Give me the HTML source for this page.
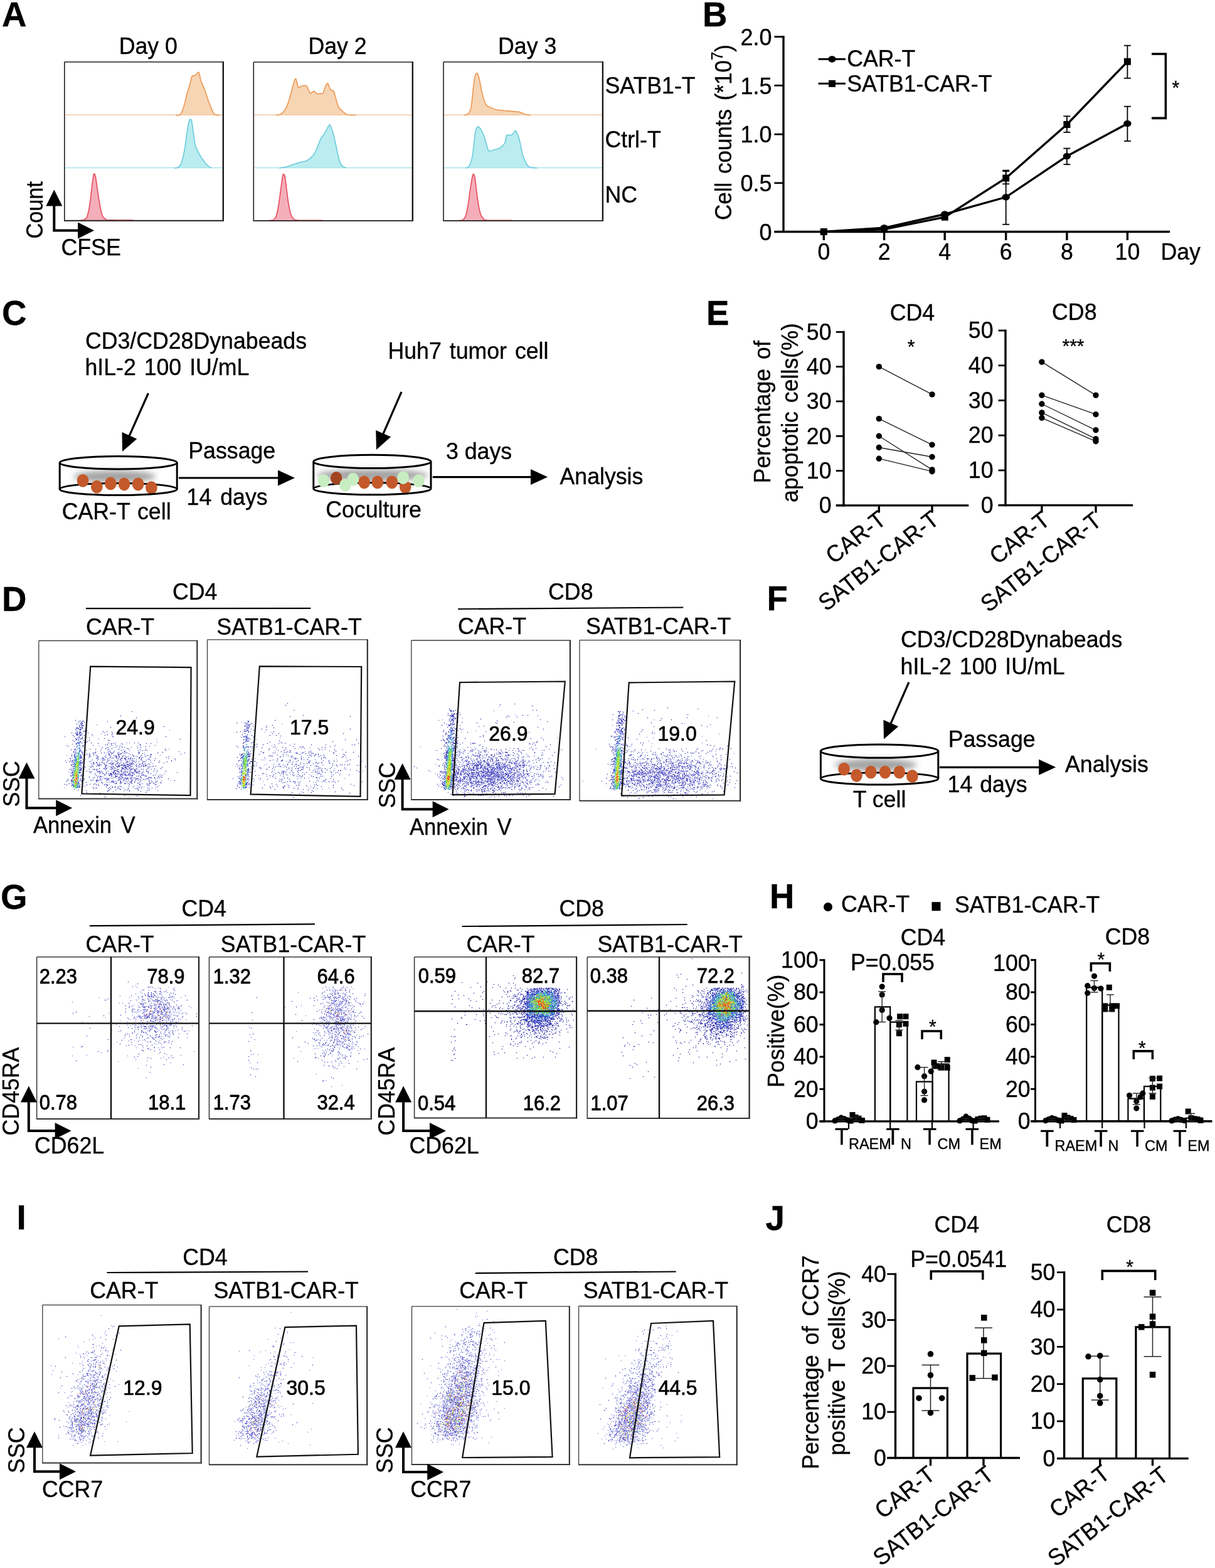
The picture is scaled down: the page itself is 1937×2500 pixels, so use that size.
<!DOCTYPE html>
<html><head><meta charset="utf-8"><title>Figure</title>
<style>
html,body{margin:0;padding:0;background:#fff;}
body{width:1937px;height:2500px;overflow:hidden;}
svg{display:block;}
text{font-family:"Liberation Sans", Arial, sans-serif;stroke:#000;stroke-width:0.35px;}
</style></head>
<body>
<svg width="1937" height="2500" viewBox="0 0 1937 2500">
<defs><filter id="blur6" x="-50%" y="-100%" width="200%" height="300%"><feGaussianBlur stdDeviation="5"/></filter></defs>
<rect width="1937" height="2500" fill="#fff"/>
<text transform="translate(3,42.1) scale(1.03,1.05)" font-weight="700" font-size="53">A</text>
<path d="M280,183.6 L280.0,183.6 L281.0,183.6 L282.4,183.8 L284.1,183.8 L285.7,183.5 L287.2,182.5 L288.5,180.8 L289.7,178.7 L290.8,176.1 L291.9,173.2 L293.0,170.0 L294.1,166.4 L295.1,162.3 L296.1,158.0 L297.0,153.8 L298.0,150.0 L299.0,146.6 L299.9,143.5 L300.9,140.6 L301.8,137.8 L302.6,135.0 L303.4,132.1 L304.1,129.1 L304.7,126.3 L305.4,123.8 L306.0,122.0 L306.6,121.0 L307.2,120.7 L307.8,120.7 L308.4,120.9 L309.0,120.8 L309.6,120.6 L310.1,120.4 L310.7,120.2 L311.3,120.0 L312.0,119.5 L312.8,118.7 L313.7,117.5 L314.7,116.3 L315.6,115.4 L316.3,115.1 L316.9,115.6 L317.4,116.6 L317.7,118.0 L318.1,119.5 L318.5,121.0 L318.9,122.4 L319.2,124.0 L319.5,125.6 L319.8,127.2 L320.3,128.8 L320.9,130.4 L321.6,132.0 L322.3,133.6 L323.1,135.3 L323.9,137.1 L324.7,139.1 L325.5,141.2 L326.3,143.4 L327.2,145.7 L328.0,148.0 L328.8,150.5 L329.7,153.1 L330.5,155.8 L331.4,158.4 L332.2,160.8 L333.0,162.9 L333.7,164.9 L334.5,166.8 L335.2,168.6 L336.0,170.5 L336.9,172.6 L337.8,174.8 L338.7,176.9 L339.6,178.8 L340.4,180.3 L341.1,181.3 L341.8,182.0 L342.4,182.4 L343.1,182.7 L344.0,183.0 L345.1,183.3 L346.5,183.4 L347.9,183.5 L349.1,183.6 L350.0,183.6 L350,183.6 Z" stroke="#000" stroke-width="0" fill="#F6D5B4"/>
<line x1="103.8" y1="183.3" x2="354.8" y2="183.3" stroke="#F3C9A2" stroke-width="1.6"/>
<path d="M280.0,183.6 L280.0,183.6 L281.0,183.6 L282.4,183.8 L284.1,183.8 L285.7,183.5 L287.2,182.5 L288.5,180.8 L289.7,178.7 L290.8,176.1 L291.9,173.2 L293.0,170.0 L294.1,166.4 L295.1,162.3 L296.1,158.0 L297.0,153.8 L298.0,150.0 L299.0,146.6 L299.9,143.5 L300.9,140.6 L301.8,137.8 L302.6,135.0 L303.4,132.1 L304.1,129.1 L304.7,126.3 L305.4,123.8 L306.0,122.0 L306.6,121.0 L307.2,120.7 L307.8,120.7 L308.4,120.9 L309.0,120.8 L309.6,120.6 L310.1,120.4 L310.7,120.2 L311.3,120.0 L312.0,119.5 L312.8,118.7 L313.7,117.5 L314.7,116.3 L315.6,115.4 L316.3,115.1 L316.9,115.6 L317.4,116.6 L317.7,118.0 L318.1,119.5 L318.5,121.0 L318.9,122.4 L319.2,124.0 L319.5,125.6 L319.8,127.2 L320.3,128.8 L320.9,130.4 L321.6,132.0 L322.3,133.6 L323.1,135.3 L323.9,137.1 L324.7,139.1 L325.5,141.2 L326.3,143.4 L327.2,145.7 L328.0,148.0 L328.8,150.5 L329.7,153.1 L330.5,155.8 L331.4,158.4 L332.2,160.8 L333.0,162.9 L333.7,164.9 L334.5,166.8 L335.2,168.6 L336.0,170.5 L336.9,172.6 L337.8,174.8 L338.7,176.9 L339.6,178.8 L340.4,180.3 L341.1,181.3 L341.8,182.0 L342.4,182.4 L343.1,182.7 L344.0,183.0 L345.1,183.3 L346.5,183.4 L347.9,183.5 L349.1,183.6 L350.0,183.6" stroke="#EC9A56" stroke-width="1.7" fill="none" stroke-linejoin="round"/>
<path d="M278,267.8 L278.0,267.8 L278.8,267.8 L279.9,267.8 L281.2,267.7 L282.5,267.4 L283.7,266.8 L284.8,266.0 L285.9,265.1 L286.9,263.9 L288.0,262.3 L289.0,260.0 L290.0,257.0 L291.1,253.3 L292.1,249.2 L293.1,244.7 L294.0,240.0 L294.9,234.7 L295.7,228.8 L296.5,222.8 L297.3,217.0 L298.0,212.0 L298.7,207.7 L299.3,203.8 L299.9,200.4 L300.5,197.4 L301.0,195.0 L301.5,193.2 L301.9,191.9 L302.3,191.1 L302.7,190.6 L303.1,190.3 L303.6,190.1 L304.0,190.2 L304.5,190.5 L305.0,191.4 L305.5,193.0 L306.0,195.4 L306.5,198.6 L307.0,202.3 L307.5,206.2 L308.0,210.0 L308.6,214.0 L309.2,218.4 L309.8,222.7 L310.4,226.7 L311.0,230.0 L311.6,232.4 L312.2,234.1 L312.7,235.4 L313.3,236.6 L314.0,238.0 L314.7,239.6 L315.5,241.2 L316.3,242.7 L317.1,244.3 L318.0,245.9 L318.9,247.5 L319.9,249.2 L320.9,250.8 L321.9,252.4 L323.0,254.0 L324.1,255.5 L325.3,257.1 L326.4,258.6 L327.5,260.0 L328.6,261.2 L329.6,262.3 L330.5,263.2 L331.3,264.1 L332.2,264.8 L333.0,265.5 L333.9,266.1 L334.8,266.7 L335.7,267.1 L336.5,267.5 L337.0,267.8 L337,267.8 Z" stroke="#000" stroke-width="0" fill="#BAECF0"/>
<line x1="103.8" y1="267.5" x2="354.8" y2="267.5" stroke="#A9E3EC" stroke-width="1.6"/>
<path d="M278.0,267.8 L278.0,267.8 L278.8,267.8 L279.9,267.8 L281.2,267.7 L282.5,267.4 L283.7,266.8 L284.8,266.0 L285.9,265.1 L286.9,263.9 L288.0,262.3 L289.0,260.0 L290.0,257.0 L291.1,253.3 L292.1,249.2 L293.1,244.7 L294.0,240.0 L294.9,234.7 L295.7,228.8 L296.5,222.8 L297.3,217.0 L298.0,212.0 L298.7,207.7 L299.3,203.8 L299.9,200.4 L300.5,197.4 L301.0,195.0 L301.5,193.2 L301.9,191.9 L302.3,191.1 L302.7,190.6 L303.1,190.3 L303.6,190.1 L304.0,190.2 L304.5,190.5 L305.0,191.4 L305.5,193.0 L306.0,195.4 L306.5,198.6 L307.0,202.3 L307.5,206.2 L308.0,210.0 L308.6,214.0 L309.2,218.4 L309.8,222.7 L310.4,226.7 L311.0,230.0 L311.6,232.4 L312.2,234.1 L312.7,235.4 L313.3,236.6 L314.0,238.0 L314.7,239.6 L315.5,241.2 L316.3,242.7 L317.1,244.3 L318.0,245.9 L318.9,247.5 L319.9,249.2 L320.9,250.8 L321.9,252.4 L323.0,254.0 L324.1,255.5 L325.3,257.1 L326.4,258.6 L327.5,260.0 L328.6,261.2 L329.6,262.3 L330.5,263.2 L331.3,264.1 L332.2,264.8 L333.0,265.5 L333.9,266.1 L334.8,266.7 L335.7,267.1 L336.5,267.5 L337.0,267.8" stroke="#6FCDDC" stroke-width="1.7" fill="none" stroke-linejoin="round"/>
<path d="M128,351.3 L128.0,351.3 L128.6,351.3 L129.5,351.2 L130.5,351.2 L131.5,351.0 L132.4,350.8 L133.3,350.5 L134.2,350.0 L135.0,349.5 L135.8,349.0 L136.5,348.5 L137.0,348.1 L137.4,347.9 L137.8,347.6 L138.2,347.0 L138.6,346.0 L139.1,344.5 L139.7,342.6 L140.3,340.3 L140.9,337.8 L141.5,335.0 L142.1,331.8 L142.7,328.1 L143.3,324.3 L143.9,320.3 L144.4,316.5 L144.8,312.8 L145.2,309.0 L145.6,305.3 L146.0,301.6 L146.4,298.0 L146.9,294.2 L147.4,290.3 L148.0,286.6 L148.5,283.3 L148.9,280.7 L149.2,279.0 L149.4,277.8 L149.6,277.2 L149.8,277.0 L150.1,277.0 L150.5,277.2 L150.9,277.6 L151.3,278.4 L151.7,279.7 L152.2,281.5 L152.7,284.0 L153.2,287.1 L153.7,290.7 L154.2,294.4 L154.7,298.0 L155.2,301.6 L155.8,305.3 L156.3,309.0 L156.9,312.8 L157.5,316.5 L158.1,320.3 L158.8,324.3 L159.5,328.2 L160.1,331.8 L160.8,335.0 L161.4,337.7 L162.1,340.0 L162.7,342.0 L163.4,343.8 L164.1,345.3 L164.9,346.5 L165.7,347.3 L166.5,348.0 L167.4,348.5 L168.3,349.0 L168.8,349.5 L168.8,349.9 L169.0,350.3 L170.4,350.6 L173.6,350.8 L179.8,350.9 L188.4,351.0 L197.8,351.0 L206.2,351.0 L212.0,351.0 L212,351.3 Z" stroke="#000" stroke-width="0" fill="#F4AEB9"/>
<path d="M128.0,351.3 L128.0,351.3 L128.6,351.3 L129.5,351.2 L130.5,351.2 L131.5,351.0 L132.4,350.8 L133.3,350.5 L134.2,350.0 L135.0,349.5 L135.8,349.0 L136.5,348.5 L137.0,348.1 L137.4,347.9 L137.8,347.6 L138.2,347.0 L138.6,346.0 L139.1,344.5 L139.7,342.6 L140.3,340.3 L140.9,337.8 L141.5,335.0 L142.1,331.8 L142.7,328.1 L143.3,324.3 L143.9,320.3 L144.4,316.5 L144.8,312.8 L145.2,309.0 L145.6,305.3 L146.0,301.6 L146.4,298.0 L146.9,294.2 L147.4,290.3 L148.0,286.6 L148.5,283.3 L148.9,280.7 L149.2,279.0 L149.4,277.8 L149.6,277.2 L149.8,277.0 L150.1,277.0 L150.5,277.2 L150.9,277.6 L151.3,278.4 L151.7,279.7 L152.2,281.5 L152.7,284.0 L153.2,287.1 L153.7,290.7 L154.2,294.4 L154.7,298.0 L155.2,301.6 L155.8,305.3 L156.3,309.0 L156.9,312.8 L157.5,316.5 L158.1,320.3 L158.8,324.3 L159.5,328.2 L160.1,331.8 L160.8,335.0 L161.4,337.7 L162.1,340.0 L162.7,342.0 L163.4,343.8 L164.1,345.3 L164.9,346.5 L165.7,347.3 L166.5,348.0 L167.4,348.5 L168.3,349.0 L168.8,349.5 L168.8,349.9 L169.0,350.3 L170.4,350.6 L173.6,350.8 L179.8,350.9 L188.4,351.0 L197.8,351.0 L206.2,351.0 L212.0,351.0" stroke="#E8505F" stroke-width="1.7" fill="none" stroke-linejoin="round"/>
<path d="M440,183.6 L440.0,183.6 L440.8,183.5 L442.0,183.4 L443.3,183.2 L444.7,183.0 L446.0,182.5 L447.2,181.9 L448.4,181.2 L449.6,180.4 L450.8,179.3 L452.0,178.0 L453.2,176.4 L454.4,174.6 L455.7,172.5 L456.9,170.2 L458.0,167.7 L459.1,164.9 L460.1,161.8 L461.1,158.5 L462.1,155.2 L463.0,152.0 L463.9,148.9 L464.7,145.8 L465.4,142.7 L466.2,139.8 L467.0,137.0 L467.8,134.2 L468.7,131.3 L469.5,128.7 L470.3,126.7 L471.0,125.6 L471.6,125.7 L472.1,126.8 L472.6,128.5 L473.0,130.3 L473.5,132.0 L474.0,133.6 L474.4,135.5 L474.8,137.3 L475.3,138.8 L475.7,139.8 L476.1,140.1 L476.5,139.9 L477.0,139.5 L477.4,138.9 L478.0,138.5 L478.7,138.2 L479.4,137.9 L480.2,137.5 L481.0,137.2 L481.7,137.0 L482.4,136.8 L483.0,136.7 L483.7,136.6 L484.3,136.5 L485.0,136.5 L485.7,136.4 L486.5,136.4 L487.3,136.4 L488.0,136.5 L488.7,137.0 L489.3,137.9 L489.9,139.0 L490.4,140.4 L490.9,141.7 L491.5,143.0 L492.1,144.3 L492.7,145.7 L493.4,147.0 L494.0,148.1 L494.7,148.7 L495.4,148.7 L496.0,148.3 L496.7,147.7 L497.4,147.0 L498.0,146.5 L498.6,146.2 L499.2,145.9 L499.8,145.7 L500.4,145.6 L501.0,145.7 L501.6,146.0 L502.2,146.4 L502.8,147.0 L503.4,147.5 L504.0,148.0 L504.5,148.5 L505.0,149.0 L505.5,149.4 L505.9,149.8 L506.5,150.0 L507.1,150.0 L507.8,149.8 L508.5,149.5 L509.2,149.2 L510.0,149.0 L510.9,149.0 L511.9,149.2 L512.9,149.4 L513.9,149.3 L514.8,148.7 L515.5,147.5 L516.2,145.7 L516.8,143.8 L517.3,141.8 L518.0,140.0 L518.7,138.3 L519.5,136.5 L520.3,134.9 L521.1,133.6 L521.8,132.9 L522.4,133.0 L523.0,133.7 L523.5,134.7 L524.0,135.9 L524.5,137.0 L524.9,138.1 L525.3,139.4 L525.7,140.7 L526.1,141.9 L526.6,142.8 L527.2,143.3 L527.9,143.6 L528.6,143.7 L529.4,143.8 L530.0,144.0 L530.6,144.3 L531.1,144.5 L531.5,144.9 L532.0,145.4 L532.5,146.4 L533.0,147.8 L533.4,149.5 L533.8,151.5 L534.4,153.7 L535.0,156.0 L535.8,158.6 L536.7,161.6 L537.6,164.7 L538.6,167.6 L539.6,170.0 L540.6,171.8 L541.7,173.3 L542.8,174.4 L543.9,175.5 L545.0,176.5 L546.0,177.5 L547.0,178.4 L548.0,179.1 L549.0,179.8 L550.0,180.5 L550.9,181.1 L551.7,181.7 L552.5,182.2 L553.6,182.6 L555.0,183.0 L557.1,183.3 L559.9,183.4 L562.7,183.5 L565.3,183.5 L567.0,183.6 L567,183.6 Z" stroke="#000" stroke-width="0" fill="#F6D5B4"/>
<line x1="405.3" y1="183.3" x2="656.8" y2="183.3" stroke="#F3C9A2" stroke-width="1.6"/>
<path d="M440.0,183.6 L440.0,183.6 L440.8,183.5 L442.0,183.4 L443.3,183.2 L444.7,183.0 L446.0,182.5 L447.2,181.9 L448.4,181.2 L449.6,180.4 L450.8,179.3 L452.0,178.0 L453.2,176.4 L454.4,174.6 L455.7,172.5 L456.9,170.2 L458.0,167.7 L459.1,164.9 L460.1,161.8 L461.1,158.5 L462.1,155.2 L463.0,152.0 L463.9,148.9 L464.7,145.8 L465.4,142.7 L466.2,139.8 L467.0,137.0 L467.8,134.2 L468.7,131.3 L469.5,128.7 L470.3,126.7 L471.0,125.6 L471.6,125.7 L472.1,126.8 L472.6,128.5 L473.0,130.3 L473.5,132.0 L474.0,133.6 L474.4,135.5 L474.8,137.3 L475.3,138.8 L475.7,139.8 L476.1,140.1 L476.5,139.9 L477.0,139.5 L477.4,138.9 L478.0,138.5 L478.7,138.2 L479.4,137.9 L480.2,137.5 L481.0,137.2 L481.7,137.0 L482.4,136.8 L483.0,136.7 L483.7,136.6 L484.3,136.5 L485.0,136.5 L485.7,136.4 L486.5,136.4 L487.3,136.4 L488.0,136.5 L488.7,137.0 L489.3,137.9 L489.9,139.0 L490.4,140.4 L490.9,141.7 L491.5,143.0 L492.1,144.3 L492.7,145.7 L493.4,147.0 L494.0,148.1 L494.7,148.7 L495.4,148.7 L496.0,148.3 L496.7,147.7 L497.4,147.0 L498.0,146.5 L498.6,146.2 L499.2,145.9 L499.8,145.7 L500.4,145.6 L501.0,145.7 L501.6,146.0 L502.2,146.4 L502.8,147.0 L503.4,147.5 L504.0,148.0 L504.5,148.5 L505.0,149.0 L505.5,149.4 L505.9,149.8 L506.5,150.0 L507.1,150.0 L507.8,149.8 L508.5,149.5 L509.2,149.2 L510.0,149.0 L510.9,149.0 L511.9,149.2 L512.9,149.4 L513.9,149.3 L514.8,148.7 L515.5,147.5 L516.2,145.7 L516.8,143.8 L517.3,141.8 L518.0,140.0 L518.7,138.3 L519.5,136.5 L520.3,134.9 L521.1,133.6 L521.8,132.9 L522.4,133.0 L523.0,133.7 L523.5,134.7 L524.0,135.9 L524.5,137.0 L524.9,138.1 L525.3,139.4 L525.7,140.7 L526.1,141.9 L526.6,142.8 L527.2,143.3 L527.9,143.6 L528.6,143.7 L529.4,143.8 L530.0,144.0 L530.6,144.3 L531.1,144.5 L531.5,144.9 L532.0,145.4 L532.5,146.4 L533.0,147.8 L533.4,149.5 L533.8,151.5 L534.4,153.7 L535.0,156.0 L535.8,158.6 L536.7,161.6 L537.6,164.7 L538.6,167.6 L539.6,170.0 L540.6,171.8 L541.7,173.3 L542.8,174.4 L543.9,175.5 L545.0,176.5 L546.0,177.5 L547.0,178.4 L548.0,179.1 L549.0,179.8 L550.0,180.5 L550.9,181.1 L551.7,181.7 L552.5,182.2 L553.6,182.6 L555.0,183.0 L557.1,183.3 L559.9,183.4 L562.7,183.5 L565.3,183.5 L567.0,183.6" stroke="#EC9A56" stroke-width="1.7" fill="none" stroke-linejoin="round"/>
<path d="M445,267.8 L445.0,267.8 L446.4,267.7 L448.3,267.5 L450.5,267.2 L452.8,266.9 L455.0,266.5 L457.0,265.9 L459.0,265.2 L461.0,264.5 L463.0,263.7 L465.0,263.0 L467.0,262.3 L469.0,261.7 L470.9,261.0 L472.8,260.4 L474.6,259.9 L476.2,259.4 L477.8,259.0 L479.2,258.7 L480.6,258.3 L482.0,258.0 L483.4,257.7 L484.7,257.4 L486.1,257.2 L487.4,256.8 L488.7,256.3 L490.0,255.6 L491.3,254.9 L492.5,254.0 L493.8,253.0 L495.0,252.0 L496.2,250.9 L497.3,249.7 L498.5,248.5 L499.6,247.1 L500.6,245.7 L501.5,244.2 L502.4,242.6 L503.3,240.9 L504.1,239.0 L505.0,237.0 L506.0,234.6 L507.1,231.9 L508.1,229.1 L509.1,226.6 L510.0,224.4 L510.7,222.8 L511.3,221.4 L511.9,220.4 L512.4,219.4 L513.0,218.5 L513.6,217.7 L514.2,217.1 L514.7,216.5 L515.3,215.9 L516.0,215.0 L516.8,213.8 L517.6,212.4 L518.4,210.9 L519.2,209.4 L520.0,208.0 L520.7,206.7 L521.3,205.4 L521.9,204.1 L522.5,203.0 L523.0,202.0 L523.5,201.1 L524.0,200.3 L524.5,199.6 L524.9,199.1 L525.4,198.9 L525.8,199.1 L526.2,199.5 L526.6,200.2 L527.1,201.0 L527.5,202.0 L528.0,203.1 L528.4,204.3 L528.9,205.7 L529.5,207.3 L530.0,209.0 L530.6,210.9 L531.2,213.0 L531.8,215.2 L532.4,217.6 L533.0,220.0 L533.6,222.6 L534.2,225.2 L534.8,228.0 L535.4,230.9 L536.0,233.9 L536.7,237.1 L537.4,240.4 L538.1,243.8 L538.8,247.1 L539.5,250.0 L540.2,252.6 L540.9,255.1 L541.6,257.3 L542.4,259.3 L543.1,261.0 L543.8,262.4 L544.6,263.4 L545.3,264.2 L546.1,264.8 L547.0,265.5 L548.0,266.1 L549.2,266.7 L550.3,267.2 L551.3,267.5 L552.0,267.8 L552,267.8 Z" stroke="#000" stroke-width="0" fill="#BAECF0"/>
<line x1="405.3" y1="267.5" x2="656.8" y2="267.5" stroke="#A9E3EC" stroke-width="1.6"/>
<path d="M445.0,267.8 L445.0,267.8 L446.4,267.7 L448.3,267.5 L450.5,267.2 L452.8,266.9 L455.0,266.5 L457.0,265.9 L459.0,265.2 L461.0,264.5 L463.0,263.7 L465.0,263.0 L467.0,262.3 L469.0,261.7 L470.9,261.0 L472.8,260.4 L474.6,259.9 L476.2,259.4 L477.8,259.0 L479.2,258.7 L480.6,258.3 L482.0,258.0 L483.4,257.7 L484.7,257.4 L486.1,257.2 L487.4,256.8 L488.7,256.3 L490.0,255.6 L491.3,254.9 L492.5,254.0 L493.8,253.0 L495.0,252.0 L496.2,250.9 L497.3,249.7 L498.5,248.5 L499.6,247.1 L500.6,245.7 L501.5,244.2 L502.4,242.6 L503.3,240.9 L504.1,239.0 L505.0,237.0 L506.0,234.6 L507.1,231.9 L508.1,229.1 L509.1,226.6 L510.0,224.4 L510.7,222.8 L511.3,221.4 L511.9,220.4 L512.4,219.4 L513.0,218.5 L513.6,217.7 L514.2,217.1 L514.7,216.5 L515.3,215.9 L516.0,215.0 L516.8,213.8 L517.6,212.4 L518.4,210.9 L519.2,209.4 L520.0,208.0 L520.7,206.7 L521.3,205.4 L521.9,204.1 L522.5,203.0 L523.0,202.0 L523.5,201.1 L524.0,200.3 L524.5,199.6 L524.9,199.1 L525.4,198.9 L525.8,199.1 L526.2,199.5 L526.6,200.2 L527.1,201.0 L527.5,202.0 L528.0,203.1 L528.4,204.3 L528.9,205.7 L529.5,207.3 L530.0,209.0 L530.6,210.9 L531.2,213.0 L531.8,215.2 L532.4,217.6 L533.0,220.0 L533.6,222.6 L534.2,225.2 L534.8,228.0 L535.4,230.9 L536.0,233.9 L536.7,237.1 L537.4,240.4 L538.1,243.8 L538.8,247.1 L539.5,250.0 L540.2,252.6 L540.9,255.1 L541.6,257.3 L542.4,259.3 L543.1,261.0 L543.8,262.4 L544.6,263.4 L545.3,264.2 L546.1,264.8 L547.0,265.5 L548.0,266.1 L549.2,266.7 L550.3,267.2 L551.3,267.5 L552.0,267.8" stroke="#6FCDDC" stroke-width="1.7" fill="none" stroke-linejoin="round"/>
<path d="M428,351.5 L428.0,351.5 L428.9,351.5 L430.2,351.4 L431.7,351.4 L433.2,351.2 L434.4,351.0 L435.3,350.7 L436.1,350.3 L436.7,349.9 L437.4,349.3 L438.0,348.5 L438.6,347.6 L439.2,346.7 L439.8,345.5 L440.4,344.0 L441.0,342.0 L441.7,339.4 L442.4,336.2 L443.1,332.7 L443.8,328.9 L444.5,325.0 L445.1,320.9 L445.7,316.5 L446.3,311.9 L446.9,307.4 L447.5,303.0 L448.1,298.6 L448.7,294.2 L449.3,289.9 L449.8,286.0 L450.3,283.0 L450.7,280.8 L451.1,279.3 L451.4,278.3 L451.7,277.8 L452.1,277.6 L452.5,277.8 L453.0,278.3 L453.5,279.3 L454.0,280.8 L454.5,283.0 L455.0,286.0 L455.5,289.9 L456.0,294.2 L456.5,298.6 L457.0,303.0 L457.6,307.4 L458.1,311.9 L458.7,316.5 L459.4,321.0 L460.0,325.0 L460.7,328.7 L461.4,332.3 L462.1,335.6 L462.8,338.5 L463.5,341.0 L464.1,343.0 L464.7,344.4 L465.3,345.6 L466.0,346.5 L467.0,347.5 L467.7,348.4 L468.2,349.3 L469.1,350.0 L471.0,350.6 L474.6,351.0 L481.1,351.3 L490.0,351.4 L499.6,351.4 L508.1,351.3 L514.0,351.3 L514,351.5 Z" stroke="#000" stroke-width="0" fill="#F4AEB9"/>
<path d="M428.0,351.5 L428.0,351.5 L428.9,351.5 L430.2,351.4 L431.7,351.4 L433.2,351.2 L434.4,351.0 L435.3,350.7 L436.1,350.3 L436.7,349.9 L437.4,349.3 L438.0,348.5 L438.6,347.6 L439.2,346.7 L439.8,345.5 L440.4,344.0 L441.0,342.0 L441.7,339.4 L442.4,336.2 L443.1,332.7 L443.8,328.9 L444.5,325.0 L445.1,320.9 L445.7,316.5 L446.3,311.9 L446.9,307.4 L447.5,303.0 L448.1,298.6 L448.7,294.2 L449.3,289.9 L449.8,286.0 L450.3,283.0 L450.7,280.8 L451.1,279.3 L451.4,278.3 L451.7,277.8 L452.1,277.6 L452.5,277.8 L453.0,278.3 L453.5,279.3 L454.0,280.8 L454.5,283.0 L455.0,286.0 L455.5,289.9 L456.0,294.2 L456.5,298.6 L457.0,303.0 L457.6,307.4 L458.1,311.9 L458.7,316.5 L459.4,321.0 L460.0,325.0 L460.7,328.7 L461.4,332.3 L462.1,335.6 L462.8,338.5 L463.5,341.0 L464.1,343.0 L464.7,344.4 L465.3,345.6 L466.0,346.5 L467.0,347.5 L467.7,348.4 L468.2,349.3 L469.1,350.0 L471.0,350.6 L474.6,351.0 L481.1,351.3 L490.0,351.4 L499.6,351.4 L508.1,351.3 L514.0,351.3" stroke="#E8505F" stroke-width="1.7" fill="none" stroke-linejoin="round"/>
<path d="M740,183.6 L740.0,183.6 L740.5,183.5 L741.3,183.4 L742.1,183.3 L743.0,183.1 L743.8,182.8 L744.6,182.4 L745.3,182.1 L746.0,181.6 L746.8,180.9 L747.5,180.0 L748.2,178.9 L748.9,177.8 L749.6,176.4 L750.3,174.6 L750.9,172.4 L751.4,169.7 L751.8,166.5 L752.2,163.0 L752.6,159.1 L753.0,155.0 L753.5,150.2 L754.1,144.8 L754.6,139.2 L755.2,134.0 L755.7,129.8 L756.2,126.7 L756.7,124.2 L757.1,122.4 L757.6,120.8 L758.0,119.5 L758.4,118.4 L758.8,117.6 L759.1,117.2 L759.5,116.9 L759.9,116.8 L760.3,116.9 L760.7,117.1 L761.2,117.6 L761.6,118.2 L762.0,119.0 L762.4,119.9 L762.8,121.0 L763.1,122.2 L763.5,123.6 L763.9,125.1 L764.3,126.8 L764.7,128.6 L765.1,130.6 L765.5,132.7 L766.0,135.0 L766.5,137.5 L767.0,140.3 L767.5,143.2 L768.1,146.1 L768.7,148.7 L769.3,151.2 L770.0,153.6 L770.6,155.9 L771.3,158.0 L772.0,160.0 L772.7,161.8 L773.3,163.5 L774.0,165.1 L774.8,166.5 L775.7,167.7 L776.7,168.7 L777.9,169.5 L779.2,170.2 L780.5,170.8 L782.0,171.5 L783.6,172.2 L785.4,173.0 L787.3,173.7 L789.2,174.3 L791.1,174.8 L792.8,175.2 L794.5,175.4 L796.2,175.6 L798.0,175.8 L800.0,176.0 L802.3,176.2 L804.9,176.5 L807.6,176.7 L810.2,176.9 L812.4,177.1 L814.2,177.3 L815.8,177.4 L817.3,177.6 L818.6,177.7 L820.0,177.8 L821.4,177.9 L822.8,178.0 L824.1,178.0 L825.4,178.1 L826.6,178.3 L827.8,178.6 L828.9,178.9 L830.0,179.3 L831.0,179.6 L832.0,180.0 L832.9,180.4 L833.7,180.8 L834.5,181.1 L835.2,181.5 L836.0,181.8 L836.8,182.1 L837.5,182.3 L838.3,182.5 L839.1,182.6 L840.0,182.8 L841.1,183.0 L842.4,183.2 L843.6,183.3 L844.7,183.5 L845.5,183.6 L845.5,183.6 Z" stroke="#000" stroke-width="0" fill="#F6D5B4"/>
<line x1="708" y1="183.3" x2="959.9" y2="183.3" stroke="#F3C9A2" stroke-width="1.6"/>
<path d="M740.0,183.6 L740.0,183.6 L740.5,183.5 L741.3,183.4 L742.1,183.3 L743.0,183.1 L743.8,182.8 L744.6,182.4 L745.3,182.1 L746.0,181.6 L746.8,180.9 L747.5,180.0 L748.2,178.9 L748.9,177.8 L749.6,176.4 L750.3,174.6 L750.9,172.4 L751.4,169.7 L751.8,166.5 L752.2,163.0 L752.6,159.1 L753.0,155.0 L753.5,150.2 L754.1,144.8 L754.6,139.2 L755.2,134.0 L755.7,129.8 L756.2,126.7 L756.7,124.2 L757.1,122.4 L757.6,120.8 L758.0,119.5 L758.4,118.4 L758.8,117.6 L759.1,117.2 L759.5,116.9 L759.9,116.8 L760.3,116.9 L760.7,117.1 L761.2,117.6 L761.6,118.2 L762.0,119.0 L762.4,119.9 L762.8,121.0 L763.1,122.2 L763.5,123.6 L763.9,125.1 L764.3,126.8 L764.7,128.6 L765.1,130.6 L765.5,132.7 L766.0,135.0 L766.5,137.5 L767.0,140.3 L767.5,143.2 L768.1,146.1 L768.7,148.7 L769.3,151.2 L770.0,153.6 L770.6,155.9 L771.3,158.0 L772.0,160.0 L772.7,161.8 L773.3,163.5 L774.0,165.1 L774.8,166.5 L775.7,167.7 L776.7,168.7 L777.9,169.5 L779.2,170.2 L780.5,170.8 L782.0,171.5 L783.6,172.2 L785.4,173.0 L787.3,173.7 L789.2,174.3 L791.1,174.8 L792.8,175.2 L794.5,175.4 L796.2,175.6 L798.0,175.8 L800.0,176.0 L802.3,176.2 L804.9,176.5 L807.6,176.7 L810.2,176.9 L812.4,177.1 L814.2,177.3 L815.8,177.4 L817.3,177.6 L818.6,177.7 L820.0,177.8 L821.4,177.9 L822.8,178.0 L824.1,178.0 L825.4,178.1 L826.6,178.3 L827.8,178.6 L828.9,178.9 L830.0,179.3 L831.0,179.6 L832.0,180.0 L832.9,180.4 L833.7,180.8 L834.5,181.1 L835.2,181.5 L836.0,181.8 L836.8,182.1 L837.5,182.3 L838.3,182.5 L839.1,182.6 L840.0,182.8 L841.1,183.0 L842.4,183.2 L843.6,183.3 L844.7,183.5 L845.5,183.6" stroke="#EC9A56" stroke-width="1.7" fill="none" stroke-linejoin="round"/>
<path d="M742,267.8 L742.0,267.8 L742.6,267.7 L743.4,267.6 L744.3,267.5 L745.3,267.1 L746.2,266.5 L747.0,265.6 L747.8,264.5 L748.5,263.2 L749.3,261.7 L750.0,260.0 L750.7,258.0 L751.4,255.9 L752.1,253.5 L752.7,250.9 L753.3,248.0 L753.8,244.8 L754.2,241.3 L754.7,237.6 L755.1,233.8 L755.5,230.0 L756.0,225.9 L756.5,221.6 L757.0,217.2 L757.5,213.3 L758.0,210.2 L758.4,208.0 L758.8,206.5 L759.2,205.5 L759.6,204.8 L760.0,204.0 L760.4,203.3 L760.9,202.7 L761.3,202.3 L761.8,202.1 L762.3,202.0 L762.8,202.1 L763.3,202.3 L763.8,202.7 L764.4,203.3 L765.0,204.0 L765.7,205.0 L766.5,206.1 L767.2,207.5 L768.0,208.9 L768.7,210.2 L769.3,211.5 L769.9,212.7 L770.4,214.0 L770.9,215.4 L771.5,217.0 L772.1,218.8 L772.8,220.8 L773.4,222.9 L774.0,224.9 L774.6,226.8 L775.1,228.6 L775.6,230.3 L776.1,232.0 L776.5,233.6 L777.0,235.0 L777.4,236.4 L777.8,237.7 L778.2,238.9 L778.7,239.8 L779.3,240.5 L780.1,240.8 L781.0,240.8 L782.0,240.6 L783.0,240.3 L784.0,240.0 L784.9,239.8 L785.9,239.5 L786.8,239.2 L787.8,238.9 L788.7,238.6 L789.6,238.4 L790.4,238.2 L791.2,238.0 L792.1,237.8 L793.0,237.5 L794.0,237.1 L795.1,236.6 L796.2,236.1 L797.2,235.6 L798.2,235.0 L799.1,234.4 L799.8,233.7 L800.6,233.0 L801.3,232.3 L802.0,231.5 L802.7,230.7 L803.4,230.0 L804.1,229.2 L804.7,228.1 L805.3,226.8 L805.8,224.9 L806.2,222.5 L806.6,219.9 L807.1,217.7 L807.7,216.1 L808.4,215.3 L809.3,215.1 L810.2,215.2 L811.1,215.5 L812.0,215.5 L812.8,215.4 L813.6,215.4 L814.4,215.4 L815.2,215.3 L815.9,215.0 L816.6,214.5 L817.2,213.8 L817.8,213.0 L818.4,212.2 L819.0,211.5 L819.6,210.7 L820.1,209.8 L820.7,209.0 L821.3,208.4 L821.8,208.3 L822.3,208.7 L822.9,209.4 L823.4,210.4 L823.9,211.7 L824.5,213.0 L825.1,214.5 L825.8,216.1 L826.5,218.0 L827.2,219.9 L827.8,222.0 L828.4,224.2 L828.9,226.5 L829.4,228.9 L829.9,231.4 L830.5,234.0 L831.1,236.7 L831.7,239.6 L832.3,242.6 L833.0,245.4 L833.7,248.0 L834.5,250.4 L835.3,252.6 L836.2,254.7 L837.1,256.7 L838.0,258.5 L838.9,260.3 L839.9,261.9 L840.9,263.4 L842.0,264.8 L843.1,265.8 L844.4,266.5 L845.8,266.9 L847.2,267.1 L848.6,267.2 L850.0,267.4 L851.4,267.6 L852.8,267.7 L854.1,267.7 L855.3,267.8 L856.1,267.8 L856.1,267.8 Z" stroke="#000" stroke-width="0" fill="#BAECF0"/>
<line x1="708" y1="267.5" x2="959.9" y2="267.5" stroke="#A9E3EC" stroke-width="1.6"/>
<path d="M742.0,267.8 L742.0,267.8 L742.6,267.7 L743.4,267.6 L744.3,267.5 L745.3,267.1 L746.2,266.5 L747.0,265.6 L747.8,264.5 L748.5,263.2 L749.3,261.7 L750.0,260.0 L750.7,258.0 L751.4,255.9 L752.1,253.5 L752.7,250.9 L753.3,248.0 L753.8,244.8 L754.2,241.3 L754.7,237.6 L755.1,233.8 L755.5,230.0 L756.0,225.9 L756.5,221.6 L757.0,217.2 L757.5,213.3 L758.0,210.2 L758.4,208.0 L758.8,206.5 L759.2,205.5 L759.6,204.8 L760.0,204.0 L760.4,203.3 L760.9,202.7 L761.3,202.3 L761.8,202.1 L762.3,202.0 L762.8,202.1 L763.3,202.3 L763.8,202.7 L764.4,203.3 L765.0,204.0 L765.7,205.0 L766.5,206.1 L767.2,207.5 L768.0,208.9 L768.7,210.2 L769.3,211.5 L769.9,212.7 L770.4,214.0 L770.9,215.4 L771.5,217.0 L772.1,218.8 L772.8,220.8 L773.4,222.9 L774.0,224.9 L774.6,226.8 L775.1,228.6 L775.6,230.3 L776.1,232.0 L776.5,233.6 L777.0,235.0 L777.4,236.4 L777.8,237.7 L778.2,238.9 L778.7,239.8 L779.3,240.5 L780.1,240.8 L781.0,240.8 L782.0,240.6 L783.0,240.3 L784.0,240.0 L784.9,239.8 L785.9,239.5 L786.8,239.2 L787.8,238.9 L788.7,238.6 L789.6,238.4 L790.4,238.2 L791.2,238.0 L792.1,237.8 L793.0,237.5 L794.0,237.1 L795.1,236.6 L796.2,236.1 L797.2,235.6 L798.2,235.0 L799.1,234.4 L799.8,233.7 L800.6,233.0 L801.3,232.3 L802.0,231.5 L802.7,230.7 L803.4,230.0 L804.1,229.2 L804.7,228.1 L805.3,226.8 L805.8,224.9 L806.2,222.5 L806.6,219.9 L807.1,217.7 L807.7,216.1 L808.4,215.3 L809.3,215.1 L810.2,215.2 L811.1,215.5 L812.0,215.5 L812.8,215.4 L813.6,215.4 L814.4,215.4 L815.2,215.3 L815.9,215.0 L816.6,214.5 L817.2,213.8 L817.8,213.0 L818.4,212.2 L819.0,211.5 L819.6,210.7 L820.1,209.8 L820.7,209.0 L821.3,208.4 L821.8,208.3 L822.3,208.7 L822.9,209.4 L823.4,210.4 L823.9,211.7 L824.5,213.0 L825.1,214.5 L825.8,216.1 L826.5,218.0 L827.2,219.9 L827.8,222.0 L828.4,224.2 L828.9,226.5 L829.4,228.9 L829.9,231.4 L830.5,234.0 L831.1,236.7 L831.7,239.6 L832.3,242.6 L833.0,245.4 L833.7,248.0 L834.5,250.4 L835.3,252.6 L836.2,254.7 L837.1,256.7 L838.0,258.5 L838.9,260.3 L839.9,261.9 L840.9,263.4 L842.0,264.8 L843.1,265.8 L844.4,266.5 L845.8,266.9 L847.2,267.1 L848.6,267.2 L850.0,267.4 L851.4,267.6 L852.8,267.7 L854.1,267.7 L855.3,267.8 L856.1,267.8" stroke="#6FCDDC" stroke-width="1.7" fill="none" stroke-linejoin="round"/>
<path d="M732,351.5 L732.0,351.5 L732.7,351.5 L733.6,351.4 L734.7,351.4 L735.8,351.2 L736.7,351.0 L737.5,350.7 L738.1,350.3 L738.8,349.9 L739.4,349.3 L740.0,348.5 L740.6,347.6 L741.2,346.7 L741.8,345.5 L742.4,344.0 L743.0,342.0 L743.7,339.4 L744.4,336.2 L745.1,332.7 L745.8,328.9 L746.5,325.0 L747.1,320.9 L747.7,316.5 L748.3,311.9 L748.9,307.4 L749.5,303.0 L750.2,298.6 L750.9,294.2 L751.6,289.9 L752.2,286.0 L752.8,283.0 L753.3,280.8 L753.6,279.3 L754.0,278.3 L754.3,277.8 L754.7,277.6 L755.1,277.8 L755.6,278.3 L756.0,279.3 L756.5,280.8 L757.0,283.0 L757.5,286.0 L758.0,289.9 L758.5,294.2 L759.0,298.6 L759.5,303.0 L760.1,307.4 L760.6,311.9 L761.2,316.5 L761.9,321.0 L762.5,325.0 L763.2,328.7 L763.8,332.3 L764.5,335.6 L765.3,338.5 L766.0,341.0 L766.7,343.0 L767.4,344.4 L768.2,345.6 L769.0,346.5 L770.0,347.5 L770.7,348.4 L771.0,349.3 L771.7,350.0 L773.4,350.6 L777.0,351.0 L783.5,351.3 L792.5,351.4 L802.3,351.4 L811.0,351.3 L817.0,351.3 L817,351.5 Z" stroke="#000" stroke-width="0" fill="#F4AEB9"/>
<path d="M732.0,351.5 L732.0,351.5 L732.7,351.5 L733.6,351.4 L734.7,351.4 L735.8,351.2 L736.7,351.0 L737.5,350.7 L738.1,350.3 L738.8,349.9 L739.4,349.3 L740.0,348.5 L740.6,347.6 L741.2,346.7 L741.8,345.5 L742.4,344.0 L743.0,342.0 L743.7,339.4 L744.4,336.2 L745.1,332.7 L745.8,328.9 L746.5,325.0 L747.1,320.9 L747.7,316.5 L748.3,311.9 L748.9,307.4 L749.5,303.0 L750.2,298.6 L750.9,294.2 L751.6,289.9 L752.2,286.0 L752.8,283.0 L753.3,280.8 L753.6,279.3 L754.0,278.3 L754.3,277.8 L754.7,277.6 L755.1,277.8 L755.6,278.3 L756.0,279.3 L756.5,280.8 L757.0,283.0 L757.5,286.0 L758.0,289.9 L758.5,294.2 L759.0,298.6 L759.5,303.0 L760.1,307.4 L760.6,311.9 L761.2,316.5 L761.9,321.0 L762.5,325.0 L763.2,328.7 L763.8,332.3 L764.5,335.6 L765.3,338.5 L766.0,341.0 L766.7,343.0 L767.4,344.4 L768.2,345.6 L769.0,346.5 L770.0,347.5 L770.7,348.4 L771.0,349.3 L771.7,350.0 L773.4,350.6 L777.0,351.0 L783.5,351.3 L792.5,351.4 L802.3,351.4 L811.0,351.3 L817.0,351.3" stroke="#E8505F" stroke-width="1.7" fill="none" stroke-linejoin="round"/>
<line x1="102.8" y1="98.8" x2="355.8" y2="98.8" stroke="#231f20" stroke-width="1.6"/>
<line x1="102.8" y1="98.8" x2="102.8" y2="351.8" stroke="#231f20" stroke-width="1.6"/>
<line x1="355.8" y1="98" x2="355.8" y2="352.8" stroke="#1a1718" stroke-width="2.4"/>
<line x1="102" y1="351.8" x2="356.8" y2="351.8" stroke="#3a3334" stroke-width="2.2"/>
<text transform="translate(236.3,86.3) scale(1.0,1.05)" text-anchor="middle" font-size="35.7">Day 0</text>
<line x1="404.3" y1="99" x2="657.8" y2="99" stroke="#231f20" stroke-width="1.6"/>
<line x1="404.3" y1="99" x2="404.3" y2="352" stroke="#231f20" stroke-width="1.6"/>
<line x1="657.8" y1="98.2" x2="657.8" y2="353" stroke="#1a1718" stroke-width="2.4"/>
<line x1="403.5" y1="352" x2="658.8" y2="352" stroke="#3a3334" stroke-width="2.2"/>
<text transform="translate(538,86.3) scale(1.0,1.05)" text-anchor="middle" font-size="35.7">Day 2</text>
<line x1="707" y1="98.7" x2="960.9" y2="98.7" stroke="#231f20" stroke-width="1.6"/>
<line x1="707" y1="98.7" x2="707" y2="352" stroke="#231f20" stroke-width="1.6"/>
<line x1="960.9" y1="97.9" x2="960.9" y2="353" stroke="#1a1718" stroke-width="2.4"/>
<line x1="706.2" y1="352" x2="961.9" y2="352" stroke="#3a3334" stroke-width="2.2"/>
<text transform="translate(840.7,86.3) scale(1.0,1.05)" text-anchor="middle" font-size="35.7">Day 3</text>
<text transform="translate(964.5,148.7) scale(1.0,1.05)" font-size="35.7">SATB1-T</text>
<text transform="translate(964.5,235.3) scale(1.0,1.05)" font-size="35.7">Ctrl-T</text>
<text transform="translate(964.5,322.5) scale(1.0,1.05)" font-size="35.7">NC</text>
<path d="M86.3,327.6 L86.3,367.6 L125.1,367.6" stroke="#000" stroke-width="4" fill="none"/>
<path d="M73.3,328.6 L99.3,328.6 L86.3,302.6 Z" stroke="#000" stroke-width="0" fill="#000"/>
<path d="M124.1,354.6 L124.1,380.6 L150.1,367.6 Z" stroke="#000" stroke-width="0" fill="#000"/>
<text transform="translate(67.5,380.6) rotate(-90) scale(0.96,1.05)" font-size="35.7">Count</text>
<text transform="translate(97.5,406.6) scale(1.0,1.05)" font-size="35.7">CFSE</text>
<text transform="translate(1120,41.8) scale(1.03,1.05)" font-weight="700" font-size="53">B</text>
<line x1="1249" y1="57.1" x2="1249" y2="371" stroke="#000" stroke-width="3.4"/>
<line x1="1234.4" y1="369.5" x2="1865" y2="369.5" stroke="#000" stroke-width="3.4"/>
<line x1="1234.4" y1="58.6" x2="1249" y2="58.6" stroke="#000" stroke-width="2.8"/>
<text transform="translate(1230.5,71.8) scale(1.0,1.05)" text-anchor="end" font-size="36">2.0</text>
<line x1="1234.4" y1="136.3" x2="1249" y2="136.3" stroke="#000" stroke-width="2.8"/>
<text transform="translate(1230.5,149.5) scale(1.0,1.05)" text-anchor="end" font-size="36">1.5</text>
<line x1="1234.4" y1="214.1" x2="1249" y2="214.1" stroke="#000" stroke-width="2.8"/>
<text transform="translate(1230.5,227.2) scale(1.0,1.05)" text-anchor="end" font-size="36">1.0</text>
<line x1="1234.4" y1="291.8" x2="1249" y2="291.8" stroke="#000" stroke-width="2.8"/>
<text transform="translate(1230.5,305) scale(1.0,1.05)" text-anchor="end" font-size="36">0.5</text>
<line x1="1234.4" y1="369.5" x2="1249" y2="369.5" stroke="#000" stroke-width="2.8"/>
<text transform="translate(1230.5,382.7) scale(1.0,1.05)" text-anchor="end" font-size="36">0</text>
<line x1="1313.3" y1="369.5" x2="1313.3" y2="383" stroke="#000" stroke-width="3.4"/>
<text transform="translate(1313.3,413.5) scale(1.0,1.05)" text-anchor="middle" font-size="35.7">0</text>
<line x1="1409.6" y1="369.5" x2="1409.6" y2="383" stroke="#000" stroke-width="3.4"/>
<text transform="translate(1409.6,413.5) scale(1.0,1.05)" text-anchor="middle" font-size="35.7">2</text>
<line x1="1506.2" y1="369.5" x2="1506.2" y2="383" stroke="#000" stroke-width="3.4"/>
<text transform="translate(1506.2,413.5) scale(1.0,1.05)" text-anchor="middle" font-size="35.7">4</text>
<line x1="1603.7" y1="369.5" x2="1603.7" y2="383" stroke="#000" stroke-width="3.4"/>
<text transform="translate(1603.7,413.5) scale(1.0,1.05)" text-anchor="middle" font-size="35.7">6</text>
<line x1="1700.9" y1="369.5" x2="1700.9" y2="383" stroke="#000" stroke-width="3.4"/>
<text transform="translate(1700.9,413.5) scale(1.0,1.05)" text-anchor="middle" font-size="35.7">8</text>
<line x1="1797.4" y1="369.5" x2="1797.4" y2="383" stroke="#000" stroke-width="3.4"/>
<text transform="translate(1797.4,413.5) scale(1.0,1.05)" text-anchor="middle" font-size="35.7">10</text>
<text transform="translate(1850.5,413.5) scale(1.0,1.05)" font-size="35.7">Day</text>
<line x1="1603.7" y1="271.6" x2="1603.7" y2="293.3" stroke="#000" stroke-width="1.8"/>
<line x1="1598.2" y1="271.6" x2="1609.2" y2="271.6" stroke="#000" stroke-width="1.8"/>
<line x1="1598.2" y1="293.3" x2="1609.2" y2="293.3" stroke="#000" stroke-width="1.8"/>
<line x1="1700.9" y1="185.3" x2="1700.9" y2="210.9" stroke="#000" stroke-width="1.8"/>
<line x1="1695.4" y1="185.3" x2="1706.4" y2="185.3" stroke="#000" stroke-width="1.8"/>
<line x1="1695.4" y1="210.9" x2="1706.4" y2="210.9" stroke="#000" stroke-width="1.8"/>
<line x1="1797.4" y1="72.6" x2="1797.4" y2="124.7" stroke="#000" stroke-width="1.8"/>
<line x1="1791.9" y1="72.6" x2="1802.9" y2="72.6" stroke="#000" stroke-width="1.8"/>
<line x1="1791.9" y1="124.7" x2="1802.9" y2="124.7" stroke="#000" stroke-width="1.8"/>
<line x1="1603.7" y1="273.1" x2="1603.7" y2="357.8" stroke="#000" stroke-width="1.8"/>
<line x1="1598.2" y1="273.1" x2="1609.2" y2="273.1" stroke="#000" stroke-width="1.8"/>
<line x1="1598.2" y1="357.8" x2="1609.2" y2="357.8" stroke="#000" stroke-width="1.8"/>
<line x1="1700.9" y1="236.6" x2="1700.9" y2="262.2" stroke="#000" stroke-width="1.8"/>
<line x1="1695.4" y1="236.6" x2="1706.4" y2="236.6" stroke="#000" stroke-width="1.8"/>
<line x1="1695.4" y1="262.2" x2="1706.4" y2="262.2" stroke="#000" stroke-width="1.8"/>
<line x1="1797.4" y1="169.7" x2="1797.4" y2="224.9" stroke="#000" stroke-width="1.8"/>
<line x1="1791.9" y1="169.7" x2="1802.9" y2="169.7" stroke="#000" stroke-width="1.8"/>
<line x1="1791.9" y1="224.9" x2="1802.9" y2="224.9" stroke="#000" stroke-width="1.8"/>
<polyline points="1313.3,369.5 1409.6,363.3 1506.2,341.5 1603.7,314.3 1700.9,249.0 1797.4,197.0" fill="none" stroke="#000" stroke-width="3.4"/>
<polyline points="1313.3,369.5 1409.6,365.6 1506.2,346.2 1603.7,284.0 1700.9,198.5 1797.4,98.2" fill="none" stroke="#000" stroke-width="3.4"/>
<ellipse cx="1313.3" cy="369.5" rx="6.2" ry="5.2" fill="#000" stroke="none" stroke-width="0"/>
<ellipse cx="1409.6" cy="363.3" rx="6.2" ry="5.2" fill="#000" stroke="none" stroke-width="0"/>
<ellipse cx="1506.2" cy="341.5" rx="6.2" ry="5.2" fill="#000" stroke="none" stroke-width="0"/>
<ellipse cx="1603.7" cy="314.3" rx="6.2" ry="5.2" fill="#000" stroke="none" stroke-width="0"/>
<ellipse cx="1700.9" cy="249" rx="6.2" ry="5.2" fill="#000" stroke="none" stroke-width="0"/>
<ellipse cx="1797.4" cy="197" rx="6.2" ry="5.2" fill="#000" stroke="none" stroke-width="0"/>
<rect x="1307.8" y="364" width="11" height="11" fill="#000"/>
<rect x="1404.1" y="360.1" width="11" height="11" fill="#000"/>
<rect x="1500.7" y="340.7" width="11" height="11" fill="#000"/>
<rect x="1598.2" y="278.5" width="11" height="11" fill="#000"/>
<rect x="1695.4" y="193" width="11" height="11" fill="#000"/>
<rect x="1791.9" y="92.7" width="11" height="11" fill="#000"/>
<line x1="1304.6" y1="94.3" x2="1348" y2="94.3" stroke="#000" stroke-width="3"/>
<ellipse cx="1326.5" cy="94.3" rx="6.2" ry="5.2" fill="#000" stroke="none" stroke-width="0"/>
<text transform="translate(1350.2,105.5) scale(1.0,1.05)" font-size="35.7">CAR-T</text>
<line x1="1304.6" y1="133.3" x2="1348" y2="133.3" stroke="#000" stroke-width="3"/>
<rect x="1321" y="127.8" width="11" height="11" fill="#000"/>
<text transform="translate(1350.2,146.4) scale(1.0,1.05)" font-size="35.7">SATB1-CAR-T</text>
<path d="M1836,86 L1858.4,86 L1858.4,188.4 L1836,188.4" stroke="#000" stroke-width="3.6" fill="none"/>
<text transform="translate(1868.5,150.5) scale(1.0,1.05)" font-size="30">*</text>
<g transform="translate(1165.5,351) rotate(-90) scale(1,1.04)"><text font-size="35" word-spacing="4">Cell counts (*10<tspan font-size="24" dy="-13">7</tspan><tspan dy="13">)</tspan></text></g>
<text transform="translate(3,518.3) scale(1.03,1.05)" font-weight="700" font-size="53">C</text>
<text transform="translate(135.9,556.1) scale(1.0,1.05)" font-size="35.7">CD3/CD28Dynabeads</text>
<text transform="translate(135.4,598.2) scale(1.0,1.05)" font-size="35.7" word-spacing="3">hIL-2 100 IU/mL</text>
<line x1="236.4" y1="627" x2="205.6" y2="696.2" stroke="#000" stroke-width="3.2"/>
<path d="M194.5,689.1 L218.3,699.7 L195,720 Z" stroke="#000" stroke-width="0" fill="#000"/>
<ellipse cx="182.7" cy="759.7" rx="65.5" ry="9.5" fill="#8e8e8e" filter="url(#blur6)" opacity="0.82"/>
<path d="M95.2,779.9 A93.5,9.6 0 0 1 282.2,779.9" stroke="#000" stroke-width="2.8" fill="none"/>
<ellipse cx="132.1" cy="766.4" rx="9.3" ry="10.4" fill="#C4592B" stroke="none" stroke-width="0"/>
<ellipse cx="154.3" cy="776.2" rx="9.3" ry="10.4" fill="#C4592B" stroke="none" stroke-width="0"/>
<ellipse cx="176.4" cy="770.9" rx="9.3" ry="10.4" fill="#C4592B" stroke="none" stroke-width="0"/>
<ellipse cx="198" cy="771.8" rx="9.3" ry="10.4" fill="#C4592B" stroke="none" stroke-width="0"/>
<ellipse cx="220.2" cy="771.8" rx="9.3" ry="10.4" fill="#C4592B" stroke="none" stroke-width="0"/>
<ellipse cx="241.4" cy="777.7" rx="9.3" ry="10.4" fill="#C4592B" stroke="none" stroke-width="0"/>
<path d="M95.2,779.9 A93.5,9.6 0 0 0 282.2,779.9" stroke="#000" stroke-width="3" fill="none"/>
<line x1="95.2" y1="737.7" x2="95.2" y2="779.9" stroke="#000" stroke-width="3"/>
<line x1="282.2" y1="737.7" x2="282.2" y2="779.9" stroke="#000" stroke-width="3"/>
<ellipse cx="188.7" cy="737.7" rx="93.5" ry="10.3" fill="none" stroke="#000" stroke-width="3"/>
<text transform="translate(98.7,828) scale(1.0,1.05)" font-size="35.7" word-spacing="2">CAR-T cell</text>
<line x1="285" y1="762" x2="445" y2="762" stroke="#000" stroke-width="3.2"/>
<path d="M443,749.5 L443,774.5 L470,762 Z" stroke="#000" stroke-width="0" fill="#000"/>
<text transform="translate(300.3,731) scale(1.0,1.05)" font-size="35.7">Passage</text>
<text transform="translate(297.6,805) scale(1.0,1.05)" font-size="35.7" word-spacing="4">14 days</text>
<text transform="translate(618.5,572) scale(1.0,1.05)" font-size="35.7" word-spacing="3">Huh7 tumor cell</text>
<line x1="640" y1="624.8" x2="610.3" y2="693.1" stroke="#000" stroke-width="3.2"/>
<path d="M599.2,686.1 L623.1,696.5 L600,717 Z" stroke="#000" stroke-width="0" fill="#000"/>
<ellipse cx="593.4" cy="757.9" rx="88.9" ry="9.5" fill="#8e8e8e" filter="url(#blur6)" opacity="0.82"/>
<path d="M499.8,779.2 A93.6,9.6 0 0 1 687,779.2" stroke="#000" stroke-width="2.8" fill="none"/>
<ellipse cx="516" cy="766.7" rx="9.3" ry="10.4" fill="#C9EDC2" stroke="none" stroke-width="0"/>
<ellipse cx="536.2" cy="762.4" rx="9.3" ry="10.4" fill="#A24522" stroke="none" stroke-width="0"/>
<ellipse cx="580.6" cy="768.8" rx="9.3" ry="10.4" fill="#C4592B" stroke="none" stroke-width="0"/>
<ellipse cx="601.8" cy="768.8" rx="9.3" ry="10.4" fill="#C4592B" stroke="none" stroke-width="0"/>
<ellipse cx="624.9" cy="768.8" rx="9.3" ry="10.4" fill="#C4592B" stroke="none" stroke-width="0"/>
<ellipse cx="550.4" cy="773.7" rx="9.3" ry="10.4" fill="#C9EDC2" stroke="none" stroke-width="0"/>
<ellipse cx="562.8" cy="764.2" rx="9.3" ry="10.4" fill="#C9EDC2" stroke="none" stroke-width="0"/>
<ellipse cx="646.2" cy="776.6" rx="9.3" ry="10.4" fill="#C4592B" stroke="none" stroke-width="0"/>
<ellipse cx="642.6" cy="761.7" rx="9.3" ry="10.4" fill="#C9EDC2" stroke="none" stroke-width="0"/>
<ellipse cx="667.4" cy="766.7" rx="9.3" ry="10.4" fill="#C9EDC2" stroke="none" stroke-width="0"/>
<path d="M499.8,779.2 A93.6,9.6 0 0 0 687,779.2" stroke="#000" stroke-width="3" fill="none"/>
<line x1="499.8" y1="735.9" x2="499.8" y2="779.2" stroke="#000" stroke-width="3"/>
<line x1="687" y1="735.9" x2="687" y2="779.2" stroke="#000" stroke-width="3"/>
<ellipse cx="593.4" cy="735.9" rx="93.6" ry="10.6" fill="none" stroke="#000" stroke-width="3"/>
<text transform="translate(519.2,824.5) scale(1.0,1.05)" font-size="35.7">Coculture</text>
<line x1="689.8" y1="760.6" x2="848" y2="760.6" stroke="#000" stroke-width="3.2"/>
<path d="M846,748.1 L846,773.1 L873,760.6 Z" stroke="#000" stroke-width="0" fill="#000"/>
<text transform="translate(711,732) scale(1.0,1.05)" font-size="35.7">3 days</text>
<text transform="translate(892.5,772) scale(1.0,1.05)" font-size="35.7">Analysis</text>
<text transform="translate(1222.5,973.4) scale(1.03,1.05)" font-weight="700" font-size="53">F</text>
<text transform="translate(1436.1,1031.7) scale(1.0,1.05)" font-size="35.7">CD3/CD28Dynabeads</text>
<text transform="translate(1435.6,1075) scale(1.0,1.05)" font-size="35.7" word-spacing="3">hIL-2 100 IU/mL</text>
<line x1="1449" y1="1087.6" x2="1419.5" y2="1154.8" stroke="#000" stroke-width="3.2"/>
<path d="M1408.4,1147.7 L1432.2,1158.2 L1409,1178.6 Z" stroke="#000" stroke-width="0" fill="#000"/>
<ellipse cx="1396.1" cy="1219.6" rx="65.6" ry="9.5" fill="#8e8e8e" filter="url(#blur6)" opacity="0.82"/>
<path d="M1308.4,1241.5 A93.7,9.6 0 0 1 1495.8,1241.5" stroke="#000" stroke-width="2.8" fill="none"/>
<ellipse cx="1345.6" cy="1226.2" rx="9.3" ry="10.4" fill="#C4592B" stroke="none" stroke-width="0"/>
<ellipse cx="1365.5" cy="1236.5" rx="9.3" ry="10.4" fill="#C4592B" stroke="none" stroke-width="0"/>
<ellipse cx="1388.3" cy="1231.1" rx="9.3" ry="10.4" fill="#C4592B" stroke="none" stroke-width="0"/>
<ellipse cx="1411" cy="1231.1" rx="9.3" ry="10.4" fill="#C4592B" stroke="none" stroke-width="0"/>
<ellipse cx="1433.8" cy="1231.1" rx="9.3" ry="10.4" fill="#C4592B" stroke="none" stroke-width="0"/>
<ellipse cx="1454.4" cy="1237.7" rx="9.3" ry="10.4" fill="#C4592B" stroke="none" stroke-width="0"/>
<path d="M1308.4,1241.5 A93.7,9.6 0 0 0 1495.8,1241.5" stroke="#000" stroke-width="3" fill="none"/>
<line x1="1308.4" y1="1197.6" x2="1308.4" y2="1241.5" stroke="#000" stroke-width="3"/>
<line x1="1495.8" y1="1197.6" x2="1495.8" y2="1241.5" stroke="#000" stroke-width="3"/>
<ellipse cx="1402.1" cy="1197.6" rx="93.7" ry="10.7" fill="none" stroke="#000" stroke-width="3"/>
<text transform="translate(1359.7,1287.4) scale(1.0,1.05)" font-size="35.7">T cell</text>
<line x1="1497.9" y1="1223.3" x2="1658.2" y2="1223.3" stroke="#000" stroke-width="3.2"/>
<path d="M1656.2,1210.8 L1656.2,1235.8 L1683.2,1223.3 Z" stroke="#000" stroke-width="0" fill="#000"/>
<text transform="translate(1511.7,1191) scale(1.0,1.05)" font-size="35.7">Passage</text>
<text transform="translate(1510.6,1263.4) scale(1.0,1.05)" font-size="35.7" word-spacing="2">14 days</text>
<text transform="translate(1698,1231) scale(1.0,1.05)" font-size="35.7">Analysis</text>
<text transform="translate(1126,517.6) scale(1.03,1.05)" font-weight="700" font-size="53">E</text>
<line x1="1345" y1="527.8" x2="1345" y2="807.6" stroke="#000" stroke-width="3.4"/>
<line x1="1332.8" y1="805.9" x2="1345" y2="805.9" stroke="#000" stroke-width="2.8"/>
<text transform="translate(1325.5,818.1) scale(1.0,1.05)" text-anchor="end" font-size="35.7">0</text>
<line x1="1332.8" y1="750.6" x2="1345" y2="750.6" stroke="#000" stroke-width="2.8"/>
<text transform="translate(1325.5,762.8) scale(1.0,1.05)" text-anchor="end" font-size="35.7">10</text>
<line x1="1332.8" y1="695.3" x2="1345" y2="695.3" stroke="#000" stroke-width="2.8"/>
<text transform="translate(1325.5,707.5) scale(1.0,1.05)" text-anchor="end" font-size="35.7">20</text>
<line x1="1332.8" y1="639.9" x2="1345" y2="639.9" stroke="#000" stroke-width="2.8"/>
<text transform="translate(1325.5,652.1) scale(1.0,1.05)" text-anchor="end" font-size="35.7">30</text>
<line x1="1332.8" y1="584.6" x2="1345" y2="584.6" stroke="#000" stroke-width="2.8"/>
<text transform="translate(1325.5,596.8) scale(1.0,1.05)" text-anchor="end" font-size="35.7">40</text>
<line x1="1332.8" y1="529.3" x2="1345" y2="529.3" stroke="#000" stroke-width="2.8"/>
<text transform="translate(1325.5,541.5) scale(1.0,1.05)" text-anchor="end" font-size="35.7">50</text>
<line x1="1332.8" y1="805.9" x2="1544.3" y2="805.9" stroke="#000" stroke-width="3.4"/>
<line x1="1401.3" y1="805.9" x2="1401.3" y2="817.5" stroke="#000" stroke-width="3.4"/>
<line x1="1486" y1="805.9" x2="1486" y2="817.5" stroke="#000" stroke-width="3.4"/>
<text transform="translate(1454.5,510.5) scale(1.0,1.05)" text-anchor="middle" font-size="35.7">CD4</text>
<text transform="translate(1446.8,564.4) scale(1.0,1.05)" font-size="30">*</text>
<line x1="1401.3" y1="584.6" x2="1486" y2="628.9" stroke="#231f20" stroke-width="1.3"/>
<line x1="1401.3" y1="667.6" x2="1486" y2="709.1" stroke="#231f20" stroke-width="1.3"/>
<line x1="1401.3" y1="695.3" x2="1486" y2="748.9" stroke="#231f20" stroke-width="1.3"/>
<line x1="1401.3" y1="713.5" x2="1486" y2="728.5" stroke="#231f20" stroke-width="1.3"/>
<line x1="1401.3" y1="731.2" x2="1486" y2="751.7" stroke="#231f20" stroke-width="1.3"/>
<circle cx="1401.3" cy="584.6" r="4.7" fill="#000"/>
<circle cx="1486" cy="628.9" r="4.7" fill="#000"/>
<circle cx="1401.3" cy="667.6" r="4.7" fill="#000"/>
<circle cx="1486" cy="709.1" r="4.7" fill="#000"/>
<circle cx="1401.3" cy="695.3" r="4.7" fill="#000"/>
<circle cx="1486" cy="748.9" r="4.7" fill="#000"/>
<circle cx="1401.3" cy="713.5" r="4.7" fill="#000"/>
<circle cx="1486" cy="728.5" r="4.7" fill="#000"/>
<circle cx="1401.3" cy="731.2" r="4.7" fill="#000"/>
<circle cx="1486" cy="751.7" r="4.7" fill="#000"/>
<text transform="translate(1415,833) rotate(-38) scale(1.0,1.05)" text-anchor="end" font-size="35.7">CAR-T</text>
<text transform="translate(1499.5,833) rotate(-38) scale(1.0,1.05)" text-anchor="end" font-size="35.7">SATB1-CAR-T</text>
<line x1="1603" y1="525.5" x2="1603" y2="807.3" stroke="#000" stroke-width="3.4"/>
<line x1="1591.6" y1="805.6" x2="1603" y2="805.6" stroke="#000" stroke-width="2.8"/>
<text transform="translate(1583.5,817.8) scale(1.0,1.05)" text-anchor="end" font-size="35.7">0</text>
<line x1="1591.6" y1="749.9" x2="1603" y2="749.9" stroke="#000" stroke-width="2.8"/>
<text transform="translate(1583.5,762.1) scale(1.0,1.05)" text-anchor="end" font-size="35.7">10</text>
<line x1="1591.6" y1="694.2" x2="1603" y2="694.2" stroke="#000" stroke-width="2.8"/>
<text transform="translate(1583.5,706.4) scale(1.0,1.05)" text-anchor="end" font-size="35.7">20</text>
<line x1="1591.6" y1="638.4" x2="1603" y2="638.4" stroke="#000" stroke-width="2.8"/>
<text transform="translate(1583.5,650.6) scale(1.0,1.05)" text-anchor="end" font-size="35.7">30</text>
<line x1="1591.6" y1="582.7" x2="1603" y2="582.7" stroke="#000" stroke-width="2.8"/>
<text transform="translate(1583.5,594.9) scale(1.0,1.05)" text-anchor="end" font-size="35.7">40</text>
<line x1="1591.6" y1="527" x2="1603" y2="527" stroke="#000" stroke-width="2.8"/>
<text transform="translate(1583.5,539.2) scale(1.0,1.05)" text-anchor="end" font-size="35.7">50</text>
<line x1="1591.6" y1="805.6" x2="1806" y2="805.6" stroke="#000" stroke-width="3.4"/>
<line x1="1660.9" y1="805.6" x2="1660.9" y2="817.5" stroke="#000" stroke-width="3.4"/>
<line x1="1747" y1="805.6" x2="1747" y2="817.5" stroke="#000" stroke-width="3.4"/>
<text transform="translate(1712.8,510.2) scale(1.0,1.05)" text-anchor="middle" font-size="35.7">CD8</text>
<text transform="translate(1693.5,563.2) scale(1.0,1.05)" font-size="30">***</text>
<line x1="1660.9" y1="577.1" x2="1747" y2="630.1" stroke="#231f20" stroke-width="1.3"/>
<line x1="1660.9" y1="630.1" x2="1747" y2="660.7" stroke="#231f20" stroke-width="1.3"/>
<line x1="1660.9" y1="644" x2="1747" y2="685.8" stroke="#231f20" stroke-width="1.3"/>
<line x1="1660.9" y1="657.9" x2="1747" y2="699.7" stroke="#231f20" stroke-width="1.3"/>
<line x1="1660.9" y1="666.3" x2="1747" y2="703.6" stroke="#231f20" stroke-width="1.3"/>
<circle cx="1660.9" cy="577.1" r="4.7" fill="#000"/>
<circle cx="1747" cy="630.1" r="4.7" fill="#000"/>
<circle cx="1660.9" cy="630.1" r="4.7" fill="#000"/>
<circle cx="1747" cy="660.7" r="4.7" fill="#000"/>
<circle cx="1660.9" cy="644" r="4.7" fill="#000"/>
<circle cx="1747" cy="685.8" r="4.7" fill="#000"/>
<circle cx="1660.9" cy="657.9" r="4.7" fill="#000"/>
<circle cx="1747" cy="699.7" r="4.7" fill="#000"/>
<circle cx="1660.9" cy="666.3" r="4.7" fill="#000"/>
<circle cx="1747" cy="703.6" r="4.7" fill="#000"/>
<text transform="translate(1676.2,833.8) rotate(-38) scale(1.0,1.05)" text-anchor="end" font-size="35.7">CAR-T</text>
<text transform="translate(1758.4,834.8) rotate(-38) scale(1.0,1.05)" text-anchor="end" font-size="35.7">SATB1-CAR-T</text>
<text transform="translate(1227.6,770.4) rotate(-90) scale(1.0,1.05)" font-size="35.7" word-spacing="5">Percentage of</text>
<text transform="translate(1271.6,800.9) rotate(-90) scale(1.0,1.05)" font-size="35.7" word-spacing="4">apoptotic cells(%)</text>
<text transform="translate(3,974.1) scale(1.03,1.05)" font-weight="700" font-size="53">D</text>
<text transform="translate(310.6,956) scale(1.0,1.05)" text-anchor="middle" font-size="35.7">CD4</text>
<line x1="137" y1="970.2" x2="495.4" y2="969.8" stroke="#000" stroke-width="2.2"/>
<text transform="translate(191.5,1011.7) scale(1.0,1.05)" text-anchor="middle" font-size="35.7">CAR-T</text>
<text transform="translate(461,1011.7) scale(1.0,1.05)" text-anchor="middle" font-size="35.7">SATB1-CAR-T</text>
<text transform="translate(909.8,955.7) scale(1.0,1.05)" text-anchor="middle" font-size="35.7">CD8</text>
<line x1="730.2" y1="971" x2="1089.3" y2="968.5" stroke="#000" stroke-width="2.2"/>
<text transform="translate(784.5,1010.5) scale(1.0,1.05)" text-anchor="middle" font-size="35.7">CAR-T</text>
<text transform="translate(1049.6,1010.5) scale(1.0,1.05)" text-anchor="middle" font-size="35.7">SATB1-CAR-T</text>
<path transform="translate(.5 .5)" d="M192 1141h0m25 3h0m-97 4h0m11 2h0m130 8h0m-85 1h0m-51 3h0m2 0h0m2 0h0m7 0h0m2 2h0m-5 1h0m2 0h0m0 1h0m29 0h0m6 0h0m8 1h0m-64 1h0m8 0h0m18 0h0m-20 1h0m3 0h0m56 0h0m-57 1h0m24 1h0m25 0h0m7 0h0m-62 1h0m11 0h0m2 0h0m-2 1h0m-9 1h0m62 0h0m84 0h0m-129 1h0m-4 2h0m35 0h0m-44 1h0m6 0h0m159 0h0m-171 2h0m26 0h0m30 0h0m2 0h0m-56 2h0m21 0h0m-5 1h0m3 0h0m8 1h0m69 0h0m-58 1h0m77 0h0m7 0h0m-69 1h0m6 0h0m18 0h0m-27 1h0m55 0h0m0 1h0m-115 1h0m124 1h0m-69 1h0m9 0h0m22 0h0m30 0h0m-5 1h0m-92 1h0m41 0h0m10 0h0m25 0h0m-60 1h0m18 0h0m12 0h0m15 0h0m17 0h0m58 0h0m-150 1h0m5 0h0m9 0h0m44 0h0m52 0h0m-94 1h0m8 0h0m56 0h0m27 0h0m7 0h0m4 0h0m3 0h0m30 0h0m-137 1h0m48 0h0m7 0h0m-65 1h0m0 1h0m13 0h0m22 0h0m24 0h0m4 0h0m9 0h0m11 0h0m21 0h0m38 0h0m-137 1h0m26 0h0m3 0h0m10 0h0m5 0h0m11 0h0m3 0h0m22 0h0m49 0h0m-132 1h0m6 0h0m48 0h0m19 0h0m1 0h0m34 0h0m-89 1h0m36 0h0m14 0h0m2 0h0m50 0h0m-121 1h0m16 0h0m8 0h0m6 0h0m40 0h0m22 0h0m29 0h0m-87 1h0m15 0h0m6 0h0m10 0h0m13 0h0m38 0h0m-121 1h0m4 0h0m24 0h0m34 0h0m19 0h0m5 0h0m12 0h0m1 0h0m11 0h0m-81 1h0m12 0h0m28 0h0m2 0h0m4 0h0m6 0h0m36 0h0m38 0h0m-142 1h0m41 0h0m8 0h0m9 0h0m1 0h0m15 0h0m7 0h0m14 0h0m17 0h0m26 0h0m-111 1h0m2 0h0m18 0h0m20 0h0m5 0h0m22 0h0m1 0h0m3 0h0m-114 1h0m1 0h0m53 0h0m23 0h0m10 0h0m1 0h0m8 0h0m4 0h0m3 0h0m11 0h0m22 0h0m21 0h0m-148 1h0m45 0h0m23 0h0m11 0h0m1 0h0m36 0h0m2 0h0m-83 1h0m8 0h0m4 0h0m24 0h0m1 0h0m33 0h0m54 0h0m-164 1h0m6 0h0m52 0h0m14 0h0m59 0h0m-126 1h0m51 0h0m7 0h0m6 0h0m19 0h0m3 0h0m5 0h0m3 0h0m40 0h0m-144 1h0m15 0h0m18 0h0m43 0h0m44 0h0m36 0h0m-149 1h0m7 0h0m1 0h0m3 0h0m3 0h0m2 0h0m16 0h0m4 0h0m9 0h0m8 0h0m22 0h0m11 0h0m8 0h0m4 0h0m38 0h0m-129 1h0m29 0h0m11 0h0m12 0h0m2 0h0m3 0h0m6 0h0m9 0h0m4 0h0m6 0h0m4 0h0m17 0h0m-105 1h0m27 0h0m26 0h0m4 0h0m11 0h0m41 0h0m-112 1h0m3 0h0m36 0h0m8 0h0m12 0h0m2 0h0m13 0h0m5 0h0m4 0h0m1 0h0m2 0h0m3 0h0m9 0h0m6 0h0m-103 1h0m7 0h0m1 0h0m27 0h0m4 0h0m25 0h0m11 0h0m1 0h0m6 0h0m5 0h0m24 0h0m7 0h0m-120 1h0m39 0h0m31 0h0m2 0h0m2 0h0m2 0h0m4 0h0m1 0h0m1 0h0m6 0h0m10 0h0m5 0h0m7 0h0m4 0h0m1 0h0m-109 1h0m5 0h0m17 0h0m12 0h0m21 0h0m6 0h0m4 0h0m1 0h0m7 0h0m2 0h0m4 0h0m7 0h0m15 0h0m4 0h0m15 0h0m4 0h0m-131 1h0m3 0h0m2 0h0m21 0h0m5 0h0m19 0h0m1 0h0m8 0h0m5 0h0m6 0h0m1 0h0m14 0h0m2 0h0m4 0h0m9 0h0m18 0h0m4 0h0m-114 1h0m20 0h0m32 0h0m17 0h0m5 0h0m1 0h0m37 0h0m21 0h0m-90 1h0m15 0h0m11 0h0m3 0h0m2 0h0m2 0h0m6 0h0m-49 1h0m7 0h0m4 0h0m9 0h0m3 0h0m14 0h0m1 0h0m16 0h0m23 0h0m21 0h0m-145 1h0m16 0h0m15 0h0m6 0h0m2 0h0m3 0h0m41 0h0m9 0h0m4 0h0m8 0h0m3 0h0m7 0h0m-96 1h0m21 0h0m18 0h0m18 0h0m3 0h0m10 0h0m9 0h0m6 0h0m19 0h0m-107 1h0m28 0h0m29 0h0m1 0h0m8 0h0m1 0h0m22 0h0m35 0h0m-130 1h0m12 0h0m6 0h0m20 0h0m3 0h0m20 0h0m1 0h0m4 0h0m1 0h0m7 0h0m14 0h0m6 0h0m2 0h0m6 0h0m11 0h0m3 0h0m9 0h0m19 0h0m-144 1h0m22 0h0m3 0h0m10 0h0m3 0h0m30 0h0m1 0h0m4 0h0m6 0h0m4 0h0m14 0h0m5 0h0m-62 1h0m20 0h0m1 0h0m21 0h0m7 0h0m4 0h0m3 0h0m1 0h0m3 0h0m16 0h0m-121 1h0m11 0h0m1 0h0m42 0h0m7 0h0m4 0h0m4 0h0m22 0h0m5 0h0m7 0h0m8 0h0m10 0h0m-72 1h0m5 0h0m4 0h0m3 0h0m1 0h0m7 0h0m3 0h0m25 0h0m28 0h0m-89 1h0m24 0h0m1 0h0m2 0h0m3 0h0m8 0h0m3 0h0m7 0h0m5 0h0m1 0h0m2 0h0m7 0h0m-97 1h0m6 0h0m8 0h0m36 0h0m11 0h0m14 0h0m3 0h0m16 0h0m15 0h0m2 0h0m19 0h0m-130 1h0m12 0h0m3 0h0m21 0h0m21 0h0m25 0h0m5 0h0m4 0h0m3 0h0m10 0h0m23 0h0m-122 1h0m2 0h0m8 0h0m28 0h0m18 0h0m6 0h0m3 0h0m44 0h0m2 0h0m-110 1h0m1 0h0m7 0h0m11 0h0m20 0h0m22 0h0m1 0h0m9 0h0m30 0h0m32 0h0m-133 1h0m27 0h0m9 0h0m22 0h0m10 0h0m9 0h0m36 0h0m2 0h0m2 0h0m6 0h0m12 0h0m-143 1h0m63 0h0m11 0h0m13 0h0m1 0h0m5 0h0m2 0h0m3 0h0m2 0h0m10 0h0m26 0h0m3 0h0m-94 1h0m6 0h0m5 0h0m20 0h0m2 0h0m6 0h0m3 0h0m6 0h0m9 0h0m1 0h0m17 0h0m1 0h0m32 0h0m-160 1h0m20 0h0m6 0h0m38 0h0m25 0h0m4 0h0m3 0h0m24 0h0m4 0h0m-119 1h0m6 0h0m13 0h0m16 0h0m6 0h0m5 0h0m12 0h0m18 0h0m35 0h0m-110 1h0m2 0h0m4 0h0m10 0h0m15 0h0m8 0h0m2 0h0m33 0h0m9 0h0m81 0h0m-172 1h0m47 0h0m26 0h0m13 0h0m18 0h0m5 0h0m35 0h0m-129 1h0m3 0h0m6 0h0m24 0h0m24 0h0m3 0h0m21 0h0m6 0h0m1 0h0m14 0h0m15 0h0m4 0h0m6 0h0m-132 1h0m6 0h0m15 0h0m24 0h0m1 0h0m18 0h0m12 0h0m22 0h0m34 0h0m8 0h0m-63 1h0m16 0h0m10 0h0m19 0h0m18 0h0m-137 1h0m5 0h0m39 0h0m21 0h0m7 0h0m7 0h0m40 0h0m7 0h0m-142 1h0m15 0h0m3 0h0m2 0h0m4 0h0m22 0h0m4 0h0m3 0h0m11 0h0m39 0h0m16 0h0m12 0h0m3 0h0m11 0h0m-142 1h0m32 0h0m31 0h0m1 0h0m1 0h0m52 0h0m-106 1h0m2 0h0m38 0h0m80 0h0m-46 1h0m14 0h0m8 0h0m-44 1h0m10 0h0m4 0h0m5 0h0m5 0h0m57 0h0m-127 1h0m3 0h0m22 0h0m26 0h0m9 0h0m38 0h0m-67 1h0m71 0h0m-53 1h0m4 0h0m13 0h0m29 0h0m-27 1h0m1 0h0m12 0h0m16 0h0m-96 1h0m50 0h0m10 0h0m15 0h0m38 0h0m-100 1h0m35 0h0m48 0h0m14 0h0m-63 1h0m35 0h0m18 0h0m-86 2h0m94 0h0m-73 1h0m21 1h0m-31 1h0m19 0h0m10 0h0m24 0h0m14 0h0m4 1h0m-22 1h0m20 1h0m-51 1h0" stroke="#2e2eae" stroke-width="1.50" stroke-linecap="round" fill="none"/>
<path transform="translate(.5 .5)" d="M210 1134h0m-39 16h0m-41 2h0m-3 14h0m0 1h0m1 0h0m38 1h0m-40 2h0m41 2h0m-64 2h0m39 2h0m31 8h0m11 0h0m36 0h0m-43 1h0m4 0h0m12 0h0m-78 1h0m108 0h0m-39 1h0m-51 1h0m15 0h0m30 0h0m13 0h0m56 0h0m-61 1h0m-64 1h0m62 1h0m6 0h0m8 0h0m11 0h0m-83 1h0m44 0h0m-18 2h0m80 0h0m-39 2h0m-33 1h0m22 0h0m16 0h0m1 0h0m-69 1h0m43 0h0m25 0h0m87 0h0m-154 1h0m42 0h0m22 0h0m25 0h0m-100 1h0m46 0h0m21 0h0m10 0h0m25 0h0m72 0h0m-152 1h0m7 0h0m30 0h0m20 0h0m6 0h0m16 0h0m-96 1h0m6 0h0m46 0h0m15 0h0m96 0h0m-146 1h0m1 0h0m30 0h0m34 0h0m23 0h0m11 0h0m-127 1h0m19 0h0m48 0h0m7 0h0m37 0h0m-102 1h0m62 0h0m54 0h0m-83 1h0m29 0h0m5 0h0m14 0h0m14 0h0m-28 1h0m37 0h0m-86 1h0m12 0h0m10 0h0m1 0h0m16 0h0m-50 1h0m32 0h0m16 0h0m7 0h0m7 0h0m1 0h0m1 0h0m5 0h0m5 0h0m1 0h0m3 0h0m70 0h0m-157 1h0m36 0h0m14 0h0m34 0h0m3 0h0m-90 1h0m3 0h0m26 0h0m64 0h0m6 0h0m7 0h0m-120 1h0m8 0h0m8 0h0m80 0h0m9 0h0m30 0h0m34 0h0m-157 1h0m5 0h0m42 0h0m49 0h0m20 0h0m41 0h0m-160 1h0m10 0h0m63 0h0m15 0h0m2 0h0m14 0h0m4 0h0m6 0h0m-122 1h0m10 0h0m5 0h0m34 0h0m34 0h0m13 0h0m39 0h0m-115 1h0m23 0h0m10 0h0m8 0h0m95 0h0m-116 1h0m10 0h0m18 0h0m13 0h0m22 0h0m1 0h0m3 0h0m14 0h0m11 0h0m-121 1h0m10 0h0m23 0h0m40 0h0m20 0h0m1 0h0m12 0h0m6 0h0m-115 1h0m14 0h0m20 0h0m14 0h0m6 0h0m10 0h0m6 0h0m21 0h0m22 0h0m-112 1h0m42 0h0m12 0h0m1 0h0m1 0h0m-16 1h0m42 0h0m9 0h0m3 0h0m23 0h0m-97 1h0m52 0h0m1 0h0m3 0h0m10 0h0m17 0h0m4 0h0m7 0h0m14 0h0m-119 1h0m12 0h0m43 0h0m2 0h0m7 0h0m-57 1h0m40 0h0m25 0h0m2 0h0m8 0h0m1 0h0m1 0h0m-41 1h0m13 0h0m22 0h0m9 0h0m7 0h0m29 0h0m-130 1h0m18 0h0m21 0h0m20 0h0m2 0h0m10 0h0m15 0h0m7 0h0m1 0h0m18 0h0m13 0h0m-118 1h0m10 0h0m48 0h0m16 0h0m-79 1h0m10 0h0m64 0h0m24 0h0m-44 1h0m34 0h0m14 0h0m-64 1h0m1 0h0m6 0h0m6 0h0m20 0h0m8 0h0m25 0h0m6 0h0m6 0h0m-55 1h0m4 0h0m6 0h0m8 0h0m2 0h0m11 0h0m9 0h0m63 0h0m-162 1h0m24 0h0m15 0h0m4 0h0m32 0h0m-37 1h0m23 0h0m2 0h0m10 0h0m14 0h0m5 0h0m9 0h0m5 0h0m-43 1h0m3 0h0m8 0h0m3 0h0m2 0h0m1 0h0m4 0h0m1 0h0m-39 1h0m7 0h0m4 0h0m6 0h0m10 0h0m2 0h0m4 0h0m1 0h0m6 0h0m5 0h0m18 0h0m27 0h0m-144 1h0m6 0h0m15 0h0m42 0h0m9 0h0m7 0h0m10 0h0m1 0h0m7 0h0m1 0h0m16 0h0m32 0h0m-101 1h0m20 0h0m9 0h0m7 0h0m24 0h0m36 0h0m-98 1h0m4 0h0m51 0h0m10 0h0m3 0h0m29 0h0m-69 1h0m6 0h0m6 0h0m13 0h0m-88 1h0m2 0h0m26 0h0m7 0h0m14 0h0m25 0h0m3 0h0m44 0h0m5 0h0m-125 1h0m12 0h0m35 0h0m5 0h0m27 0h0m2 0h0m17 0h0m-48 1h0m18 0h0m4 0h0m4 0h0m19 0h0m4 0h0m27 0h0m-129 1h0m5 0h0m1 0h0m8 0h0m30 0h0m29 0h0m18 0h0m1 0h0m1 0h0m5 0h0m21 0h0m-129 1h0m19 0h0m2 0h0m3 0h0m25 0h0m12 0h0m4 0h0m23 0h0m24 0h0m21 0h0m16 0h0m-137 1h0m57 0h0m22 0h0m6 0h0m32 0h0m-57 1h0m5 0h0m6 0h0m1 0h0m10 0h0m-32 1h0m5 0h0m17 0h0m15 0h0m-85 1h0m2 0h0m58 0h0m3 0h0m14 0h0m22 0h0m19 0h0m4 0h0m-93 1h0m34 0h0m15 0h0m5 0h0m5 0h0m16 0h0m8 0h0m-91 1h0m-22 1h0m3 0h0m42 0h0m81 0h0m-131 1h0m55 0h0m48 0h0m16 0h0m-116 1h0m15 0h0m89 1h0m-98 1h0m54 0h0m-27 1h0m35 0h0m17 0h0m14 0h0m17 0h0m2 0h0m5 0h0m-93 1h0m66 0h0m3 0h0m-100 1h0m84 1h0m4 1h0m45 0h0m-71 2h0m-48 2h0m63 2h0m-67 2h0" stroke="#5252c8" stroke-width="1.50" stroke-linecap="round" fill="none"/>
<path transform="translate(.5 .5)" d="M139 1148h0m15 7h0m-22 2h0m-9 3h0m147 4h0m-138 3h0m29 2h0m-13 4h0m31 1h0m-56 2h0m34 2h0m92 0h0m-121 5h0m122 0h0m-126 1h0m78 0h0m4 0h0m-27 1h0m-74 3h0m66 0h0m-13 1h0m60 0h0m20 0h0m-120 1h0m4 0h0m53 0h0m19 0h0m-73 1h0m9 0h0m51 0h0m-11 1h0m32 1h0m-12 1h0m79 0h0m-73 1h0m31 1h0m-75 1h0m54 0h0m-87 1h0m1 0h0m103 0h0m-53 2h0m10 0h0m50 0h0m-42 1h0m-74 1h0m7 0h0m99 0h0m-82 1h0m-32 1h0m49 0h0m100 0h0m-112 1h0m47 0h0m26 0h0m17 0h0m-66 1h0m73 0h0m-38 1h0m-86 1h0m3 0h0m55 0h0m5 0h0m18 0h0m-72 1h0m29 0h0m18 0h0m64 0h0m-105 1h0m5 0h0m52 0h0m17 0h0m-80 1h0m50 0h0m27 0h0m31 0h0m-118 1h0m50 0h0m6 0h0m11 0h0m12 0h0m33 0h0m-93 1h0m11 0h0m48 0h0m35 1h0m1 0h0m-109 1h0m88 0h0m-87 1h0m2 0h0m6 0h0m5 0h0m19 0h0m67 1h0m23 0h0m-126 1h0m52 0h0m17 0h0m11 0h0m14 0h0m2 0h0m22 0h0m-107 1h0m29 0h0m37 0h0m1 0h0m10 0h0m-80 1h0m91 0h0m2 0h0m-99 1h0m99 0h0m6 0h0m-100 1h0m49 0h0m13 0h0m32 0h0m-6 1h0m9 0h0m2 0h0m-109 1h0m79 0h0m-79 1h0m67 0h0m3 0h0m16 0h0m37 0h0m-70 1h0m11 0h0m68 0h0m-41 1h0m8 0h0m2 0h0m6 0h0m-107 1h0m39 0h0m29 0h0m10 0h0m-54 1h0m39 0h0m23 0h0m1 0h0m-92 1h0m35 0h0m59 0h0m14 0h0m10 0h0m23 0h0m-123 1h0m80 0h0m4 0h0m-80 1h0m21 0h0m44 0h0m3 0h0m50 0h0m-59 1h0m7 0h0m7 0h0m19 0h0m39 0h0m-96 1h0m15 0h0m4 0h0m13 0h0m55 1h0m-57 1h0m33 0h0m3 0h0m-40 1h0m14 0h0m-85 1h0m39 0h0m30 0h0m-66 1h0m41 0h0m-40 1h0m4 0h0m13 0h0m33 0h0m30 0h0m18 0h0m16 0h0m-118 1h0m7 0h0m58 0h0m7 0h0m40 0h0m-64 1h0m33 0h0m6 0h0m14 0h0m-78 1h0m12 0h0m4 0h0m70 0h0m-102 1h0m52 0h0m91 0h0m-145 1h0m57 0h0m41 0h0m-107 1h0m3 1h0m57 0h0m18 0h0m8 2h0m-36 1h0m7 0h0m-60 1h0m8 0h0m31 1h0m100 0h0m-76 1h0m36 0h0m13 1h0m3 0h0m-113 1h0m8 0h0m88 0h0m-110 1h0m95 0h0m51 1h0m-10 2h0m-41 2h0m9 9h0" stroke="#8a8ae0" stroke-width="1.50" stroke-linecap="round" fill="none"/>
<path transform="translate(.5 .5)" d="M127 1149h0m5 0h0m-7 2h0m4 0h0m5 0h0m-6 2h0m2 0h0m1 0h0m-9 1h0m6 1h0m2 0h0m-4 1h0m4 0h0m2 0h0m-2 1h0m2 0h0m-6 1h0m1 1h0m3 0h0m-8 1h0m1 0h0m8 0h0m-10 1h0m3 0h0m7 0h0m-11 2h0m2 2h0m1 2h0m4 0h0m2 1h0m-9 1h0m10 1h0m-8 1h0m1 0h0m1 0h0m-2 1h0m12 0h0m-3 3h0m-11 2h0m9 0h0m2 0h0m-10 2h0m12 1h0m-3 4h0m-9 1h0m0 1h0m10 2h0m1 2h0m-13 4h0m12 7h0m-13 2h0m11 3h0m1 1h0m-15 6h0m14 0h0m1 3h0m0 1h0m-14 1h0m-2 1h0m2 3h0m12 2h0m1 1h0m0 1h0m-16 1h0m15 0h0m-12 1h0m-1 3h0m13 0h0m-15 1h0m2 3h0m14 0h0m-16 2h0m16 0h0m-16 8h0m1 3h0m-4 1h0m4 3h0m12 0h0m0 1h0m1 1h0" stroke="#272aad" stroke-width="1.60" stroke-linecap="round" fill="none"/>
<path transform="translate(.5 .5)" d="M128 1160h0m-1 2h0m1 1h0m-1 1h0m-1 4h0m1 1h0m1 2h0m-3 4h0m1 0h0m-4 4h0m6 3h0m-6 3h0m-2 9h0m7 2h0m1 7h0m0 1h0m-10 1h0m1 1h0m10 0h0m-1 2h0m0 1h0m-10 2h0m0 1h0m10 0h0m0 4h0m-10 1h0m9 0h0m-9 4h0m9 2h0m-10 2h0m10 2h0m1 1h0m-12 2h0m0 2h0m-1 4h0m0 6h0m-1 3h0m1 0h0m10 2h0m0 2h0m-10 2h0m1 0h0m8 3h0" stroke="#2e35bd" stroke-width="1.60" stroke-linecap="round" fill="none"/>
<path transform="translate(.5 .5)" d="M125 1177h0m0 2h0m0 1h0m2 2h0m-4 1h0m3 0h0m-2 1h0m1 0h0m0 1h0m1 0h0m-3 4h0m4 0h0m-1 4h0m-5 3h0m5 2h0m1 0h0m-8 7h0m9 0h0m0 1h0m-9 1h0m2 0h0m6 0h0m1 0h0m-9 1h0m1 0h0m6 1h0m-7 5h0m7 0h0m1 0h0m0 1h0m0 1h0m-9 1h0m10 2h0m-10 2h0m8 2h0m-8 1h0m7 1h0m-7 5h0m8 0h0m0 1h0m-1 5h0m-9 2h0m9 10h0m0 1h0m-9 1h0m0 1h0m7 1h0m-6 1h0m6 0h0m-6 1h0m6 0h0m1 0h0m-1 1h0" stroke="#3658ce" stroke-width="1.60" stroke-linecap="round" fill="none"/>
<path transform="translate(.5 .5)" d="M126 1187h0m-1 1h0m1 0h0m-2 4h0m-1 2h0m2 5h0m-1 1h0m2 2h0m-4 2h0m4 0h0m-5 1h0m5 0h0m0 1h0m-6 3h0m0 1h0m0 1h0m6 0h0m-7 3h0m7 0h0m0 6h0m-7 1h0m6 2h0m-7 2h0m2 1h0m6 0h0m-8 4h0m7 0h0m0 1h0m-9 3h0m2 0h0m-1 2h0m7 1h0m1 2h0m-8 1h0m8 2h0m-9 3h0m0 2h0m1 1h0m7 2h0m-8 1h0m6 2h0m1 0h0m-5 1h0m2 0h0m1 0h0m1 1h0m2 0h0" stroke="#42ace0" stroke-width="1.60" stroke-linecap="round" fill="none"/>
<path transform="translate(.5 .5)" d="M124 1192h0m2 4h0m-2 5h0m2 0h0m-2 2h0m-3 3h0m3 0h0m1 0h0m-4 1h0m5 1h0m-4 1h0m3 0h0m-2 1h0m-3 3h0m1 1h0m4 0h0m-6 2h0m5 0h0m1 0h0m0 1h0m0 1h0m-6 2h0m1 1h0m-1 3h0m1 0h0m6 2h0m-7 1h0m5 0h0m-5 1h0m5 0h0m-6 1h0m6 1h0m-6 1h0m6 1h0m-6 1h0m0 1h0m7 0h0m0 4h0m-9 1h0m1 0h0m-1 1h0m1 1h0m7 1h0m-7 2h0m-1 3h0m1 0h0m0 1h0m6 1h0m1 0h0m-7 1h0m6 1h0m-2 1h0m1 0h0m-4 1h0m2 0h0m2 0h0m-5 1h0m2 0h0m2 1h0m-2 1h0m2 0h0" stroke="#4dcdb6" stroke-width="1.60" stroke-linecap="round" fill="none"/>
<path transform="translate(.5 .5)" d="M126 1199h0m-2 3h0m0 2h0m0 2h0m0 2h0m-2 1h0m1 0h0m-1 1h0m2 0h0m-2 2h0m1 1h0m3 1h0m-4 1h0m3 1h0m-5 1h0m1 0h0m1 0h0m2 0h0m1 0h0m-1 1h0m0 1h0m-4 1h0m2 1h0m2 0h0m-3 1h0m1 0h0m2 0h0m-4 1h0m0 1h0m0 1h0m3 1h0m-4 1h0m2 0h0m-2 1h0m5 0h0m-5 1h0m5 0h0m-4 1h0m0 1h0m4 0h0m-5 1h0m0 1h0m4 0h0m-5 2h0m6 0h0m-6 1h0m0 1h0m6 0h0m-6 1h0m6 0h0m-7 7h0m5 3h0m-1 1h0m1 0h0m1 0h0m-5 1h0m1 3h0m1 0h0m0 2h0" stroke="#57d56d" stroke-width="1.60" stroke-linecap="round" fill="none"/>
<path transform="translate(.5 .5)" d="M124 1202h0m0 5h0m-1 2h0m1 2h0m1 0h0m-2 2h0m1 0h0m0 1h0m0 1h0m-3 1h0m3 0h0m-3 1h0m3 0h0m-1 2h0m0 1h0m-1 1h0m2 0h0m-2 2h0m1 1h0m1 2h0m-3 2h0m-1 1h0m3 1h0m-5 1h0m0 3h0m5 0h0m-3 1h0m-2 4h0m-1 2h0m1 1h0m4 1h0m-5 1h0m1 0h0m6 1h0m-6 1h0m0 1h0m3 1h0m1 0h0m-2 3h0m0 1h0m0 1h0m1 1h0m-1 1h0" stroke="#7ddb44" stroke-width="1.60" stroke-linecap="round" fill="none"/>
<path transform="translate(.5 .5)" d="M124 1208h0m-1 1h0m-1 7h0m2 1h0m0 1h0m-1 2h0m-2 1h0m2 2h0m-1 1h0m1 1h0m-2 1h0m2 0h0m1 0h0m-3 1h0m-1 1h0m0 1h0m2 1h0m-1 1h0m2 0h0m-1 1h0m0 2h0m0 1h0m-3 1h0m1 0h0m-2 2h0m5 0h0m-5 1h0m0 4h0m5 2h0m-4 3h0m1 1h0m-1 1h0m1 1h0m-2 1h0m2 2h0" stroke="#ace128" stroke-width="1.60" stroke-linecap="round" fill="none"/>
<path transform="translate(.5 .5)" d="M123 1217h0m-1 1h0m0 2h0m0 2h0m0 7h0m-2 2h0m-1 1h0m1 1h0m2 0h0m-2 1h0m-1 1h0m2 0h0m1 0h0m-2 1h0m0 1h0m2 0h0m0 1h0m-3 1h0m1 0h0m2 1h0m0 3h0m-3 1h0m2 0h0m1 1h0m-2 3h0m-1 2h0m1 2h0" stroke="#d6e428" stroke-width="1.60" stroke-linecap="round" fill="none"/>
<path transform="translate(.5 .5)" d="M121 1236h0m0 1h0m1 1h0m-4 5h0m2 1h0m2 1h0m-2 4h0m1 1h0" stroke="#f3d125" stroke-width="1.60" stroke-linecap="round" fill="none"/>
<path transform="translate(.5 .5)" d="M121 1237h0m1 1h0m-2 1h0m-2 2h0m4 1h0m-3 1h0m1 5h0m1 0h0" stroke="#fa991e" stroke-width="1.60" stroke-linecap="round" fill="none"/>
<path transform="translate(.5 .5)" d="M121 1233h0m1 2h0m-1 1h0m2 4h0m-2 1h0m1 0h0m-1 1h0m-1 2h0m0 2h0" stroke="#ed481e" stroke-width="1.60" stroke-linecap="round" fill="none"/>
<line x1="61.8" y1="1021.5" x2="314.3" y2="1021.5" stroke="#3b3b3b" stroke-width="1.3"/>
<line x1="61.8" y1="1021.5" x2="61.8" y2="1273.5" stroke="#3b3b3b" stroke-width="1.3"/>
<line x1="314.3" y1="1020.9" x2="314.3" y2="1274.5" stroke="#222" stroke-width="2.0"/>
<line x1="61.2" y1="1273.5" x2="315.3" y2="1273.5" stroke="#333" stroke-width="2.0"/>
<path d="M144.2,1062.7 L304.6,1064.1 L303.5,1268.2 L130.4,1265.5 Z" stroke="#111" stroke-width="2.2" fill="none"/>
<text transform="translate(184.5,1171.4) scale(1.0,1.05)" font-size="32" style="stroke-width:0.7px">24.9</text>
<path transform="translate(.5 .5)" d="M458 1121h0m-3 3h0m28 16h0m-21 2h0m96 0h0m-120 6h0m-61 4h0m17 1h0m-4 3h0m44 0h0m-42 1h0m5 0h0m6 0h0m21 2h0m12 1h0m-19 2h0m141 0h0m-134 1h0m-20 1h0m-8 2h0m40 0h0m-59 1h0m13 2h0m44 0h0m10 0h0m103 0h0m-161 2h0m15 1h0m29 0h0m10 0h0m-51 2h0m6 2h0m-1 1h0m4 1h0m-10 1h0m162 0h0m18 0h0m-123 2h0m85 1h0m-127 1h0m46 1h0m-23 1h0m145 0h0m-162 1h0m60 0h0m-50 1h0m77 0h0m69 0h0m-177 2h0m0 1h0m90 0h0m4 0h0m44 0h0m-76 1h0m68 0h0m-130 1h0m29 0h0m38 0h0m-26 1h0m41 0h0m37 0h0m-112 2h0m33 0h0m81 0h0m24 0h0m-130 1h0m40 0h0m9 0h0m-59 1h0m6 0h0m63 0h0m33 0h0m40 0h0m-119 1h0m32 0h0m10 0h0m-38 1h0m33 0h0m3 0h0m95 0h0m12 0h0m-144 1h0m16 0h0m3 0h0m34 0h0m1 0h0m8 0h0m11 0h0m5 0h0m34 0h0m1 0h0m-145 1h0m87 0h0m-92 1h0m3 0h0m11 0h0m8 0h0m9 0h0m38 0h0m27 0h0m25 0h0m4 0h0m40 0h0m-149 1h0m44 0h0m61 0h0m46 0h0m-119 1h0m64 0h0m17 0h0m25 0h0m-148 1h0m46 0h0m17 0h0m13 0h0m32 0h0m5 0h0m16 0h0m54 0h0m-125 1h0m34 0h0m28 0h0m-44 1h0m28 0h0m24 0h0m-128 1h0m5 0h0m29 0h0m45 0h0m3 0h0m42 0h0m7 0h0m-136 1h0m9 0h0m50 0h0m31 0h0m7 0h0m-79 1h0m69 0h0m10 0h0m-88 1h0m4 0h0m162 0h0m-177 1h0m49 0h0m19 0h0m1 0h0m12 0h0m13 0h0m49 0h0m30 0h0m-174 1h0m9 0h0m4 0h0m7 0h0m48 0h0m46 0h0m38 0h0m-131 1h0m90 0h0m33 0h0m-137 1h0m2 0h0m71 0h0m33 0h0m11 0h0m-25 1h0m13 0h0m33 0h0m-136 1h0m95 0h0m5 0h0m10 0h0m7 0h0m24 0h0m-153 1h0m13 0h0m1 0h0m2 0h0m65 0h0m7 0h0m6 0h0m1 0h0m85 0h0m-173 1h0m74 0h0m78 0h0m9 0h0m9 0h0m-146 1h0m67 0h0m20 0h0m35 0h0m39 0h0m-182 1h0m3 0h0m53 0h0m11 0h0m15 0h0m36 0h0m32 0h0m-137 1h0m39 0h0m33 0h0m35 0h0m75 0h0m-193 1h0m25 0h0m42 0h0m25 0h0m2 0h0m6 0h0m39 0h0m-147 1h0m79 0h0m5 0h0m84 0h0m-167 1h0m14 0h0m7 0h0m12 0h0m19 0h0m37 0h0m4 0h0m32 0h0m11 0h0m8 0h0m-131 1h0m1 0h0m28 0h0m57 0h0m31 0h0m-130 1h0m75 0h0m23 0h0m13 0h0m28 0h0m-131 1h0m85 0h0m3 0h0m21 0h0m33 0h0m7 0h0m4 0h0m25 0h0m-176 1h0m14 0h0m46 0h0m61 0h0m-112 1h0m50 0h0m51 0h0m1 0h0m3 0h0m-63 1h0m7 0h0m25 0h0m13 0h0m30 0h0m10 0h0m-143 1h0m60 0h0m22 0h0m39 0h0m-88 1h0m2 0h0m19 0h0m9 0h0m3 0h0m57 0h0m-113 1h0m80 0h0m10 0h0m26 0h0m-127 1h0m8 0h0m44 0h0m21 0h0m9 0h0m75 0h0m-150 1h0m1 0h0m3 0h0m12 0h0m23 0h0m38 0h0m14 0h0m-99 1h0m5 0h0m4 0h0m104 0h0m15 0h0m3 0h0m-80 1h0m47 0h0m18 0h0m29 0h0m-140 1h0m116 0h0m-113 1h0m62 0h0m5 0h0m27 0h0m20 0h0m4 0h0m-106 1h0m12 0h0m24 0h0m35 0h0m-91 1h0m4 0h0m3 0h0m4 0h0m32 0h0m23 0h0m12 0h0m58 0h0m-128 1h0m1 1h0m126 0h0m-137 1h0m64 0h0m3 0h0m14 0h0m31 0h0m23 0h0m23 0h0m-157 1h0m76 0h0m10 0h0m2 0h0m54 0h0m53 0h0m-183 1h0m59 0h0m81 0h0m-153 1h0m5 0h0m84 0h0m-78 1h0m-3 1h0m8 0h0m107 0h0m-113 1h0m2 0h0m7 0h0m101 0h0m-41 1h0m12 0h0m4 0h0m12 0h0m18 0h0m58 0h0m-186 1h0m64 0h0m-12 1h0m21 0h0m61 0h0m-119 1h0m59 0h0m8 0h0m71 0h0m-113 1h0m13 0h0m20 0h0m17 0h0m7 0h0m24 0h0m45 0h0m-168 1h0m62 1h0m53 1h0m55 0h0m-47 2h0m35 1h0m-69 1h0m18 0h0m13 0h0m61 1h0m-80 1h0m-10 6h0" stroke="#2e2eae" stroke-width="1.50" stroke-linecap="round" fill="none"/>
<path transform="translate(.5 .5)" d="M468 1132h0m-43 25h0m-31 1h0m6 4h0m-17 4h0m16 0h0m48 7h0m-63 2h0m20 0h0m-8 2h0m-4 1h0m-1 1h0m2 1h0m-1 2h0m38 1h0m-42 1h0m67 0h0m-68 1h0m57 0h0m-52 1h0m14 1h0m31 0h0m82 0h0m42 0h0m4 0h0m-178 1h0m75 0h0m-85 1h0m25 1h0m7 0h0m29 0h0m29 0h0m-88 1h0m57 0h0m47 0h0m30 0h0m-112 1h0m79 0h0m-40 1h0m45 0h0m33 1h0m-64 1h0m59 0h0m33 0h0m-157 1h0m73 0h0m63 1h0m-33 1h0m-39 1h0m8 0h0m2 0h0m20 0h0m12 0h0m-99 1h0m87 0h0m-83 1h0m87 0h0m12 0h0m-3 1h0m-112 1h0m12 0h0m60 0h0m51 0h0m8 0h0m-123 1h0m3 0h0m106 0h0m-118 1h0m8 0h0m37 0h0m4 0h0m27 0h0m7 0h0m-19 1h0m100 0h0m-169 1h0m167 0h0m-29 1h0m-45 1h0m-83 1h0m102 0h0m22 0h0m-77 1h0m7 0h0m8 0h0m12 0h0m22 0h0m18 0h0m-112 1h0m125 0h0m-109 1h0m35 0h0m96 0h0m-131 1h0m56 0h0m11 0h0m78 0h0m-85 1h0m47 0h0m-104 1h0m94 0h0m5 0h0m4 0h0m-122 1h0m135 0h0m-134 1h0m45 0h0m8 0h0m1 0h0m21 0h0m-15 1h0m63 0h0m35 0h0m-145 1h0m73 0h0m-86 1h0m14 0h0m41 0h0m38 0h0m18 0h0m2 0h0m-58 1h0m2 0h0m-59 1h0m40 0h0m7 0h0m42 0h0m15 1h0m16 0h0m1 0h0m-36 1h0m-75 1h0m27 0h0m57 0h0m19 0h0m49 0h0m-114 1h0m28 0h0m41 0h0m52 0h0m-173 1h0m79 0h0m48 0h0m30 0h0m-108 1h0m15 0h0m25 0h0m-89 1h0m81 0h0m37 0h0m24 0h0m45 0h0m-190 1h0m17 0h0m34 0h0m19 0h0m10 0h0m35 0h0m17 0h0m24 0h0m-152 1h0m81 0h0m42 0h0m-117 2h0m32 0h0m81 0h0m-115 1h0m5 0h0m56 0h0m77 0h0m3 0h0m25 0h0m-88 1h0m9 0h0m-85 1h0m33 0h0m48 0h0m-94 1h0m16 0h0m2 0h0m54 0h0m28 0h0m-87 2h0m66 0h0m-87 1h0m10 0h0m20 1h0m45 0h0m85 0h0m-146 1h0m2 0h0m10 0h0m52 0h0m-65 1h0m131 0h0m-120 1h0m9 0h0m64 0h0m39 0h0m25 0h0m-54 1h0m35 0h0m16 0h0m-146 1h0m120 0h0m-110 1h0m2 0h0m55 0h0m26 0h0m-43 1h0m-55 1h0m11 0h0m2 0h0m49 0h0m36 0h0m83 0h0m-156 1h0m18 0h0m-35 1h0m67 0h0m78 0h0m-140 1h0m43 0h0m20 0h0m-3 1h0m50 0h0m-114 1h0m10 0h0m-9 1h0m117 1h0m-31 1h0m9 0h0m14 2h0m-35 6h0m-21 1h0m73 1h0" stroke="#5252c8" stroke-width="1.50" stroke-linecap="round" fill="none"/>
<path transform="translate(.5 .5)" d="M385 1151h0m64 3h0m-59 8h0m-1 3h0m6 0h0m-8 2h0m35 0h0m10 0h0m-41 5h0m13 2h0m-15 1h0m57 1h0m-38 2h0m-4 5h0m43 0h0m6 2h0m81 3h0m-101 1h0m100 0h0m-141 1h0m102 2h0m-90 1h0m72 0h0m-86 1h0m66 1h0m-18 2h0m-42 1h0m90 0h0m-3 1h0m-90 1h0m77 0h0m30 1h0m-108 2h0m101 0h0m-108 1h0m105 0h0m-59 1h0m115 0h0m4 0h0m-70 2h0m3 0h0m69 1h0m-149 1h0m3 0h0m130 1h0m-120 1h0m3 0h0m3 0h0m68 0h0m12 0h0m-9 1h0m-37 1h0m11 0h0m110 0h0m-106 1h0m-83 1h0m78 0h0m26 0h0m-105 1h0m38 2h0m53 0h0m64 0h0m-121 1h0m152 0h0m-193 1h0m14 0h0m148 0h0m-167 1h0m6 0h0m54 0h0m-57 1h0m18 0h0m85 0h0m-53 1h0m24 0h0m-39 1h0m4 0h0m59 0h0m7 0h0m21 0h0m10 1h0m19 0h0m-107 1h0m34 0h0m-64 2h0m-12 1h0m12 0h0m2 0h0m111 0h0m69 0h0m-124 1h0m2 0h0m-73 1h0m54 0h0m45 0h0m53 0h0m-80 1h0m80 0h0m7 1h0m-80 1h0m50 0h0m-18 1h0m47 0h0m-129 1h0m22 0h0m13 0h0m32 0h0m-98 1h0m21 0h0m37 1h0m37 0h0m-46 1h0m6 0h0m-24 1h0m80 0h0m-13 1h0m47 0h0m23 0h0m-144 2h0m9 0h0m91 1h0m-86 1h0m112 0h0m-152 1h0m84 0h0m12 0h0m-93 1h0m73 0h0m44 0h0m20 0h0m-139 1h0m10 3h0m68 0h0m73 0h0m-152 2h0m116 0h0m-5 1h0m-102 1h0m106 1h0m30 0h0m-10 2h0m-34 4h0m-76 5h0m24 0h0m59 1h0" stroke="#8a8ae0" stroke-width="1.50" stroke-linecap="round" fill="none"/>
<path transform="translate(.5 .5)" d="M395 1149h0m1 1h0m-1 1h0m-5 1h0m2 1h0m9 0h0m-2 1h0m-6 1h0m3 0h0m1 0h0m-7 3h0m7 0h0m-4 1h0m2 1h0m1 0h0m-4 2h0m-3 1h0m2 2h0m-1 1h0m-2 8h0m3 0h0m-3 5h0m12 5h0m-1 6h0m-12 1h0m11 10h0m-2 1h0m-11 1h0m12 2h0m1 0h0m-1 1h0m-12 1h0m-1 1h0m13 3h0m-13 1h0m15 2h0m-1 2h0m-1 1h0m-13 4h0m11 7h0m0 1h0m-13 2h0m15 0h0m-2 3h0m-14 6h0m14 1h0m2 8h0m-15 1h0m13 1h0m-14 4h0" stroke="#272aad" stroke-width="1.60" stroke-linecap="round" fill="none"/>
<path transform="translate(.5 .5)" d="M395 1156h0m0 4h0m1 0h0m-2 1h0m1 2h0m-1 1h0m-1 1h0m3 2h0m-2 4h0m-2 3h0m1 1h0m-1 1h0m1 2h0m-1 2h0m4 0h0m-5 2h0m4 0h0m-6 1h0m6 7h0m1 1h0m-1 8h0m0 3h0m-9 1h0m9 2h0m-9 1h0m10 0h0m-10 1h0m0 2h0m10 0h0m-1 3h0m-8 2h0m8 0h0m-10 5h0m10 0h0m-10 6h0m0 1h0m10 1h0m-10 2h0m0 2h0m10 0h0m0 11h0m-12 5h0m0 1h0m9 1h0m1 0h0m-1 1h0m0 4h0" stroke="#2e35bd" stroke-width="1.60" stroke-linecap="round" fill="none"/>
<path transform="translate(.5 .5)" d="M393 1173h0m0 1h0m0 6h0m1 1h0m0 9h0m-1 1h0m-3 1h0m-1 3h0m5 8h0m-6 1h0m-1 2h0m1 1h0m6 0h0m-7 4h0m0 2h0m7 0h0m-9 4h0m9 0h0m0 2h0m0 2h0m-8 1h0m8 5h0m0 3h0m0 2h0m0 2h0m-9 6h0m-2 1h0m0 3h0m9 3h0m-9 2h0m9 2h0m-2 4h0m1 0h0m0 1h0m-7 2h0" stroke="#3658ce" stroke-width="1.60" stroke-linecap="round" fill="none"/>
<path transform="translate(.5 .5)" d="M393 1187h0m-2 4h0m-2 3h0m5 3h0m-4 4h0m3 0h0m1 0h0m-5 1h0m0 2h0m6 0h0m-6 1h0m4 1h0m-5 1h0m6 0h0m-6 1h0m6 3h0m-6 2h0m0 2h0m6 1h0m-7 1h0m-1 6h0m0 1h0m1 5h0m-2 1h0m7 0h0m0 3h0m-7 1h0m0 2h0m0 3h0m-1 1h0m1 5h0m0 4h0m-1 1h0m1 0h0m5 1h0m1 0h0" stroke="#42ace0" stroke-width="1.60" stroke-linecap="round" fill="none"/>
<path transform="translate(.5 .5)" d="M390 1193h0m0 4h0m3 6h0m-4 2h0m2 1h0m-3 1h0m4 0h0m-4 1h0m1 0h0m-1 1h0m2 0h0m2 0h0m-4 1h0m1 0h0m4 0h0m-4 1h0m-1 2h0m5 0h0m-4 2h0m-1 1h0m0 1h0m5 0h0m-5 1h0m4 0h0m-4 1h0m4 1h0m0 3h0m1 2h0m-6 1h0m3 0h0m3 1h0m-7 2h0m0 5h0m0 5h0m-2 3h0m8 1h0m0 1h0m-7 1h0m0 1h0m7 2h0m-2 2h0m-2 4h0m-3 1h0m3 0h0m1 0h0" stroke="#4dcdb6" stroke-width="1.60" stroke-linecap="round" fill="none"/>
<path transform="translate(.5 .5)" d="M392 1199h0m-2 2h0m2 4h0m0 1h0m-4 1h0m3 1h0m1 0h0m-4 2h0m1 0h0m2 0h0m1 0h0m-3 1h0m3 0h0m-2 1h0m1 0h0m1 0h0m-1 1h0m-2 1h0m4 0h0m-3 1h0m1 2h0m-2 1h0m1 0h0m1 0h0m-4 1h0m1 0h0m1 0h0m2 1h0m1 0h0m0 2h0m-1 1h0m-3 2h0m2 2h0m2 1h0m-4 1h0m-1 1h0m5 2h0m0 2h0m-6 3h0m6 1h0m-7 3h0m0 1h0m6 4h0m-1 3h0m-5 3h0m2 1h0m1 0h0m1 0h0m-2 3h0m2 1h0" stroke="#57d56d" stroke-width="1.60" stroke-linecap="round" fill="none"/>
<path transform="translate(.5 .5)" d="M391 1202h0m0 6h0m-2 3h0m3 1h0m1 1h0m-5 1h0m2 0h0m0 1h0m2 0h0m-3 4h0m2 0h0m-2 1h0m1 1h0m0 1h0m-1 1h0m1 0h0m-2 1h0m3 0h0m-3 1h0m1 0h0m2 1h0m-5 6h0m1 0h0m-1 2h0m1 0h0m4 0h0m-4 1h0m2 9h0m-4 1h0m1 0h0m4 0h0m-4 1h0m5 0h0m-1 2h0m0 1h0m-2 1h0m2 0h0m-4 2h0m1 0h0m2 0h0m1 0h0m-3 1h0m1 0h0" stroke="#7ddb44" stroke-width="1.60" stroke-linecap="round" fill="none"/>
<path transform="translate(.5 .5)" d="M392 1204h0m-1 5h0m-2 2h0m1 2h0m0 1h0m2 0h0m-1 1h0m-1 1h0m0 1h0m0 2h0m1 3h0m-1 5h0m1 1h0m-4 1h0m4 1h0m-2 1h0m-1 2h0m2 0h0m0 6h0m-4 3h0m0 1h0m0 3h0m0 1h0m2 1h0m0 3h0" stroke="#ace128" stroke-width="1.60" stroke-linecap="round" fill="none"/>
<path transform="translate(.5 .5)" d="M391 1210h0m-1 6h0m-1 5h0m1 4h0m1 1h0m0 4h0m-2 2h0m1 0h0m-3 2h0m2 0h0m2 1h0m-1 2h0m-3 2h0m2 0h0m-2 2h0m-1 1h0m4 0h0m-4 1h0m2 2h0m1 1h0m-1 1h0m-1 2h0m1 0h0m1 0h0m-1 1h0m1 1h0" stroke="#d6e428" stroke-width="1.60" stroke-linecap="round" fill="none"/>
<path transform="translate(.5 .5)" d="M391 1228h0m-4 10h0m2 4h0m-2 2h0m0 2h0m1 0h0m1 1h0m-2 5h0" stroke="#f3d125" stroke-width="1.60" stroke-linecap="round" fill="none"/>
<path transform="translate(.5 .5)" d="M388 1238h0m1 0h0m0 1h0m-1 1h0m1 3h0m0 1h0m0 1h0m-1 3h0m1 2h0" stroke="#fa991e" stroke-width="1.60" stroke-linecap="round" fill="none"/>
<path transform="translate(.5 .5)" d="M388 1238h0m1 1h0m1 0h0m-2 1h0m1 1h0m-1 1h0m1 0h0m2 0h0m-3 1h0m0 1h0" stroke="#ed481e" stroke-width="1.60" stroke-linecap="round" fill="none"/>
<line x1="330.5" y1="1019.9" x2="585.8" y2="1019.9" stroke="#3b3b3b" stroke-width="1.3"/>
<line x1="330.5" y1="1019.9" x2="330.5" y2="1275" stroke="#3b3b3b" stroke-width="1.3"/>
<line x1="585.8" y1="1019.3" x2="585.8" y2="1276" stroke="#222" stroke-width="2.0"/>
<line x1="329.9" y1="1275" x2="586.8" y2="1275" stroke="#333" stroke-width="2.0"/>
<path d="M413.8,1062.4 L576.2,1063 L574.5,1269.9 L399.6,1266.3 Z" stroke="#111" stroke-width="2.2" fill="none"/>
<text transform="translate(462,1171.4) scale(1.0,1.05)" font-size="32" style="stroke-width:0.7px">17.5</text>
<path transform="translate(.5 .5)" d="M797 1123h0m51 2h0m-122 7h0m129 0h0m-141 5h0m10 0h0m-1 1h0m4 0h0m-4 1h0m10 0h0m100 1h0m8 0h0m-113 1h0m83 1h0m-82 1h0m78 0h0m-82 1h0m3 0h0m-2 1h0m-5 1h0m4 0h0m41 0h0m95 1h0m-69 2h0m80 1h0m-150 1h0m14 0h0m-28 1h0m52 0h0m30 0h0m-86 4h0m11 1h0m-2 2h0m5 1h0m15 1h0m-15 1h0m148 0h0m-131 1h0m-28 1h0m8 3h0m30 0h0m-35 2h0m13 0h0m3 2h0m-12 1h0m14 0h0m42 0h0m-64 1h0m8 1h0m51 0h0m5 0h0m-47 1h0m-6 1h0m12 0h0m134 0h0m-151 1h0m6 0h0m23 0h0m105 0h0m-140 1h0m15 0h0m145 1h0m-163 1h0m4 0h0m17 0h0m-16 1h0m17 0h0m4 0h0m-7 1h0m134 0h0m-137 1h0m136 0h0m-145 1h0m2 0h0m10 0h0m2 0h0m4 0h0m27 0h0m96 0h0m-126 1h0m4 0h0m24 0h0m1 0h0m3 0h0m87 0h0m-111 1h0m116 0h0m-128 1h0m156 0h0m-170 2h0m2 0h0m20 0h0m40 1h0m-41 1h0m17 0h0m102 0h0m-72 1h0m-72 1h0m12 0h0m54 0h0m50 0h0m-95 1h0m33 0h0m26 0h0m23 0h0m20 0h0m23 0h0m-131 1h0m34 0h0m39 0h0m7 0h0m-102 1h0m26 0h0m19 0h0m9 0h0m21 0h0m46 0h0m16 0h0m34 0h0m-144 1h0m7 0h0m22 0h0m20 0h0m1 0h0m2 0h0m51 0h0m2 0h0m-96 1h0m7 0h0m13 0h0m-39 1h0m5 0h0m15 0h0m3 0h0m27 0h0m3 0h0m7 0h0m22 0h0m10 0h0m1 0h0m1 0h0m1 0h0m22 0h0m22 0h0m32 0h0m-173 1h0m1 0h0m3 0h0m43 0h0m38 0h0m1 0h0m4 0h0m17 0h0m46 0h0m-157 1h0m31 0h0m24 0h0m36 0h0m33 0h0m-67 1h0m24 0h0m4 0h0m3 0h0m-77 1h0m8 0h0m2 0h0m4 0h0m34 0h0m18 0h0m25 0h0m1 0h0m3 0h0m13 0h0m-118 1h0m46 0h0m2 0h0m4 0h0m15 0h0m8 0h0m5 0h0m22 0h0m1 0h0m7 0h0m45 0h0m17 0h0m-169 1h0m3 0h0m11 0h0m5 0h0m16 0h0m12 0h0m3 0h0m3 0h0m5 0h0m28 0h0m10 0h0m-97 1h0m3 0h0m1 0h0m65 0h0m7 0h0m1 0h0m10 0h0m37 0h0m-125 1h0m4 0h0m3 0h0m19 0h0m1 0h0m6 0h0m1 0h0m36 0h0m29 0h0m17 0h0m-79 1h0m18 0h0m1 0h0m18 0h0m7 0h0m2 0h0m6 0h0m12 0h0m48 0h0m-145 1h0m15 0h0m11 0h0m11 0h0m11 0h0m23 0h0m15 0h0m6 0h0m14 0h0m-122 1h0m62 0h0m23 0h0m9 0h0m9 0h0m8 0h0m13 0h0m5 0h0m-127 1h0m16 0h0m5 0h0m16 0h0m1 0h0m7 0h0m11 0h0m5 0h0m6 0h0m11 0h0m7 0h0m1 0h0m6 0h0m3 0h0m12 0h0m27 0h0m1 0h0m20 0h0m-133 1h0m7 0h0m43 0h0m1 0h0m13 0h0m7 0h0m2 0h0m1 0h0m13 0h0m5 0h0m12 0h0m34 0h0m-147 1h0m8 0h0m21 0h0m3 0h0m12 0h0m5 0h0m10 0h0m19 0h0m2 0h0m30 0h0m9 0h0m6 0h0m-94 1h0m4 0h0m6 0h0m18 0h0m2 0h0m4 0h0m8 0h0m22 0h0m5 0h0m30 0h0m-116 1h0m20 0h0m16 0h0m1 0h0m4 0h0m5 0h0m3 0h0m20 0h0m16 0h0m3 0h0m19 0h0m2 0h0m20 0h0m18 0h0m-157 1h0m7 0h0m43 0h0m11 0h0m10 0h0m4 0h0m4 0h0m3 0h0m3 0h0m10 0h0m4 0h0m5 0h0m8 0h0m6 0h0m50 0h0m-178 1h0m17 0h0m21 0h0m3 0h0m7 0h0m1 0h0m4 0h0m5 0h0m2 0h0m9 0h0m2 0h0m2 0h0m16 0h0m9 0h0m12 0h0m4 0h0m3 0h0m10 0h0m-117 1h0m11 0h0m5 0h0m14 0h0m15 0h0m2 0h0m1 0h0m12 0h0m1 0h0m1 0h0m12 0h0m1 0h0m1 0h0m2 0h0m8 0h0m2 0h0m1 0h0m16 0h0m-77 1h0m2 0h0m8 0h0m4 0h0m2 0h0m5 0h0m5 0h0m9 0h0m16 0h0m1 0h0m3 0h0m10 0h0m3 0h0m17 0h0m6 0h0m1 0h0m-131 1h0m8 0h0m13 0h0m12 0h0m1 0h0m2 0h0m2 0h0m9 0h0m4 0h0m1 0h0m2 0h0m2 0h0m17 0h0m1 0h0m1 0h0m4 0h0m2 0h0m6 0h0m4 0h0m7 0h0m4 0h0m15 0h0m6 0h0m3 0h0m2 0h0m1 0h0m5 0h0m23 0h0m13 0h0m-175 1h0m13 0h0m4 0h0m19 0h0m12 0h0m9 0h0m2 0h0m1 0h0m2 0h0m5 0h0m9 0h0m3 0h0m18 0h0m7 0h0m3 0h0m6 0h0m11 0h0m1 0h0m4 0h0m7 0h0m7 0h0m33 0h0m-216 1h0m48 0h0m12 0h0m20 0h0m4 0h0m11 0h0m5 0h0m12 0h0m11 0h0m8 0h0m9 0h0m2 0h0m2 0h0m5 0h0m3 0h0m12 0h0m26 0h0m-139 1h0m14 0h0m8 0h0m21 0h0m1 0h0m4 0h0m6 0h0m1 0h0m1 0h0m1 0h0m5 0h0m8 0h0m5 0h0m7 0h0m3 0h0m2 0h0m5 0h0m3 0h0m11 0h0m4 0h0m12 0h0m1 0h0m23 0h0m4 0h0m-148 1h0m11 0h0m6 0h0m17 0h0m8 0h0m7 0h0m22 0h0m2 0h0m6 0h0m3 0h0m1 0h0m1 0h0m4 0h0m4 0h0m8 0h0m4 0h0m4 0h0m2 0h0m28 0h0m20 0h0m-150 1h0m2 0h0m14 0h0m9 0h0m4 0h0m10 0h0m1 0h0m5 0h0m3 0h0m3 0h0m1 0h0m3 0h0m11 0h0m1 0h0m1 0h0m4 0h0m4 0h0m13 0h0m2 0h0m2 0h0m7 0h0m7 0h0m55 0h0m-171 1h0m3 0h0m1 0h0m3 0h0m2 0h0m8 0h0m2 0h0m7 0h0m2 0h0m8 0h0m4 0h0m8 0h0m10 0h0m4 0h0m2 0h0m1 0h0m6 0h0m1 0h0m1 0h0m11 0h0m2 0h0m1 0h0m17 0h0m13 0h0m16 0h0m10 0h0m5 0h0m10 0h0m-154 1h0m5 0h0m1 0h0m10 0h0m6 0h0m1 0h0m2 0h0m6 0h0m3 0h0m1 0h0m19 0h0m7 0h0m6 0h0m5 0h0m4 0h0m8 0h0m9 0h0m6 0h0m3 0h0m1 0h0m15 0h0m-151 1h0m36 0h0m18 0h0m7 0h0m6 0h0m4 0h0m1 0h0m2 0h0m13 0h0m7 0h0m2 0h0m8 0h0m10 0h0m8 0h0m15 0h0m15 0h0m4 0h0m5 0h0m-141 1h0m8 0h0m11 0h0m5 0h0m4 0h0m4 0h0m1 0h0m3 0h0m27 0h0m1 0h0m1 0h0m10 0h0m5 0h0m4 0h0m7 0h0m17 0h0m1 0h0m2 0h0m10 0h0m10 0h0m6 0h0m34 0h0m-172 1h0m3 0h0m4 0h0m6 0h0m1 0h0m9 0h0m13 0h0m7 0h0m6 0h0m8 0h0m4 0h0m1 0h0m2 0h0m5 0h0m2 0h0m2 0h0m2 0h0m2 0h0m3 0h0m2 0h0m1 0h0m4 0h0m1 0h0m12 0h0m9 0h0m13 0h0m16 0h0m26 0h0m-158 1h0m7 0h0m13 0h0m2 0h0m4 0h0m4 0h0m4 0h0m10 0h0m1 0h0m3 0h0m7 0h0m8 0h0m6 0h0m1 0h0m5 0h0m2 0h0m2 0h0m5 0h0m1 0h0m4 0h0m4 0h0m1 0h0m6 0h0m8 0h0m3 0h0m14 0h0m1 0h0m51 0h0m-180 1h0m9 0h0m11 0h0m5 0h0m12 0h0m10 0h0m6 0h0m4 0h0m7 0h0m6 0h0m1 0h0m4 0h0m3 0h0m4 0h0m6 0h0m5 0h0m14 0h0m2 0h0m7 0h0m1 0h0m5 0h0m-99 1h0m1 0h0m1 0h0m3 0h0m1 0h0m1 0h0m5 0h0m1 0h0m7 0h0m4 0h0m3 0h0m7 0h0m1 0h0m3 0h0m10 0h0m6 0h0m1 0h0m2 0h0m3 0h0m1 0h0m1 0h0m1 0h0m2 0h0m12 0h0m1 0h0m1 0h0m2 0h0m2 0h0m8 0h0m1 0h0m10 0h0m4 0h0m4 0h0m2 0h0m2 0h0m10 0h0m-141 1h0m9 0h0m5 0h0m9 0h0m1 0h0m4 0h0m1 0h0m5 0h0m1 0h0m8 0h0m3 0h0m6 0h0m11 0h0m3 0h0m1 0h0m2 0h0m2 0h0m1 0h0m1 0h0m3 0h0m7 0h0m8 0h0m4 0h0m1 0h0m1 0h0m9 0h0m3 0h0m5 0h0m16 0h0m14 0h0m6 0h0m-164 1h0m25 0h0m3 0h0m4 0h0m16 0h0m4 0h0m2 0h0m2 0h0m4 0h0m4 0h0m1 0h0m5 0h0m3 0h0m1 0h0m1 0h0m6 0h0m3 0h0m12 0h0m2 0h0m4 0h0m2 0h0m6 0h0m3 0h0m1 0h0m17 0h0m1 0h0m6 0h0m-133 1h0m10 0h0m11 0h0m2 0h0m8 0h0m2 0h0m12 0h0m7 0h0m9 0h0m4 0h0m3 0h0m1 0h0m3 0h0m1 0h0m2 0h0m10 0h0m2 0h0m2 0h0m1 0h0m3 0h0m3 0h0m7 0h0m4 0h0m7 0h0m18 0h0m9 0h0m8 0h0m11 0h0m-151 1h0m6 0h0m22 0h0m7 0h0m7 0h0m4 0h0m3 0h0m3 0h0m2 0h0m4 0h0m1 0h0m9 0h0m1 0h0m7 0h0m6 0h0m1 0h0m11 0h0m4 0h0m1 0h0m3 0h0m1 0h0m44 0h0m6 0h0m2 0h0m13 0h0m-180 1h0m14 0h0m2 0h0m2 0h0m4 0h0m7 0h0m4 0h0m7 0h0m4 0h0m5 0h0m4 0h0m1 0h0m2 0h0m3 0h0m7 0h0m3 0h0m3 0h0m2 0h0m1 0h0m3 0h0m5 0h0m4 0h0m3 0h0m1 0h0m2 0h0m2 0h0m1 0h0m1 0h0m4 0h0m1 0h0m1 0h0m1 0h0m6 0h0m5 0h0m11 0h0m6 0h0m1 0h0m16 0h0m28 0h0m-167 1h0m11 0h0m2 0h0m5 0h0m2 0h0m11 0h0m9 0h0m3 0h0m7 0h0m23 0h0m2 0h0m2 0h0m8 0h0m8 0h0m6 0h0m4 0h0m8 0h0m75 0h0m-161 1h0m5 0h0m2 0h0m4 0h0m3 0h0m6 0h0m5 0h0m8 0h0m5 0h0m7 0h0m5 0h0m14 0h0m2 0h0m2 0h0m2 0h0m6 0h0m2 0h0m6 0h0m4 0h0m5 0h0m1 0h0m6 0h0m3 0h0m1 0h0m48 0h0m-175 1h0m4 0h0m4 0h0m9 0h0m11 0h0m9 0h0m2 0h0m1 0h0m5 0h0m4 0h0m1 0h0m4 0h0m1 0h0m10 0h0m2 0h0m1 0h0m2 0h0m2 0h0m6 0h0m21 0h0m5 0h0m11 0h0m-120 1h0m2 0h0m19 0h0m13 0h0m9 0h0m11 0h0m7 0h0m1 0h0m11 0h0m3 0h0m1 0h0m2 0h0m8 0h0m5 0h0m16 0h0m14 0h0m-111 1h0m3 0h0m5 0h0m1 0h0m1 0h0m1 0h0m5 0h0m1 0h0m4 0h0m8 0h0m3 0h0m1 0h0m28 0h0m3 0h0m3 0h0m8 0h0m1 0h0m1 0h0m2 0h0m2 0h0m7 0h0m3 0h0m8 0h0m7 0h0m1 0h0m15 0h0m-137 1h0m29 0h0m4 0h0m15 0h0m13 0h0m7 0h0m3 0h0m1 0h0m3 0h0m5 0h0m2 0h0m3 0h0m15 0h0m3 0h0m1 0h0m9 0h0m10 0h0m1 0h0m14 0h0m6 0h0m-133 1h0m8 0h0m4 0h0m5 0h0m3 0h0m4 0h0m11 0h0m7 0h0m3 0h0m4 0h0m16 0h0m10 0h0m13 0h0m9 0h0m1 0h0m13 0h0m2 0h0m26 0h0m-147 1h0m3 0h0m3 0h0m2 0h0m2 0h0m18 0h0m7 0h0m4 0h0m6 0h0m8 0h0m2 0h0m1 0h0m2 0h0m12 0h0m2 0h0m4 0h0m5 0h0m2 0h0m13 0h0m7 0h0m2 0h0m7 0h0m9 0h0m7 0h0m11 0h0m-114 1h0m12 0h0m4 0h0m4 0h0m11 0h0m3 0h0m3 0h0m1 0h0m2 0h0m13 0h0m1 0h0m2 0h0m12 0h0m6 0h0m3 0h0m6 0h0m20 0h0m13 0h0m24 0h0m3 0h0m-168 1h0m3 0h0m10 0h0m16 0h0m11 0h0m1 0h0m4 0h0m3 0h0m5 0h0m1 0h0m9 0h0m2 0h0m1 0h0m15 0h0m1 0h0m2 0h0m8 0h0m1 0h0m5 0h0m14 0h0m12 0h0m5 0h0m6 0h0m-135 1h0m18 0h0m2 0h0m18 0h0m8 0h0m3 0h0m25 0h0m3 0h0m5 0h0m17 0h0m4 0h0m5 0h0m2 0h0m6 0h0m3 0h0m15 0h0m18 0h0m-160 1h0m9 0h0m10 0h0m3 0h0m5 0h0m5 0h0m15 0h0m18 0h0m2 0h0m4 0h0m10 0h0m2 0h0m4 0h0m5 0h0m24 0h0m2 0h0m26 0h0m18 0h0m-153 1h0m7 0h0m5 0h0m9 0h0m4 0h0m6 0h0m9 0h0m5 0h0m10 0h0m5 0h0m17 0h0m2 0h0m15 0h0m8 0h0m12 0h0m9 0h0m25 0h0m3 0h0m-150 1h0m5 0h0m5 0h0m10 0h0m14 0h0m2 0h0m29 0h0m1 0h0m1 0h0m1 0h0m9 0h0m2 0h0m2 0h0m35 0h0m4 0h0m1 0h0m9 0h0m-123 1h0m3 0h0m2 0h0m14 0h0m8 0h0m9 0h0m9 0h0m5 0h0m7 0h0m2 0h0m1 0h0m20 0h0m4 0h0m10 0h0m8 0h0m-112 1h0m11 0h0m9 0h0m1 0h0m4 0h0m22 0h0m19 0h0m21 0h0m3 0h0m1 0h0m4 0h0m22 0h0m5 0h0m12 0h0m53 0h0m-170 1h0m17 0h0m17 0h0m13 0h0m1 0h0m15 0h0m10 0h0m8 0h0m3 0h0m6 0h0m32 0h0m6 0h0m-127 1h0m2 0h0m6 0h0m8 0h0m16 0h0m1 0h0m22 0h0m11 0h0m9 0h0m4 0h0m11 0h0m8 0h0m11 0h0m34 0h0m-130 1h0m3 0h0m2 0h0m26 0h0m7 0h0m59 0h0m-123 1h0m17 0h0m3 0h0m16 0h0m23 0h0m2 0h0m25 0h0m1 0h0m19 0h0m29 0h0m-98 1h0m5 0h0m16 0h0m5 0h0m6 0h0m12 0h0m40 0h0m6 0h0m-96 1h0m3 0h0m7 0h0m13 0h0m9 0h0m4 0h0m9 0h0m8 0h0m-66 1h0m41 0h0m2 0h0m2 0h0m7 0h0m8 0h0m1 0h0m-47 1h0m19 0h0m8 0h0m4 0h0m13 1h0m1 0h0m13 0h0m3 0h0m3 0h0m20 0h0m-96 1h0m25 0h0m49 0h0m29 0h0m5 0h0m-88 1h0m40 0h0m-71 1h0m4 0h0m27 0h0m-18 1h0m24 0h0m12 0h0m9 0h0m11 0h0m25 0h0m-90 1h0m18 0h0m26 0h0m38 0h0m39 0h0m-103 1h0m2 0h0" stroke="#2e2eae" stroke-width="1.50" stroke-linecap="round" fill="none"/>
<path transform="translate(.5 .5)" d="M820 1122h0m29 10h0m-117 4h0m-4 1h0m-4 2h0m85 2h0m48 0h0m-139 2h0m106 0h0m-107 2h0m-18 3h0m31 2h0m89 1h0m-27 2h0m-80 1h0m21 2h0m38 1h0m-8 1h0m94 1h0m-130 2h0m0 1h0m-11 1h0m11 0h0m3 1h0m-10 1h0m-14 1h0m68 0h0m69 1h0m-132 1h0m9 0h0m-8 2h0m8 1h0m-3 5h0m4 1h0m-7 3h0m1 1h0m4 0h0m53 0h0m-44 2h0m-10 1h0m11 0h0m8 0h0m-26 1h0m12 0h0m3 0h0m-6 1h0m30 0h0m94 0h0m-136 1h0m5 0h0m52 0h0m-2 1h0m90 0h0m-139 2h0m156 0h0m-146 1h0m-13 1h0m13 0h0m-11 1h0m112 0h0m19 0h0m10 0h0m-138 1h0m5 0h0m5 0h0m56 0h0m93 0h0m-142 1h0m41 0h0m13 0h0m4 0h0m104 0h0m-182 1h0m10 0h0m3 0h0m28 0h0m8 0h0m49 0h0m24 0h0m29 0h0m-147 2h0m3 0h0m29 0h0m-35 1h0m2 0h0m89 0h0m-97 1h0m100 0h0m44 0h0m-119 1h0m13 0h0m78 0h0m-106 1h0m35 0h0m23 0h0m22 0h0m41 0h0m-67 1h0m4 0h0m6 0h0m24 0h0m59 0h0m-149 1h0m10 0h0m37 0h0m2 0h0m41 0h0m-49 1h0m43 0h0m27 0h0m13 0h0m11 0h0m-143 1h0m2 0h0m52 0h0m2 0h0m23 0h0m8 0h0m48 0h0m-110 1h0m14 0h0m24 0h0m-51 1h0m54 0h0m8 0h0m44 0h0m-65 1h0m8 0h0m34 0h0m13 0h0m41 0h0m7 0h0m11 0h0m-163 1h0m65 0h0m1 0h0m83 0h0m-140 1h0m2 0h0m54 0h0m24 0h0m1 0h0m3 0h0m6 0h0m-89 1h0m20 0h0m2 0h0m8 0h0m13 0h0m11 0h0m5 0h0m62 0h0m6 0h0m-128 1h0m9 0h0m14 0h0m23 0h0m14 0h0m36 0h0m6 0h0m2 0h0m8 0h0m2 0h0m-126 1h0m14 0h0m2 0h0m22 0h0m1 0h0m14 0h0m1 0h0m4 0h0m18 0h0m44 0h0m15 0h0m34 0h0m-160 1h0m12 0h0m3 0h0m28 0h0m1 0h0m3 0h0m14 0h0m15 0h0m12 0h0m7 0h0m8 0h0m45 0h0m-146 1h0m18 0h0m15 0h0m6 0h0m34 0h0m4 0h0m21 0h0m22 0h0m10 0h0m23 0h0m-159 1h0m33 0h0m4 0h0m5 0h0m8 0h0m21 0h0m1 0h0m5 0h0m4 0h0m20 0h0m7 0h0m-114 1h0m3 0h0m34 0h0m18 0h0m3 0h0m13 0h0m47 0h0m62 0h0m-169 1h0m4 0h0m34 0h0m3 0h0m1 0h0m1 0h0m3 0h0m4 0h0m4 0h0m17 0h0m12 0h0m22 0h0m-125 1h0m26 0h0m3 0h0m31 0h0m2 0h0m1 0h0m4 0h0m1 0h0m1 0h0m9 0h0m8 0h0m7 0h0m3 0h0m8 0h0m7 0h0m17 0h0m2 0h0m32 0h0m21 0h0m-161 1h0m10 0h0m21 0h0m21 0h0m3 0h0m6 0h0m12 0h0m11 0h0m1 0h0m19 0h0m10 0h0m27 0h0m6 0h0m-153 1h0m13 0h0m3 0h0m14 0h0m21 0h0m4 0h0m11 0h0m11 0h0m2 0h0m2 0h0m3 0h0m2 0h0m11 0h0m35 0h0m-107 1h0m8 0h0m24 0h0m2 0h0m5 0h0m9 0h0m4 0h0m17 0h0m17 0h0m4 0h0m4 0h0m-170 1h0m53 0h0m3 0h0m3 0h0m4 0h0m13 0h0m9 0h0m5 0h0m1 0h0m4 0h0m2 0h0m1 0h0m9 0h0m5 0h0m1 0h0m4 0h0m4 0h0m6 0h0m4 0h0m11 0h0m13 0h0m26 0h0m2 0h0m27 0h0m-137 1h0m6 0h0m12 0h0m3 0h0m5 0h0m2 0h0m9 0h0m26 0h0m4 0h0m5 0h0m2 0h0m4 0h0m1 0h0m-75 1h0m1 0h0m10 0h0m2 0h0m16 0h0m12 0h0m3 0h0m5 0h0m6 0h0m8 0h0m23 0h0m12 0h0m-121 1h0m8 0h0m5 0h0m22 0h0m2 0h0m1 0h0m3 0h0m2 0h0m9 0h0m8 0h0m3 0h0m3 0h0m1 0h0m10 0h0m9 0h0m5 0h0m5 0h0m5 0h0m4 0h0m2 0h0m3 0h0m29 0h0m-130 1h0m16 0h0m19 0h0m10 0h0m7 0h0m18 0h0m9 0h0m6 0h0m-95 1h0m17 0h0m7 0h0m6 0h0m24 0h0m3 0h0m11 0h0m1 0h0m11 0h0m2 0h0m12 0h0m1 0h0m2 0h0m-113 1h0m6 0h0m18 0h0m2 0h0m1 0h0m35 0h0m1 0h0m5 0h0m9 0h0m3 0h0m2 0h0m2 0h0m7 0h0m8 0h0m26 0h0m2 0h0m59 0h0m-184 1h0m4 0h0m18 0h0m6 0h0m5 0h0m11 0h0m7 0h0m1 0h0m4 0h0m1 0h0m1 0h0m6 0h0m2 0h0m1 0h0m1 0h0m9 0h0m2 0h0m33 0h0m9 0h0m22 0h0m-135 1h0m5 0h0m4 0h0m22 0h0m7 0h0m21 0h0m3 0h0m1 0h0m2 0h0m8 0h0m2 0h0m5 0h0m8 0h0m1 0h0m2 0h0m11 0h0m1 0h0m-107 1h0m10 0h0m9 0h0m18 0h0m3 0h0m4 0h0m2 0h0m7 0h0m9 0h0m4 0h0m9 0h0m4 0h0m5 0h0m14 0h0m24 0h0m-128 1h0m15 0h0m9 0h0m6 0h0m24 0h0m2 0h0m26 0h0m4 0h0m1 0h0m1 0h0m7 0h0m2 0h0m7 0h0m1 0h0m8 0h0m4 0h0m18 0h0m4 0h0m18 0h0m6 0h0m-147 1h0m29 0h0m18 0h0m6 0h0m2 0h0m4 0h0m5 0h0m2 0h0m7 0h0m2 0h0m8 0h0m3 0h0m23 0h0m2 0h0m1 0h0m2 0h0m10 0h0m-95 1h0m14 0h0m18 0h0m2 0h0m1 0h0m8 0h0m3 0h0m6 0h0m3 0h0m19 0h0m5 0h0m7 0h0m-126 1h0m12 0h0m8 0h0m16 0h0m8 0h0m2 0h0m8 0h0m1 0h0m3 0h0m4 0h0m2 0h0m3 0h0m9 0h0m4 0h0m2 0h0m8 0h0m22 0h0m1 0h0m6 0h0m2 0h0m12 0h0m3 0h0m18 0h0m-133 1h0m14 0h0m4 0h0m6 0h0m3 0h0m1 0h0m1 0h0m12 0h0m11 0h0m5 0h0m12 0h0m3 0h0m18 0h0m6 0h0m10 0h0m3 0h0m-132 1h0m15 0h0m3 0h0m2 0h0m2 0h0m2 0h0m10 0h0m20 0h0m9 0h0m2 0h0m22 0h0m8 0h0m17 0h0m12 0h0m-127 1h0m19 0h0m13 0h0m27 0h0m26 0h0m2 0h0m5 0h0m5 0h0m2 0h0m13 0h0m6 0h0m6 0h0m40 0h0m-159 1h0m4 0h0m9 0h0m5 0h0m9 0h0m7 0h0m14 0h0m11 0h0m10 0h0m2 0h0m3 0h0m3 0h0m4 0h0m2 0h0m6 0h0m4 0h0m4 0h0m1 0h0m1 0h0m1 0h0m8 0h0m3 0h0m32 0h0m-114 1h0m2 0h0m6 0h0m6 0h0m9 0h0m21 0h0m2 0h0m2 0h0m4 0h0m110 0h0m-175 1h0m5 0h0m4 0h0m6 0h0m7 0h0m4 0h0m20 0h0m21 0h0m15 0h0m3 0h0m6 0h0m5 0h0m1 0h0m14 0h0m7 0h0m14 0h0m-138 1h0m1 0h0m2 0h0m1 0h0m11 0h0m1 0h0m26 0h0m10 0h0m16 0h0m11 0h0m14 0h0m10 0h0m10 0h0m30 0h0m-147 1h0m16 0h0m6 0h0m7 0h0m15 0h0m11 0h0m10 0h0m3 0h0m2 0h0m6 0h0m11 0h0m13 0h0m2 0h0m38 0h0m-143 1h0m19 0h0m3 0h0m6 0h0m6 0h0m8 0h0m3 0h0m9 0h0m2 0h0m2 0h0m5 0h0m2 0h0m2 0h0m6 0h0m3 0h0m2 0h0m6 0h0m27 0h0m3 0h0m8 0h0m7 0h0m-87 1h0m7 0h0m4 0h0m5 0h0m3 0h0m7 0h0m7 0h0m8 0h0m4 0h0m51 0h0m-143 1h0m4 0h0m24 0h0m17 0h0m3 0h0m14 0h0m16 0h0m2 0h0m3 0h0m17 0h0m8 0h0m32 0h0m-134 1h0m5 0h0m14 0h0m9 0h0m1 0h0m1 0h0m18 0h0m36 0h0m3 0h0m6 0h0m21 0h0m-119 1h0m17 0h0m34 0h0m3 0h0m2 0h0m3 0h0m28 0h0m14 0h0m11 0h0m-64 1h0m11 0h0m13 0h0m3 0h0m20 0h0m25 0h0m10 0h0m59 0h0m-179 1h0m7 0h0m9 0h0m22 0h0m2 0h0m6 0h0m-62 1h0m15 0h0m26 0h0m12 0h0m7 0h0m12 0h0m1 0h0m6 0h0m1 0h0m29 0h0m20 0h0m-119 1h0m7 0h0m2 0h0m6 0h0m35 0h0m2 0h0m25 0h0m34 0h0m6 0h0m12 0h0m-126 1h0m81 0h0m9 0h0m8 0h0m4 0h0m32 0h0m-130 1h0m55 0h0m2 0h0m22 0h0m10 0h0m26 0h0m-120 1h0m18 0h0m49 0h0m3 0h0m3 0h0m3 0h0m12 0h0m9 0h0m35 0h0m-101 1h0m40 0h0m45 0h0m43 0h0m-112 1h0m2 0h0m25 0h0m2 0h0m41 0h0m-60 1h0m18 0h0m12 0h0m61 0h0m-108 1h0m22 0h0m-59 2h0m32 0h0m23 0h0m-42 1h0m102 0h0m-89 1h0m35 0h0m73 0h0m-108 1h0m37 0h0m17 0h0m-31 2h0m7 0h0m42 0h0m5 0h0m17 0h0m-51 1h0m12 0h0m87 0h0m-142 1h0m48 0h0m51 0h0m-59 1h0" stroke="#5252c8" stroke-width="1.50" stroke-linecap="round" fill="none"/>
<path transform="translate(.5 .5)" d="M796 1126h0m-9 7h0m35 7h0m-100 1h0m15 4h0m-32 2h0m22 4h0m-6 1h0m-6 3h0m9 6h0m1 0h0m13 1h0m20 3h0m-51 1h0m28 1h0m-19 7h0m4 0h0m10 1h0m133 1h0m25 0h0m-181 3h0m5 1h0m16 3h0m-14 1h0m13 0h0m23 0h0m-30 2h0m133 1h0m-138 2h0m-45 1h0m201 0h0m-121 1h0m6 0h0m-27 1h0m30 1h0m54 0h0m-89 1h0m15 0h0m15 0h0m-14 2h0m109 0h0m-86 1h0m31 0h0m5 0h0m23 0h0m-55 1h0m33 0h0m-71 1h0m49 0h0m40 0h0m-27 1h0m-87 1h0m27 0h0m2 0h0m87 0h0m-101 1h0m35 1h0m-45 1h0m14 0h0m9 0h0m85 0h0m-73 1h0m7 0h0m33 0h0m21 0h0m5 0h0m11 0h0m21 0h0m-115 1h0m41 1h0m12 0h0m52 0h0m3 0h0m-110 1h0m1 0h0m39 0h0m18 0h0m48 0h0m-45 1h0m17 0h0m57 0h0m-76 1h0m30 0h0m12 0h0m-122 1h0m47 0h0m-31 1h0m8 0h0m67 0h0m-59 1h0m27 0h0m7 0h0m30 0h0m-91 1h0m30 0h0m43 0h0m1 0h0m5 0h0m34 0h0m-65 1h0m4 0h0m29 0h0m33 0h0m-114 1h0m40 0h0m8 0h0m62 0h0m5 0h0m16 0h0m-70 1h0m6 0h0m24 0h0m27 0h0m36 0h0m-169 1h0m21 0h0m6 0h0m15 0h0m13 0h0m3 0h0m1 0h0m58 0h0m9 0h0m13 0h0m3 0h0m-123 1h0m10 0h0m26 0h0m5 0h0m29 0h0m9 0h0m46 0h0m8 0h0m-108 1h0m2 0h0m23 0h0m22 0h0m4 0h0m11 0h0m6 0h0m4 0h0m33 0h0m-98 1h0m34 0h0m16 0h0m25 0h0m2 0h0m11 0h0m21 0h0m-118 1h0m31 0h0m1 0h0m12 0h0m7 0h0m19 0h0m15 0h0m-105 1h0m5 0h0m32 0h0m8 0h0m23 0h0m3 0h0m11 0h0m4 0h0m4 0h0m2 0h0m13 0h0m-92 1h0m10 0h0m26 0h0m18 0h0m10 0h0m6 0h0m5 0h0m10 0h0m4 0h0m52 0h0m-155 1h0m15 0h0m17 0h0m7 0h0m11 0h0m13 0h0m8 0h0m4 0h0m71 0h0m-131 1h0m11 0h0m9 0h0m3 0h0m39 0h0m2 0h0m9 0h0m11 0h0m56 0h0m1 0h0m-104 1h0m14 0h0m-51 1h0m15 0h0m2 0h0m5 0h0m9 0h0m12 0h0m10 0h0m6 0h0m5 0h0m29 0h0m-112 1h0m34 0h0m39 0h0m7 0h0m2 0h0m12 0h0m2 0h0m3 0h0m6 0h0m53 0h0m8 0h0m-191 1h0m36 0h0m1 0h0m44 0h0m7 0h0m5 0h0m1 0h0m4 0h0m3 0h0m5 0h0m19 0h0m2 0h0m18 0h0m-123 1h0m2 0h0m41 0h0m12 0h0m32 0h0m1 0h0m5 0h0m32 0h0m-121 1h0m2 0h0m14 0h0m1 0h0m14 0h0m18 0h0m33 0h0m8 0h0m1 0h0m3 0h0m14 0h0m1 0h0m36 0h0m-163 1h0m22 0h0m29 0h0m9 0h0m13 0h0m7 0h0m8 0h0m7 0h0m1 0h0m48 0h0m6 0h0m-118 1h0m14 0h0m3 0h0m10 0h0m6 0h0m3 0h0m18 0h0m8 0h0m17 0h0m15 0h0m-109 1h0m13 0h0m1 0h0m22 0h0m14 0h0m58 0h0m4 0h0m4 0h0m-100 1h0m15 0h0m35 0h0m5 0h0m29 0h0m4 0h0m28 0h0m-117 1h0m13 0h0m4 0h0m10 0h0m11 0h0m7 0h0m1 0h0m5 0h0m5 0h0m11 0h0m4 0h0m21 0h0m29 0h0m-107 1h0m5 0h0m10 0h0m27 0h0m14 0h0m16 0h0m1 0h0m17 0h0m6 0h0m15 0h0m-126 1h0m23 0h0m2 0h0m10 0h0m13 0h0m12 0h0m12 0h0m1 0h0m2 0h0m11 0h0m25 0h0m29 0h0m-159 1h0m15 0h0m9 0h0m24 0h0m1 0h0m15 0h0m3 0h0m4 0h0m3 0h0m4 0h0m11 0h0m30 0h0m2 0h0m23 0h0m7 0h0m30 0h0m-183 1h0m7 0h0m11 0h0m21 0h0m17 0h0m1 0h0m3 0h0m9 0h0m1 0h0m22 0h0m19 0h0m1 0h0m-95 1h0m14 0h0m41 0h0m2 0h0m11 0h0m11 0h0m1 0h0m4 0h0m49 0h0m-144 1h0m72 0h0m7 0h0m44 0h0m15 0h0m-89 1h0m28 0h0m1 0h0m5 0h0m8 0h0m25 0h0m3 0h0m-111 1h0m20 0h0m15 0h0m1 0h0m24 0h0m1 0h0m37 0h0m29 0h0m27 0h0m-159 1h0m76 0h0m11 0h0m15 0h0m4 0h0m4 0h0m1 0h0m-61 1h0m28 0h0m5 0h0m17 0h0m24 0h0m-75 1h0m15 0h0m2 0h0m2 0h0m15 0h0m7 0h0m4 0h0m34 0h0m-68 1h0m17 0h0m37 0h0m-126 1h0m43 0h0m2 0h0m1 0h0m24 0h0m14 0h0m36 0h0m25 0h0m-124 1h0m36 0h0m24 0h0m10 0h0m1 0h0m23 0h0m-110 1h0m5 0h0m6 0h0m4 0h0m3 0h0m99 0h0m-48 1h0m15 0h0m10 0h0m39 0h0m-119 1h0m22 0h0m22 0h0m13 0h0m14 0h0m41 0h0m-122 1h0m33 0h0m33 0h0m23 0h0m21 0h0m19 0h0m-131 1h0m74 0h0m56 0h0m-77 2h0m2 0h0m57 0h0m-77 1h0m21 0h0m52 0h0m25 0h0m-94 1h0m-13 1h0m26 0h0m16 0h0m29 1h0m23 0h0m-91 1h0m53 0h0m-50 1h0m29 0h0m-20 2h0m-23 1h0m18 0h0m63 1h0m0 2h0" stroke="#8a8ae0" stroke-width="1.50" stroke-linecap="round" fill="none"/>
<path transform="translate(.5 .5)" d="M716 1130h0m1 2h0m2 0h0m-1 1h0m4 0h0m1 0h0m-5 1h0m2 0h0m0 3h0m0 2h0m-6 1h0m3 0h0m4 0h0m-4 1h0m2 0h0m1 0h0m2 0h0m1 1h0m-2 1h0m2 2h0m-1 1h0m-6 1h0m0 2h0m7 0h0m-5 1h0m0 3h0m5 1h0m1 0h0m-9 1h0m1 1h0m10 6h0m2 1h0m-4 2h0m-9 1h0m8 3h0m-13 2h0m14 4h0m3 0h0m-15 3h0m1 0h0m12 0h0m-14 5h0m13 2h0m0 4h0m-12 1h0m11 3h0m-13 3h0m1 3h0m16 0h0m-2 2h0m-15 1h0m1 0h0m0 1h0m0 1h0m14 1h0m-16 2h0m0 1h0m0 1h0m14 0h0m1 2h0m-1 1h0m1 2h0m-14 2h0m15 2h0m-17 2h0m14 0h0m1 2h0m-15 2h0m1 2h0m13 0h0m-13 1h0m17 8h0m-18 1h0m14 0h0m0 1h0m-1 1h0m-13 1h0m13 2h0m0 2h0m2 2h0m-16 2h0m-2 3h0m2 1h0m0 1h0m1 0h0m11 1h0m2 0h0m-14 2h0m1 2h0m11 0h0" stroke="#272aad" stroke-width="1.60" stroke-linecap="round" fill="none"/>
<path transform="translate(.5 .5)" d="M722 1139h0m-1 2h0m-1 1h0m3 1h0m-4 3h0m2 1h0m-2 1h0m1 0h0m2 0h0m0 1h0m0 2h0m-4 3h0m2 0h0m1 0h0m-3 1h0m4 0h0m-5 1h0m6 3h0m-3 1h0m1 2h0m-3 2h0m1 0h0m1 0h0m1 0h0m1 0h0m1 0h0m0 4h0m-3 2h0m1 0h0m-6 2h0m1 1h0m-2 3h0m1 0h0m7 0h0m1 1h0m-1 7h0m1 1h0m0 5h0m0 2h0m-1 2h0m-10 3h0m0 1h0m1 0h0m-2 1h0m1 1h0m1 1h0m9 1h0m-10 2h0m9 0h0m0 1h0m-10 1h0m10 0h0m-10 2h0m11 0h0m-11 1h0m10 1h0m-10 1h0m0 1h0m11 0h0m0 1h0m-11 3h0m0 2h0m-1 3h0m11 1h0m-1 1h0m-10 7h0m11 4h0m-12 3h0m11 6h0m-11 2h0m11 2h0m-12 2h0m12 1h0m-12 1h0m11 3h0m-1 1h0m-9 3h0" stroke="#2e35bd" stroke-width="1.60" stroke-linecap="round" fill="none"/>
<path transform="translate(.5 .5)" d="M720 1157h0m-1 3h0m2 1h0m-3 1h0m0 2h0m1 1h0m-1 1h0m2 0h0m0 1h0m-2 1h0m2 0h0m0 2h0m1 0h0m-2 1h0m-1 1h0m-1 1h0m1 2h0m1 0h0m-2 2h0m-1 1h0m5 0h0m1 2h0m-7 2h0m0 1h0m6 0h0m0 4h0m1 1h0m-2 1h0m1 3h0m0 1h0m-7 2h0m0 1h0m7 1h0m0 2h0m-1 3h0m1 0h0m0 1h0m-8 1h0m8 0h0m0 1h0m-9 1h0m8 0h0m-7 1h0m9 0h0m-10 1h0m9 1h0m-8 1h0m-1 2h0m8 0h0m1 4h0m0 1h0m-1 1h0m-9 1h0m9 0h0m1 1h0m-1 3h0m0 4h0m-10 3h0m0 2h0m10 0h0m-10 1h0m0 1h0m10 2h0m1 0h0m-12 1h0m0 1h0m0 2h0m0 5h0m10 0h0m0 3h0m-9 4h0m0 1h0m-1 1h0m8 0h0m-6 2h0m-1 2h0m6 0h0" stroke="#3658ce" stroke-width="1.60" stroke-linecap="round" fill="none"/>
<path transform="translate(.5 .5)" d="M718 1169h0m2 1h0m-3 1h0m0 4h0m2 3h0m2 0h0m-3 1h0m1 0h0m-3 3h0m0 2h0m-2 5h0m1 0h0m-1 1h0m5 0h0m1 1h0m-4 1h0m-2 1h0m7 0h0m-7 1h0m5 0h0m1 0h0m-6 1h0m2 1h0m4 0h0m-5 1h0m6 0h0m-7 1h0m0 1h0m0 1h0m6 1h0m-1 4h0m1 0h0m-6 1h0m5 0h0m-6 3h0m0 2h0m7 0h0m-8 5h0m1 0h0m7 0h0m-8 1h0m2 0h0m-2 2h0m1 0h0m-1 3h0m-2 1h0m2 0h0m8 1h0m-8 1h0m7 0h0m0 3h0m-1 5h0m1 4h0m0 4h0m0 1h0m-9 3h0m0 1h0m0 2h0m0 1h0m0 1h0m7 0h0m-7 1h0m1 2h0m3 0h0m3 0h0m-6 1h0m4 1h0m-4 1h0m3 1h0m1 0h0m-1 1h0m3 0h0" stroke="#42ace0" stroke-width="1.60" stroke-linecap="round" fill="none"/>
<path transform="translate(.5 .5)" d="M719 1179h0m1 0h0m-4 2h0m2 4h0m0 2h0m-3 4h0m1 0h0m3 2h0m0 1h0m-4 1h0m4 0h0m1 0h0m-2 1h0m1 0h0m1 0h0m-5 1h0m2 0h0m2 0h0m-3 1h0m-1 1h0m5 1h0m-6 1h0m0 1h0m3 2h0m2 1h0m-5 1h0m5 0h0m-5 4h0m0 1h0m-1 1h0m5 1h0m-5 2h0m6 0h0m-7 1h0m1 0h0m4 0h0m1 1h0m1 0h0m-6 2h0m5 1h0m1 0h0m-7 3h0m0 1h0m6 1h0m1 0h0m-7 4h0m6 0h0m0 1h0m0 1h0m1 0h0m-8 3h0m7 0h0m-7 2h0m8 0h0m0 1h0m-1 3h0m1 0h0m-9 3h0m8 1h0m-7 1h0m0 1h0m1 0h0m6 0h0m-6 2h0m4 1h0m1 0h0m-1 1h0m0 1h0m0 1h0m-5 1h0m5 0h0m-5 1h0m5 0h0m-4 1h0m2 0h0m1 0h0m-4 2h0m3 1h0" stroke="#4dcdb6" stroke-width="1.60" stroke-linecap="round" fill="none"/>
<path transform="translate(.5 .5)" d="M719 1189h0m-3 4h0m1 0h0m1 0h0m-1 2h0m2 0h0m0 1h0m-2 2h0m1 1h0m-3 2h0m3 0h0m-3 1h0m1 0h0m3 0h0m-4 1h0m3 0h0m-2 1h0m2 0h0m-2 1h0m3 0h0m-2 1h0m-3 1h0m2 0h0m-1 1h0m1 0h0m3 0h0m-4 1h0m2 0h0m2 0h0m-3 1h0m-2 1h0m3 0h0m1 0h0m-3 1h0m-1 2h0m-1 1h0m1 1h0m4 0h0m1 0h0m0 2h0m-5 1h0m4 0h0m-5 1h0m4 0h0m-3 1h0m2 0h0m2 1h0m1 0h0m-1 1h0m-2 1h0m1 0h0m-5 1h0m2 0h0m-2 1h0m1 1h0m1 0h0m0 1h0m-1 1h0m4 0h0m1 0h0m-6 2h0m6 0h0m-5 1h0m0 1h0m4 0h0m-5 1h0m-1 6h0m7 2h0m-7 2h0m0 1h0m1 1h0m-1 1h0m6 0h0m-5 2h0m4 2h0m-5 1h0m6 0h0m-2 1h0m1 0h0m-5 1h0m2 1h0m1 0h0" stroke="#57d56d" stroke-width="1.60" stroke-linecap="round" fill="none"/>
<path transform="translate(.5 .5)" d="M716 1196h0m2 1h0m-1 1h0m1 0h0m-1 1h0m1 0h0m1 0h0m-3 1h0m1 0h0m0 1h0m-2 1h0m3 0h0m-1 1h0m1 0h0m-3 1h0m1 0h0m1 0h0m-1 1h0m0 1h0m1 0h0m-3 1h0m1 0h0m2 2h0m-1 1h0m0 1h0m1 0h0m-1 1h0m2 0h0m-3 1h0m3 0h0m-3 1h0m0 1h0m1 0h0m2 0h0m-2 1h0m-2 1h0m4 0h0m-2 1h0m1 0h0m1 0h0m-4 1h0m3 0h0m-4 1h0m5 0h0m-1 1h0m-3 1h0m2 0h0m1 1h0m1 0h0m-3 1h0m-1 1h0m3 0h0m1 0h0m0 1h0m-5 1h0m0 2h0m1 0h0m2 0h0m1 0h0m-4 1h0m1 0h0m1 0h0m-3 1h0m1 0h0m3 0h0m-2 2h0m4 2h0m-7 2h0m1 0h0m6 3h0m-7 1h0m0 1h0m6 2h0m-5 2h0m5 1h0m-5 1h0m2 1h0m2 0h0m-3 2h0m1 2h0m1 0h0m-3 1h0m2 0h0m1 0h0" stroke="#7ddb44" stroke-width="1.60" stroke-linecap="round" fill="none"/>
<path transform="translate(.5 .5)" d="M716 1199h0m2 1h0m-3 9h0m2 3h0m-1 1h0m1 0h0m1 0h0m-1 1h0m1 0h0m-2 1h0m1 0h0m1 1h0m-4 3h0m1 0h0m1 0h0m0 1h0m-1 1h0m1 0h0m1 0h0m-2 1h0m1 1h0m1 0h0m-3 1h0m2 0h0m1 0h0m-2 2h0m2 0h0m-4 1h0m2 1h0m1 0h0m-2 1h0m1 0h0m2 0h0m-3 1h0m0 1h0m3 0h0m-3 1h0m1 0h0m-2 1h0m5 0h0m-2 1h0m1 0h0m1 0h0m-6 1h0m0 2h0m2 1h0m3 1h0m-5 1h0m-1 1h0m0 2h0m1 0h0m2 0h0m-1 1h0m-1 1h0m4 0h0m1 0h0m-4 2h0m1 1h0m0 1h0m1 0h0m-3 1h0m3 0h0m1 0h0m-4 1h0m0 1h0m2 0h0" stroke="#ace128" stroke-width="1.60" stroke-linecap="round" fill="none"/>
<path transform="translate(.5 .5)" d="M717 1201h0m0 1h0m-1 3h0m1 5h0m-1 3h0m0 1h0m-1 3h0m1 0h0m-1 1h0m1 2h0m-1 1h0m1 1h0m1 0h0m-3 1h0m0 1h0m0 3h0m2 0h0m1 0h0m-1 2h0m-1 1h0m1 0h0m-1 1h0m1 0h0m-1 1h0m1 0h0m1 1h0m1 1h0m-5 1h0m5 0h0m-5 1h0m1 0h0m3 0h0m-4 1h0m3 0h0m-3 3h0m3 0h0m-4 1h0m4 0h0m-2 3h0m2 0h0m-1 1h0m-1 1h0m2 1h0m-2 1h0m-1 1h0m1 0h0m1 0h0m1 0h0m-1 1h0m-2 5h0" stroke="#d6e428" stroke-width="1.60" stroke-linecap="round" fill="none"/>
<path transform="translate(.5 .5)" d="M716 1212h0m0 4h0m0 4h0m1 2h0m-3 3h0m0 1h0m-1 4h0m1 1h0m1 4h0m1 0h0m-3 1h0m1 0h0m1 0h0m-3 3h0m1 0h0m3 2h0m-2 1h0m1 0h0m1 1h0m-3 2h0m1 2h0m-2 1h0m4 0h0m-2 2h0m-2 2h0m2 1h0" stroke="#f3d125" stroke-width="1.60" stroke-linecap="round" fill="none"/>
<path transform="translate(.5 .5)" d="M716 1229h0m0 5h0m-1 2h0m-2 1h0m1 0h0m2 1h0m-1 2h0m-1 1h0m1 1h0m1 0h0m1 0h0" stroke="#fa991e" stroke-width="1.60" stroke-linecap="round" fill="none"/>
<path transform="translate(.5 .5)" d="M715 1237h0m-1 1h0m1 0h0m1 1h0m-4 1h0m1 0h0m2 0h0m-1 1h0m1 0h0m-2 1h0m2 0h0m0 1h0m-2 1h0" stroke="#ed481e" stroke-width="1.60" stroke-linecap="round" fill="none"/>
<line x1="655.8" y1="1021" x2="908.9" y2="1021" stroke="#3b3b3b" stroke-width="1.3"/>
<line x1="655.8" y1="1021" x2="655.8" y2="1275.1" stroke="#3b3b3b" stroke-width="1.3"/>
<line x1="908.9" y1="1020.4" x2="908.9" y2="1276.1" stroke="#222" stroke-width="2.0"/>
<line x1="655.2" y1="1275.1" x2="909.9" y2="1275.1" stroke="#333" stroke-width="2.0"/>
<path d="M733,1088 L900.8,1086.5 L884.6,1265.9 L721.5,1267.2 Z" stroke="#111" stroke-width="2.2" fill="none"/>
<text transform="translate(779.3,1181) scale(1.0,1.05)" font-size="32" style="stroke-width:0.7px">26.9</text>
<path transform="translate(.5 .5)" d="M1064 1128h0m-40 3h0m19 1h0m-56 3h0m30 2h0m-28 2h0m107 0h0m-98 4h0m-13 1h0m11 0h0m2 0h0m34 0h0m22 1h0m-56 2h0m72 0h0m-74 1h0m56 0h0m-61 1h0m0 1h0m-6 1h0m53 1h0m80 4h0m-124 4h0m4 0h0m-14 2h0m11 0h0m29 1h0m-44 3h0m12 0h0m30 0h0m-42 1h0m8 0h0m52 0h0m-52 2h0m3 0h0m3 0h0m25 1h0m-44 3h0m10 0h0m-11 1h0m15 0h0m-11 1h0m2 0h0m17 0h0m4 1h0m-16 1h0m7 1h0m-12 1h0m13 0h0m133 1h0m-140 1h0m2 0h0m-4 2h0m37 1h0m4 0h0m-42 1h0m4 0h0m-16 1h0m20 0h0m2 0h0m5 0h0m-17 1h0m43 0h0m103 0h0m5 1h0m-160 1h0m12 0h0m154 0h0m21 0h0m-184 1h0m5 0h0m-7 1h0m16 0h0m6 0h0m-7 1h0m3 0h0m2 1h0m3 0h0m66 0h0m50 0h0m35 0h0m18 0h0m-177 1h0m98 0h0m50 0h0m16 0h0m-176 1h0m9 0h0m37 0h0m44 0h0m44 0h0m-125 1h0m5 0h0m1 0h0m8 0h0m13 0h0m-37 1h0m16 0h0m46 0h0m51 0h0m43 0h0m3 0h0m-128 1h0m69 0h0m34 0h0m-132 1h0m41 0h0m26 0h0m23 0h0m29 0h0m32 0h0m-132 1h0m28 0h0m33 0h0m44 0h0m5 0h0m7 0h0m-97 1h0m38 0h0m38 0h0m33 0h0m-139 1h0m2 0h0m6 0h0m47 0h0m4 0h0m96 0h0m-159 1h0m23 0h0m1 0h0m16 0h0m32 0h0m10 0h0m21 0h0m-102 1h0m20 0h0m1 0h0m24 0h0m30 0h0m18 0h0m73 0h0m-167 1h0m13 0h0m25 0h0m1 0h0m26 0h0m16 0h0m15 0h0m8 0h0m31 0h0m19 0h0m-152 1h0m112 0h0m18 0h0m-130 1h0m3 0h0m22 0h0m63 0h0m3 0h0m16 0h0m-45 1h0m1 0h0m3 0h0m-26 1h0m9 0h0m6 0h0m3 0h0m45 0h0m8 0h0m47 0h0m-156 1h0m1 0h0m19 0h0m20 0h0m6 0h0m16 0h0m18 0h0m3 0h0m-94 1h0m8 0h0m2 0h0m11 0h0m13 0h0m29 0h0m24 0h0m19 0h0m14 0h0m54 0h0m-170 1h0m7 0h0m2 0h0m24 0h0m40 0h0m17 0h0m10 0h0m3 0h0m5 0h0m5 0h0m3 0h0m8 0h0m6 0h0m-115 1h0m43 0h0m10 0h0m15 0h0m63 0h0m18 0h0m-168 1h0m2 0h0m15 0h0m3 0h0m1 0h0m7 0h0m55 0h0m7 0h0m14 0h0m25 0h0m8 0h0m31 0h0m-140 1h0m46 0h0m9 0h0m18 0h0m15 0h0m3 0h0m6 0h0m12 0h0m3 0h0m13 0h0m-142 1h0m2 0h0m1 0h0m13 0h0m10 0h0m7 0h0m2 0h0m3 0h0m2 0h0m4 0h0m2 0h0m37 0h0m3 0h0m11 0h0m2 0h0m29 0h0m11 0h0m2 0h0m-149 1h0m12 0h0m9 0h0m4 0h0m12 0h0m39 0h0m12 0h0m3 0h0m3 0h0m14 0h0m3 0h0m1 0h0m1 0h0m3 0h0m1 0h0m21 0h0m1 0h0m30 0h0m19 0h0m-197 1h0m6 0h0m2 0h0m40 0h0m23 0h0m3 0h0m5 0h0m13 0h0m12 0h0m8 0h0m21 0h0m29 0h0m-154 1h0m7 0h0m46 0h0m24 0h0m23 0h0m45 0h0m27 0h0m-161 1h0m15 0h0m12 0h0m5 0h0m2 0h0m4 0h0m2 0h0m46 0h0m7 0h0m3 0h0m12 0h0m8 0h0m3 0h0m25 0h0m23 0h0m-169 1h0m1 0h0m2 0h0m20 0h0m3 0h0m31 0h0m10 0h0m1 0h0m11 0h0m6 0h0m2 0h0m14 0h0m8 0h0m1 0h0m3 0h0m7 0h0m3 0h0m13 0h0m22 0h0m-139 1h0m2 0h0m20 0h0m13 0h0m8 0h0m6 0h0m3 0h0m29 0h0m2 0h0m2 0h0m3 0h0m7 0h0m1 0h0m66 0h0m-172 1h0m4 0h0m8 0h0m7 0h0m10 0h0m10 0h0m4 0h0m4 0h0m27 0h0m2 0h0m4 0h0m1 0h0m33 0h0m12 0h0m2 0h0m12 0h0m-140 1h0m30 0h0m5 0h0m12 0h0m4 0h0m3 0h0m5 0h0m5 0h0m10 0h0m9 0h0m9 0h0m10 0h0m3 0h0m49 0h0m9 0h0m1 0h0m13 0h0m-186 1h0m5 0h0m7 0h0m30 0h0m3 0h0m13 0h0m1 0h0m6 0h0m8 0h0m6 0h0m4 0h0m31 0h0m13 0h0m28 0h0m9 0h0m3 0h0m2 0h0m2 0h0m-179 1h0m67 0h0m2 0h0m1 0h0m2 0h0m2 0h0m6 0h0m1 0h0m13 0h0m3 0h0m1 0h0m6 0h0m17 0h0m9 0h0m29 0h0m17 0h0m-175 1h0m28 0h0m55 0h0m1 0h0m9 0h0m3 0h0m7 0h0m17 0h0m12 0h0m37 0h0m-168 1h0m3 0h0m4 0h0m7 0h0m18 0h0m3 0h0m7 0h0m2 0h0m4 0h0m6 0h0m2 0h0m11 0h0m7 0h0m2 0h0m1 0h0m4 0h0m8 0h0m17 0h0m17 0h0m36 0h0m-151 1h0m12 0h0m1 0h0m11 0h0m7 0h0m12 0h0m5 0h0m14 0h0m3 0h0m13 0h0m1 0h0m3 0h0m14 0h0m2 0h0m3 0h0m4 0h0m2 0h0m15 0h0m1 0h0m1 0h0m16 0h0m8 0h0m21 0h0m-172 1h0m2 0h0m3 0h0m4 0h0m8 0h0m8 0h0m1 0h0m2 0h0m5 0h0m5 0h0m1 0h0m2 0h0m9 0h0m1 0h0m6 0h0m9 0h0m18 0h0m2 0h0m35 0h0m29 0h0m10 0h0m25 0h0m-182 1h0m2 0h0m11 0h0m6 0h0m13 0h0m4 0h0m12 0h0m1 0h0m2 0h0m3 0h0m5 0h0m3 0h0m1 0h0m2 0h0m1 0h0m1 0h0m11 0h0m10 0h0m6 0h0m8 0h0m23 0h0m7 0h0m6 0h0m2 0h0m6 0h0m-150 1h0m4 0h0m6 0h0m16 0h0m5 0h0m1 0h0m6 0h0m1 0h0m2 0h0m8 0h0m10 0h0m5 0h0m1 0h0m1 0h0m4 0h0m2 0h0m4 0h0m5 0h0m12 0h0m3 0h0m5 0h0m23 0h0m2 0h0m4 0h0m4 0h0m13 0h0m44 0h0m-185 1h0m1 0h0m19 0h0m9 0h0m7 0h0m1 0h0m2 0h0m2 0h0m5 0h0m16 0h0m3 0h0m4 0h0m6 0h0m3 0h0m12 0h0m11 0h0m3 0h0m5 0h0m12 0h0m6 0h0m1 0h0m17 0h0m6 0h0m12 0h0m-185 1h0m13 0h0m4 0h0m26 0h0m3 0h0m2 0h0m4 0h0m4 0h0m6 0h0m3 0h0m13 0h0m10 0h0m2 0h0m3 0h0m11 0h0m2 0h0m46 0h0m19 0h0m-146 1h0m10 0h0m4 0h0m3 0h0m3 0h0m1 0h0m2 0h0m7 0h0m26 0h0m8 0h0m4 0h0m2 0h0m11 0h0m8 0h0m6 0h0m14 0h0m2 0h0m1 0h0m3 0h0m6 0h0m31 0h0m-171 1h0m14 0h0m4 0h0m14 0h0m4 0h0m20 0h0m13 0h0m3 0h0m6 0h0m9 0h0m6 0h0m8 0h0m1 0h0m3 0h0m9 0h0m4 0h0m3 0h0m7 0h0m4 0h0m8 0h0m11 0h0m20 0h0m3 0h0m5 0h0m-150 1h0m8 0h0m3 0h0m10 0h0m2 0h0m1 0h0m5 0h0m2 0h0m2 0h0m3 0h0m6 0h0m3 0h0m17 0h0m4 0h0m2 0h0m4 0h0m5 0h0m8 0h0m3 0h0m3 0h0m3 0h0m23 0h0m16 0h0m28 0h0m-188 1h0m2 0h0m31 0h0m16 0h0m2 0h0m11 0h0m4 0h0m22 0h0m2 0h0m3 0h0m2 0h0m4 0h0m2 0h0m4 0h0m7 0h0m35 0h0m17 0h0m12 0h0m-178 1h0m14 0h0m4 0h0m24 0h0m2 0h0m1 0h0m4 0h0m19 0h0m9 0h0m11 0h0m2 0h0m14 0h0m13 0h0m9 0h0m7 0h0m3 0h0m6 0h0m14 0h0m-148 1h0m12 0h0m2 0h0m4 0h0m28 0h0m6 0h0m9 0h0m2 0h0m1 0h0m19 0h0m8 0h0m1 0h0m8 0h0m2 0h0m1 0h0m3 0h0m26 0h0m15 0h0m6 0h0m-147 1h0m6 0h0m5 0h0m8 0h0m3 0h0m37 0h0m10 0h0m17 0h0m6 0h0m9 0h0m1 0h0m21 0h0m32 0h0m-158 1h0m2 0h0m2 0h0m2 0h0m15 0h0m1 0h0m26 0h0m4 0h0m6 0h0m5 0h0m11 0h0m5 0h0m13 0h0m3 0h0m5 0h0m2 0h0m8 0h0m19 0h0m1 0h0m30 0h0m7 0h0m-179 1h0m3 0h0m12 0h0m2 0h0m2 0h0m18 0h0m5 0h0m2 0h0m7 0h0m2 0h0m17 0h0m11 0h0m2 0h0m4 0h0m3 0h0m1 0h0m4 0h0m9 0h0m5 0h0m12 0h0m1 0h0m4 0h0m8 0h0m8 0h0m3 0h0m15 0h0m-162 1h0m13 0h0m8 0h0m15 0h0m2 0h0m7 0h0m2 0h0m7 0h0m7 0h0m3 0h0m3 0h0m4 0h0m1 0h0m16 0h0m1 0h0m2 0h0m4 0h0m6 0h0m11 0h0m4 0h0m3 0h0m4 0h0m1 0h0m13 0h0m16 0h0m22 0h0m4 0h0m-152 1h0m1 0h0m3 0h0m4 0h0m5 0h0m7 0h0m2 0h0m8 0h0m12 0h0m5 0h0m4 0h0m3 0h0m8 0h0m11 0h0m5 0h0m4 0h0m15 0h0m5 0h0m1 0h0m5 0h0m9 0h0m19 0h0m8 0h0m17 0h0m-182 1h0m2 0h0m4 0h0m38 0h0m5 0h0m11 0h0m5 0h0m11 0h0m4 0h0m5 0h0m9 0h0m16 0h0m4 0h0m1 0h0m9 0h0m10 0h0m2 0h0m12 0h0m-142 1h0m16 0h0m18 0h0m3 0h0m27 0h0m1 0h0m2 0h0m8 0h0m2 0h0m1 0h0m15 0h0m1 0h0m7 0h0m5 0h0m37 0h0m37 0h0m-172 1h0m1 0h0m1 0h0m1 0h0m14 0h0m8 0h0m6 0h0m17 0h0m1 0h0m1 0h0m30 0h0m1 0h0m2 0h0m7 0h0m2 0h0m4 0h0m6 0h0m7 0h0m6 0h0m10 0h0m5 0h0m-155 1h0m9 0h0m4 0h0m11 0h0m9 0h0m3 0h0m6 0h0m4 0h0m3 0h0m19 0h0m1 0h0m2 0h0m3 0h0m11 0h0m9 0h0m1 0h0m5 0h0m23 0h0m24 0h0m-122 1h0m1 0h0m1 0h0m2 0h0m1 0h0m14 0h0m14 0h0m6 0h0m17 0h0m6 0h0m21 0h0m18 0h0m4 0h0m18 0h0m11 0h0m-144 1h0m7 0h0m4 0h0m6 0h0m13 0h0m1 0h0m3 0h0m4 0h0m13 0h0m10 0h0m4 0h0m1 0h0m3 0h0m1 0h0m2 0h0m3 0h0m4 0h0m4 0h0m22 0h0m5 0h0m31 0h0m2 0h0m8 0h0m28 0h0m-176 1h0m8 0h0m28 0h0m6 0h0m26 0h0m2 0h0m8 0h0m21 0h0m2 0h0m2 0h0m2 0h0m10 0h0m4 0h0m25 0h0m20 0h0m-170 1h0m6 0h0m3 0h0m14 0h0m1 0h0m12 0h0m8 0h0m18 0h0m9 0h0m13 0h0m4 0h0m4 0h0m5 0h0m4 0h0m43 0h0m1 0h0m4 0h0m-154 1h0m30 0h0m28 0h0m14 0h0m2 0h0m6 0h0m10 0h0m5 0h0m4 0h0m24 0h0m16 0h0m6 0h0m11 0h0m20 0h0m-170 1h0m3 0h0m26 0h0m19 0h0m3 0h0m4 0h0m4 0h0m7 0h0m11 0h0m18 0h0m1 0h0m1 0h0m13 0h0m18 0h0m6 0h0m-140 1h0m57 0h0m31 0h0m21 0h0m3 0h0m3 0h0m23 0h0m8 0h0m8 0h0m24 0h0m-173 1h0m10 0h0m2 0h0m2 0h0m41 0h0m17 0h0m7 0h0m16 0h0m2 0h0m18 0h0m-115 1h0m44 0h0m20 0h0m20 0h0m44 0h0m-105 1h0m22 0h0m3 0h0m17 0h0m1 0h0m3 0h0m2 0h0m17 0h0m12 0h0m16 0h0m1 0h0m-94 1h0m8 0h0m7 0h0m3 0h0m18 0h0m22 0h0m8 0h0m5 0h0m-29 1h0m2 0h0m40 0h0m21 0h0m32 0h0m-123 1h0m18 0h0m15 0h0m87 0h0m-96 1h0m20 0h0m7 0h0m3 0h0m2 0h0m8 0h0m12 0h0m2 0h0m-81 1h0m19 0h0m-42 1h0m96 0h0m8 0h0m3 0h0m23 0h0m-32 2h0m-65 1h0m63 0h0m-91 1h0m17 0h0m29 0h0m-40 2h0m25 0h0m-6 1h0m54 1h0" stroke="#2e2eae" stroke-width="1.50" stroke-linecap="round" fill="none"/>
<path transform="translate(.5 .5)" d="M1112 1130h0m-103 3h0m-23 1h0m-9 5h0m21 3h0m97 2h0m48 0h0m-167 3h0m19 2h0m92 4h0m45 2h0m-90 3h0m85 0h0m-144 5h0m41 0h0m-41 1h0m2 0h0m5 0h0m-4 3h0m-6 1h0m16 1h0m43 0h0m4 0h0m-50 1h0m-2 3h0m-9 5h0m1 0h0m2 0h0m4 0h0m26 0h0m-34 2h0m6 0h0m-5 2h0m15 1h0m-9 2h0m19 1h0m-17 1h0m-7 1h0m15 0h0m2 0h0m0 1h0m-18 1h0m18 0h0m4 0h0m-28 1h0m1 0h0m4 1h0m167 0h0m-171 1h0m73 0h0m-73 1h0m165 0h0m-163 1h0m9 0h0m14 0h0m66 0h0m5 0h0m74 0h0m-169 1h0m8 0h0m134 0h0m-130 1h0m84 0h0m4 0h0m40 0h0m-118 1h0m9 0h0m-11 1h0m70 0h0m35 1h0m-126 1h0m127 0h0m-64 1h0m28 0h0m89 0h0m-179 2h0m44 0h0m10 0h0m12 0h0m23 0h0m-82 1h0m6 0h0m69 0h0m10 0h0m-86 1h0m1 0h0m77 0h0m20 0h0m-92 1h0m28 0h0m9 0h0m19 0h0m19 0h0m14 0h0m70 0h0m-167 1h0m-5 1h0m25 0h0m29 0h0m41 0h0m44 0h0m-140 1h0m4 0h0m29 0h0m3 0h0m4 0h0m22 0h0m13 0h0m12 0h0m58 0h0m42 0h0m-189 1h0m42 0h0m45 0h0m37 0h0m-97 1h0m49 0h0m32 0h0m21 0h0m9 0h0m-134 1h0m53 0h0m30 0h0m6 0h0m17 0h0m19 0h0m22 0h0m-87 1h0m14 0h0m10 0h0m8 0h0m16 0h0m28 0h0m6 0h0m-141 1h0m5 0h0m1 0h0m12 0h0m15 0h0m16 0h0m34 0h0m11 0h0m18 0h0m2 0h0m9 0h0m-108 1h0m1 0h0m1 0h0m42 0h0m20 0h0m13 0h0m40 0h0m19 0h0m17 0h0m-164 1h0m3 0h0m19 0h0m19 0h0m10 0h0m14 0h0m3 0h0m2 0h0m28 0h0m1 0h0m-105 1h0m1 0h0m3 0h0m40 0h0m19 0h0m61 0h0m8 0h0m-126 1h0m7 0h0m10 0h0m10 0h0m23 0h0m6 0h0m2 0h0m1 0h0m2 0h0m17 0h0m3 0h0m6 0h0m1 0h0m27 0h0m36 0h0m11 0h0m-109 1h0m10 0h0m36 0h0m47 0h0m-139 1h0m57 0h0m16 0h0m16 0h0m4 0h0m19 0h0m13 0h0m-127 1h0m71 0h0m19 0h0m4 0h0m26 0h0m52 0h0m-163 1h0m15 0h0m7 0h0m9 0h0m3 0h0m11 0h0m8 0h0m24 0h0m6 0h0m2 0h0m15 0h0m5 0h0m7 0h0m4 0h0m-116 1h0m17 0h0m37 0h0m2 0h0m14 0h0m5 0h0m8 0h0m8 0h0m2 0h0m5 0h0m18 0h0m18 0h0m9 0h0m-165 1h0m12 0h0m6 0h0m7 0h0m12 0h0m8 0h0m6 0h0m1 0h0m12 0h0m7 0h0m6 0h0m6 0h0m29 0h0m6 0h0m36 0h0m18 0h0m-167 1h0m34 0h0m18 0h0m13 0h0m33 0h0m4 0h0m66 0h0m-138 1h0m11 0h0m2 0h0m6 0h0m7 0h0m2 0h0m1 0h0m11 0h0m13 0h0m8 0h0m2 0h0m16 0h0m25 0h0m36 0h0m-159 1h0m1 0h0m26 0h0m23 0h0m12 0h0m11 0h0m29 0h0m32 0h0m11 0h0m1 0h0m-156 1h0m4 0h0m3 0h0m9 0h0m11 0h0m5 0h0m27 0h0m6 0h0m10 0h0m3 0h0m4 0h0m14 0h0m9 0h0m10 0h0m10 0h0m50 0h0m-153 1h0m6 0h0m10 0h0m17 0h0m4 0h0m3 0h0m8 0h0m26 0h0m10 0h0m7 0h0m13 0h0m6 0h0m-134 1h0m6 0h0m16 0h0m2 0h0m5 0h0m9 0h0m4 0h0m7 0h0m4 0h0m2 0h0m2 0h0m9 0h0m11 0h0m2 0h0m9 0h0m6 0h0m3 0h0m5 0h0m9 0h0m19 0h0m11 0h0m18 0h0m-134 1h0m13 0h0m12 0h0m4 0h0m1 0h0m2 0h0m31 0h0m14 0h0m2 0h0m25 0h0m4 0h0m16 0h0m4 0h0m-155 1h0m14 0h0m9 0h0m12 0h0m6 0h0m22 0h0m15 0h0m24 0h0m4 0h0m5 0h0m2 0h0m15 0h0m-118 1h0m2 0h0m29 0h0m4 0h0m1 0h0m17 0h0m9 0h0m41 0h0m1 0h0m9 0h0m13 0h0m23 0h0m-146 1h0m29 0h0m6 0h0m3 0h0m17 0h0m1 0h0m5 0h0m23 0h0m29 0h0m1 0h0m1 0h0m2 0h0m5 0h0m-114 1h0m23 0h0m15 0h0m10 0h0m6 0h0m6 0h0m11 0h0m2 0h0m10 0h0m12 0h0m3 0h0m-95 1h0m6 0h0m1 0h0m1 0h0m25 0h0m4 0h0m14 0h0m12 0h0m7 0h0m7 0h0m5 0h0m14 0h0m30 0h0m13 0h0m-148 1h0m26 0h0m23 0h0m1 0h0m1 0h0m1 0h0m3 0h0m2 0h0m21 0h0m2 0h0m2 0h0m17 0h0m6 0h0m7 0h0m4 0h0m4 0h0m28 0h0m6 0h0m-157 1h0m4 0h0m7 0h0m23 0h0m13 0h0m7 0h0m1 0h0m5 0h0m33 0h0m2 0h0m6 0h0m1 0h0m34 0h0m4 0h0m-162 1h0m10 0h0m22 0h0m7 0h0m3 0h0m24 0h0m3 0h0m13 0h0m25 0h0m5 0h0m8 0h0m7 0h0m4 0h0m9 0h0m4 0h0m6 0h0m2 0h0m6 0h0m8 0h0m1 0h0m-149 1h0m1 0h0m2 0h0m17 0h0m2 0h0m13 0h0m4 0h0m24 0h0m2 0h0m12 0h0m4 0h0m5 0h0m7 0h0m3 0h0m4 0h0m3 0h0m5 0h0m2 0h0m1 0h0m12 0h0m22 0h0m-156 1h0m3 0h0m1 0h0m17 0h0m31 0h0m18 0h0m6 0h0m1 0h0m5 0h0m6 0h0m1 0h0m15 0h0m22 0h0m-122 1h0m12 0h0m15 0h0m2 0h0m6 0h0m4 0h0m3 0h0m8 0h0m3 0h0m2 0h0m6 0h0m20 0h0m15 0h0m38 0h0m29 0h0m22 0h0m-179 1h0m15 0h0m4 0h0m15 0h0m16 0h0m17 0h0m8 0h0m3 0h0m3 0h0m2 0h0m1 0h0m12 0h0m3 0h0m12 0h0m1 0h0m8 0h0m17 0h0m53 0h0m-215 1h0m17 0h0m18 0h0m21 0h0m5 0h0m1 0h0m8 0h0m3 0h0m13 0h0m2 0h0m2 0h0m4 0h0m12 0h0m11 0h0m6 0h0m17 0h0m-109 1h0m50 0h0m13 0h0m9 0h0m15 0h0m12 0h0m16 0h0m16 0h0m-137 1h0m19 0h0m9 0h0m13 0h0m13 0h0m1 0h0m11 0h0m12 0h0m25 0h0m17 0h0m2 0h0m-125 1h0m4 0h0m5 0h0m17 0h0m12 0h0m25 0h0m6 0h0m2 0h0m13 0h0m7 0h0m4 0h0m16 0h0m9 0h0m1 0h0m12 0h0m14 0h0m25 0h0m-167 1h0m8 0h0m5 0h0m18 0h0m18 0h0m28 0h0m20 0h0m4 0h0m85 0h0m-197 1h0m16 0h0m9 0h0m49 0h0m12 0h0m27 0h0m10 0h0m5 0h0m3 0h0m16 0h0m2 0h0m-144 1h0m2 0h0m19 0h0m10 0h0m23 0h0m5 0h0m10 0h0m4 0h0m5 0h0m10 0h0m32 0h0m2 0h0m2 0h0m15 0h0m2 0h0m22 0h0m-160 1h0m4 0h0m7 0h0m31 0h0m29 0h0m14 0h0m76 0h0m-117 1h0m10 0h0m14 0h0m3 0h0m11 0h0m25 0h0m36 0h0m-129 1h0m7 0h0m33 0h0m10 0h0m11 0h0m8 0h0m34 0h0m11 0h0m5 0h0m4 0h0m-99 1h0m25 0h0m40 0h0m4 0h0m15 0h0m26 0h0m40 0h0m-179 1h0m53 0h0m3 0h0m19 0h0m7 0h0m16 0h0m17 0h0m-130 1h0m3 0h0m7 0h0m27 0h0m59 0h0m28 0h0m16 0h0m-104 1h0m17 0h0m15 0h0m15 0h0m39 0h0m5 0h0m-48 1h0m4 0h0m19 0h0m37 0h0m-66 1h0m47 0h0m-62 1h0m76 0h0m42 0h0m-122 1h0m15 0h0m11 0h0m8 0h0m33 0h0m-92 1h0m35 0h0m3 0h0m65 0h0m-29 1h0m12 0h0m36 0h0m-78 3h0m33 0h0m-77 1h0m28 1h0m31 1h0m4 0h0m19 0h0m22 0h0" stroke="#5252c8" stroke-width="1.50" stroke-linecap="round" fill="none"/>
<path transform="translate(.5 .5)" d="M1129 1141h0m-133 1h0m46 5h0m49 6h0m-115 3h0m16 4h0m-9 2h0m-2 3h0m7 1h0m6 4h0m152 0h0m-152 3h0m-11 1h0m5 0h0m131 0h0m-128 1h0m40 0h0m10 1h0m-7 5h0m85 3h0m-80 1h0m-60 2h0m5 0h0m22 1h0m32 2h0m24 3h0m31 0h0m58 0h0m-201 1h0m62 0h0m-22 1h0m38 0h0m34 0h0m6 2h0m73 0h0m-160 1h0m10 1h0m40 0h0m10 0h0m15 0h0m58 1h0m-31 1h0m87 0h0m-175 1h0m14 0h0m43 0h0m-67 1h0m2 0h0m7 1h0m34 0h0m16 0h0m27 0h0m31 1h0m-4 1h0m-43 1h0m82 0h0m-151 1h0m70 1h0m12 0h0m-48 1h0m3 0h0m69 0h0m15 0h0m-124 1h0m2 0h0m50 0h0m39 0h0m11 0h0m65 0h0m-81 1h0m-49 1h0m-30 1h0m39 0h0m40 0h0m25 0h0m38 0h0m-56 1h0m6 0h0m2 0h0m4 0h0m-35 1h0m14 0h0m-45 1h0m9 0h0m66 0h0m13 0h0m-106 1h0m26 0h0m-40 1h0m51 0h0m20 0h0m10 0h0m29 0h0m-87 1h0m20 0h0m11 0h0m55 0h0m-94 1h0m77 0h0m6 0h0m3 0h0m-108 1h0m8 0h0m12 0h0m2 0h0m18 0h0m16 0h0m48 0h0m77 0h0m-147 1h0m36 0h0m3 0h0m36 0h0m31 0h0m20 0h0m-78 1h0m3 0h0m22 0h0m14 0h0m5 0h0m8 0h0m20 0h0m-140 1h0m40 0h0m3 0h0m7 0h0m6 0h0m59 0h0m10 0h0m18 0h0m-118 1h0m20 0h0m27 0h0m7 0h0m25 0h0m-111 1h0m60 0h0m3 0h0m27 0h0m31 0h0m-131 1h0m2 0h0m9 0h0m63 0h0m3 0h0m1 0h0m5 0h0m8 0h0m22 0h0m-101 1h0m65 0h0m2 0h0m4 0h0m4 0h0m3 0h0m12 0h0m6 0h0m2 0h0m3 0h0m26 0h0m-127 1h0m5 0h0m34 0h0m5 0h0m3 0h0m5 0h0m11 0h0m11 0h0m1 0h0m14 0h0m10 0h0m7 0h0m4 0h0m-129 1h0m60 0h0m1 0h0m2 0h0m23 0h0m2 0h0m50 0h0m38 0h0m-139 1h0m14 0h0m5 0h0m25 0h0m15 0h0m14 0h0m30 0h0m29 0h0m-126 1h0m12 0h0m28 0h0m1 0h0m1 0h0m4 0h0m8 0h0m11 0h0m18 0h0m25 0h0m-112 1h0m12 0h0m15 0h0m4 0h0m23 0h0m28 0h0m6 0h0m5 0h0m2 0h0m1 0h0m-92 1h0m31 0h0m12 0h0m6 0h0m18 0h0m8 0h0m6 0h0m6 0h0m5 0h0m3 0h0m-136 1h0m18 0h0m45 0h0m22 0h0m39 0h0m-117 1h0m21 0h0m25 0h0m15 0h0m1 0h0m31 0h0m21 0h0m20 0h0m25 0h0m-127 1h0m37 0h0m1 0h0m6 0h0m11 0h0m9 0h0m21 0h0m23 0h0m37 0h0m-169 1h0m27 0h0m20 0h0m16 0h0m10 0h0m3 0h0m24 0h0m-111 1h0m25 0h0m14 0h0m5 0h0m39 0h0m9 0h0m3 0h0m28 0h0m5 0h0m-141 1h0m15 0h0m43 0h0m16 0h0m15 0h0m1 0h0m6 0h0m16 0h0m26 0h0m10 0h0m-65 1h0m26 0h0m1 0h0m23 0h0m6 0h0m18 0h0m-108 1h0m19 0h0m2 0h0m11 0h0m9 0h0m16 0h0m15 0h0m41 0h0m-135 1h0m7 0h0m13 0h0m2 0h0m4 0h0m14 0h0m4 0h0m2 0h0m10 0h0m31 0h0m21 0h0m2 0h0m31 0h0m-205 1h0m50 0h0m22 0h0m65 0h0m10 0h0m33 0h0m-132 1h0m45 0h0m5 0h0m13 0h0m39 0h0m13 0h0m15 0h0m33 0h0m-135 1h0m7 0h0m5 0h0m24 0h0m17 0h0m16 0h0m7 0h0m24 0h0m16 0h0m-65 1h0m14 0h0m1 0h0m12 0h0m17 0h0m20 0h0m4 0h0m-140 1h0m15 0h0m16 0h0m3 0h0m81 0h0m-50 1h0m14 0h0m63 0h0m-150 1h0m46 0h0m4 0h0m9 0h0m12 0h0m55 0h0m-128 1h0m33 0h0m41 0h0m59 0h0m24 0h0m-140 1h0m55 0h0m-62 1h0m7 0h0m14 0h0m21 0h0m24 0h0m18 0h0m20 0h0m-86 1h0m13 0h0m48 0h0m7 0h0m17 0h0m-81 1h0m29 0h0m12 0h0m12 0h0m11 0h0m17 0h0m-77 1h0m62 0h0m2 0h0m22 0h0m7 0h0m1 0h0m13 0h0m-24 1h0m-113 1h0m12 0h0m93 0h0m-51 1h0m4 0h0m9 0h0m17 0h0m5 0h0m20 0h0m35 1h0m-29 1h0m-28 1h0m44 0h0m-108 1h0m41 2h0m30 0h0m14 0h0m31 0h0m-116 1h0m53 0h0m-31 2h0m77 0h0m-85 4h0m60 0h0m59 0h0" stroke="#8a8ae0" stroke-width="1.50" stroke-linecap="round" fill="none"/>
<path transform="translate(.5 .5)" d="M985 1134h0m4 0h0m4 1h0m-6 2h0m6 1h0m-2 1h0m-5 1h0m2 0h0m-2 1h0m1 0h0m5 0h0m3 0h0m-9 1h0m6 2h0m-6 1h0m2 0h0m2 0h0m3 1h0m-7 1h0m2 0h0m2 0h0m3 0h0m1 0h0m-3 1h0m-7 1h0m2 0h0m5 1h0m1 0h0m-1 1h0m-8 1h0m4 0h0m2 0h0m5 0h0m-11 1h0m2 0h0m5 0h0m2 0h0m-1 2h0m-5 1h0m5 0h0m-8 1h0m9 4h0m-10 1h0m4 0h0m9 2h0m-4 1h0m-7 1h0m8 0h0m0 1h0m-9 3h0m9 0h0m2 3h0m-14 1h0m13 2h0m0 12h0m0 9h0m-14 5h0m14 0h0m-14 6h0m0 6h0m-6 5h0m3 3h0m16 0h0m-1 5h0m-13 1h0m14 2h0m-1 1h0m-15 1h0m14 1h0m0 2h0m-15 1h0m1 3h0m-1 3h0m17 1h0m-17 5h0m15 0h0m0 1h0m-18 8h0m3 0h0" stroke="#272aad" stroke-width="1.60" stroke-linecap="round" fill="none"/>
<path transform="translate(.5 .5)" d="M990 1147h0m0 1h0m-3 3h0m1 1h0m1 0h0m-1 1h0m-1 3h0m1 0h0m-2 1h0m1 2h0m1 0h0m-1 1h0m4 1h0m0 1h0m-5 1h0m4 0h0m-3 1h0m2 0h0m-1 2h0m2 0h0m1 0h0m-5 1h0m5 0h0m-2 2h0m-6 5h0m8 2h0m-7 2h0m0 3h0m-2 4h0m-1 9h0m0 2h0m10 1h0m-11 1h0m11 2h0m0 1h0m-1 5h0m-10 1h0m1 1h0m-2 1h0m1 0h0m11 1h0m-1 2h0m-1 2h0m1 0h0m0 3h0m-10 1h0m10 0h0m-10 1h0m10 0h0m-11 2h0m11 2h0m-11 1h0m-1 3h0m1 1h0m11 0h0m-12 2h0m12 8h0m-13 8h0m12 0h0m-12 1h0m12 0h0m-1 3h0m-11 2h0m10 3h0m0 1h0" stroke="#2e35bd" stroke-width="1.60" stroke-linecap="round" fill="none"/>
<path transform="translate(.5 .5)" d="M988 1169h0m2 0h0m-1 2h0m-2 2h0m0 1h0m-1 1h0m1 0h0m-1 2h0m2 0h0m-3 5h0m-1 2h0m1 0h0m0 1h0m1 1h0m-4 9h0m1 0h0m-1 2h0m8 0h0m-7 1h0m-1 2h0m1 0h0m7 4h0m-8 1h0m0 3h0m-1 1h0m9 0h0m-9 2h0m0 3h0m0 1h0m0 3h0m8 0h0m0 2h0m-9 2h0m1 2h0m-1 4h0m-1 1h0m10 0h0m-11 2h0m11 1h0m-11 5h0m1 0h0m9 2h0m0 7h0m-10 1h0m10 1h0m-10 1h0m9 1h0m1 0h0m0 2h0m-10 2h0m9 0h0" stroke="#3658ce" stroke-width="1.60" stroke-linecap="round" fill="none"/>
<path transform="translate(.5 .5)" d="M988 1172h0m-1 2h0m-1 1h0m1 2h0m1 1h0m1 1h0m-3 7h0m-2 2h0m-1 3h0m0 2h0m1 0h0m1 0h0m-2 2h0m1 2h0m-1 1h0m5 0h0m-6 2h0m-1 2h0m1 0h0m7 0h0m-6 1h0m6 0h0m-1 2h0m1 0h0m0 1h0m-7 4h0m6 0h0m1 0h0m-7 1h0m7 0h0m-8 1h0m1 0h0m7 2h0m-8 2h0m7 1h0m-7 1h0m6 0h0m-6 1h0m2 0h0m-2 3h0m7 0h0m1 0h0m-9 2h0m1 0h0m7 0h0m-8 3h0m0 4h0m8 0h0m0 1h0m-8 1h0m8 3h0m0 4h0m0 1h0m-9 1h0m0 5h0m0 2h0m0 1h0m7 0h0m-7 1h0m7 1h0m-6 1h0m4 0h0m-5 1h0m2 0h0m-1 1h0m1 0h0m3 0h0m1 0h0m-3 1h0m2 1h0m1 0h0" stroke="#42ace0" stroke-width="1.60" stroke-linecap="round" fill="none"/>
<path transform="translate(.5 .5)" d="M987 1181h0m1 7h0m-2 4h0m2 0h0m1 2h0m-1 1h0m0 2h0m-4 1h0m4 0h0m-3 1h0m-1 1h0m1 0h0m3 0h0m-5 1h0m1 0h0m1 0h0m-2 2h0m5 0h0m-3 1h0m3 0h0m-4 1h0m5 0h0m-5 1h0m0 1h0m1 0h0m4 0h0m-7 1h0m1 0h0m-1 1h0m1 0h0m4 0h0m-4 1h0m2 0h0m3 0h0m-5 1h0m4 3h0m2 0h0m-7 1h0m5 0h0m1 1h0m0 1h0m-5 1h0m4 0h0m-5 4h0m0 2h0m-1 1h0m1 1h0m0 1h0m5 1h0m1 0h0m-6 1h0m-1 2h0m7 0h0m0 4h0m-8 1h0m7 2h0m1 1h0m0 1h0m0 1h0m-9 2h0m1 0h0m0 1h0m6 1h0m-7 1h0m1 0h0m0 1h0m6 1h0m0 2h0m-6 2h0m6 0h0m-4 1h0m2 0h0m3 0h0m-3 1h0m-2 1h0m2 0h0m2 0h0m-5 1h0m3 0h0m-2 1h0m0 1h0" stroke="#4dcdb6" stroke-width="1.60" stroke-linecap="round" fill="none"/>
<path transform="translate(.5 .5)" d="M985 1188h0m2 5h0m-1 2h0m-1 1h0m0 2h0m1 0h0m2 0h0m-5 1h0m2 1h0m2 1h0m1 0h0m-5 1h0m1 0h0m0 2h0m1 0h0m0 1h0m1 0h0m2 0h0m-3 1h0m1 0h0m-3 2h0m2 0h0m2 1h0m-3 1h0m3 0h0m-4 1h0m1 0h0m1 0h0m-2 1h0m1 1h0m-1 1h0m1 0h0m1 0h0m2 0h0m-4 1h0m1 2h0m-1 1h0m1 0h0m3 2h0m-5 1h0m4 0h0m-2 1h0m-2 1h0m1 0h0m-2 1h0m2 0h0m-1 3h0m4 1h0m1 0h0m0 3h0m0 1h0m-2 1h0m2 0h0m-7 1h0m6 3h0m1 0h0m-6 1h0m6 3h0m0 3h0m-7 1h0m6 0h0m-5 1h0m5 0h0m-6 1h0m5 0h0m1 2h0m-1 1h0m-4 1h0m5 0h0m-5 1h0m0 1h0m1 0h0m2 0h0m0 1h0m-2 2h0m1 1h0" stroke="#57d56d" stroke-width="1.60" stroke-linecap="round" fill="none"/>
<path transform="translate(.5 .5)" d="M987 1196h0m-3 2h0m3 0h0m-2 1h0m2 0h0m-2 3h0m1 0h0m0 1h0m0 1h0m1 0h0m-2 1h0m1 2h0m1 0h0m-3 1h0m0 2h0m1 0h0m-2 2h0m3 0h0m-1 1h0m2 1h0m-1 1h0m-1 1h0m1 0h0m1 0h0m-3 1h0m3 0h0m-2 1h0m1 0h0m1 1h0m-2 1h0m-3 2h0m5 0h0m-3 1h0m1 0h0m1 0h0m-3 1h0m3 0h0m1 0h0m-4 1h0m2 2h0m-3 1h0m2 0h0m1 1h0m1 2h0m1 0h0m-6 1h0m1 0h0m1 0h0m-2 1h0m6 0h0m-6 1h0m2 0h0m2 0h0m-4 1h0m6 4h0m-7 1h0m7 0h0m0 3h0m-7 1h0m1 1h0m-1 1h0m6 0h0m-5 2h0m1 0h0m0 1h0m1 2h0m-2 1h0m2 0h0m1 2h0m-1 1h0m0 1h0" stroke="#7ddb44" stroke-width="1.60" stroke-linecap="round" fill="none"/>
<path transform="translate(.5 .5)" d="M985 1199h0m1 1h0m-2 7h0m2 1h0m0 1h0m1 0h0m-3 1h0m2 0h0m1 0h0m-2 2h0m-1 1h0m1 0h0m-1 1h0m3 0h0m-3 1h0m1 0h0m-3 2h0m2 0h0m2 0h0m-3 1h0m2 0h0m1 0h0m-2 1h0m0 2h0m-1 2h0m3 0h0m-1 1h0m-3 1h0m1 0h0m1 0h0m0 1h0m-1 3h0m1 0h0m1 0h0m-3 3h0m4 1h0m-3 1h0m-1 2h0m0 1h0m4 1h0m-4 1h0m0 1h0m3 0h0m0 2h0m-4 1h0m2 1h0m-1 1h0m1 0h0m1 0h0m-2 2h0m0 1h0m1 0h0m0 2h0m2 1h0m-2 3h0" stroke="#ace128" stroke-width="1.60" stroke-linecap="round" fill="none"/>
<path transform="translate(.5 .5)" d="M986 1208h0m-1 3h0m1 2h0m-2 5h0m1 2h0m0 1h0m-2 1h0m0 1h0m0 1h0m1 0h0m1 0h0m-1 1h0m1 0h0m-1 2h0m0 1h0m0 1h0m1 0h0m-1 1h0m-1 1h0m1 0h0m-2 2h0m1 0h0m1 0h0m0 3h0m1 1h0m0 1h0m-4 3h0m5 1h0m-4 1h0m1 0h0m2 1h0m-4 1h0m1 2h0m2 0h0m0 1h0m0 2h0m0 1h0" stroke="#d6e428" stroke-width="1.60" stroke-linecap="round" fill="none"/>
<path transform="translate(.5 .5)" d="M983 1223h0m2 4h0m-1 2h0m-1 2h0m0 2h0m1 0h0m0 2h0m1 3h0m1 0h0m-4 1h0m-2 2h0m6 2h0m-4 2h0m1 0h0" stroke="#f3d125" stroke-width="1.60" stroke-linecap="round" fill="none"/>
<path transform="translate(.5 .5)" d="M984 1230h0m1 0h0m-3 4h0m1 0h0m-1 4h0m1 1h0m1 2h0m1 0h0m-2 1h0m1 0h0m-2 1h0m1 4h0" stroke="#fa991e" stroke-width="1.60" stroke-linecap="round" fill="none"/>
<path transform="translate(.5 .5)" d="M984 1234h0m-1 1h0m0 2h0m2 0h0m-1 1h0m-1 1h0m-2 1h0m2 0h0m0 2h0m2 0h0m-3 2h0m1 0h0m1 0h0" stroke="#ed481e" stroke-width="1.60" stroke-linecap="round" fill="none"/>
<line x1="924" y1="1020.6" x2="1180.1" y2="1020.6" stroke="#3b3b3b" stroke-width="1.3"/>
<line x1="924" y1="1020.6" x2="924" y2="1276.7" stroke="#3b3b3b" stroke-width="1.3"/>
<line x1="1180.1" y1="1020" x2="1180.1" y2="1277.7" stroke="#222" stroke-width="2.0"/>
<line x1="923.4" y1="1276.7" x2="1181.1" y2="1276.7" stroke="#333" stroke-width="2.0"/>
<path d="M1002.7,1088.4 L1171.3,1086.5 L1154.6,1267.4 L991,1268.7 Z" stroke="#111" stroke-width="2.2" fill="none"/>
<text transform="translate(1048.5,1181) scale(1.0,1.05)" font-size="32" style="stroke-width:0.7px">19.0</text>
<path d="M42.5,1240.6 L42.5,1288.3 L90.2,1288.3" stroke="#000" stroke-width="4" fill="none"/>
<path d="M29.5,1241.6 L55.5,1241.6 L42.5,1215.6 Z" stroke="#000" stroke-width="0" fill="#000"/>
<path d="M89.2,1275.3 L89.2,1301.3 L115.2,1288.3 Z" stroke="#000" stroke-width="0" fill="#000"/>
<text transform="translate(31.2,1286.5) rotate(-90) scale(1.0,1.05)" font-size="35.7">SSC</text>
<text transform="translate(53,1328.3) scale(0.97,1.05)" font-size="35.7" word-spacing="5">Annexin V</text>
<path d="M641.6,1242 L641.6,1290.3 L690.6,1290.3" stroke="#000" stroke-width="4" fill="none"/>
<path d="M628.6,1243 L654.6,1243 L641.6,1217 Z" stroke="#000" stroke-width="0" fill="#000"/>
<path d="M689.6,1277.3 L689.6,1303.3 L715.6,1290.3 Z" stroke="#000" stroke-width="0" fill="#000"/>
<text transform="translate(629.5,1288.5) rotate(-90) scale(1.0,1.05)" font-size="35.7">SSC</text>
<text transform="translate(653,1330.5) scale(0.97,1.05)" font-size="35.7" word-spacing="5">Annexin V</text>
<text transform="translate(1,1449.1) scale(1.03,1.05)" font-weight="700" font-size="53">G</text>
<text transform="translate(325.2,1460.5) scale(1.0,1.05)" text-anchor="middle" font-size="35.7">CD4</text>
<line x1="142.9" y1="1476.2" x2="502" y2="1473.3" stroke="#000" stroke-width="2.2"/>
<text transform="translate(191.1,1518.2) scale(1.0,1.05)" text-anchor="middle" font-size="35.7">CAR-T</text>
<text transform="translate(467.5,1518.2) scale(1.0,1.05)" text-anchor="middle" font-size="35.7">SATB1-CAR-T</text>
<text transform="translate(927.1,1460.5) scale(1.0,1.05)" text-anchor="middle" font-size="35.7">CD8</text>
<line x1="736.6" y1="1477" x2="1095.7" y2="1474" stroke="#000" stroke-width="2.2"/>
<text transform="translate(798,1518.2) scale(1.0,1.05)" text-anchor="middle" font-size="35.7">CAR-T</text>
<text transform="translate(1068.2,1518.2) scale(1.0,1.05)" text-anchor="middle" font-size="35.7">SATB1-CAR-T</text>
<path transform="translate(.5 .5)" d="M204 1565h0m15 3h0m21 5h0m-4 1h0m7 0h0m12 1h0m22 0h0m-1 2h0m2 2h0m-32 1h0m1 1h0m8 0h0m-19 1h0m5 0h0m-5 1h0m36 0h0m4 0h0m-35 1h0m3 0h0m10 0h0m1 0h0m-20 1h0m22 0h0m22 0h0m-48 1h0m5 0h0m5 0h0m4 0h0m1 0h0m24 0h0m-61 1h0m86 0h0m-68 1h0m8 0h0m2 0h0m1 0h0m3 0h0m-3 1h0m4 0h0m2 0h0m1 0h0m3 0h0m24 0h0m3 0h0m-37 1h0m13 0h0m8 0h0m9 0h0m2 0h0m-8 1h0m-90 1h0m63 0h0m22 0h0m-30 1h0m-60 1h0m50 0h0m11 0h0m2 0h0m7 0h0m6 0h0m5 0h0m2 0h0m15 0h0m9 0h0m24 0h0m-90 1h0m38 0h0m6 0h0m1 0h0m1 0h0m9 0h0m-37 1h0m11 0h0m2 0h0m9 0h0m2 0h0m1 0h0m5 0h0m21 1h0m-22 1h0m12 0h0m-62 1h0m19 0h0m8 0h0m9 0h0m14 0h0m14 0h0m-44 1h0m1 0h0m2 0h0m17 0h0m9 0h0m6 0h0m-36 1h0m22 0h0m8 0h0m2 0h0m5 0h0m3 0h0m-7 1h0m7 0h0m6 0h0m11 0h0m-81 1h0m27 0h0m13 0h0m2 0h0m4 0h0m2 0h0m13 0h0m-51 1h0m17 0h0m6 0h0m3 0h0m16 0h0m2 0h0m12 0h0m18 0h0m4 0h0m-82 1h0m23 0h0m1 0h0m1 0h0m6 0h0m4 0h0m7 0h0m5 0h0m5 0h0m3 0h0m1 0h0m10 0h0m5 0h0m-49 1h0m2 0h0m6 0h0m16 0h0m6 0h0m4 0h0m5 0h0m18 0h0m-40 1h0m1 0h0m18 0h0m2 0h0m3 0h0m14 0h0m-83 1h0m12 0h0m44 0h0m4 0h0m2 0h0m5 0h0m8 0h0m10 0h0m-75 1h0m4 0h0m6 0h0m10 0h0m18 0h0m17 0h0m4 0h0m10 0h0m-51 1h0m5 0h0m1 0h0m12 0h0m15 0h0m-51 1h0m9 0h0m32 0h0m6 0h0m5 0h0m-31 1h0m9 0h0m1 0h0m2 0h0m9 0h0m4 0h0m11 0h0m-146 1h0m79 0h0m11 0h0m35 0h0m4 0h0m7 0h0m14 0h0m5 0h0m-47 1h0m15 0h0m7 0h0m2 0h0m6 0h0m5 0h0m6 0h0m-154 1h0m111 0h0m11 0h0m18 0h0m29 0h0m-45 1h0m1 0h0m3 0h0m20 0h0m26 0h0m7 0h0m16 0h0m-74 1h0m17 0h0m2 0h0m1 0h0m-67 1h0m41 0h0m9 0h0m1 0h0m8 0h0m26 0h0m-112 1h0m57 0h0m15 0h0m32 0h0m11 0h0m3 0h0m-141 1h0m79 0h0m6 0h0m4 0h0m3 0h0m8 0h0m19 0h0m5 0h0m25 0h0m22 0h0m-95 1h0m17 0h0m2 0h0m5 0h0m13 0h0m1 0h0m3 0h0m4 0h0m7 0h0m-45 1h0m9 0h0m1 0h0m3 0h0m11 0h0m10 0h0m8 0h0m23 0h0m-60 1h0m2 0h0m1 0h0m9 0h0m4 0h0m1 0h0m11 0h0m7 0h0m3 0h0m10 0h0m-74 1h0m46 0h0m6 0h0m13 0h0m15 0h0m-30 1h0m21 0h0m2 0h0m10 0h0m-39 1h0m3 0h0m8 0h0m9 0h0m-43 1h0m14 0h0m1 0h0m7 0h0m11 0h0m-23 1h0m9 0h0m11 0h0m20 0h0m-31 1h0m36 0h0m-149 1h0m120 0h0m9 0h0m5 0h0m6 0h0m10 0h0m-52 1h0m11 0h0m8 0h0m6 0h0m-32 1h0m11 0h0m7 0h0m10 0h0m11 0h0m7 0h0m3 0h0m3 0h0m-60 2h0m2 0h0m39 0h0m7 0h0m2 0h0m6 0h0m2 0h0m-31 1h0m1 0h0m2 0h0m17 0h0m4 0h0m41 0h0m-116 1h0m39 0h0m1 0h0m1 0h0m1 0h0m4 0h0m30 0h0m11 0h0m-62 1h0m5 0h0m12 0h0m8 0h0m3 0h0m3 0h0m13 0h0m-55 1h0m15 0h0m6 0h0m23 0h0m19 0h0m23 0h0m-147 1h0m67 0h0m19 0h0m4 0h0m5 0h0m4 0h0m-11 1h0m19 0h0m7 0h0m4 0h0m5 0h0m-46 1h0m44 0h0m26 0h0m-26 1h0m19 0h0m-91 1h0m22 0h0m11 0h0m1 0h0m20 0h0m29 0h0m-37 1h0m9 0h0m28 0h0m18 0h0m-79 1h0m11 0h0m3 0h0m19 0h0m1 0h0m1 0h0m20 0h0m-40 1h0m3 0h0m37 0h0m6 0h0m-64 1h0m45 0h0m19 0h0m-72 1h0m58 0h0m9 0h0m28 0h0m-63 1h0m13 0h0m2 0h0m26 0h0m-77 1h0m18 0h0m7 0h0m39 0h0m1 0h0m-126 1h0m101 0h0m9 0h0m-42 1h0m48 0h0m13 0h0m2 0h0m-20 1h0m3 0h0m1 0h0m-31 1h0m14 0h0m6 0h0m5 0h0m-13 1h0m9 0h0m13 0h0m-11 1h0m-73 1h0m37 0h0m21 0h0m15 0h0m13 0h0m-64 1h0m54 1h0m21 0h0m-49 1h0m19 0h0m23 0h0m12 0h0m-65 1h0m26 0h0m29 0h0m-3 1h0m8 0h0m-14 1h0m-64 1h0m30 1h0m3 0h0m-19 1h0m37 0h0m-15 1h0m7 0h0m-103 1h0m130 1h0m-3 1h0m13 0h0m16 0h0m-52 1h0m5 2h0m14 0h0m-82 1h0m54 0h0m2 1h0m18 0h0m-90 1h0m15 0h0m84 1h0m7 2h0m-41 1h0m52 3h0m-54 1h0m-5 1h0m21 1h0m34 0h0m-29 1h0m25 2h0m-144 2h0m140 6h0m31 0h0m-59 1h0m7 3h0m-1 8h0" stroke="#3a3ab8" stroke-width="1.50" stroke-linecap="round" fill="none"/>
<path transform="translate(.5 .5)" d="M216 1571h0m-5 2h0m25 0h0m-18 1h0m20 0h0m30 0h0m-16 1h0m-5 1h0m9 1h0m-30 1h0m2 0h0m1 0h0m8 0h0m28 0h0m-17 2h0m6 0h0m2 0h0m8 0h0m-41 1h0m38 0h0m2 0h0m-15 1h0m9 0h0m9 0h0m-40 1h0m15 0h0m-25 1h0m14 0h0m20 0h0m-10 2h0m-8 1h0m4 0h0m6 0h0m5 0h0m3 0h0m-59 1h0m67 0h0m17 0h0m-55 1h0m1 0h0m4 0h0m1 0h0m14 0h0m13 0h0m-95 1h0m48 0h0m32 0h0m18 0h0m1 0h0m16 0h0m15 0h0m-11 1h0m-56 1h0m6 0h0m9 0h0m4 0h0m1 0h0m10 0h0m-4 1h0m1 0h0m8 0h0m5 0h0m10 0h0m-102 1h0m48 0h0m34 0h0m8 0h0m7 0h0m-22 1h0m2 0h0m16 0h0m4 0h0m15 0h0m2 0h0m-47 1h0m9 0h0m11 0h0m1 0h0m-142 1h0m133 0h0m3 0h0m7 0h0m6 0h0m-43 1h0m9 0h0m21 0h0m4 0h0m4 0h0m-69 1h0m5 0h0m37 0h0m34 0h0m4 0h0m-43 1h0m2 0h0m16 0h0m18 0h0m-35 1h0m10 0h0m10 0h0m1 0h0m3 0h0m5 0h0m8 0h0m4 0h0m-56 1h0m41 0h0m35 0h0m-83 1h0m14 0h0m8 0h0m11 0h0m9 0h0m14 0h0m-29 1h0m39 0h0m29 0h0m-79 1h0m16 0h0m17 0h0m-50 1h0m15 0h0m3 0h0m7 0h0m6 0h0m33 0h0m7 0h0m7 0h0m21 0h0m-65 1h0m1 0h0m1 0h0m7 0h0m2 0h0m4 0h0m6 0h0m4 0h0m-33 1h0m9 0h0m7 0h0m7 0h0m24 0h0m6 0h0m2 0h0m-58 1h0m7 0h0m24 0h0m1 0h0m2 0h0m1 0h0m1 0h0m-33 1h0m17 0h0m2 0h0m10 0h0m12 0h0m-60 1h0m11 0h0m2 0h0m15 0h0m10 0h0m4 0h0m8 0h0m17 0h0m9 0h0m-58 1h0m3 0h0m11 0h0m3 0h0m6 0h0m8 0h0m1 0h0m2 0h0m6 0h0m14 0h0m-70 1h0m2 0h0m5 0h0m7 0h0m10 0h0m14 0h0m13 0h0m5 0h0m1 0h0m-53 1h0m27 0h0m1 0h0m11 0h0m1 0h0m8 0h0m12 0h0m3 0h0m10 0h0m4 0h0m-122 1h0m70 0h0m9 0h0m5 0h0m1 0h0m-25 1h0m4 0h0m2 0h0m5 0h0m6 0h0m13 0h0m6 0h0m4 0h0m-44 1h0m1 0h0m4 0h0m3 0h0m21 0h0m1 0h0m3 0h0m3 0h0m-54 1h0m20 0h0m1 0h0m1 0h0m5 0h0m5 0h0m8 0h0m1 0h0m1 0h0m8 0h0m3 0h0m8 0h0m-52 1h0m9 0h0m7 0h0m10 0h0m6 0h0m2 0h0m7 0h0m2 0h0m1 0h0m3 0h0m1 0h0m2 0h0m-46 1h0m6 0h0m3 0h0m2 0h0m1 0h0m8 0h0m3 0h0m19 0h0m16 0h0m-68 1h0m7 0h0m1 0h0m1 0h0m25 0h0m2 0h0m22 0h0m-104 1h0m35 0h0m10 0h0m1 0h0m10 0h0m6 0h0m2 0h0m10 0h0m2 0h0m4 0h0m6 0h0m-31 1h0m22 0h0m3 0h0m7 0h0m4 0h0m-46 1h0m3 0h0m8 0h0m3 0h0m14 0h0m21 0h0m12 0h0m-67 1h0m9 0h0m24 0h0m4 0h0m4 0h0m5 0h0m3 0h0m40 0h0m-36 1h0m11 0h0m-80 1h0m33 0h0m35 0h0m4 0h0m2 0h0m9 0h0m-58 1h0m25 0h0m1 0h0m1 0h0m10 0h0m18 0h0m-68 1h0m31 0h0m3 0h0m10 0h0m7 0h0m11 0h0m7 0h0m12 0h0m-62 1h0m4 0h0m1 0h0m25 0h0m4 0h0m-7 1h0m5 0h0m2 0h0m4 0h0m6 0h0m5 0h0m-69 1h0m28 0h0m19 0h0m-38 1h0m13 0h0m10 0h0m15 0h0m10 0h0m12 0h0m2 0h0m-88 1h0m18 0h0m11 0h0m14 0h0m11 0h0m5 0h0m22 0h0m4 0h0m9 0h0m-71 1h0m17 0h0m22 0h0m22 0h0m7 0h0m5 0h0m-57 1h0m2 0h0m12 0h0m1 0h0m4 0h0m13 0h0m2 0h0m-37 1h0m38 0h0m6 0h0m16 0h0m-35 1h0m10 0h0m-25 1h0m5 0h0m12 0h0m20 0h0m9 0h0m-61 1h0m25 0h0m20 0h0m-22 1h0m1 0h0m19 0h0m6 0h0m-87 1h0m59 0h0m1 0h0m2 0h0m6 0h0m7 0h0m15 0h0m-33 1h0m29 0h0m8 0h0m7 0h0m17 0h0m5 0h0m-112 1h0m62 0h0m43 0h0m-62 1h0m24 0h0m6 0h0m1 0h0m6 0h0m-59 1h0m15 0h0m-25 2h0m19 0h0m14 0h0m52 0h0m-79 1h0m48 0h0m12 0h0m-12 2h0m17 0h0m-72 1h0m27 0h0m1 0h0m13 0h0m17 0h0m6 0h0m6 0h0m-52 1h0m10 0h0m57 0h0m-40 1h0m26 0h0m14 0h0m14 0h0m-101 1h0m20 0h0m17 0h0m27 0h0m-53 2h0m6 1h0m8 0h0m5 0h0m27 0h0m-49 1h0m26 0h0m-45 2h0m54 0h0m12 0h0m1 0h0m-7 2h0m4 1h0m23 0h0m-63 1h0m47 1h0m-56 1h0m14 0h0m-85 1h0m-14 1h0m13 0h0m117 0h0m-29 1h0m11 0h0m17 0h0m1 0h0m6 0h0m-16 2h0m1 0h0m-10 2h0m82 2h0m-148 2h0m92 1h0m12 2h0m-127 1h0m150 0h0m-173 1h0m88 0h0m57 2h0m14 1h0m2 0h0m-20 1h0m-40 2h0m18 2h0m-46 1h0m84 2h0m-52 9h0m13 15h0" stroke="#7c7cdc" stroke-width="1.50" stroke-linecap="round" fill="none"/>
<path transform="translate(.5 .5)" d="M250 1593h0m18 6h0m-28 9h0m18 3h0m-17 1h0m25 3h0m-14 3h0m13 3h0m-6 1h0m-9 2h0m-22 2h0m25 5h0m2 2h0" stroke="#f0a030" stroke-width="1.60" stroke-linecap="round" fill="none"/>
<path transform="translate(.5 .5)" d="M251 1599h0m4 10h0m-16 3h0m-5 5h0m24 0h0m-27 2h0m24 6h0" stroke="#e03a2a" stroke-width="1.60" stroke-linecap="round" fill="none"/>
<line x1="58.6" y1="1525.7" x2="317" y2="1525.7" stroke="#3b3b3b" stroke-width="1.6"/>
<line x1="58.6" y1="1525.7" x2="58.6" y2="1784" stroke="#3b3b3b" stroke-width="1.6"/>
<line x1="317" y1="1525.1" x2="317" y2="1785" stroke="#222" stroke-width="2.2"/>
<line x1="58" y1="1784" x2="318" y2="1784" stroke="#333" stroke-width="2.2"/>
<line x1="177" y1="1525.7" x2="177" y2="1784" stroke="#111" stroke-width="2.4"/>
<line x1="58.6" y1="1631.6" x2="317" y2="1631.6" stroke="#111" stroke-width="2.4"/>
<text transform="translate(62.7,1567.5) scale(1.0,1.05)" font-size="31" style="stroke-width:0.75px">2.23</text>
<text transform="translate(234.2,1567.5) scale(1.0,1.05)" font-size="31" style="stroke-width:0.75px">78.9</text>
<text transform="translate(62.7,1769.1) scale(1.0,1.05)" font-size="31" style="stroke-width:0.75px">0.78</text>
<text transform="translate(236,1769.1) scale(1.0,1.05)" font-size="31" style="stroke-width:0.75px">18.1</text>
<path transform="translate(.5 .5)" d="M519 1573h0m28 0h0m6 1h0m-7 1h0m-14 1h0m18 0h0m-25 1h0m-4 1h0m29 0h0m7 0h0m-22 1h0m3 0h0m13 0h0m-34 2h0m17 0h0m23 0h0m-43 1h0m24 0h0m-9 1h0m4 0h0m-20 1h0m13 0h0m9 0h0m3 0h0m24 0h0m20 0h0m-54 1h0m5 0h0m16 0h0m-19 1h0m21 0h0m-35 1h0m14 0h0m11 0h0m1 0h0m39 0h0m-77 1h0m22 0h0m-3 1h0m12 0h0m11 0h0m3 0h0m9 0h0m-149 1h0m108 0h0m2 0h0m4 0h0m2 0h0m6 0h0m1 0h0m2 0h0m5 0h0m-45 1h0m6 0h0m25 0h0m11 0h0m9 0h0m23 0h0m-35 1h0m3 0h0m11 0h0m3 0h0m-25 1h0m22 0h0m10 0h0m-51 1h0m22 0h0m4 0h0m7 0h0m-38 1h0m28 0h0m3 0h0m3 0h0m1 0h0m16 0h0m-87 1h0m69 0h0m8 0h0m3 0h0m1 0h0m5 0h0m-18 1h0m22 0h0m-33 1h0m6 0h0m28 0h0m-42 1h0m11 0h0m5 0h0m1 0h0m10 0h0m4 0h0m27 0h0m-61 1h0m17 0h0m2 0h0m3 0h0m23 0h0m18 0h0m4 0h0m-45 1h0m3 0h0m6 0h0m8 0h0m24 0h0m-74 2h0m17 0h0m10 0h0m6 0h0m22 0h0m3 0h0m-22 1h0m4 0h0m24 0h0m-92 1h0m52 0h0m22 0h0m-30 1h0m12 0h0m6 0h0m4 0h0m6 0h0m6 0h0m-26 1h0m-1 1h0m1 0h0m10 0h0m6 0h0m2 0h0m12 0h0m6 0h0m-47 1h0m23 0h0m6 0h0m-12 1h0m1 0h0m4 0h0m9 0h0m-16 1h0m10 0h0m1 0h0m4 0h0m8 0h0m4 0h0m-50 1h0m13 0h0m9 0h0m7 0h0m28 0h0m1 0h0m-51 1h0m10 0h0m1 0h0m13 0h0m27 0h0m12 0h0m-174 1h0m138 0h0m5 0h0m4 0h0m18 0h0m-43 1h0m11 0h0m7 0h0m6 0h0m2 0h0m23 0h0m-55 1h0m11 0h0m29 0h0m-86 1h0m49 0h0m6 0h0m12 0h0m2 0h0m4 0h0m7 0h0m-20 1h0m34 0h0m-32 1h0m3 0h0m2 0h0m1 0h0m-14 1h0m2 0h0m10 0h0m40 0h0m-62 1h0m20 0h0m5 0h0m2 0h0m3 0h0m15 0h0m5 0h0m-52 1h0m5 0h0m8 0h0m2 0h0m18 0h0m-37 1h0m7 0h0m13 0h0m13 0h0m13 0h0m25 0h0m-67 1h0m23 0h0m6 0h0m4 0h0m4 0h0m3 0h0m-53 1h0m15 0h0m24 0h0m7 0h0m1 0h0m17 0h0m-47 1h0m14 0h0m11 0h0m1 0h0m2 0h0m3 0h0m1 0h0m6 0h0m-74 1h0m36 0h0m4 0h0m23 0h0m-30 1h0m11 0h0m11 0h0m11 0h0m19 0h0m-46 1h0m14 0h0m3 0h0m2 0h0m4 0h0m8 0h0m3 0h0m-54 1h0m33 0h0m7 0h0m10 0h0m-19 1h0m1 0h0m1 0h0m3 0h0m3 0h0m4 0h0m2 0h0m17 0h0m-57 1h0m28 0h0m4 0h0m7 0h0m2 0h0m14 0h0m-56 1h0m20 0h0m14 0h0m3 0h0m1 0h0m6 0h0m-40 1h0m28 0h0m3 0h0m10 0h0m9 0h0m5 0h0m-52 1h0m24 0h0m19 0h0m0 1h0m28 0h0m-63 1h0m3 0h0m7 0h0m17 0h0m2 0h0m23 0h0m-50 1h0m6 0h0m10 0h0m1 0h0m4 0h0m2 0h0m9 0h0m13 0h0m-166 1h0m115 0h0m5 0h0m8 0h0m5 0h0m10 0h0m1 0h0m16 0h0m-29 1h0m1 0h0m4 0h0m7 0h0m8 0h0m2 0h0m-31 1h0m10 0h0m3 0h0m11 0h0m29 0h0m-48 1h0m13 0h0m5 0h0m3 0h0m7 0h0m-50 1h0m2 0h0m21 0h0m23 0h0m1 0h0m4 0h0m4 0h0m-43 1h0m6 0h0m12 0h0m23 0h0m-33 1h0m15 0h0m12 0h0m2 0h0m10 0h0m1 0h0m-62 1h0m33 0h0m5 0h0m-34 1h0m19 0h0m4 0h0m18 0h0m6 0h0m2 0h0m-153 1h0m136 0h0m14 0h0m33 0h0m-62 1h0m10 0h0m4 0h0m13 0h0m4 0h0m2 0h0m-14 1h0m16 0h0m-49 1h0m26 0h0m6 0h0m37 0h0m-50 1h0m18 0h0m15 0h0m3 0h0m8 0h0m-39 1h0m4 0h0m9 0h0m7 0h0m-88 1h0m62 0h0m2 0h0m36 0h0m-68 1h0m15 0h0m11 0h0m20 0h0m11 0h0m17 0h0m-71 1h0m47 0h0m-48 1h0m33 0h0m-29 1h0m23 0h0m1 0h0m21 0h0m8 0h0m-55 1h0m8 0h0m23 0h0m4 0h0m-141 1h0m143 0h0m2 0h0m9 0h0m8 0h0m10 0h0m-82 1h0m59 0h0m2 0h0m15 0h0m-54 1h0m11 0h0m12 0h0m1 0h0m5 0h0m32 0h0m-78 1h0m18 0h0m6 0h0m31 0h0m-10 1h0m5 0h0m8 0h0m7 0h0m5 0h0m-47 1h0m3 0h0m21 0h0m29 0h0m-58 1h0m6 0h0m7 0h0m7 0h0m6 0h0m3 0h0m4 0h0m12 0h0m-55 1h0m6 0h0m41 0h0m10 0h0m-29 1h0m30 0h0m4 0h0m-85 1h0m57 0h0m14 0h0m5 0h0m2 0h0m-21 1h0m16 0h0m-19 1h0m22 0h0m-30 1h0m19 0h0m20 0h0m13 0h0m-43 1h0m1 0h0m24 0h0m-37 1h0m6 0h0m32 0h0m-158 1h0m129 0h0m1 0h0m1 1h0m9 0h0m-23 1h0m4 0h0m6 1h0m14 0h0m19 0h0m-45 1h0m58 0h0m-70 1h0m16 0h0m24 0h0m-19 1h0m-5 1h0m-7 1h0m5 0h0m29 0h0m-149 1h0m120 0h0m35 0h0m-49 2h0m1 0h0m38 0h0m7 0h0m2 0h0m-11 2h0m11 0h0m35 0h0m-5 1h0m-184 1h0m117 0h0m-39 2h0m61 0h0m8 0h0m-26 1h0m5 0h0m-112 1h0m134 1h0m12 0h0m-40 3h0m24 0h0m-17 1h0m7 0h0m1 2h0m-131 1h0m4 2h0m4 0h0m160 0h0m-169 9h0m8 3h0m121 1h0m3 2h0m-17 4h0m1 0h0" stroke="#3a3ab8" stroke-width="1.50" stroke-linecap="round" fill="none"/>
<path transform="translate(.5 .5)" d="M531 1573h0m29 0h0m-36 1h0m6 0h0m14 0h0m-30 1h0m49 1h0m-21 1h0m1 0h0m-14 1h0m5 0h0m1 0h0m6 0h0m3 0h0m-18 1h0m5 0h0m11 0h0m-12 1h0m3 1h0m23 0h0m-81 1h0m77 0h0m-12 1h0m7 0h0m-8 1h0m7 0h0m4 0h0m-16 1h0m-12 1h0m17 0h0m-18 1h0m29 0h0m-17 1h0m23 0h0m1 0h0m-44 1h0m9 0h0m4 0h0m13 0h0m3 0h0m11 0h0m-13 1h0m1 0h0m6 0h0m-29 1h0m9 0h0m11 0h0m7 0h0m9 0h0m-18 1h0m15 0h0m13 0h0m-50 1h0m2 0h0m29 0h0m20 0h0m-59 1h0m42 0h0m1 0h0m2 0h0m1 0h0m-20 1h0m2 0h0m14 0h0m5 0h0m13 0h0m-35 1h0m36 0h0m-47 1h0m14 0h0m6 0h0m3 0h0m3 0h0m6 0h0m28 0h0m-58 1h0m1 0h0m8 0h0m13 0h0m8 0h0m7 0h0m10 0h0m-32 1h0m5 0h0m8 0h0m1 0h0m5 0h0m-26 1h0m14 0h0m-6 1h0m2 0h0m13 0h0m25 0h0m-53 1h0m2 0h0m13 0h0m1 0h0m2 0h0m5 0h0m13 0h0m-81 1h0m45 0h0m8 0h0m2 0h0m4 0h0m9 0h0m-26 1h0m15 0h0m3 0h0m25 0h0m10 0h0m-24 1h0m1 0h0m-98 1h0m108 0h0m-41 1h0m1 0h0m2 0h0m2 0h0m2 0h0m2 0h0m1 0h0m15 0h0m-26 1h0m17 0h0m1 0h0m5 0h0m-19 1h0m2 0h0m3 0h0m12 0h0m4 0h0m19 0h0m-55 1h0m19 0h0m2 0h0m2 0h0m3 0h0m3 0h0m3 0h0m1 0h0m2 0h0m-25 1h0m21 0h0m1 0h0m4 0h0m3 0h0m11 0h0m-35 1h0m15 0h0m4 0h0m5 0h0m3 0h0m5 0h0m-22 1h0m-14 1h0m1 0h0m4 0h0m2 0h0m6 0h0m5 0h0m3 0h0m14 0h0m5 0h0m3 0h0m12 0h0m-62 1h0m10 0h0m2 0h0m3 0h0m5 0h0m11 0h0m28 0h0m-46 1h0m6 0h0m12 0h0m-14 1h0m1 0h0m-11 1h0m12 0h0m5 0h0m12 0h0m1 0h0m2 0h0m1 0h0m6 0h0m1 0h0m-73 1h0m33 0h0m4 0h0m41 0h0m5 0h0m-49 1h0m2 0h0m2 0h0m14 0h0m5 0h0m3 0h0m1 0h0m20 0h0m-57 1h0m5 0h0m16 0h0m1 0h0m4 0h0m4 0h0m13 0h0m11 0h0m-53 1h0m13 0h0m6 0h0m6 0h0m9 0h0m11 0h0m-46 1h0m21 0h0m10 0h0m2 0h0m3 0h0m-27 1h0m6 0h0m10 0h0m1 0h0m1 0h0m5 0h0m2 0h0m1 0h0m3 0h0m8 0h0m1 0h0m1 0h0m-39 1h0m6 0h0m12 0h0m7 0h0m10 0h0m5 0h0m-158 1h0m127 0h0m5 0h0m1 1h0m7 0h0m3 0h0m8 0h0m15 0h0m-58 1h0m4 0h0m11 0h0m12 0h0m1 0h0m6 0h0m3 0h0m6 0h0m-34 1h0m4 0h0m1 0h0m11 0h0m1 0h0m1 0h0m-25 1h0m10 0h0m27 0h0m15 0h0m-46 1h0m19 0h0m3 0h0m6 0h0m2 0h0m4 0h0m10 0h0m-42 1h0m13 0h0m11 0h0m3 0h0m9 0h0m5 0h0m-63 1h0m18 0h0m4 0h0m15 0h0m-20 1h0m8 0h0m16 0h0m5 0h0m15 0h0m-43 1h0m1 0h0m4 0h0m2 0h0m19 0h0m-13 1h0m3 0h0m4 0h0m16 0h0m6 0h0m-161 1h0m120 0h0m15 0h0m3 0h0m10 0h0m3 0h0m9 0h0m3 0h0m-41 1h0m18 0h0m22 0h0m-35 1h0m2 0h0m13 0h0m1 0h0m3 0h0m1 0h0m12 0h0m24 0h0m-79 1h0m34 0h0m10 0h0m32 0h0m-42 1h0m4 0h0m-15 1h0m5 0h0m9 0h0m14 0h0m15 0h0m-45 1h0m7 0h0m18 0h0m5 0h0m3 0h0m7 0h0m-90 1h0m57 0h0m9 0h0m5 0h0m-10 1h0m2 0h0m12 0h0m-48 1h0m10 0h0m8 0h0m6 0h0m18 0h0m24 0h0m-46 1h0m7 0h0m15 0h0m9 0h0m8 0h0m-18 1h0m9 0h0m5 0h0m4 0h0m-160 1h0m103 0h0m7 0h0m21 0h0m-25 1h0m13 0h0m16 0h0m23 0h0m12 0h0m-52 1h0m12 0h0m17 0h0m1 0h0m6 0h0m-27 1h0m10 0h0m15 0h0m26 0h0m-176 1h0m150 0h0m1 0h0m-25 1h0m3 0h0m18 0h0m2 0h0m2 0h0m5 0h0m-19 1h0m8 0h0m16 0h0m-28 1h0m4 0h0m2 0h0m5 0h0m3 0h0m7 0h0m-148 1h0m101 0h0m3 0h0m25 0h0m2 0h0m20 0h0m4 0h0m-56 1h0m12 0h0m4 0h0m19 0h0m15 0h0m1 0h0m-14 1h0m10 0h0m3 0h0m-29 1h0m6 0h0m5 0h0m-17 1h0m22 0h0m2 0h0m-25 2h0m6 0h0m21 0h0m-28 1h0m20 0h0m3 0h0m3 0h0m20 0h0m-41 1h0m25 0h0m4 0h0m-38 1h0m9 0h0m7 0h0m37 0h0m-48 1h0m14 0h0m-22 1h0m15 0h0m5 0h0m14 0h0m7 0h0m19 0h0m-58 1h0m27 0h0m23 0h0m-10 1h0m7 0h0m-57 1h0m4 0h0m46 0h0m12 0h0m-65 1h0m26 0h0m29 0h0m4 0h0m22 0h0m-26 1h0m-41 1h0m56 0h0m-39 1h0m-52 1h0m59 2h0m3 0h0m-27 1h0m3 0h0m10 0h0m-123 1h0m122 0h0m-126 1h0m11 0h0m128 0h0m7 0h0m-7 1h0m11 0h0m9 0h0m-30 1h0m24 1h0m5 0h0m1 0h0m-56 1h0m14 0h0m-49 2h0m39 0h0m31 0h0m8 0h0m-8 1h0m-4 2h0m21 1h0m-27 1h0m42 0h0m-172 2h0m131 0h0m11 1h0m-15 4h0m23 1h0m-14 1h0m-1 2h0m4 0h0m-126 1h0m126 0h0m-33 8h0m15 10h0m26 8h0m-17 2h0" stroke="#7c7cdc" stroke-width="1.50" stroke-linecap="round" fill="none"/>
<path transform="translate(.5 .5)" d="M545 1578h0m-22 24h0m8 5h0m-12 2h0m7 2h0m32 0h0m-31 1h0m8 2h0m6 1h0m-6 1h0m-6 9h0m12 3h0m5 7h0m3 9h0" stroke="#f0a030" stroke-width="1.60" stroke-linecap="round" fill="none"/>
<path transform="translate(.5 .5)" d="M538 1616h0m12 1h0m-13 3h0m16 12h0m-1 10h0m-4 4h0m3 11h0" stroke="#e03a2a" stroke-width="1.60" stroke-linecap="round" fill="none"/>
<line x1="333.5" y1="1525.7" x2="591.8" y2="1525.7" stroke="#3b3b3b" stroke-width="1.6"/>
<line x1="333.5" y1="1525.7" x2="333.5" y2="1784" stroke="#3b3b3b" stroke-width="1.6"/>
<line x1="591.8" y1="1525.1" x2="591.8" y2="1785" stroke="#222" stroke-width="2.2"/>
<line x1="332.9" y1="1784" x2="592.8" y2="1784" stroke="#333" stroke-width="2.2"/>
<line x1="452.5" y1="1525.7" x2="452.5" y2="1784" stroke="#111" stroke-width="2.4"/>
<line x1="333.5" y1="1631.6" x2="591.8" y2="1631.6" stroke="#111" stroke-width="2.4"/>
<text transform="translate(339.7,1567.5) scale(1.0,1.05)" font-size="31" style="stroke-width:0.75px">1.32</text>
<text transform="translate(505.4,1567.5) scale(1.0,1.05)" font-size="31" style="stroke-width:0.75px">64.6</text>
<text transform="translate(339.7,1769.1) scale(1.0,1.05)" font-size="31" style="stroke-width:0.75px">1.73</text>
<text transform="translate(505.4,1769.1) scale(1.0,1.05)" font-size="31" style="stroke-width:0.75px">32.4</text>
<path transform="translate(.5 .5)" d="M818 1555h0m3 3h0m-1 2h0m-44 5h0m-40 1h0m25 1h0m50 0h0m7 0h0m-31 2h0m7 1h0m27 0h0m-55 3h0m31 0h0m-47 1h0m35 0h0m21 1h0m9 0h0m6 0h0m8 0h0m22 0h0m5 0h0m4 0h0m2 0h0m1 0h0m7 0h0m1 0h0m2 0h0m1 0h0m3 0h0m2 0h0m1 0h0m6 0h0m-46 1h0m6 0h0m5 0h0m1 0h0m7 0h0m4 0h0m3 0h0m4 0h0m4 0h0m1 0h0m5 0h0m2 0h0m2 0h0m7 0h0m-59 1h0m12 0h0m3 0h0m2 0h0m2 0h0m2 0h0m13 0h0m6 0h0m1 0h0m8 0h0m1 0h0m4 0h0m2 0h0m4 0h0m12 0h0m-80 1h0m2 0h0m16 0h0m10 0h0m3 0h0m1 0h0m6 0h0m11 0h0m6 0h0m9 0h0m3 0h0m-89 1h0m11 0h0m29 0h0m3 0h0m1 0h0m4 0h0m1 0h0m8 0h0m3 0h0m11 0h0m11 0h0m1 0h0m4 0h0m2 0h0m-166 1h0m46 0h0m38 0h0m5 0h0m17 0h0m6 0h0m1 0h0m2 0h0m7 0h0m1 0h0m8 0h0m2 0h0m1 0h0m5 0h0m1 0h0m7 0h0m3 0h0m9 0h0m2 0h0m1 0h0m-83 1h0m5 0h0m31 0h0m1 0h0m1 0h0m12 0h0m18 0h0m6 0h0m4 0h0m1 0h0m7 0h0m1 0h0m-122 1h0m40 0h0m19 0h0m11 0h0m1 0h0m1 0h0m3 0h0m2 0h0m6 0h0m10 0h0m7 0h0m2 0h0m6 0h0m6 0h0m12 0h0m5 0h0m-145 1h0m85 0h0m11 0h0m9 0h0m1 0h0m3 0h0m2 0h0m2 0h0m2 0h0m3 0h0m13 0h0m3 0h0m1 0h0m3 0h0m7 0h0m-74 1h0m4 0h0m10 0h0m1 0h0m1 0h0m13 0h0m12 0h0m1 0h0m12 0h0m4 0h0m4 0h0m2 0h0m-83 1h0m18 0h0m6 0h0m2 0h0m9 0h0m3 0h0m7 0h0m1 0h0m1 0h0m2 0h0m3 0h0m8 0h0m1 0h0m4 0h0m1 0h0m1 0h0m1 0h0m1 0h0m3 0h0m1 0h0m4 0h0m5 0h0m-159 1h0m89 0h0m2 0h0m8 0h0m12 0h0m5 0h0m2 0h0m4 0h0m17 0h0m4 0h0m3 0h0m3 0h0m1 0h0m6 0h0m2 0h0m-168 1h0m19 0h0m95 0h0m11 0h0m6 0h0m9 0h0m1 0h0m1 0h0m7 0h0m12 0h0m7 0h0m2 0h0m1 0h0m-125 1h0m46 0h0m6 0h0m3 0h0m1 0h0m2 0h0m11 0h0m2 0h0m1 0h0m2 0h0m5 0h0m22 0h0m3 0h0m12 0h0m8 0h0m1 0h0m3 0h0m9 0h0m-103 1h0m9 0h0m11 0h0m14 0h0m6 0h0m7 0h0m1 0h0m3 0h0m7 0h0m13 0h0m5 0h0m2 0h0m6 0h0m3 0h0m25 0h0m-138 1h0m53 0h0m8 0h0m3 0h0m6 0h0m2 0h0m7 0h0m1 0h0m1 0h0m7 0h0m2 0h0m3 0h0m2 0h0m9 0h0m7 0h0m5 0h0m4 0h0m15 0h0m-93 1h0m2 0h0m5 0h0m10 0h0m3 0h0m5 0h0m1 0h0m1 0h0m8 0h0m1 0h0m5 0h0m1 0h0m23 0h0m1 0h0m3 0h0m4 0h0m2 0h0m16 0h0m-176 1h0m16 0h0m78 0h0m2 0h0m6 0h0m2 0h0m2 0h0m7 0h0m3 0h0m1 0h0m1 0h0m1 0h0m13 0h0m1 0h0m7 0h0m3 0h0m12 0h0m8 0h0m-173 1h0m48 0h0m58 0h0m7 0h0m1 0h0m1 0h0m3 0h0m1 0h0m3 0h0m5 0h0m1 0h0m1 0h0m1 0h0m5 0h0m6 0h0m3 0h0m7 0h0m2 0h0m2 0h0m14 0h0m17 0h0m-123 1h0m29 0h0m10 0h0m2 0h0m4 0h0m3 0h0m1 0h0m8 0h0m5 0h0m3 0h0m10 0h0m1 0h0m5 0h0m3 0h0m7 0h0m6 0h0m11 0h0m-142 1h0m46 0h0m17 0h0m1 0h0m9 0h0m8 0h0m14 0h0m8 0h0m1 0h0m1 0h0m10 0h0m5 0h0m3 0h0m8 0h0m3 0h0m6 0h0m-131 1h0m69 0h0m2 0h0m2 0h0m4 0h0m8 0h0m3 0h0m2 0h0m20 0h0m1 0h0m7 0h0m3 0h0m4 0h0m8 0h0m3 0h0m5 0h0m12 0h0m-92 1h0m1 0h0m2 0h0m5 0h0m4 0h0m3 0h0m3 0h0m1 0h0m2 0h0m3 0h0m7 0h0m1 0h0m1 0h0m2 0h0m1 0h0m4 0h0m7 0h0m1 0h0m4 0h0m2 0h0m3 0h0m2 0h0m5 0h0m7 0h0m21 0h0m-138 1h0m37 0h0m20 0h0m5 0h0m23 0h0m5 0h0m1 0h0m4 0h0m2 0h0m3 0h0m4 0h0m11 0h0m2 0h0m2 0h0m8 0h0m-120 1h0m14 0h0m7 0h0m27 0h0m2 0h0m5 0h0m1 0h0m4 0h0m11 0h0m10 0h0m3 0h0m3 0h0m2 0h0m3 0h0m3 0h0m5 0h0m1 0h0m2 0h0m3 0h0m16 0h0m-183 1h0m88 0h0m22 0h0m7 0h0m1 0h0m2 0h0m3 0h0m4 0h0m7 0h0m5 0h0m8 0h0m1 0h0m5 0h0m2 0h0m2 0h0m1 0h0m8 0h0m8 0h0m6 0h0m-108 1h0m29 0h0m15 0h0m3 0h0m5 0h0m2 0h0m6 0h0m2 0h0m1 0h0m3 0h0m2 0h0m25 0h0m5 0h0m7 0h0m4 0h0m-82 1h0m8 0h0m2 0h0m5 0h0m6 0h0m4 0h0m4 0h0m4 0h0m3 0h0m7 0h0m1 0h0m4 0h0m2 0h0m19 0h0m2 0h0m18 0h0m-160 1h0m38 0h0m3 0h0m21 0h0m10 0h0m4 0h0m2 0h0m12 0h0m3 0h0m2 0h0m3 0h0m8 0h0m3 0h0m1 0h0m2 0h0m4 0h0m4 0h0m4 0h0m8 0h0m4 0h0m5 0h0m2 0h0m5 0h0m8 0h0m1 0h0m2 0h0m-97 1h0m4 0h0m3 0h0m8 0h0m7 0h0m3 0h0m8 0h0m21 0h0m17 0h0m2 0h0m2 0h0m3 0h0m1 0h0m-164 1h0m59 0h0m39 0h0m10 0h0m1 0h0m1 0h0m5 0h0m2 0h0m2 0h0m4 0h0m8 0h0m2 0h0m10 0h0m5 0h0m1 0h0m3 0h0m2 0h0m-127 1h0m38 0h0m7 0h0m21 0h0m8 0h0m2 0h0m1 0h0m9 0h0m3 0h0m2 0h0m7 0h0m6 0h0m16 0h0m2 0h0m4 0h0m10 0h0m15 0h0m-139 1h0m45 0h0m2 0h0m6 0h0m8 0h0m8 0h0m7 0h0m7 0h0m8 0h0m4 0h0m2 0h0m1 0h0m2 0h0m4 0h0m12 0h0m2 0h0m3 0h0m-89 1h0m5 0h0m26 0h0m2 0h0m2 0h0m1 0h0m6 0h0m1 0h0m1 0h0m6 0h0m6 0h0m1 0h0m1 0h0m8 0h0m13 0h0m5 0h0m1 0h0m3 0h0m3 0h0m2 0h0m1 0h0m14 0h0m-134 1h0m9 0h0m31 0h0m11 0h0m2 0h0m7 0h0m15 0h0m2 0h0m2 0h0m3 0h0m6 0h0m10 0h0m4 0h0m6 0h0m1 0h0m9 0h0m3 0h0m3 0h0m2 0h0m17 0h0m-106 1h0m17 0h0m6 0h0m6 0h0m8 0h0m2 0h0m3 0h0m11 0h0m2 0h0m4 0h0m3 0h0m2 0h0m2 0h0m3 0h0m1 0h0m3 0h0m2 0h0m7 0h0m3 0h0m4 0h0m-150 1h0m8 0h0m27 0h0m21 0h0m7 0h0m6 0h0m5 0h0m9 0h0m4 0h0m4 0h0m6 0h0m4 0h0m5 0h0m5 0h0m16 0h0m1 0h0m1 0h0m2 0h0m2 0h0m1 0h0m-162 1h0m15 0h0m24 0h0m72 0h0m3 0h0m6 0h0m3 0h0m1 0h0m11 0h0m3 0h0m3 0h0m20 0h0m8 0h0m1 0h0m2 0h0m11 0h0m6 0h0m-166 1h0m58 0h0m17 0h0m4 0h0m7 0h0m8 0h0m18 0h0m1 0h0m2 0h0m3 0h0m12 0h0m2 0h0m6 0h0m5 0h0m11 0h0m-83 1h0m8 0h0m1 0h0m2 0h0m21 0h0m2 0h0m1 0h0m5 0h0m3 0h0m2 0h0m1 0h0m6 0h0m1 0h0m2 0h0m7 0h0m4 0h0m5 0h0m4 0h0m5 0h0m6 0h0m-117 1h0m14 0h0m14 0h0m18 0h0m4 0h0m3 0h0m3 0h0m10 0h0m1 0h0m3 0h0m1 0h0m4 0h0m9 0h0m4 0h0m4 0h0m2 0h0m1 0h0m6 0h0m6 0h0m1 0h0m2 0h0m-121 1h0m28 0h0m3 0h0m12 0h0m3 0h0m2 0h0m5 0h0m1 0h0m6 0h0m5 0h0m16 0h0m3 0h0m3 0h0m7 0h0m1 0h0m6 0h0m1 0h0m8 0h0m3 0h0m7 0h0m21 0h0m-152 1h0m45 0h0m2 0h0m1 0h0m17 0h0m8 0h0m8 0h0m3 0h0m3 0h0m12 0h0m3 0h0m2 0h0m14 0h0m4 0h0m9 0h0m1 0h0m3 0h0m-153 1h0m72 0h0m20 0h0m6 0h0m4 0h0m2 0h0m4 0h0m8 0h0m2 0h0m1 0h0m5 0h0m8 0h0m5 0h0m1 0h0m3 0h0m6 0h0m1 0h0m7 0h0m16 0h0m-141 1h0m18 0h0m52 0h0m4 0h0m3 0h0m4 0h0m1 0h0m4 0h0m3 0h0m2 0h0m3 0h0m1 0h0m11 0h0m-58 1h0m16 0h0m1 0h0m11 0h0m3 0h0m2 0h0m5 0h0m2 0h0m2 0h0m2 0h0m1 0h0m6 0h0m2 0h0m4 0h0m8 0h0m12 0h0m-105 1h0m34 0h0m3 0h0m3 0h0m2 0h0m2 0h0m5 0h0m3 0h0m1 0h0m4 0h0m2 0h0m1 0h0m4 0h0m2 0h0m2 0h0m1 0h0m7 0h0m4 0h0m15 0h0m4 0h0m1 0h0m-156 1h0m48 0h0m9 0h0m2 0h0m18 0h0m2 0h0m4 0h0m1 0h0m3 0h0m4 0h0m3 0h0m2 0h0m4 0h0m5 0h0m3 0h0m1 0h0m3 0h0m1 0h0m3 0h0m3 0h0m1 0h0m10 0h0m7 0h0m4 0h0m4 0h0m-144 1h0m92 0h0m16 0h0m24 0h0m10 0h0m4 0h0m6 0h0m3 0h0m4 0h0m7 0h0m-182 1h0m94 0h0m23 0h0m6 0h0m2 0h0m4 0h0m5 0h0m4 0h0m4 0h0m5 0h0m5 0h0m6 0h0m1 0h0m1 0h0m3 0h0m5 0h0m5 0h0m-136 1h0m75 0h0m2 0h0m1 0h0m2 0h0m2 0h0m8 0h0m9 0h0m9 0h0m3 0h0m2 0h0m8 0h0m2 0h0m2 0h0m1 0h0m11 0h0m2 0h0m-75 1h0m10 0h0m3 0h0m2 0h0m2 0h0m9 0h0m3 0h0m3 0h0m5 0h0m5 0h0m5 0h0m1 0h0m1 0h0m5 0h0m2 0h0m26 0h0m11 0h0m-149 1h0m7 0h0m28 0h0m14 0h0m15 0h0m1 0h0m9 0h0m1 0h0m5 0h0m1 0h0m1 0h0m4 0h0m1 0h0m1 0h0m3 0h0m1 0h0m2 0h0m1 0h0m2 0h0m4 0h0m2 0h0m5 0h0m19 0h0m2 0h0m4 0h0m8 0h0m-98 1h0m5 0h0m7 0h0m6 0h0m13 0h0m4 0h0m1 0h0m4 0h0m1 0h0m6 0h0m4 0h0m2 0h0m1 0h0m4 0h0m3 0h0m3 0h0m4 0h0m1 0h0m3 0h0m5 0h0m7 0h0m-93 1h0m5 0h0m4 0h0m28 0h0m3 0h0m2 0h0m2 0h0m4 0h0m3 0h0m2 0h0m3 0h0m1 0h0m17 0h0m4 0h0m20 0h0m6 0h0m-114 1h0m26 0h0m12 0h0m2 0h0m1 0h0m6 0h0m13 0h0m5 0h0m6 0h0m13 0h0m14 0h0m-158 1h0m44 0h0m25 0h0m26 0h0m5 0h0m23 0h0m6 0h0m1 0h0m2 0h0m1 0h0m8 0h0m8 0h0m6 0h0m4 0h0m1 0h0m-72 1h0m7 0h0m1 0h0m1 0h0m6 0h0m4 0h0m4 0h0m1 0h0m4 0h0m3 0h0m4 0h0m10 0h0m4 0h0m2 0h0m2 0h0m7 0h0m2 0h0m7 0h0m-143 1h0m1 0h0m63 0h0m7 0h0m7 0h0m10 0h0m2 0h0m8 0h0m1 0h0m18 0h0m1 0h0m6 0h0m5 0h0m4 0h0m2 0h0m24 0h0m-73 1h0m12 0h0m3 0h0m1 0h0m2 0h0m6 0h0m3 0h0m3 0h0m5 0h0m6 0h0m2 0h0m1 0h0m2 0h0m5 0h0m1 0h0m2 0h0m3 0h0m3 0h0m18 0h0m-65 1h0m2 0h0m8 0h0m1 0h0m2 0h0m1 0h0m2 0h0m4 0h0m2 0h0m1 0h0m2 0h0m2 0h0m11 0h0m9 0h0m20 0h0m-102 1h0m6 0h0m6 0h0m10 0h0m10 0h0m2 0h0m2 0h0m5 0h0m1 0h0m4 0h0m1 0h0m3 0h0m6 0h0m2 0h0m7 0h0m9 0h0m9 0h0m-107 1h0m40 0h0m22 0h0m2 0h0m1 0h0m3 0h0m7 0h0m3 0h0m5 0h0m7 0h0m2 0h0m3 0h0m-49 1h0m12 0h0m7 0h0m1 0h0m8 0h0m4 0h0m1 0h0m19 0h0m4 0h0m23 0h0m3 0h0m-81 1h0m17 0h0m7 0h0m2 0h0m8 0h0m4 0h0m4 0h0m14 0h0m-72 1h0m21 0h0m18 0h0m3 0h0m9 0h0m8 0h0m1 0h0m29 0h0m-179 1h0m109 0h0m8 0h0m1 0h0m1 0h0m7 0h0m5 0h0m6 0h0m1 0h0m17 0h0m5 0h0m2 0h0m-73 1h0m10 0h0m1 0h0m14 0h0m6 0h0m5 0h0m5 0h0m4 0h0m8 0h0m2 0h0m2 0h0m10 0h0m14 0h0m-65 1h0m14 0h0m8 0h0m6 0h0m4 0h0m2 0h0m1 0h0m6 0h0m2 0h0m-86 1h0m35 0h0m3 0h0m4 0h0m20 0h0m1 0h0m2 0h0m13 0h0m8 0h0m4 0h0m15 0h0m-72 1h0m7 0h0m9 0h0m18 0h0m5 0h0m10 0h0m3 0h0m8 0h0m7 0h0m19 0h0m-99 1h0m28 0h0m11 0h0m8 0h0m11 0h0m28 0h0m-65 1h0m12 0h0m12 0h0m2 0h0m2 0h0m4 0h0m1 0h0m7 0h0m17 0h0m1 0h0m-91 1h0m14 0h0m23 0h0m9 0h0m28 0h0m7 0h0m6 0h0m-93 1h0m43 0h0m4 0h0m11 0h0m6 0h0m14 0h0m10 0h0m5 0h0m-19 1h0m8 0h0m22 0h0m-87 1h0m8 0h0m2 0h0m10 0h0m4 0h0m3 0h0m12 0h0m13 0h0m-138 1h0m6 0h0m55 0h0m56 0h0m18 0h0m1 0h0m6 0h0m6 0h0m5 0h0m-149 1h0m108 0h0m16 0h0m8 0h0m7 0h0m2 0h0m-41 1h0m7 0h0m11 0h0m11 0h0m4 0h0m9 0h0m3 0h0m1 0h0m2 0h0m2 0h0m7 0h0m-21 1h0m1 0h0m6 0h0m2 0h0m-53 1h0m7 0h0m40 0h0m-47 1h0m57 0h0m-26 1h0m-121 1h0m129 0h0m-36 1h0m13 0h0m10 0h0m18 0h0m-140 1h0m132 0h0m40 0h0m-106 1h0m43 0h0m2 0h0m29 0h0m11 0h0m-22 1h0m10 0h0m-45 1h0m8 0h0m4 0h0m40 0h0m-51 1h0m4 2h0m-17 1h0m24 0h0m12 0h0m13 1h0m57 0h0m-183 1h0m168 1h0m-169 1h0m77 0h0m45 0h0m-120 2h0m-4 1h0m156 0h0m-90 2h0m94 0h0m-77 1h0m19 0h0m-29 1h0m93 0h0m-163 1h0m-1 1h0m65 0h0m52 1h0m12 3h0m14 0h0m19 0h0m-51 1h0m-109 1h0m99 0h0m24 0h0m-129 3h0m2 0h0" stroke="#2424a5" stroke-width="1.50" stroke-linecap="round" fill="none"/>
<path transform="translate(.5 .5)" d="M856 1575h0m20 0h0m-22 1h0m2 0h0m3 0h0m6 0h0m3 0h0m2 0h0m10 0h0m2 0h0m-36 1h0m3 0h0m5 0h0m3 0h0m3 0h0m2 0h0m4 0h0m5 0h0m4 0h0m5 0h0m7 0h0m-31 1h0m1 0h0m4 0h0m12 0h0m5 0h0m5 0h0m2 0h0m-39 1h0m2 0h0m2 0h0m9 0h0m4 0h0m2 0h0m2 0h0m1 0h0m17 0h0m-33 1h0m22 0h0m4 0h0m8 0h0m-37 1h0m2 0h0m3 0h0m1 0h0m1 0h0m2 0h0m1 0h0m3 0h0m2 0h0m5 0h0m5 0h0m1 0h0m1 0h0m3 0h0m8 0h0m-45 1h0m3 0h0m1 0h0m3 0h0m5 0h0m3 0h0m5 0h0m3 0h0m4 0h0m1 0h0m2 0h0m3 0h0m3 0h0m1 0h0m6 0h0m-43 1h0m6 0h0m9 0h0m5 0h0m4 0h0m4 0h0m8 0h0m2 0h0m1 0h0m3 0h0m-37 1h0m1 0h0m1 0h0m2 0h0m1 0h0m16 0h0m5 0h0m2 0h0m9 0h0m-44 1h0m3 0h0m4 0h0m3 0h0m27 0h0m3 0h0m3 0h0m-44 1h0m2 0h0m3 0h0m13 0h0m3 0h0m3 0h0m6 0h0m1 0h0m3 0h0m1 0h0m15 0h0m-47 1h0m7 0h0m9 0h0m4 0h0m3 0h0m3 0h0m4 0h0m8 0h0m3 0h0m6 0h0m-51 1h0m3 0h0m7 0h0m1 0h0m11 0h0m3 0h0m1 0h0m16 0h0m1 0h0m1 0h0m2 0h0m1 0h0m3 0h0m-48 1h0m1 0h0m2 0h0m3 0h0m2 0h0m6 0h0m2 0h0m1 0h0m21 0h0m3 0h0m4 0h0m2 0h0m-39 1h0m8 0h0m22 0h0m1 0h0m8 0h0m2 0h0m2 0h0m-51 1h0m15 0h0m4 0h0m8 0h0m1 0h0m3 0h0m10 0h0m3 0h0m4 0h0m1 0h0m-46 1h0m2 0h0m1 0h0m5 0h0m11 0h0m1 0h0m2 0h0m10 0h0m2 0h0m2 0h0m-35 1h0m1 0h0m9 0h0m1 0h0m10 0h0m4 0h0m2 0h0m1 0h0m-39 1h0m9 0h0m7 0h0m2 0h0m3 0h0m21 0h0m3 0h0m10 0h0m4 0h0m-52 1h0m8 0h0m1 0h0m1 0h0m2 0h0m7 0h0m7 0h0m5 0h0m15 0h0m-44 1h0m1 0h0m1 0h0m7 0h0m3 0h0m4 0h0m1 0h0m3 0h0m7 0h0m4 0h0m5 0h0m2 0h0m1 0h0m5 0h0m1 0h0m1 0h0m3 0h0m-47 1h0m7 0h0m2 0h0m5 0h0m5 0h0m10 0h0m9 0h0m1 0h0m-43 1h0m1 0h0m1 0h0m1 0h0m2 0h0m13 0h0m5 0h0m7 0h0m6 0h0m13 0h0m1 0h0m-51 1h0m6 0h0m2 0h0m1 0h0m1 0h0m7 0h0m4 0h0m5 0h0m7 0h0m17 0h0m3 0h0m-52 1h0m19 0h0m19 0h0m3 0h0m5 0h0m3 0h0m-55 1h0m3 0h0m7 0h0m8 0h0m1 0h0m11 0h0m1 0h0m3 0h0m2 0h0m1 0h0m5 0h0m2 0h0m12 0h0m-47 1h0m2 0h0m2 0h0m14 0h0m2 0h0m7 0h0m3 0h0m3 0h0m4 0h0m4 0h0m4 0h0m-50 1h0m2 0h0m1 0h0m3 0h0m1 0h0m15 0h0m1 0h0m4 0h0m5 0h0m3 0h0m1 0h0m11 0h0m-43 1h0m7 0h0m5 0h0m1 0h0m4 0h0m3 0h0m1 0h0m7 0h0m5 0h0m1 0h0m4 0h0m-46 1h0m3 0h0m4 0h0m13 0h0m9 0h0m3 0h0m1 0h0m2 0h0m2 0h0m8 0h0m3 0h0m-45 1h0m8 0h0m6 0h0m5 0h0m5 0h0m2 0h0m10 0h0m8 0h0m1 0h0m3 0h0m2 0h0m1 0h0m-48 1h0m8 0h0m1 0h0m15 0h0m6 0h0m5 0h0m5 0h0m4 0h0m6 0h0m-58 1h0m5 0h0m6 0h0m11 0h0m1 0h0m6 0h0m17 0h0m3 0h0m-45 1h0m11 0h0m1 0h0m1 0h0m1 0h0m1 0h0m1 0h0m10 0h0m4 0h0m13 0h0m11 0h0m-56 1h0m2 0h0m4 0h0m2 0h0m6 0h0m2 0h0m10 0h0m6 0h0m11 0h0m4 0h0m3 0h0m4 0h0m3 0h0m-56 1h0m1 0h0m4 0h0m2 0h0m9 0h0m10 0h0m5 0h0m9 0h0m1 0h0m2 0h0m4 0h0m2 0h0m2 0h0m-53 1h0m3 0h0m10 0h0m1 0h0m12 0h0m16 0h0m12 0h0m-52 1h0m2 0h0m3 0h0m9 0h0m2 0h0m18 0h0m10 0h0m2 0h0m2 0h0m-51 1h0m4 0h0m8 0h0m1 0h0m4 0h0m3 0h0m9 0h0m10 0h0m9 0h0m9 0h0m-49 1h0m5 0h0m6 0h0m8 0h0m6 0h0m6 0h0m3 0h0m5 0h0m1 0h0m3 0h0m4 0h0m-48 1h0m1 0h0m5 0h0m2 0h0m5 0h0m6 0h0m4 0h0m2 0h0m7 0h0m2 0h0m6 0h0m4 0h0m3 0h0m-48 1h0m1 0h0m2 0h0m1 0h0m7 0h0m2 0h0m2 0h0m2 0h0m8 0h0m2 0h0m19 0h0m-45 1h0m1 0h0m5 0h0m7 0h0m3 0h0m15 0h0m4 0h0m3 0h0m2 0h0m3 0h0m4 0h0m-49 1h0m4 0h0m10 0h0m4 0h0m7 0h0m1 0h0m1 0h0m2 0h0m4 0h0m15 0h0m2 0h0m-47 1h0m2 0h0m6 0h0m1 0h0m2 0h0m11 0h0m3 0h0m2 0h0m2 0h0m2 0h0m4 0h0m1 0h0m5 0h0m-39 1h0m5 0h0m3 0h0m1 0h0m1 0h0m1 0h0m2 0h0m13 0h0m1 0h0m5 0h0m8 0h0m-42 1h0m1 0h0m4 0h0m7 0h0m5 0h0m5 0h0m2 0h0m5 0h0m1 0h0m2 0h0m3 0h0m7 0h0m-42 1h0m14 0h0m15 0h0m7 0h0m1 0h0m2 0h0m-40 1h0m4 0h0m4 0h0m5 0h0m2 0h0m9 0h0m1 0h0m5 0h0m2 0h0m3 0h0m7 0h0m-40 1h0m6 0h0m1 0h0m20 0h0m-31 1h0m1 0h0m2 0h0m8 0h0m3 0h0m2 0h0m2 0h0m2 0h0m2 0h0m3 0h0m1 0h0m2 0h0m8 0h0m4 0h0m-40 1h0m1 0h0m9 0h0m6 0h0m5 0h0m4 0h0m1 0h0m12 0h0m-24 1h0m10 0h0m2 0h0m1 0h0m2 0h0m2 0h0m2 0h0m-28 1h0m13 0h0m2 0h0m13 0h0m2 0h0m-30 1h0m9 0h0m2 0h0m1 0h0m2 0h0m2 0h0m3 0h0m3 0h0m10 0h0m1 0h0m2 0h0m-35 1h0m1 0h0m19 0h0m4 0h0m10 0h0m1 0h0m-24 1h0m10 0h0m10 0h0m2 0h0m-34 1h0m1 0h0m17 0h0m16 0h0m2 0h0m-36 1h0m21 0h0m13 0h0m-16 1h0m6 0h0m1 0h0m4 0h0m1 0h0m-4 1h0m-5 1h0m-1 3h0m-12 1h0m2 1h0" stroke="#2e35bd" stroke-width="1.50" stroke-linecap="round" fill="none"/>
<path transform="translate(.5 .5)" d="M870 1576h0m-14 2h0m-10 1h0m11 0h0m1 0h0m7 0h0m4 0h0m7 0h0m-26 1h0m5 0h0m7 0h0m1 0h0m6 0h0m3 0h0m-13 1h0m4 0h0m2 0h0m8 0h0m-17 1h0m1 0h0m1 0h0m10 0h0m1 0h0m1 0h0m6 0h0m2 0h0m-24 1h0m9 0h0m1 0h0m1 0h0m2 0h0m4 0h0m1 0h0m3 0h0m4 0h0m-23 1h0m1 0h0m6 0h0m19 0h0m-39 1h0m2 0h0m3 0h0m7 0h0m6 0h0m5 0h0m4 0h0m4 0h0m15 0h0m-49 1h0m9 0h0m1 0h0m1 0h0m2 0h0m3 0h0m4 0h0m1 0h0m3 0h0m1 0h0m2 0h0m6 0h0m1 0h0m1 0h0m-28 1h0m1 0h0m7 0h0m3 0h0m1 0h0m3 0h0m1 0h0m1 0h0m9 0h0m3 0h0m3 0h0m1 0h0m6 0h0m-43 1h0m2 0h0m10 0h0m2 0h0m13 0h0m2 0h0m7 0h0m5 0h0m-41 1h0m3 0h0m1 0h0m3 0h0m4 0h0m3 0h0m1 0h0m4 0h0m5 0h0m-20 1h0m2 0h0m1 0h0m7 0h0m1 0h0m8 0h0m2 0h0m8 0h0m9 0h0m1 0h0m3 0h0m-50 1h0m6 0h0m13 0h0m1 0h0m2 0h0m2 0h0m6 0h0m7 0h0m7 0h0m-42 1h0m2 0h0m2 0h0m1 0h0m22 0h0m1 0h0m2 0h0m1 0h0m3 0h0m6 0h0m6 0h0m-45 1h0m7 0h0m13 0h0m8 0h0m8 0h0m1 0h0m4 0h0m1 0h0m4 0h0m-43 1h0m3 0h0m5 0h0m5 0h0m15 0h0m2 0h0m8 0h0m3 0h0m2 0h0m2 0h0m-43 1h0m17 0h0m2 0h0m7 0h0m1 0h0m4 0h0m3 0h0m1 0h0m1 0h0m4 0h0m-48 1h0m4 0h0m15 0h0m10 0h0m8 0h0m1 0h0m2 0h0m2 0h0m3 0h0m1 0h0m2 0h0m-47 1h0m5 0h0m7 0h0m6 0h0m14 0h0m3 0h0m1 0h0m2 0h0m7 0h0m1 0h0m-40 1h0m13 0h0m1 0h0m11 0h0m1 0h0m2 0h0m1 0h0m3 0h0m1 0h0m-38 1h0m1 0h0m4 0h0m2 0h0m1 0h0m10 0h0m4 0h0m14 0h0m4 0h0m5 0h0m-42 1h0m5 0h0m21 0h0m8 0h0m2 0h0m4 0h0m8 0h0m-51 1h0m1 0h0m4 0h0m1 0h0m2 0h0m1 0h0m5 0h0m5 0h0m2 0h0m1 0h0m21 0h0m2 0h0m-46 1h0m1 0h0m3 0h0m3 0h0m3 0h0m2 0h0m2 0h0m7 0h0m2 0h0m9 0h0m3 0h0m3 0h0m5 0h0m3 0h0m2 0h0m-45 1h0m5 0h0m16 0h0m10 0h0m7 0h0m8 0h0m-49 1h0m2 0h0m5 0h0m29 0h0m2 0h0m1 0h0m4 0h0m2 0h0m5 0h0m-44 1h0m1 0h0m5 0h0m1 0h0m1 0h0m2 0h0m3 0h0m2 0h0m3 0h0m10 0h0m6 0h0m-37 1h0m2 0h0m6 0h0m5 0h0m2 0h0m3 0h0m4 0h0m3 0h0m8 0h0m6 0h0m2 0h0m2 0h0m1 0h0m-9 1h0m2 0h0m1 0h0m-34 1h0m9 0h0m1 0h0m9 0h0m1 0h0m4 0h0m7 0h0m-35 1h0m2 0h0m3 0h0m2 0h0m1 0h0m11 0h0m2 0h0m11 0h0m-35 1h0m1 0h0m4 0h0m4 0h0m7 0h0m3 0h0m14 0h0m1 0h0m1 0h0m8 0h0m-43 1h0m16 0h0m6 0h0m9 0h0m4 0h0m8 0h0m-40 1h0m16 0h0m7 0h0m3 0h0m4 0h0m6 0h0m-35 1h0m1 0h0m8 0h0m1 0h0m4 0h0m3 0h0m3 0h0m1 0h0m5 0h0m1 0h0m5 0h0m2 0h0m4 0h0m1 0h0m-41 1h0m1 0h0m8 0h0m2 0h0m5 0h0m7 0h0m3 0h0m8 0h0m5 0h0m-37 1h0m1 0h0m1 0h0m3 0h0m6 0h0m3 0h0m8 0h0m1 0h0m7 0h0m6 0h0m2 0h0m-42 1h0m12 0h0m10 0h0m3 0h0m13 0h0m2 0h0m1 0h0m-35 1h0m10 0h0m8 0h0m2 0h0m5 0h0m9 0h0m-39 1h0m11 0h0m1 0h0m3 0h0m2 0h0m5 0h0m1 0h0m2 0h0m3 0h0m2 0h0m1 0h0m1 0h0m5 0h0m3 0h0m-38 1h0m13 0h0m5 0h0m4 0h0m3 0h0m2 0h0m7 0h0m-35 1h0m20 0h0m4 0h0m7 0h0m2 0h0m6 0h0m-35 1h0m7 0h0m2 0h0m3 0h0m3 0h0m1 0h0m1 0h0m7 0h0m1 0h0m2 0h0m-13 1h0m4 0h0m4 0h0m5 0h0m3 0h0m3 0h0m-31 1h0m8 0h0m2 0h0m1 0h0m4 0h0m4 0h0m1 0h0m1 0h0m-29 1h0m9 0h0m6 0h0m5 0h0m12 0h0m1 0h0m-13 1h0m11 1h0m0 1h0m-18 1h0m6 0h0m-8 1h0m1 0h0m7 1h0m-2 1h0m-15 2h0" stroke="#3658ce" stroke-width="1.50" stroke-linecap="round" fill="none"/>
<path transform="translate(.5 .5)" d="M851 1579h0m6 0h0m14 0h0m-2 1h0m2 0h0m12 0h0m-12 1h0m9 0h0m-12 1h0m10 0h0m-27 1h0m4 0h0m4 0h0m1 0h0m2 0h0m1 0h0m5 0h0m12 0h0m-20 1h0m7 0h0m1 0h0m3 0h0m-25 1h0m12 0h0m8 0h0m9 0h0m-30 1h0m10 0h0m2 0h0m8 0h0m4 0h0m6 0h0m1 0h0m-29 1h0m2 0h0m2 0h0m9 0h0m3 0h0m7 0h0m3 0h0m5 0h0m3 0h0m-25 1h0m2 0h0m1 0h0m2 0h0m5 0h0m12 0h0m-23 1h0m3 0h0m3 0h0m2 0h0m2 0h0m1 0h0m4 0h0m7 0h0m-29 1h0m1 0h0m8 0h0m8 0h0m6 0h0m6 0h0m1 0h0m2 0h0m1 0h0m-23 1h0m2 0h0m1 0h0m6 0h0m1 0h0m5 0h0m1 0h0m1 0h0m2 0h0m2 0h0m7 0h0m-43 1h0m11 0h0m6 0h0m1 0h0m10 0h0m-23 1h0m13 0h0m1 0h0m19 0h0m4 0h0m-42 1h0m3 0h0m1 0h0m21 0h0m3 0h0m8 0h0m3 0h0m-30 1h0m4 0h0m7 0h0m1 0h0m6 0h0m14 0h0m-28 1h0m4 0h0m1 0h0m7 0h0m9 0h0m5 0h0m3 0h0m-38 1h0m1 0h0m10 0h0m8 0h0m7 0h0m3 0h0m1 0h0m5 0h0m4 0h0m-40 1h0m8 0h0m21 0h0m3 0h0m-33 1h0m1 0h0m1 0h0m6 0h0m4 0h0m8 0h0m14 0h0m2 0h0m1 0h0m1 0h0m2 0h0m-35 1h0m11 0h0m4 0h0m4 0h0m10 0h0m-37 1h0m9 0h0m3 0h0m1 0h0m10 0h0m2 0h0m3 0h0m4 0h0m1 0h0m2 0h0m2 0h0m4 0h0m-38 1h0m2 0h0m2 0h0m4 0h0m1 0h0m34 0h0m-47 1h0m2 0h0m2 0h0m7 0h0m8 0h0m4 0h0m7 0h0m4 0h0m2 0h0m2 0h0m5 0h0m-40 1h0m1 0h0m6 0h0m1 0h0m11 0h0m11 0h0m-22 1h0m5 0h0m11 0h0m6 0h0m3 0h0m3 0h0m4 0h0m-37 1h0m2 0h0m4 0h0m1 0h0m3 0h0m2 0h0m21 0h0m5 0h0m-36 1h0m3 0h0m4 0h0m3 0h0m2 0h0m1 0h0m5 0h0m2 0h0m6 0h0m9 0h0m1 0h0m-42 1h0m4 0h0m5 0h0m7 0h0m2 0h0m4 0h0m3 0h0m2 0h0m2 0h0m1 0h0m-32 1h0m9 0h0m3 0h0m1 0h0m1 0h0m1 0h0m4 0h0m1 0h0m2 0h0m9 0h0m1 0h0m4 0h0m-31 1h0m4 0h0m1 0h0m1 0h0m2 0h0m4 0h0m1 0h0m2 0h0m2 0h0m1 0h0m-14 1h0m1 0h0m10 0h0m10 0h0m7 0h0m1 0h0m1 0h0m-38 1h0m9 0h0m3 0h0m5 0h0m1 0h0m16 0h0m1 0h0m3 0h0m3 0h0m-30 1h0m3 0h0m1 0h0m2 0h0m1 0h0m2 0h0m3 0h0m2 0h0m5 0h0m6 0h0m2 0h0m1 0h0m-39 1h0m11 0h0m1 0h0m3 0h0m1 0h0m1 0h0m4 0h0m10 0h0m8 0h0m-35 1h0m1 0h0m1 0h0m3 0h0m6 0h0m8 0h0m6 0h0m1 0h0m2 0h0m-15 1h0m3 0h0m1 0h0m9 0h0m-27 1h0m2 0h0m7 1h0m5 0h0m3 0h0m18 0h0m-38 1h0m26 0h0m1 0h0m4 0h0m4 0h0m-25 1h0m19 1h0m9 0h0m-24 1h0m5 0h0m7 0h0m-20 1h0m11 0h0m13 0h0m-9 1h0m-21 1h0m21 1h0m5 2h0" stroke="#42ace0" stroke-width="1.50" stroke-linecap="round" fill="none"/>
<path transform="translate(.5 .5)" d="M870 1580h0m1 0h0m-3 1h0m-1 1h0m1 0h0m-6 1h0m7 0h0m11 0h0m-24 2h0m2 0h0m1 0h0m1 0h0m3 0h0m5 0h0m2 0h0m-16 1h0m6 0h0m2 0h0m10 0h0m2 0h0m5 0h0m2 0h0m-21 1h0m1 0h0m9 0h0m-6 1h0m1 0h0m12 0h0m-37 1h0m16 0h0m5 0h0m1 0h0m1 0h0m7 0h0m1 0h0m1 0h0m-25 1h0m5 0h0m4 0h0m5 0h0m1 0h0m2 0h0m6 0h0m3 0h0m1 0h0m-32 1h0m14 0h0m5 0h0m12 0h0m-22 1h0m4 0h0m2 0h0m10 0h0m11 0h0m-29 1h0m4 0h0m7 0h0m7 0h0m6 0h0m6 0h0m1 0h0m-33 1h0m2 0h0m2 0h0m1 0h0m8 0h0m3 0h0m6 0h0m2 0h0m2 0h0m3 0h0m1 0h0m-25 1h0m1 0h0m8 0h0m10 0h0m2 0h0m1 0h0m5 0h0m-32 1h0m17 0h0m3 0h0m3 0h0m7 0h0m-24 1h0m1 0h0m8 0h0m8 0h0m4 0h0m8 0h0m-30 1h0m8 0h0m11 0h0m12 0h0m1 0h0m2 0h0m-38 1h0m5 0h0m3 0h0m5 0h0m3 0h0m5 0h0m2 0h0m14 0h0m-29 1h0m2 0h0m2 0h0m1 0h0m2 0h0m2 0h0m1 0h0m-21 1h0m2 0h0m2 0h0m10 0h0m5 0h0m1 0h0m2 0h0m1 0h0m5 0h0m4 0h0m8 0h0m-35 1h0m3 0h0m4 0h0m2 0h0m9 0h0m-15 1h0m23 0h0m7 0h0m-39 1h0m10 0h0m10 0h0m1 0h0m4 0h0m1 0h0m15 0h0m-29 1h0m8 0h0m4 0h0m6 0h0m5 0h0m-28 1h0m2 0h0m11 0h0m4 0h0m2 0h0m14 0h0m-38 1h0m11 0h0m6 0h0m7 0h0m2 0h0m8 0h0m3 0h0m1 0h0m-38 1h0m4 0h0m2 0h0m2 0h0m7 0h0m2 0h0m2 0h0m12 0h0m3 0h0m3 0h0m-36 1h0m1 0h0m5 0h0m1 0h0m1 0h0m5 0h0m2 0h0m3 0h0m1 0h0m3 0h0m5 0h0m5 0h0m-32 1h0m11 0h0m2 0h0m6 0h0m6 0h0m3 0h0m-16 1h0m4 0h0m6 0h0m3 0h0m-11 1h0m1 0h0m9 0h0m11 0h0m-28 1h0m14 0h0m1 0h0m8 0h0m-31 1h0m11 0h0m4 0h0m5 0h0m7 0h0m1 0h0m-10 1h0m3 0h0m2 0h0m12 0h0m1 0h0m-9 1h0m1 0h0m-7 1h0m1 0h0m-21 1h0m17 0h0m6 0h0m1 0h0m4 0h0m1 2h0" stroke="#4dcdb6" stroke-width="1.50" stroke-linecap="round" fill="none"/>
<path transform="translate(.5 .5)" d="M862 1583h0m10 0h0m-10 1h0m10 0h0m-11 2h0m1 1h0m2 0h0m1 0h0m1 0h0m3 0h0m-4 1h0m5 0h0m1 0h0m-19 1h0m6 0h0m1 0h0m1 0h0m1 0h0m1 0h0m4 0h0m6 0h0m3 0h0m-22 1h0m1 0h0m6 0h0m5 0h0m2 0h0m1 0h0m-11 1h0m5 0h0m6 0h0m1 0h0m2 0h0m1 0h0m2 0h0m-20 1h0m2 0h0m2 0h0m1 0h0m1 0h0m5 0h0m8 0h0m2 0h0m1 0h0m-16 1h0m9 0h0m1 0h0m-25 1h0m3 0h0m11 0h0m4 0h0m8 0h0m2 0h0m-16 1h0m6 0h0m3 0h0m2 0h0m2 0h0m1 0h0m7 0h0m-29 1h0m2 0h0m2 0h0m1 0h0m6 0h0m9 0h0m9 0h0m-15 1h0m5 0h0m-14 1h0m4 0h0m15 0h0m4 0h0m7 0h0m-34 1h0m3 0h0m2 0h0m2 0h0m3 0h0m8 0h0m1 0h0m1 0h0m5 0h0m-30 1h0m5 0h0m8 0h0m4 0h0m9 0h0m2 0h0m3 0h0m-22 1h0m4 0h0m1 0h0m12 0h0m2 0h0m2 0h0m-23 1h0m1 0h0m8 0h0m7 0h0m-15 1h0m3 0h0m4 0h0m1 0h0m2 0h0m8 0h0m1 0h0m3 0h0m7 0h0m-29 1h0m1 0h0m14 0h0m3 0h0m1 0h0m5 0h0m1 0h0m-32 1h0m10 0h0m13 0h0m1 0h0m1 0h0m1 0h0m1 0h0m-24 1h0m5 0h0m8 0h0m1 0h0m8 0h0m5 0h0m-28 1h0m4 0h0m6 0h0m7 0h0m2 0h0m3 0h0m1 0h0m1 0h0m-21 1h0m5 0h0m3 0h0m21 0h0m-26 1h0m1 0h0m8 0h0m7 0h0m-24 1h0m5 0h0m2 0h0m3 0h0m9 0h0m1 0h0m5 0h0m-17 1h0m12 0h0m-8 1h0m4 0h0m7 0h0m1 0h0m3 0h0m-13 1h0m12 0h0m2 0h0m1 0h0m-4 1h0m-16 1h0m11 0h0m7 0h0m-2 3h0" stroke="#57d56d" stroke-width="1.50" stroke-linecap="round" fill="none"/>
<path transform="translate(.5 .5)" d="M863 1582h0m-5 3h0m13 2h0m-22 1h0m13 0h0m1 0h0m11 0h0m-13 1h0m9 0h0m1 0h0m1 0h0m-23 1h0m26 0h0m1 0h0m-22 1h0m8 0h0m-7 1h0m8 0h0m-20 1h0m1 0h0m15 0h0m8 0h0m-7 1h0m2 0h0m5 0h0m-17 1h0m2 0h0m2 0h0m6 0h0m1 0h0m7 0h0m4 0h0m1 0h0m1 0h0m14 0h0m-35 1h0m1 0h0m4 0h0m2 0h0m2 0h0m2 0h0m3 0h0m4 0h0m2 0h0m3 0h0m-30 1h0m6 0h0m3 0h0m2 0h0m1 0h0m1 0h0m8 0h0m2 0h0m-24 1h0m5 0h0m7 0h0m5 0h0m1 0h0m4 0h0m1 0h0m7 0h0m-27 1h0m17 0h0m4 0h0m15 0h0m-27 1h0m1 0h0m1 0h0m1 0h0m1 0h0m16 0h0m-23 1h0m4 0h0m1 0h0m8 0h0m2 0h0m18 0h0m-31 1h0m11 0h0m2 0h0m5 0h0m-25 1h0m4 0h0m14 0h0m-9 1h0m5 0h0m4 0h0m3 0h0m2 0h0m2 0h0m-10 1h0m1 0h0m2 0h0m1 0h0m2 0h0m3 0h0m-24 1h0m12 0h0m2 0h0m5 0h0m3 0h0m-13 1h0m1 0h0m5 0h0m1 0h0m5 0h0m2 0h0m-23 1h0m7 0h0m1 0h0m3 0h0m2 0h0m2 0h0m4 0h0m2 0h0m-19 1h0m14 0h0m1 0h0m1 0h0m-6 1h0m3 0h0m1 0h0m5 0h0m4 0h0m-23 1h0m11 0h0m3 0h0m1 0h0m0 1h0m2 0h0m-11 1h0m6 0h0m2 0h0m2 0h0m4 1h0m1 1h0m2 0h0m3 0h0m-23 1h0m12 0h0" stroke="#7ddb44" stroke-width="1.50" stroke-linecap="round" fill="none"/>
<path transform="translate(.5 .5)" d="M868 1581h0m-13 5h0m2 0h0m3 1h0m-2 2h0m3 0h0m2 1h0m7 0h0m4 0h0m-21 1h0m4 0h0m11 0h0m4 0h0m-24 2h0m7 0h0m6 0h0m1 0h0m4 0h0m5 0h0m-14 1h0m9 0h0m12 0h0m-14 1h0m-8 1h0m4 0h0m2 0h0m10 0h0m-23 1h0m3 0h0m4 0h0m7 0h0m3 0h0m1 0h0m1 0h0m1 0h0m-12 1h0m7 0h0m2 0h0m7 0h0m1 0h0m-12 1h0m4 0h0m2 0h0m6 0h0m1 0h0m2 0h0m-13 1h0m4 0h0m1 0h0m1 0h0m8 0h0m-19 1h0m5 0h0m9 0h0m-9 1h0m1 0h0m9 0h0m-9 1h0m3 0h0m4 0h0m-20 1h0m11 0h0m9 0h0m-1 1h0m-13 1h0m3 0h0m3 0h0m3 0h0m2 0h0m-8 1h0m4 0h0m1 0h0m1 0h0m-3 1h0m8 1h0m-2 2h0m-14 3h0m0 1h0m11 1h0" stroke="#ace128" stroke-width="1.50" stroke-linecap="round" fill="none"/>
<path transform="translate(.5 .5)" d="M863 1585h0m12 3h0m-9 1h0m-3 1h0m4 0h0m4 0h0m5 0h0m4 0h0m-17 1h0m8 1h0m-10 1h0m-5 1h0m3 0h0m-7 1h0m5 0h0m1 0h0m7 0h0m-18 1h0m2 0h0m1 0h0m22 0h0m-13 1h0m2 0h0m-3 1h0m2 0h0m-6 1h0m5 0h0m4 0h0m3 0h0m6 0h0m-20 1h0m12 0h0m1 0h0m2 0h0m2 0h0m-10 1h0m1 0h0m5 0h0m-7 1h0m3 0h0m3 0h0m6 0h0m-17 1h0m8 0h0m6 0h0m4 0h0m2 0h0m-9 1h0m10 0h0m-23 1h0m3 0h0m5 0h0m5 0h0m-12 2h0m13 0h0m2 0h0m-12 1h0m3 1h0m8 0h0m-11 2h0m7 0h0m18 0h0m-16 2h0m1 1h0m-11 3h0" stroke="#d6e428" stroke-width="1.50" stroke-linecap="round" fill="none"/>
<path transform="translate(.5 .5)" d="M856 1587h0m5 0h0m5 3h0m-1 1h0m-9 1h0m0 1h0m21 0h0m-11 1h0m-11 2h0m12 0h0m2 0h0m-13 1h0m4 0h0m1 0h0m-2 1h0m1 0h0m1 0h0m11 0h0m-20 1h0m12 0h0m6 0h0m-12 1h0m7 0h0m2 0h0m9 0h0m-20 1h0m3 0h0m1 0h0m5 1h0m1 2h0m-3 2h0m1 0h0m0 1h0m-2 2h0m4 2h0m-14 4h0m6 2h0" stroke="#f3d125" stroke-width="1.50" stroke-linecap="round" fill="none"/>
<path transform="translate(.5 .5)" d="M855 1587h0m7 1h0m2 4h0m-4 1h0m3 0h0m11 0h0m-20 1h0m3 1h0m3 0h0m-4 1h0m3 0h0m-3 1h0m5 0h0m1 2h0m2 0h0m-6 1h0m12 0h0m-9 2h0m-2 1h0m7 3h0m-1 1h0m-3 1h0m10 1h0" stroke="#fa991e" stroke-width="1.50" stroke-linecap="round" fill="none"/>
<path transform="translate(.5 .5)" d="M862 1589h0m8 1h0m-10 2h0m4 0h0m3 0h0m-15 1h0m12 0h0m1 1h0m-6 1h0m2 0h0m-4 1h0m1 0h0m1 0h0m1 0h0m1 0h0m5 0h0m-12 1h0m3 0h0m1 0h0m1 0h0m2 0h0m4 0h0m-7 1h0m6 0h0m-3 1h0m1 0h0m4 0h0m-7 1h0m2 0h0m1 0h0m1 0h0m3 0h0m1 0h0m-9 1h0m1 0h0m8 0h0m4 0h0m1 0h0m-12 1h0m3 0h0m1 0h0m4 0h0m-5 1h0m2 0h0m1 0h0m4 0h0m4 0h0m-11 1h0m2 0h0m4 0h0m4 0h0m-13 1h0m6 0h0m-1 1h0m1 0h0m1 0h0m1 0h0m2 0h0m-5 1h0m1 0h0m2 0h0m1 0h0m-3 1h0m4 0h0m2 0h0m1 1h0m-6 2h0" stroke="#ed481e" stroke-width="1.50" stroke-linecap="round" fill="none"/>
<line x1="660.6" y1="1525.7" x2="919.1" y2="1525.7" stroke="#3b3b3b" stroke-width="1.6"/>
<line x1="660.6" y1="1525.7" x2="660.6" y2="1782.5" stroke="#3b3b3b" stroke-width="1.6"/>
<line x1="919.1" y1="1525.1" x2="919.1" y2="1783.5" stroke="#222" stroke-width="2.2"/>
<line x1="660" y1="1782.5" x2="920.1" y2="1782.5" stroke="#333" stroke-width="2.2"/>
<line x1="775" y1="1525.7" x2="775" y2="1782.5" stroke="#111" stroke-width="2.4"/>
<line x1="660.6" y1="1612.2" x2="919.1" y2="1612.2" stroke="#111" stroke-width="2.4"/>
<text transform="translate(666.7,1567.1) scale(1.0,1.05)" font-size="31" style="stroke-width:0.75px">0.59</text>
<text transform="translate(831.8,1567.1) scale(1.0,1.05)" font-size="31" style="stroke-width:0.75px">82.7</text>
<text transform="translate(665.9,1769.7) scale(1.0,1.05)" font-size="31" style="stroke-width:0.75px">0.54</text>
<text transform="translate(833.7,1769.7) scale(1.0,1.05)" font-size="31" style="stroke-width:0.75px">16.2</text>
<path transform="translate(.5 .5)" d="M1103 1528h0m79 23h0m-97 2h0m-6 1h0m2 4h0m14 3h0m87 8h0m-78 1h0m78 0h0m-89 2h0m90 0h0m2 0h0m-3 1h0m2 1h0m-109 1h0m51 0h0m12 0h0m2 0h0m3 0h0m2 0h0m1 0h0m1 0h0m4 0h0m1 0h0m4 0h0m3 0h0m1 0h0m5 0h0m4 0h0m5 0h0m3 0h0m5 0h0m-47 1h0m3 0h0m4 0h0m1 0h0m14 0h0m5 0h0m2 0h0m3 0h0m1 0h0m5 0h0m1 0h0m3 0h0m-89 1h0m34 0h0m12 0h0m6 0h0m3 0h0m2 0h0m4 0h0m1 0h0m3 0h0m7 0h0m25 0h0m-107 1h0m55 0h0m1 0h0m3 0h0m13 0h0m4 0h0m11 0h0m5 0h0m2 0h0m2 0h0m4 0h0m1 0h0m2 0h0m9 0h0m-78 1h0m6 0h0m10 0h0m7 0h0m5 0h0m7 0h0m6 0h0m3 0h0m7 0h0m2 0h0m7 0h0m-59 1h0m7 0h0m12 0h0m16 0h0m5 0h0m3 0h0m4 0h0m6 0h0m3 0h0m9 0h0m4 0h0m2 0h0m3 0h0m-65 1h0m9 0h0m1 0h0m8 0h0m3 0h0m6 0h0m2 0h0m12 0h0m4 0h0m10 0h0m2 0h0m6 0h0m6 0h0m-103 1h0m25 0h0m16 0h0m7 0h0m18 0h0m3 0h0m14 0h0m8 0h0m2 0h0m4 0h0m-69 1h0m11 0h0m1 0h0m4 0h0m3 0h0m1 0h0m2 0h0m3 0h0m1 0h0m8 0h0m1 0h0m2 0h0m1 0h0m3 0h0m2 0h0m1 0h0m5 0h0m4 0h0m7 0h0m1 0h0m-55 1h0m6 0h0m14 0h0m3 0h0m1 0h0m1 0h0m3 0h0m9 0h0m3 0h0m10 0h0m2 0h0m1 0h0m1 0h0m4 0h0m3 0h0m-65 1h0m11 0h0m10 0h0m4 0h0m1 0h0m15 0h0m3 0h0m4 0h0m2 0h0m1 0h0m4 0h0m12 0h0m-74 1h0m15 0h0m8 0h0m1 0h0m12 0h0m10 0h0m9 0h0m5 0h0m3 0h0m2 0h0m6 0h0m1 0h0m-80 1h0m10 0h0m5 0h0m11 0h0m7 0h0m1 0h0m19 0h0m2 0h0m13 0h0m2 0h0m1 0h0m2 0h0m5 0h0m-76 1h0m15 0h0m12 0h0m8 0h0m5 0h0m4 0h0m1 0h0m7 0h0m6 0h0m1 0h0m6 0h0m9 0h0m6 0h0m-64 1h0m3 0h0m2 0h0m1 0h0m5 0h0m5 0h0m8 0h0m7 0h0m1 0h0m4 0h0m1 0h0m2 0h0m5 0h0m2 0h0m1 0h0m2 0h0m3 0h0m1 0h0m8 0h0m1 0h0m1 0h0m-93 1h0m12 0h0m16 0h0m11 0h0m6 0h0m6 0h0m3 0h0m4 0h0m2 0h0m9 0h0m16 0h0m1 0h0m6 0h0m1 0h0m-146 1h0m39 0h0m53 0h0m9 0h0m6 0h0m5 0h0m6 0h0m4 0h0m3 0h0m1 0h0m11 0h0m10 0h0m2 0h0m-60 1h0m5 0h0m4 0h0m14 0h0m9 0h0m1 0h0m3 0h0m6 0h0m1 0h0m6 0h0m5 0h0m4 0h0m-75 1h0m15 0h0m1 0h0m13 0h0m14 0h0m1 0h0m2 0h0m7 0h0m1 0h0m7 0h0m1 0h0m7 0h0m-169 1h0m81 0h0m22 0h0m3 0h0m9 0h0m2 0h0m9 0h0m1 0h0m5 0h0m5 0h0m5 0h0m4 0h0m2 0h0m1 0h0m5 0h0m3 0h0m4 0h0m2 0h0m9 0h0m1 0h0m6 0h0m-89 1h0m12 0h0m17 0h0m3 0h0m12 0h0m3 0h0m1 0h0m22 0h0m-101 1h0m36 0h0m4 0h0m3 0h0m4 0h0m1 0h0m9 0h0m6 0h0m7 0h0m2 0h0m7 0h0m2 0h0m1 0h0m7 0h0m6 0h0m7 0h0m2 0h0m3 0h0m4 0h0m3 0h0m1 0h0m2 0h0m-72 1h0m5 0h0m4 0h0m8 0h0m1 0h0m7 0h0m3 0h0m14 0h0m4 0h0m2 0h0m12 0h0m6 0h0m3 0h0m2 0h0m2 0h0m-60 1h0m19 0h0m7 0h0m6 0h0m20 0h0m8 0h0m-95 1h0m11 0h0m15 0h0m3 0h0m2 0h0m5 0h0m10 0h0m1 0h0m15 0h0m9 0h0m6 0h0m-66 1h0m22 0h0m3 0h0m8 0h0m2 0h0m1 0h0m17 0h0m1 0h0m4 0h0m5 0h0m1 0h0m2 0h0m7 0h0m4 0h0m4 0h0m4 0h0m-100 1h0m45 0h0m3 0h0m6 0h0m11 0h0m6 0h0m4 0h0m3 0h0m9 0h0m2 0h0m1 0h0m5 0h0m2 0h0m5 0h0m-128 1h0m43 0h0m8 0h0m3 0h0m5 0h0m4 0h0m1 0h0m2 0h0m20 0h0m4 0h0m8 0h0m2 0h0m3 0h0m3 0h0m8 0h0m3 0h0m1 0h0m2 0h0m-53 1h0m1 0h0m2 0h0m5 0h0m5 0h0m5 0h0m7 0h0m1 0h0m7 0h0m22 0h0m-178 1h0m72 0h0m40 0h0m1 0h0m3 0h0m3 0h0m11 0h0m3 0h0m2 0h0m8 0h0m3 0h0m1 0h0m8 0h0m21 0h0m5 0h0m-77 1h0m7 0h0m8 0h0m10 0h0m2 0h0m7 0h0m13 0h0m9 0h0m5 0h0m1 0h0m2 0h0m4 0h0m3 0h0m1 0h0m-95 1h0m1 0h0m3 0h0m4 0h0m25 0h0m3 0h0m9 0h0m5 0h0m7 0h0m17 0h0m4 0h0m8 0h0m5 0h0m4 0h0m6 0h0m-157 1h0m74 0h0m12 0h0m3 0h0m10 0h0m3 0h0m6 0h0m3 0h0m1 0h0m5 0h0m1 0h0m3 0h0m2 0h0m27 0h0m-72 1h0m9 0h0m1 0h0m7 0h0m6 0h0m1 0h0m7 0h0m11 0h0m22 0h0m1 0h0m6 0h0m2 0h0m-133 1h0m19 0h0m27 0h0m31 0h0m2 0h0m3 0h0m6 0h0m5 0h0m8 0h0m5 0h0m6 0h0m1 0h0m1 0h0m1 0h0m5 0h0m3 0h0m2 0h0m1 0h0m14 0h0m-97 1h0m29 0h0m1 0h0m6 0h0m4 0h0m7 0h0m3 0h0m21 0h0m16 0h0m3 0h0m1 0h0m-74 1h0m4 0h0m6 0h0m5 0h0m7 0h0m2 0h0m18 0h0m1 0h0m11 0h0m1 0h0m8 0h0m1 0h0m5 0h0m3 0h0m2 0h0m1 0h0m-90 1h0m21 0h0m5 0h0m27 0h0m1 0h0m5 0h0m3 0h0m8 0h0m2 0h0m2 0h0m6 0h0m2 0h0m5 0h0m-97 1h0m15 0h0m4 0h0m8 0h0m23 0h0m2 0h0m20 0h0m1 0h0m5 0h0m6 0h0m3 0h0m7 0h0m2 0h0m7 0h0m1 0h0m-164 1h0m87 0h0m8 0h0m2 0h0m1 0h0m7 0h0m3 0h0m6 0h0m17 0h0m1 0h0m5 0h0m1 0h0m3 0h0m1 0h0m10 0h0m3 0h0m1 0h0m2 0h0m3 0h0m-109 1h0m8 0h0m2 0h0m17 0h0m1 0h0m2 0h0m2 0h0m22 0h0m3 0h0m4 0h0m7 0h0m6 0h0m10 0h0m6 0h0m1 0h0m1 0h0m2 0h0m14 0h0m1 0h0m-123 1h0m57 0h0m7 0h0m2 0h0m5 0h0m1 0h0m7 0h0m15 0h0m1 0h0m9 0h0m16 0h0m-136 1h0m47 0h0m11 0h0m10 0h0m1 0h0m4 0h0m4 0h0m3 0h0m6 0h0m3 0h0m8 0h0m9 0h0m1 0h0m9 0h0m5 0h0m6 0h0m1 0h0m3 0h0m4 0h0m-148 1h0m4 0h0m22 0h0m31 0h0m14 0h0m10 0h0m2 0h0m1 0h0m3 0h0m10 0h0m2 0h0m21 0h0m3 0h0m4 0h0m4 0h0m5 0h0m4 0h0m3 0h0m3 0h0m3 0h0m2 0h0m-82 1h0m19 0h0m6 0h0m10 0h0m1 0h0m1 0h0m1 0h0m2 0h0m2 0h0m15 0h0m3 0h0m6 0h0m13 0h0m9 0h0m-100 1h0m25 0h0m6 0h0m2 0h0m1 0h0m1 0h0m1 0h0m2 0h0m2 0h0m6 0h0m1 0h0m9 0h0m4 0h0m4 0h0m11 0h0m2 0h0m16 0h0m1 0h0m-89 1h0m2 0h0m20 0h0m16 0h0m5 0h0m4 0h0m3 0h0m6 0h0m1 0h0m1 0h0m1 0h0m2 0h0m4 0h0m2 0h0m4 0h0m7 0h0m11 0h0m3 0h0m-153 1h0m53 0h0m21 0h0m13 0h0m2 0h0m4 0h0m1 0h0m3 0h0m1 0h0m1 0h0m20 0h0m6 0h0m5 0h0m6 0h0m1 0h0m1 0h0m1 0h0m2 0h0m4 0h0m1 0h0m-49 1h0m1 0h0m3 0h0m2 0h0m6 0h0m1 0h0m2 0h0m1 0h0m14 0h0m13 0h0m5 0h0m5 0h0m4 0h0m3 0h0m-98 1h0m27 0h0m9 0h0m2 0h0m5 0h0m5 0h0m6 0h0m1 0h0m4 0h0m4 0h0m5 0h0m7 0h0m11 0h0m2 0h0m3 0h0m-81 1h0m4 0h0m4 0h0m3 0h0m4 0h0m12 0h0m4 0h0m7 0h0m2 0h0m7 0h0m4 0h0m5 0h0m1 0h0m2 0h0m6 0h0m5 0h0m7 0h0m5 0h0m2 0h0m2 0h0m-126 1h0m26 0h0m22 0h0m11 0h0m3 0h0m1 0h0m4 0h0m3 0h0m3 0h0m3 0h0m15 0h0m2 0h0m1 0h0m1 0h0m2 0h0m11 0h0m8 0h0m6 0h0m-164 1h0m71 0h0m4 0h0m10 0h0m3 0h0m4 0h0m4 0h0m2 0h0m3 0h0m8 0h0m4 0h0m11 0h0m1 0h0m3 0h0m5 0h0m2 0h0m1 0h0m3 0h0m12 0h0m8 0h0m1 0h0m4 0h0m1 0h0m-176 1h0m81 0h0m7 0h0m3 0h0m1 0h0m14 0h0m13 0h0m3 0h0m21 0h0m3 0h0m9 0h0m3 0h0m3 0h0m5 0h0m2 0h0m10 0h0m-88 1h0m3 0h0m24 0h0m7 0h0m2 0h0m2 0h0m9 0h0m1 0h0m3 0h0m1 0h0m7 0h0m1 0h0m1 0h0m2 0h0m1 0h0m1 0h0m3 0h0m3 0h0m2 0h0m7 0h0m-132 1h0m34 0h0m21 0h0m11 0h0m2 0h0m1 0h0m11 0h0m3 0h0m5 0h0m4 0h0m1 0h0m4 0h0m2 0h0m13 0h0m2 0h0m8 0h0m4 0h0m6 0h0m-157 1h0m53 0h0m37 0h0m5 0h0m1 0h0m5 0h0m2 0h0m1 0h0m7 0h0m2 0h0m3 0h0m1 0h0m1 0h0m7 0h0m31 0h0m-73 1h0m10 0h0m1 0h0m2 0h0m4 0h0m17 0h0m22 0h0m2 0h0m8 0h0m14 0h0m-178 1h0m72 0h0m12 0h0m32 0h0m4 0h0m2 0h0m2 0h0m1 0h0m8 0h0m2 0h0m3 0h0m1 0h0m4 0h0m13 0h0m2 0h0m2 0h0m7 0h0m6 0h0m-70 1h0m12 0h0m1 0h0m8 0h0m4 0h0m1 0h0m1 0h0m11 0h0m4 0h0m7 0h0m4 0h0m13 0h0m14 0h0m-117 1h0m50 0h0m1 0h0m3 0h0m6 0h0m3 0h0m2 0h0m4 0h0m12 0h0m7 0h0m4 0h0m4 0h0m1 0h0m9 0h0m-108 1h0m43 0h0m6 0h0m3 0h0m8 0h0m4 0h0m6 0h0m3 0h0m8 0h0m7 0h0m5 0h0m12 0h0m-82 1h0m15 0h0m1 0h0m11 0h0m5 0h0m2 0h0m10 0h0m5 0h0m7 0h0m1 0h0m1 0h0m6 0h0m18 0h0m-71 1h0m12 0h0m9 0h0m10 0h0m1 0h0m4 0h0m5 0h0m1 0h0m6 0h0m3 0h0m3 0h0m4 0h0m1 0h0m5 0h0m4 0h0m-92 1h0m22 0h0m4 0h0m6 0h0m21 0h0m1 0h0m3 0h0m2 0h0m3 0h0m5 0h0m16 0h0m10 0h0m1 0h0m1 0h0m9 0h0m-85 1h0m12 0h0m11 0h0m19 0h0m1 0h0m4 0h0m1 0h0m1 0h0m2 0h0m6 0h0m2 0h0m2 0h0m5 0h0m3 0h0m12 0h0m-106 1h0m8 0h0m27 0h0m4 0h0m16 0h0m2 0h0m1 0h0m1 0h0m1 0h0m5 0h0m4 0h0m19 0h0m1 0h0m7 0h0m1 0h0m14 0h0m2 0h0m-104 1h0m37 0h0m10 0h0m11 0h0m27 0h0m14 0h0m-142 1h0m42 0h0m32 0h0m9 0h0m1 0h0m1 0h0m6 0h0m1 0h0m7 0h0m9 0h0m3 0h0m1 0h0m1 0h0m3 0h0m1 0h0m1 0h0m-27 1h0m4 0h0m2 0h0m9 0h0m5 0h0m10 0h0m1 0h0m21 0h0m-102 1h0m28 0h0m14 0h0m8 0h0m14 0h0m1 0h0m1 0h0m15 0h0m2 0h0m4 0h0m3 0h0m2 0h0m-163 1h0m82 0h0m15 0h0m2 0h0m12 0h0m11 0h0m6 0h0m8 0h0m2 0h0m1 0h0m1 0h0m3 0h0m15 0h0m11 0h0m5 0h0m-51 1h0m9 0h0m23 0h0m3 0h0m12 0h0m-59 1h0m9 0h0m6 0h0m3 0h0m1 0h0m3 0h0m13 0h0m6 0h0m-127 1h0m74 0h0m12 0h0m9 0h0m9 0h0m2 0h0m7 0h0m7 0h0m9 0h0m8 0h0m-53 1h0m13 0h0m8 0h0m5 0h0m11 0h0m1 0h0m2 0h0m9 0h0m-147 1h0m103 0h0m11 0h0m14 0h0m16 0h0m13 0h0m-57 1h0m1 0h0m14 0h0m3 0h0m16 0h0m7 0h0m1 0h0m3 0h0m-95 1h0m35 0h0m16 0h0m8 0h0m21 0h0m11 0h0m1 0h0m5 0h0m-177 1h0m131 0h0m2 0h0m7 0h0m7 0h0m1 0h0m5 0h0m-22 1h0m21 0h0m1 0h0m40 0h0m-69 1h0m10 0h0m5 0h0m4 0h0m4 0h0m2 0h0m4 0h0m1 0h0m-31 1h0m10 0h0m38 0h0m2 0h0m-65 1h0m34 0h0m-58 1h0m39 0h0m32 0h0m29 0h0m-63 1h0m12 0h0m18 0h0m7 0h0m13 0h0m-130 1h0m57 0h0m38 0h0m12 0h0m1 0h0m3 0h0m9 0h0m1 0h0m20 0h0m-175 1h0m41 0h0m37 0h0m6 0h0m14 0h0m69 0h0m-81 1h0m27 0h0m8 0h0m6 0h0m-6 1h0m11 0h0m12 0h0m-141 1h0m15 0h0m111 0h0m17 0h0m9 0h0m-159 1h0m167 0h0m6 0h0m-60 1h0m-114 1h0m15 0h0m1 0h0m128 0h0m1 0h0m19 0h0m-54 2h0m4 0h0m40 0h0m38 0h0m-107 1h0m79 1h0m-150 1h0m90 0h0m12 2h0m47 0h0m16 0h0m-183 2h0m106 0h0m39 1h0m-52 2h0m15 0h0m52 0h0m-78 2h0m-80 1h0m121 2h0m13 0h0m24 0h0m-69 1h0m106 2h0m-46 2h0m31 0h0m-92 1h0m82 1h0m-133 1h0m75 1h0m-93 1h0m136 1h0m-133 1h0m-11 1h0m138 0h0m-134 3h0m25 7h0m-8 8h0m18 1h0m-39 2h0" stroke="#2424a5" stroke-width="1.50" stroke-linecap="round" fill="none"/>
<path transform="translate(.5 .5)" d="M1138 1576h0m2 0h0m4 0h0m10 0h0m-13 1h0m10 0h0m9 0h0m3 0h0m1 0h0m1 0h0m1 0h0m-32 1h0m2 0h0m1 0h0m2 0h0m3 0h0m6 0h0m1 0h0m1 0h0m10 0h0m-25 1h0m7 0h0m2 0h0m12 0h0m6 0h0m-18 1h0m2 0h0m18 0h0m4 0h0m1 0h0m-15 1h0m7 0h0m3 0h0m7 0h0m3 0h0m-28 1h0m6 0h0m1 0h0m11 0h0m2 0h0m4 0h0m9 0h0m-37 1h0m3 0h0m11 0h0m14 0h0m7 0h0m2 0h0m-43 1h0m11 0h0m21 0h0m10 0h0m-40 1h0m2 0h0m21 0h0m4 0h0m3 0h0m2 0h0m-36 1h0m6 0h0m1 0h0m7 0h0m2 0h0m11 0h0m7 0h0m2 0h0m6 0h0m-41 1h0m1 0h0m4 0h0m3 0h0m1 0h0m1 0h0m2 0h0m14 0h0m1 0h0m7 0h0m8 0h0m2 0h0m2 0h0m-46 1h0m7 0h0m7 0h0m3 0h0m1 0h0m5 0h0m20 0h0m-42 1h0m5 0h0m3 0h0m10 0h0m2 0h0m9 0h0m5 0h0m2 0h0m4 0h0m2 0h0m-46 1h0m8 0h0m1 0h0m8 0h0m10 0h0m15 0h0m-37 1h0m1 0h0m2 0h0m4 0h0m27 0h0m9 0h0m2 0h0m-57 1h0m10 0h0m8 0h0m2 0h0m5 0h0m3 0h0m14 0h0m2 0h0m9 0h0m3 0h0m5 0h0m-50 1h0m2 0h0m6 0h0m10 0h0m6 0h0m4 0h0m5 0h0m6 0h0m3 0h0m5 0h0m-44 1h0m2 0h0m3 0h0m19 0h0m5 0h0m3 0h0m9 0h0m2 0h0m-49 1h0m2 0h0m4 0h0m2 0h0m5 0h0m1 0h0m13 0h0m7 0h0m2 0h0m1 0h0m2 0h0m2 0h0m2 0h0m7 0h0m2 0h0m-57 1h0m8 0h0m15 0h0m15 0h0m9 0h0m5 0h0m-48 1h0m4 0h0m2 0h0m10 0h0m4 0h0m3 0h0m7 0h0m1 0h0m1 0h0m5 0h0m2 0h0m2 0h0m7 0h0m-51 1h0m2 0h0m3 0h0m1 0h0m17 0h0m23 0h0m3 0h0m1 0h0m6 0h0m-54 1h0m4 0h0m1 0h0m1 0h0m4 0h0m8 0h0m3 0h0m3 0h0m2 0h0m2 0h0m1 0h0m6 0h0m3 0h0m9 0h0m1 0h0m2 0h0m2 0h0m-52 1h0m13 0h0m9 0h0m10 0h0m4 0h0m3 0h0m7 0h0m1 0h0m7 0h0m-53 1h0m5 0h0m5 0h0m5 0h0m2 0h0m13 0h0m1 0h0m12 0h0m1 0h0m9 0h0m-55 1h0m3 0h0m5 0h0m1 0h0m4 0h0m4 0h0m1 0h0m9 0h0m8 0h0m-25 1h0m7 0h0m6 0h0m3 0h0m3 0h0m17 0h0m5 0h0m-50 1h0m6 0h0m3 0h0m1 0h0m2 0h0m6 0h0m3 0h0m3 0h0m6 0h0m1 0h0m7 0h0m-41 1h0m4 0h0m6 0h0m8 0h0m17 0h0m1 0h0m1 0h0m1 0h0m1 0h0m6 0h0m2 0h0m2 0h0m5 0h0m3 0h0m-65 1h0m7 0h0m7 0h0m8 0h0m11 0h0m8 0h0m4 0h0m18 0h0m1 0h0m-55 1h0m5 0h0m4 0h0m17 0h0m2 0h0m13 0h0m12 0h0m-54 1h0m3 0h0m2 0h0m9 0h0m3 0h0m10 0h0m1 0h0m7 0h0m6 0h0m3 0h0m6 0h0m7 0h0m-46 1h0m2 0h0m3 0h0m3 0h0m9 0h0m3 0h0m24 0h0m-53 1h0m37 0h0m10 0h0m7 0h0m-48 1h0m17 0h0m18 0h0m4 0h0m1 0h0m-41 1h0m3 0h0m1 0h0m1 0h0m3 0h0m4 0h0m3 0h0m5 0h0m1 0h0m10 0h0m10 0h0m4 0h0m-50 1h0m1 0h0m1 0h0m2 0h0m28 0h0m3 0h0m14 0h0m-51 1h0m18 0h0m16 0h0m5 0h0m3 0h0m3 0h0m1 0h0m5 0h0m-50 1h0m10 0h0m3 0h0m4 0h0m7 0h0m7 0h0m2 0h0m5 0h0m2 0h0m3 0h0m3 0h0m-45 1h0m3 0h0m1 0h0m2 0h0m1 0h0m3 0h0m7 0h0m1 0h0m14 0h0m10 0h0m6 0h0m2 0h0m1 0h0m-50 1h0m3 0h0m2 0h0m3 0h0m4 0h0m2 0h0m29 0h0m3 0h0m2 0h0m-62 1h0m19 0h0m16 0h0m3 0h0m1 0h0m3 0h0m1 0h0m4 0h0m9 0h0m1 0h0m4 0h0m-40 1h0m3 0h0m7 0h0m10 0h0m2 0h0m8 0h0m5 0h0m7 0h0m-53 1h0m12 0h0m1 0h0m1 0h0m8 0h0m14 0h0m2 0h0m2 0h0m1 0h0m5 0h0m6 0h0m1 0h0m1 0h0m1 0h0m2 0h0m-39 1h0m1 0h0m2 0h0m5 0h0m7 0h0m11 0h0m5 0h0m1 0h0m1 0h0m-50 1h0m23 0h0m10 0h0m6 0h0m2 0h0m4 0h0m6 0h0m-49 1h0m8 0h0m15 0h0m7 0h0m3 0h0m11 0h0m-42 1h0m4 0h0m2 0h0m1 0h0m1 0h0m10 0h0m10 0h0m6 0h0m4 0h0m-40 1h0m14 0h0m23 0h0m1 0h0m3 0h0m4 0h0m-48 1h0m7 0h0m7 0h0m9 0h0m13 0h0m11 0h0m-32 1h0m3 0h0m7 0h0m3 0h0m4 0h0m11 0h0m4 0h0m4 0h0m-29 1h0m6 0h0m1 0h0m11 0h0m-38 1h0m13 0h0m7 0h0m7 0h0m1 0h0m1 0h0m4 0h0m4 0h0m-20 1h0m-11 1h0m5 0h0m2 0h0m10 0h0m1 0h0m1 0h0m2 0h0m2 0h0m1 0h0m-18 1h0m3 0h0m8 0h0m1 0h0m8 0h0m-16 1h0m2 0h0m3 0h0m4 0h0m3 0h0m-15 1h0m7 0h0m6 0h0m7 0h0m1 0h0m1 0h0m3 0h0m-20 1h0m6 0h0m1 0h0m2 0h0m1 0h0m1 0h0m4 0h0m2 0h0m-22 1h0m1 0h0m2 0h0m2 0h0m2 0h0m5 0h0m3 0h0m-26 1h0m1 0h0m19 0h0m2 0h0m6 0h0m1 0h0m7 0h0m-23 1h0m3 0h0m11 0h0m1 0h0m3 0h0m-11 1h0m10 0h0m6 0h0m-33 1h0m15 0h0m6 0h0m-2 2h0m-8 2h0" stroke="#2e35bd" stroke-width="1.50" stroke-linecap="round" fill="none"/>
<path transform="translate(.5 .5)" d="M1161 1577h0m1 0h0m-23 1h0m15 0h0m-21 1h0m19 0h0m7 0h0m7 0h0m-12 1h0m5 0h0m2 0h0m-13 1h0m4 0h0m3 0h0m3 0h0m1 0h0m1 0h0m4 0h0m-15 1h0m14 0h0m3 0h0m4 0h0m-24 1h0m5 0h0m1 0h0m5 0h0m1 0h0m3 0h0m-29 1h0m7 0h0m20 0h0m6 0h0m4 0h0m-26 1h0m2 0h0m10 0h0m1 0h0m1 0h0m9 0h0m1 0h0m-30 1h0m5 0h0m7 0h0m14 0h0m2 0h0m1 0h0m-20 1h0m11 0h0m5 0h0m5 0h0m1 0h0m2 0h0m2 0h0m-33 1h0m15 0h0m1 0h0m20 0h0m2 0h0m-40 1h0m8 0h0m14 0h0m7 0h0m3 0h0m6 0h0m3 0h0m-42 1h0m2 0h0m3 0h0m5 0h0m5 0h0m4 0h0m1 0h0m2 0h0m5 0h0m3 0h0m8 0h0m3 0h0m-30 1h0m11 0h0m4 0h0m-16 1h0m1 0h0m12 0h0m5 0h0m5 0h0m2 0h0m7 0h0m-44 1h0m24 0h0m3 0h0m3 0h0m-28 1h0m2 0h0m2 0h0m12 0h0m1 0h0m2 0h0m7 0h0m8 0h0m-34 1h0m15 0h0m14 0h0m10 0h0m4 0h0m-45 1h0m2 0h0m4 0h0m1 0h0m1 0h0m7 0h0m13 0h0m8 0h0m8 0h0m-42 1h0m6 0h0m5 0h0m2 0h0m8 0h0m7 0h0m3 0h0m3 0h0m4 0h0m1 0h0m3 0h0m-41 1h0m3 0h0m3 0h0m32 0h0m-36 1h0m2 0h0m8 0h0m9 0h0m11 0h0m1 0h0m2 0h0m4 0h0m1 0h0m2 0h0m1 0h0m1 0h0m-38 1h0m3 0h0m6 0h0m3 0h0m2 0h0m5 0h0m1 0h0m-28 1h0m2 0h0m14 0h0m8 0h0m8 0h0m5 0h0m3 0h0m3 0h0m2 0h0m-40 1h0m2 0h0m3 0h0m1 0h0m5 0h0m6 0h0m5 0h0m8 0h0m1 0h0m1 0h0m-28 1h0m4 0h0m4 0h0m3 0h0m6 0h0m5 0h0m4 0h0m1 0h0m4 0h0m2 0h0m1 0h0m2 0h0m2 0h0m-49 1h0m27 0h0m2 0h0m10 0h0m9 0h0m-49 1h0m5 0h0m1 0h0m4 0h0m3 0h0m2 0h0m4 0h0m3 0h0m27 0h0m2 0h0m-53 1h0m3 0h0m10 0h0m24 0h0m3 0h0m3 0h0m2 0h0m4 0h0m1 0h0m-48 1h0m1 0h0m5 0h0m1 0h0m1 0h0m8 0h0m4 0h0m3 0h0m9 0h0m2 0h0m3 0h0m3 0h0m3 0h0m-36 1h0m3 0h0m4 0h0m5 0h0m8 0h0m8 0h0m4 0h0m1 0h0m3 0h0m1 0h0m3 0h0m-46 1h0m4 0h0m6 0h0m3 0h0m2 0h0m27 0h0m-39 1h0m1 0h0m1 0h0m2 0h0m5 0h0m9 0h0m15 0h0m4 0h0m3 0h0m-44 1h0m11 0h0m5 0h0m8 0h0m1 0h0m3 0h0m5 0h0m4 0h0m2 0h0m-36 1h0m4 0h0m1 0h0m1 0h0m9 0h0m1 0h0m4 0h0m3 0h0m15 0h0m2 0h0m-39 1h0m2 0h0m11 0h0m4 0h0m7 0h0m5 0h0m5 0h0m-40 1h0m23 0h0m11 0h0m1 0h0m5 0h0m1 0h0m-41 1h0m2 0h0m19 0h0m7 0h0m8 0h0m1 0h0m2 0h0m3 0h0m-40 1h0m9 0h0m9 0h0m7 0h0m6 0h0m11 0h0m-45 1h0m3 0h0m1 0h0m9 0h0m1 0h0m5 0h0m1 0h0m8 0h0m1 0h0m11 0h0m11 0h0m-48 1h0m14 0h0m3 0h0m1 0h0m1 0h0m1 0h0m4 0h0m1 0h0m3 0h0m3 0h0m1 0h0m2 0h0m3 0h0m1 0h0m5 0h0m-40 1h0m9 0h0m1 0h0m2 0h0m5 0h0m5 0h0m11 0h0m-23 1h0m1 0h0m17 0h0m3 0h0m1 0h0m4 0h0m-31 1h0m3 0h0m6 0h0m7 0h0m1 0h0m3 0h0m2 0h0m3 0h0m1 0h0m2 0h0m-33 1h0m1 0h0m10 0h0m2 0h0m19 0h0m2 0h0m5 0h0m3 0h0m-33 1h0m1 0h0m3 0h0m16 0h0m-21 1h0m7 0h0m4 0h0m1 0h0m2 0h0m7 0h0m-21 1h0m1 0h0m14 0h0m1 0h0m2 0h0m-14 1h0m2 0h0m4 0h0m2 0h0m5 0h0m2 0h0m-17 1h0m4 0h0m2 0h0m-8 1h0m2 0h0m1 0h0m2 0h0m10 0h0m-15 1h0m1 0h0m3 1h0m4 0h0m5 0h0m1 0h0m-3 1h0m4 0h0m0 1h0m-9 1h0m3 0h0m7 0h0m0 3h0m-11 1h0m2 1h0m6 0h0m2 0h0m2 3h0" stroke="#3658ce" stroke-width="1.50" stroke-linecap="round" fill="none"/>
<path transform="translate(.5 .5)" d="M1140 1577h0m19 3h0m9 0h0m-20 1h0m6 0h0m1 0h0m6 0h0m8 0h0m-6 1h0m-9 1h0m1 0h0m1 0h0m4 0h0m3 0h0m1 0h0m-10 1h0m1 0h0m5 0h0m1 0h0m1 0h0m-18 1h0m3 0h0m4 0h0m1 0h0m4 0h0m-14 1h0m1 0h0m1 0h0m5 0h0m3 0h0m5 0h0m-15 1h0m8 0h0m1 0h0m1 0h0m10 0h0m-9 1h0m5 0h0m9 0h0m-24 1h0m1 0h0m1 0h0m2 0h0m2 0h0m13 0h0m1 0h0m3 0h0m5 0h0m-32 1h0m14 0h0m13 0h0m2 0h0m-28 1h0m3 0h0m1 0h0m3 0h0m4 0h0m6 0h0m12 0h0m11 0h0m-36 1h0m6 0h0m3 0h0m7 0h0m3 0h0m7 0h0m3 0h0m-37 1h0m6 0h0m1 0h0m3 0h0m5 0h0m6 0h0m12 0h0m3 0h0m-31 1h0m8 0h0m8 0h0m1 0h0m2 0h0m6 0h0m-19 1h0m8 0h0m9 0h0m1 0h0m2 0h0m2 0h0m2 0h0m-14 1h0m8 0h0m7 0h0m10 0h0m-39 1h0m3 0h0m4 0h0m1 0h0m6 0h0m3 0h0m13 0h0m-38 1h0m8 0h0m2 0h0m10 0h0m6 0h0m5 0h0m7 0h0m6 0h0m-47 1h0m9 0h0m6 0h0m8 0h0m12 0h0m5 0h0m-30 1h0m1 0h0m1 0h0m4 0h0m3 0h0m4 0h0m7 0h0m3 0h0m8 0h0m1 0h0m4 0h0m-43 1h0m3 0h0m2 0h0m10 0h0m15 0h0m3 0h0m-23 1h0m4 0h0m2 0h0m6 0h0m3 0h0m1 0h0m9 0h0m4 0h0m-34 1h0m1 0h0m7 0h0m25 0h0m2 0h0m-43 1h0m2 0h0m3 0h0m1 0h0m7 0h0m1 0h0m2 0h0m7 0h0m4 0h0m6 0h0m3 0h0m9 0h0m-41 1h0m5 0h0m14 0h0m12 0h0m3 0h0m5 0h0m4 0h0m-35 1h0m4 0h0m6 0h0m7 0h0m2 0h0m-31 1h0m9 0h0m2 0h0m3 0h0m12 0h0m5 0h0m5 0h0m1 0h0m-36 1h0m17 0h0m7 0h0m6 0h0m1 0h0m5 0h0m3 0h0m-39 1h0m7 0h0m3 0h0m4 0h0m11 0h0m7 0h0m7 0h0m3 0h0m1 0h0m-38 1h0m7 0h0m2 0h0m3 0h0m2 0h0m7 0h0m4 0h0m9 0h0m-38 1h0m7 0h0m1 0h0m1 0h0m23 0h0m3 0h0m4 0h0m-34 1h0m2 0h0m5 0h0m1 0h0m19 0h0m2 0h0m3 0h0m2 0h0m-32 1h0m1 0h0m2 0h0m4 0h0m11 0h0m7 0h0m6 0h0m-35 1h0m6 0h0m9 0h0m1 0h0m3 0h0m4 0h0m1 0h0m2 0h0m2 0h0m4 0h0m-23 1h0m1 0h0m3 0h0m1 0h0m1 0h0m7 0h0m-26 1h0m6 0h0m9 0h0m1 0h0m10 0h0m1 0h0m-7 1h0m5 0h0m2 0h0m6 0h0m2 0h0m-27 1h0m6 0h0m10 0h0m2 0h0m8 0h0m1 0h0m2 0h0m3 0h0m-32 1h0m3 0h0m8 0h0m1 0h0m3 0h0m5 0h0m3 0h0m-19 1h0m2 0h0m7 0h0m3 0h0m2 0h0m3 0h0m-12 1h0m1 0h0m8 0h0m3 0h0m1 0h0m-25 1h0m6 0h0m9 0h0m4 0h0m13 0h0m-23 1h0m9 0h0m5 0h0m-15 1h0m9 0h0m15 0h0m-28 1h0m5 0h0m5 0h0m-3 1h0m7 0h0m-8 1h0m2 0h0m4 0h0m3 0h0m-15 1h0m4 6h0m7 0h0m-4 3h0" stroke="#42ace0" stroke-width="1.50" stroke-linecap="round" fill="none"/>
<path transform="translate(.5 .5)" d="M1167 1581h0m-12 1h0m2 0h0m5 0h0m4 1h0m3 0h0m-23 1h0m11 0h0m8 0h0m-10 1h0m1 0h0m1 0h0m4 0h0m-19 1h0m6 0h0m10 0h0m2 0h0m6 0h0m1 0h0m-17 1h0m1 0h0m16 0h0m-10 1h0m16 0h0m-28 1h0m6 0h0m2 0h0m2 0h0m8 0h0m1 0h0m1 0h0m-12 1h0m-11 1h0m6 0h0m5 0h0m5 0h0m1 0h0m1 0h0m5 0h0m2 0h0m-30 1h0m5 0h0m2 0h0m2 0h0m6 0h0m2 0h0m2 0h0m6 0h0m4 0h0m3 0h0m-26 1h0m9 0h0m10 0h0m3 0h0m1 0h0m1 0h0m-33 1h0m5 0h0m6 0h0m4 0h0m20 0h0m-31 1h0m4 0h0m4 0h0m19 0h0m1 0h0m5 0h0m-32 1h0m2 0h0m9 0h0m3 0h0m13 0h0m-24 1h0m2 0h0m11 0h0m7 0h0m4 0h0m4 0h0m4 0h0m4 0h0m-38 1h0m1 0h0m9 0h0m3 0h0m1 0h0m4 0h0m2 0h0m1 0h0m12 0h0m-39 1h0m7 0h0m4 0h0m6 0h0m7 0h0m5 0h0m8 0h0m-32 1h0m11 0h0m1 0h0m4 0h0m8 0h0m4 0h0m2 0h0m1 0h0m-17 1h0m1 0h0m5 0h0m1 0h0m7 0h0m9 0h0m-33 1h0m7 0h0m-12 1h0m7 0h0m1 0h0m2 0h0m1 0h0m1 0h0m4 0h0m2 0h0m6 0h0m-26 1h0m1 0h0m28 0h0m1 0h0m-19 1h0m7 0h0m23 0h0m1 0h0m-41 1h0m5 0h0m3 0h0m9 0h0m15 0h0m2 0h0m2 0h0m-37 1h0m6 0h0m4 0h0m1 0h0m1 0h0m5 0h0m5 0h0m1 0h0m11 0h0m-34 1h0m1 0h0m1 0h0m20 0h0m1 0h0m4 0h0m5 0h0m-28 1h0m10 0h0m17 0h0m7 0h0m-43 1h0m3 0h0m5 0h0m1 0h0m2 0h0m13 0h0m1 0h0m3 0h0m2 0h0m1 0h0m6 0h0m1 0h0m-27 1h0m2 0h0m8 0h0m2 0h0m2 0h0m4 0h0m4 0h0m7 0h0m-33 1h0m4 0h0m5 0h0m4 0h0m2 0h0m17 0h0m-25 1h0m1 0h0m2 0h0m2 0h0m1 0h0m10 0h0m1 0h0m7 0h0m13 0h0m-36 1h0m2 0h0m4 0h0m8 0h0m2 0h0m14 0h0m-34 1h0m1 0h0m13 0h0m8 0h0m-29 1h0m10 0h0m1 0h0m7 0h0m2 0h0m2 0h0m4 0h0m16 0h0m-31 1h0m10 0h0m6 0h0m-18 1h0m10 0h0m-10 1h0m-7 1h0m7 0h0m5 0h0m12 0h0m-11 1h0m3 0h0m2 0h0m4 0h0m-12 1h0m17 0h0m7 0h0m-24 1h0m10 0h0m-13 1h0m5 0h0m9 0h0m3 0h0m-11 1h0m6 0h0m2 1h0m-5 2h0" stroke="#4dcdb6" stroke-width="1.50" stroke-linecap="round" fill="none"/>
<path transform="translate(.5 .5)" d="M1146 1581h0m21 1h0m-10 1h0m-1 1h0m5 0h0m7 0h0m-25 1h0m9 0h0m8 0h0m-10 1h0m2 0h0m2 0h0m3 0h0m3 0h0m8 0h0m-24 1h0m7 0h0m10 0h0m4 0h0m2 0h0m-23 1h0m8 0h0m1 0h0m8 0h0m5 0h0m-18 1h0m6 0h0m2 0h0m5 0h0m-13 1h0m6 0h0m6 0h0m1 0h0m1 0h0m8 0h0m-26 1h0m2 0h0m5 0h0m2 0h0m2 0h0m5 0h0m4 0h0m-10 1h0m4 0h0m-5 1h0m6 0h0m4 0h0m6 0h0m-21 1h0m9 0h0m1 0h0m3 0h0m-9 1h0m2 0h0m3 0h0m6 0h0m6 0h0m1 0h0m3 0h0m-31 1h0m3 0h0m1 0h0m3 0h0m5 0h0m3 0h0m2 0h0m3 0h0m-17 1h0m1 0h0m3 0h0m3 0h0m2 0h0m3 0h0m3 0h0m10 0h0m2 0h0m-20 1h0m3 0h0m8 0h0m7 0h0m-14 1h0m3 0h0m7 0h0m4 0h0m4 0h0m-30 1h0m2 0h0m7 0h0m4 0h0m3 0h0m3 0h0m4 0h0m2 0h0m1 0h0m8 0h0m-12 1h0m-27 1h0m7 0h0m2 0h0m3 0h0m1 0h0m8 0h0m13 0h0m-29 1h0m3 0h0m3 0h0m1 0h0m-9 1h0m2 0h0m12 0h0m17 0h0m-27 1h0m3 0h0m3 0h0m4 0h0m2 0h0m1 0h0m-21 1h0m4 0h0m2 0h0m9 0h0m2 0h0m2 0h0m1 0h0m5 0h0m2 0h0m11 0h0m-42 1h0m6 0h0m11 0h0m3 0h0m7 0h0m8 0h0m-33 1h0m2 0h0m9 0h0m2 0h0m5 0h0m4 0h0m4 0h0m1 0h0m6 0h0m2 0h0m-31 1h0m1 0h0m4 0h0m1 0h0m6 0h0m2 0h0m4 0h0m2 0h0m-9 1h0m14 0h0m-24 1h0m5 0h0m26 0h0m-30 1h0m15 0h0m9 0h0m-21 1h0m8 0h0m8 0h0m-16 1h0m1 0h0m1 0h0m15 0h0m-29 1h0m19 0h0m1 0h0m5 0h0m5 0h0m-13 1h0m4 0h0m3 0h0m3 0h0m-13 1h0m7 0h0m16 0h0m-28 1h0m6 0h0m8 0h0m1 1h0m2 0h0m-19 1h0m9 0h0m8 1h0m13 1h0m-20 1h0m-2 3h0m5 0h0m-8 1h0" stroke="#57d56d" stroke-width="1.50" stroke-linecap="round" fill="none"/>
<path transform="translate(.5 .5)" d="M1159 1581h0m-1 2h0m-1 1h0m1 1h0m2 0h0m3 0h0m-13 1h0m2 0h0m9 0h0m-10 1h0m3 0h0m-4 1h0m10 0h0m-6 1h0m1 0h0m1 0h0m13 0h0m-13 1h0m-4 1h0m9 0h0m-4 1h0m1 0h0m1 0h0m2 0h0m-17 1h0m4 0h0m1 0h0m4 0h0m1 0h0m6 0h0m10 0h0m-16 1h0m3 0h0m-11 1h0m1 0h0m5 0h0m3 0h0m1 0h0m5 0h0m7 0h0m-21 1h0m8 0h0m1 0h0m7 0h0m-20 1h0m21 0h0m5 0h0m-27 1h0m7 0h0m3 0h0m5 0h0m2 0h0m-12 1h0m4 0h0m12 0h0m5 0h0m-29 1h0m1 0h0m5 0h0m1 0h0m2 0h0m4 0h0m1 0h0m8 0h0m1 0h0m8 0h0m-32 1h0m2 0h0m7 0h0m3 0h0m7 0h0m3 0h0m10 0h0m-27 1h0m2 0h0m2 0h0m9 0h0m1 0h0m-13 1h0m9 0h0m3 0h0m4 0h0m8 0h0m-21 1h0m7 0h0m5 0h0m1 0h0m4 0h0m2 0h0m2 0h0m-23 1h0m1 0h0m-4 1h0m17 0h0m2 0h0m3 0h0m-13 1h0m3 0h0m3 0h0m3 0h0m7 0h0m5 0h0m-16 1h0m1 0h0m2 0h0m3 0h0m2 0h0m-20 1h0m1 0h0m1 0h0m6 0h0m8 0h0m3 0h0m3 0h0m-23 1h0m23 0h0m3 0h0m-20 1h0m-2 1h0m5 0h0m6 1h0m12 0h0m-22 1h0m6 0h0m8 0h0m1 1h0m-3 1h0m3 0h0m1 0h0m-3 1h0m-3 2h0m-13 2h0m6 4h0m4 0h0" stroke="#7ddb44" stroke-width="1.50" stroke-linecap="round" fill="none"/>
<path transform="translate(.5 .5)" d="M1159 1583h0m-10 2h0m8 0h0m-6 2h0m4 1h0m-1 1h0m6 0h0m4 0h0m8 0h0m-11 1h0m-7 1h0m-5 1h0m-5 1h0m4 0h0m6 0h0m9 0h0m-14 1h0m4 0h0m6 0h0m-7 1h0m10 0h0m4 0h0m-20 1h0m4 0h0m-2 1h0m12 0h0m8 0h0m-20 1h0m1 0h0m4 0h0m10 0h0m3 0h0m2 0h0m2 0h0m-19 1h0m6 0h0m4 0h0m3 0h0m-20 1h0m2 0h0m15 0h0m-17 1h0m9 0h0m3 0h0m1 0h0m5 0h0m1 0h0m-15 1h0m5 0h0m3 0h0m6 0h0m1 0h0m4 0h0m-25 1h0m4 0h0m2 0h0m3 0h0m4 0h0m5 0h0m-13 1h0m1 0h0m3 0h0m4 0h0m2 0h0m3 0h0m-2 1h0m4 0h0m-9 1h0m6 0h0m-4 1h0m2 0h0m3 0h0m8 0h0m2 0h0m-23 1h0m12 0h0m-23 1h0m6 0h0m3 0h0m3 0h0m2 0h0m5 0h0m4 0h0m2 1h0m1 0h0m-22 1h0m11 0h0m4 0h0m5 0h0m7 0h0m-24 1h0m9 0h0m-8 1h0m9 0h0m1 0h0m2 0h0m0 1h0m1 0h0m2 0h0m2 0h0m2 0h0m-14 2h0m9 0h0m-12 2h0m15 0h0m-12 1h0m4 7h0m3 2h0" stroke="#ace128" stroke-width="1.50" stroke-linecap="round" fill="none"/>
<path transform="translate(.5 .5)" d="M1156 1583h0m0 2h0m5 0h0m-7 2h0m2 0h0m3 1h0m-5 1h0m2 0h0m-1 1h0m-4 1h0m1 0h0m9 0h0m-11 1h0m4 0h0m6 0h0m-13 1h0m5 0h0m-5 1h0m15 0h0m-2 1h0m3 0h0m-9 1h0m11 0h0m-4 1h0m-7 2h0m2 0h0m1 0h0m14 0h0m-28 1h0m9 0h0m5 0h0m5 0h0m-14 1h0m7 0h0m7 0h0m-16 1h0m11 0h0m4 0h0m-18 1h0m5 0h0m5 0h0m2 0h0m9 0h0m-19 1h0m3 0h0m1 0h0m13 0h0m-11 1h0m7 0h0m-1 1h0m5 0h0m14 0h0m-30 1h0m2 0h0m10 0h0m-1 1h0m0 1h0m7 0h0m-2 1h0m-17 1h0m4 0h0m11 0h0m5 0h0m-12 2h0m3 0h0m-6 3h0m6 2h0m7 1h0m-4 1h0m-12 1h0" stroke="#d6e428" stroke-width="1.50" stroke-linecap="round" fill="none"/>
<path transform="translate(.5 .5)" d="M1157 1584h0m3 3h0m-9 1h0m9 0h0m-5 1h0m5 1h0m3 4h0m-19 2h0m14 0h0m5 1h0m-16 1h0m15 0h0m0 1h0m3 0h0m-17 1h0m8 0h0m3 0h0m-23 1h0m14 0h0m-1 1h0m9 0h0m5 0h0m-16 1h0m2 0h0m21 0h0m-21 1h0m9 0h0m-2 1h0m-20 1h0m14 0h0m6 0h0m1 0h0m5 0h0m1 0h0m-3 1h0m1 0h0m10 0h0m-22 1h0m2 3h0m1 1h0m2 0h0m3 0h0m-14 1h0m11 0h0m1 1h0m0 1h0m-1 2h0" stroke="#f3d125" stroke-width="1.50" stroke-linecap="round" fill="none"/>
<path transform="translate(.5 .5)" d="M1157 1583h0m0 2h0m-2 4h0m-2 1h0m0 1h0m9 0h0m-7 1h0m4 0h0m6 0h0m-7 2h0m0 1h0m-8 1h0m11 1h0m1 0h0m2 0h0m2 0h0m1 0h0m-7 1h0m9 0h0m-9 1h0m4 0h0m2 0h0m-22 2h0m6 0h0m5 0h0m5 0h0m-8 1h0m0 1h0m2 0h0m4 1h0m2 0h0m2 0h0m-12 1h0m3 1h0m4 0h0m5 0h0m-7 1h0m0 5h0m-4 1h0m6 5h0m7 1h0" stroke="#fa991e" stroke-width="1.50" stroke-linecap="round" fill="none"/>
<path transform="translate(.5 .5)" d="M1159 1582h0m-1 8h0m-5 1h0m3 0h0m1 1h0m2 1h0m-2 1h0m-2 1h0m0 2h0m1 0h0m6 0h0m-16 1h0m6 0h0m10 0h0m-17 1h0m9 0h0m4 0h0m1 0h0m1 0h0m2 0h0m-17 1h0m2 0h0m1 0h0m5 0h0m2 0h0m6 0h0m-8 1h0m3 0h0m2 0h0m3 0h0m3 0h0m-17 1h0m5 0h0m2 0h0m1 0h0m2 0h0m3 0h0m-17 1h0m5 0h0m7 0h0m1 0h0m-9 1h0m5 0h0m3 0h0m6 0h0m1 0h0m-18 1h0m6 0h0m6 0h0m2 0h0m1 0h0m2 1h0m-3 1h0m6 0h0m-7 1h0m2 0h0m5 0h0m-10 1h0m1 0h0m3 0h0m5 1h0m-7 1h0m10 0h0m-7 1h0m1 0h0m-7 1h0m2 1h0m4 0h0m-2 1h0m1 0h0m-8 1h0m1 2h0" stroke="#ed481e" stroke-width="1.50" stroke-linecap="round" fill="none"/>
<line x1="936.3" y1="1525.7" x2="1194.6" y2="1525.7" stroke="#3b3b3b" stroke-width="1.6"/>
<line x1="936.3" y1="1525.7" x2="936.3" y2="1783" stroke="#3b3b3b" stroke-width="1.6"/>
<line x1="1194.6" y1="1525.1" x2="1194.6" y2="1784" stroke="#222" stroke-width="2.2"/>
<line x1="935.7" y1="1783" x2="1195.6" y2="1783" stroke="#333" stroke-width="2.2"/>
<line x1="1051" y1="1525.7" x2="1051" y2="1783" stroke="#111" stroke-width="2.4"/>
<line x1="936.3" y1="1611.8" x2="1194.6" y2="1611.8" stroke="#111" stroke-width="2.4"/>
<text transform="translate(940.7,1567.1) scale(1.0,1.05)" font-size="31" style="stroke-width:0.75px">0.38</text>
<text transform="translate(1110.7,1567.1) scale(1.0,1.05)" font-size="31" style="stroke-width:0.75px">72.2</text>
<text transform="translate(941.5,1769.7) scale(1.0,1.05)" font-size="31" style="stroke-width:0.75px">1.07</text>
<text transform="translate(1110.7,1769.7) scale(1.0,1.05)" font-size="31" style="stroke-width:0.75px">26.3</text>
<path d="M45.8,1756.6 L45.8,1803 L88.6,1803" stroke="#000" stroke-width="4" fill="none"/>
<path d="M32.8,1757.6 L58.8,1757.6 L45.8,1731.6 Z" stroke="#000" stroke-width="0" fill="#000"/>
<path d="M87.6,1790 L87.6,1816 L113.6,1803 Z" stroke="#000" stroke-width="0" fill="#000"/>
<text transform="translate(30,1810.4) rotate(-90) scale(1.0,1.05)" font-size="35.7">CD45RA</text>
<text transform="translate(55,1839) scale(1.0,1.05)" font-size="35.7">CD62L</text>
<path d="M643.1,1756.6 L643.1,1803 L686,1803" stroke="#000" stroke-width="4" fill="none"/>
<path d="M630.1,1757.6 L656.1,1757.6 L643.1,1731.6 Z" stroke="#000" stroke-width="0" fill="#000"/>
<path d="M685,1790 L685,1816 L711,1803 Z" stroke="#000" stroke-width="0" fill="#000"/>
<text transform="translate(628.5,1810.4) rotate(-90) scale(1.0,1.05)" font-size="35.7">CD45RA</text>
<text transform="translate(652.5,1839) scale(1.0,1.05)" font-size="35.7">CD62L</text>
<text transform="translate(1227,1447.6) scale(1.03,1.05)" font-weight="700" font-size="53">H</text>
<circle cx="1320" cy="1446" r="7" fill="#000"/>
<text transform="translate(1341,1453.8) scale(1.0,1.05)" font-size="35.7">CAR-T</text>
<rect x="1485.5" y="1438.2" width="14" height="14" fill="#000"/>
<text transform="translate(1522,1454.5) scale(1.0,1.05)" font-size="35.7">SATB1-CAR-T</text>
<text transform="translate(1471.5,1506.5) scale(1.0,1.05)" text-anchor="middle" font-size="35.7">CD4</text>
<text transform="translate(1797.5,1505.9) scale(1.0,1.05)" text-anchor="middle" font-size="35.7">CD8</text>
<line x1="1314" y1="1529.2" x2="1314" y2="1789.6" stroke="#000" stroke-width="3.0"/>
<line x1="1306.5" y1="1787.9" x2="1314" y2="1787.9" stroke="#000" stroke-width="3.0"/>
<text transform="translate(1304.6,1800.1) scale(1.0,1.05)" text-anchor="end" font-size="35.7">0</text>
<line x1="1306.5" y1="1736.5" x2="1314" y2="1736.5" stroke="#000" stroke-width="3.0"/>
<text transform="translate(1304.6,1748.7) scale(1.0,1.05)" text-anchor="end" font-size="35.7">20</text>
<line x1="1306.5" y1="1685" x2="1314" y2="1685" stroke="#000" stroke-width="3.0"/>
<text transform="translate(1304.6,1697.2) scale(1.0,1.05)" text-anchor="end" font-size="35.7">40</text>
<line x1="1306.5" y1="1633.6" x2="1314" y2="1633.6" stroke="#000" stroke-width="3.0"/>
<text transform="translate(1304.6,1645.8) scale(1.0,1.05)" text-anchor="end" font-size="35.7">60</text>
<line x1="1306.5" y1="1582.1" x2="1314" y2="1582.1" stroke="#000" stroke-width="3.0"/>
<text transform="translate(1304.6,1594.3) scale(1.0,1.05)" text-anchor="end" font-size="35.7">80</text>
<line x1="1306.5" y1="1530.7" x2="1314" y2="1530.7" stroke="#000" stroke-width="3.0"/>
<text transform="translate(1304.6,1542.9) scale(1.0,1.05)" text-anchor="end" font-size="35.7">100</text>
<line x1="1306.5" y1="1787.9" x2="1593" y2="1787.9" stroke="#000" stroke-width="3.4"/>
<line x1="1353" y1="1787.9" x2="1353" y2="1800" stroke="#000" stroke-width="2.2"/>
<line x1="1419.2" y1="1787.9" x2="1419.2" y2="1800" stroke="#000" stroke-width="2.2"/>
<line x1="1486" y1="1787.9" x2="1486" y2="1800" stroke="#000" stroke-width="2.2"/>
<line x1="1551.6" y1="1787.9" x2="1551.6" y2="1800" stroke="#000" stroke-width="2.2"/>
<path d="M1329,1787.9 L1329,1784.8 L1353,1784.8 L1353,1787.9" stroke="#000" stroke-width="2.2" fill="none" stroke-linejoin="miter"/>
<path d="M1353,1787.9 L1353,1783.8 L1378,1783.8 L1378,1787.9" stroke="#000" stroke-width="2.2" fill="none" stroke-linejoin="miter"/>
<circle cx="1331" cy="1786.9" r="4.6" fill="#000"/>
<circle cx="1336" cy="1784.8" r="4.6" fill="#000"/>
<circle cx="1341" cy="1782.2" r="4.6" fill="#000"/>
<circle cx="1346" cy="1783.8" r="4.6" fill="#000"/>
<circle cx="1351" cy="1785.8" r="4.6" fill="#000"/>
<rect x="1351.5" y="1782.6" width="9" height="9" fill="#000"/>
<rect x="1354.5" y="1773.1" width="9" height="9" fill="#000"/>
<rect x="1359.5" y="1777" width="9" height="9" fill="#000"/>
<rect x="1364.5" y="1778.8" width="9" height="9" fill="#000"/>
<rect x="1369.5" y="1781.9" width="9" height="9" fill="#000"/>
<line x1="1341" y1="1782.8" x2="1341" y2="1786.6" stroke="#222" stroke-width="1.4"/>
<line x1="1335" y1="1782.8" x2="1347" y2="1782.8" stroke="#222" stroke-width="1.4"/>
<line x1="1335" y1="1786.6" x2="1347" y2="1786.6" stroke="#222" stroke-width="1.4"/>
<line x1="1365" y1="1780.7" x2="1365" y2="1786.4" stroke="#222" stroke-width="1.4"/>
<line x1="1359" y1="1780.7" x2="1371" y2="1780.7" stroke="#222" stroke-width="1.4"/>
<line x1="1359" y1="1786.4" x2="1371" y2="1786.4" stroke="#222" stroke-width="1.4"/>
<path d="M1394.9,1787.9 L1394.9,1605.3 L1419.2,1605.3 L1419.2,1787.9" stroke="#000" stroke-width="2.2" fill="none" stroke-linejoin="miter"/>
<path d="M1419.2,1787.9 L1419.2,1629.7 L1446.4,1629.7 L1446.4,1787.9" stroke="#000" stroke-width="2.2" fill="none" stroke-linejoin="miter"/>
<circle cx="1406.2" cy="1573.1" r="4.6" fill="#000"/>
<circle cx="1406.2" cy="1586" r="4.6" fill="#000"/>
<circle cx="1406.2" cy="1610.4" r="4.6" fill="#000"/>
<circle cx="1418" cy="1623.3" r="4.6" fill="#000"/>
<circle cx="1396.8" cy="1629.7" r="4.6" fill="#000"/>
<rect x="1430.1" y="1616.2" width="9" height="9" fill="#000"/>
<rect x="1439.5" y="1616.2" width="9" height="9" fill="#000"/>
<rect x="1428.9" y="1629.1" width="9" height="9" fill="#000"/>
<rect x="1439.5" y="1627.8" width="9" height="9" fill="#000"/>
<rect x="1428.9" y="1643.2" width="9" height="9" fill="#000"/>
<line x1="1406.2" y1="1580.9" x2="1406.2" y2="1629.5" stroke="#222" stroke-width="1.4"/>
<line x1="1400.2" y1="1580.9" x2="1412.2" y2="1580.9" stroke="#222" stroke-width="1.4"/>
<line x1="1400.2" y1="1629.5" x2="1412.2" y2="1629.5" stroke="#222" stroke-width="1.4"/>
<line x1="1433.4" y1="1627.2" x2="1433.4" y2="1642.3" stroke="#222" stroke-width="1.4"/>
<line x1="1427.4" y1="1627.2" x2="1439.4" y2="1627.2" stroke="#222" stroke-width="1.4"/>
<line x1="1427.4" y1="1642.3" x2="1439.4" y2="1642.3" stroke="#222" stroke-width="1.4"/>
<path d="M1461,1787.9 L1461,1724.6 L1486.6,1724.6 L1486.6,1787.9" stroke="#000" stroke-width="2.2" fill="none" stroke-linejoin="miter"/>
<path d="M1486.6,1787.9 L1486.6,1696.6 L1512.6,1696.6 L1512.6,1787.9" stroke="#000" stroke-width="2.2" fill="none" stroke-linejoin="miter"/>
<circle cx="1463" cy="1701.7" r="4.6" fill="#000"/>
<circle cx="1484.2" cy="1708.2" r="4.6" fill="#000"/>
<circle cx="1473.6" cy="1715.9" r="4.6" fill="#000"/>
<circle cx="1473.6" cy="1740.3" r="4.6" fill="#000"/>
<circle cx="1473.6" cy="1753.9" r="4.6" fill="#000"/>
<rect x="1484.5" y="1689.5" width="9" height="9" fill="#000"/>
<rect x="1505.7" y="1685.1" width="9" height="9" fill="#000"/>
<rect x="1488" y="1695.4" width="9" height="9" fill="#000"/>
<rect x="1496.3" y="1697.8" width="9" height="9" fill="#000"/>
<rect x="1505.7" y="1697.8" width="9" height="9" fill="#000"/>
<line x1="1473.6" y1="1701.7" x2="1473.6" y2="1746.7" stroke="#222" stroke-width="1.4"/>
<line x1="1467.6" y1="1701.7" x2="1479.6" y2="1701.7" stroke="#222" stroke-width="1.4"/>
<line x1="1467.6" y1="1746.7" x2="1479.6" y2="1746.7" stroke="#222" stroke-width="1.4"/>
<line x1="1500.8" y1="1692.7" x2="1500.8" y2="1705.6" stroke="#222" stroke-width="1.4"/>
<line x1="1494.8" y1="1692.7" x2="1506.8" y2="1692.7" stroke="#222" stroke-width="1.4"/>
<line x1="1494.8" y1="1705.6" x2="1506.8" y2="1705.6" stroke="#222" stroke-width="1.4"/>
<path d="M1527,1787.9 L1527,1785.3 L1551.6,1785.3 L1551.6,1787.9" stroke="#000" stroke-width="2.2" fill="none" stroke-linejoin="miter"/>
<path d="M1551.6,1787.9 L1551.6,1784.8 L1577,1784.8 L1577,1787.9" stroke="#000" stroke-width="2.2" fill="none" stroke-linejoin="miter"/>
<circle cx="1530" cy="1786.9" r="4.6" fill="#000"/>
<circle cx="1535" cy="1784.3" r="4.6" fill="#000"/>
<circle cx="1540" cy="1780.2" r="4.6" fill="#000"/>
<circle cx="1545" cy="1783.3" r="4.6" fill="#000"/>
<circle cx="1549" cy="1786.4" r="4.6" fill="#000"/>
<rect x="1549.5" y="1782.6" width="9" height="9" fill="#000"/>
<rect x="1554.5" y="1780.1" width="9" height="9" fill="#000"/>
<rect x="1559.5" y="1778.8" width="9" height="9" fill="#000"/>
<rect x="1564.5" y="1778.3" width="9" height="9" fill="#000"/>
<rect x="1569.5" y="1780.8" width="9" height="9" fill="#000"/>
<line x1="1540" y1="1783.3" x2="1540" y2="1787.1" stroke="#222" stroke-width="1.4"/>
<line x1="1534" y1="1783.3" x2="1546" y2="1783.3" stroke="#222" stroke-width="1.4"/>
<line x1="1534" y1="1787.1" x2="1546" y2="1787.1" stroke="#222" stroke-width="1.4"/>
<line x1="1564" y1="1782.8" x2="1564" y2="1786.9" stroke="#222" stroke-width="1.4"/>
<line x1="1558" y1="1782.8" x2="1570" y2="1782.8" stroke="#222" stroke-width="1.4"/>
<line x1="1558" y1="1786.9" x2="1570" y2="1786.9" stroke="#222" stroke-width="1.4"/>
<path d="M1408,1566 L1408,1553 L1438,1553 L1438,1566" stroke="#000" stroke-width="3.6" fill="none"/>
<text transform="translate(1356,1547.2) scale(1.0,1.05)" font-size="35.7">P=0.055</text>
<path d="M1470,1657 L1470,1644 L1500.3,1644 L1500.3,1657" stroke="#000" stroke-width="3.6" fill="none"/>
<text transform="translate(1481,1647.8) scale(1.0,1.05)" font-size="30">*</text>
<text transform="translate(1331,1825) scale(1.0,1.05)" font-size="35.7">T</text>
<text transform="translate(1353,1832) scale(1.0,1.05)" font-size="23.5">RAEM</text>
<text transform="translate(1412.5,1825) scale(1.0,1.05)" font-size="35.7">T</text>
<text transform="translate(1436,1832) scale(1.0,1.05)" font-size="23.5">N</text>
<text transform="translate(1471.2,1825) scale(1.0,1.05)" font-size="35.7">T</text>
<text transform="translate(1494.5,1832) scale(1.0,1.05)" font-size="23.5">CM</text>
<text transform="translate(1539,1825) scale(1.0,1.05)" font-size="35.7">T</text>
<text transform="translate(1561.5,1832) scale(1.0,1.05)" font-size="23.5">EM</text>
<text transform="translate(1249.5,1734) rotate(-90) scale(1.0,1.05)" font-size="35.7">Positive(%)</text>
<line x1="1650.5" y1="1529.1" x2="1650.5" y2="1789.4" stroke="#000" stroke-width="3.0"/>
<line x1="1643.2" y1="1787.7" x2="1650.5" y2="1787.7" stroke="#000" stroke-width="3.0"/>
<text transform="translate(1642.6,1799.9) scale(1.0,1.05)" text-anchor="end" font-size="35.7">0</text>
<line x1="1643.2" y1="1736.3" x2="1650.5" y2="1736.3" stroke="#000" stroke-width="3.0"/>
<text transform="translate(1642.6,1748.5) scale(1.0,1.05)" text-anchor="end" font-size="35.7">20</text>
<line x1="1643.2" y1="1684.9" x2="1650.5" y2="1684.9" stroke="#000" stroke-width="3.0"/>
<text transform="translate(1642.6,1697.1) scale(1.0,1.05)" text-anchor="end" font-size="35.7">40</text>
<line x1="1643.2" y1="1633.4" x2="1650.5" y2="1633.4" stroke="#000" stroke-width="3.0"/>
<text transform="translate(1642.6,1645.6) scale(1.0,1.05)" text-anchor="end" font-size="35.7">60</text>
<line x1="1643.2" y1="1582" x2="1650.5" y2="1582" stroke="#000" stroke-width="3.0"/>
<text transform="translate(1642.6,1594.2) scale(1.0,1.05)" text-anchor="end" font-size="35.7">80</text>
<line x1="1643.2" y1="1530.6" x2="1650.5" y2="1530.6" stroke="#000" stroke-width="3.0"/>
<text transform="translate(1642.6,1548.3) scale(1.0,1.05)" text-anchor="end" font-size="35.7">100</text>
<line x1="1643.6" y1="1787.7" x2="1932.5" y2="1787.7" stroke="#000" stroke-width="3.4"/>
<line x1="1690" y1="1787.7" x2="1690" y2="1799" stroke="#000" stroke-width="2.2"/>
<line x1="1757.2" y1="1787.7" x2="1757.2" y2="1799" stroke="#000" stroke-width="2.2"/>
<line x1="1824.5" y1="1787.7" x2="1824.5" y2="1799" stroke="#000" stroke-width="2.2"/>
<line x1="1890.9" y1="1787.7" x2="1890.9" y2="1799" stroke="#000" stroke-width="2.2"/>
<path d="M1666,1787.7 L1666,1785.1 L1690,1785.1 L1690,1787.7" stroke="#000" stroke-width="2.2" fill="none" stroke-linejoin="miter"/>
<path d="M1690,1787.7 L1690,1783.8 L1715,1783.8 L1715,1787.7" stroke="#000" stroke-width="2.2" fill="none" stroke-linejoin="miter"/>
<circle cx="1667" cy="1786.7" r="4.6" fill="#000"/>
<circle cx="1672" cy="1784.6" r="4.6" fill="#000"/>
<circle cx="1677" cy="1782.6" r="4.6" fill="#000"/>
<circle cx="1682" cy="1784.1" r="4.6" fill="#000"/>
<circle cx="1687" cy="1786.2" r="4.6" fill="#000"/>
<rect x="1687.5" y="1782.4" width="9" height="9" fill="#000"/>
<rect x="1692.5" y="1774.2" width="9" height="9" fill="#000"/>
<rect x="1697.5" y="1777.5" width="9" height="9" fill="#000"/>
<rect x="1702.5" y="1779.1" width="9" height="9" fill="#000"/>
<rect x="1707.5" y="1781.1" width="9" height="9" fill="#000"/>
<line x1="1677" y1="1783.1" x2="1677" y2="1786.7" stroke="#222" stroke-width="1.4"/>
<line x1="1671" y1="1783.1" x2="1683" y2="1783.1" stroke="#222" stroke-width="1.4"/>
<line x1="1671" y1="1786.7" x2="1683" y2="1786.7" stroke="#222" stroke-width="1.4"/>
<line x1="1702" y1="1781" x2="1702" y2="1786.4" stroke="#222" stroke-width="1.4"/>
<line x1="1696" y1="1781" x2="1708" y2="1781" stroke="#222" stroke-width="1.4"/>
<line x1="1696" y1="1786.4" x2="1708" y2="1786.4" stroke="#222" stroke-width="1.4"/>
<path d="M1732.2,1787.7 L1732.2,1574.3 L1757.2,1574.3 L1757.2,1787.7" stroke="#000" stroke-width="2.2" fill="none" stroke-linejoin="miter"/>
<path d="M1757.2,1787.7 L1757.2,1602.6 L1783.5,1602.6 L1783.5,1787.7" stroke="#000" stroke-width="2.2" fill="none" stroke-linejoin="miter"/>
<circle cx="1744.5" cy="1556.3" r="4.6" fill="#000"/>
<circle cx="1733.8" cy="1571.7" r="4.6" fill="#000"/>
<circle cx="1744.5" cy="1575.6" r="4.6" fill="#000"/>
<circle cx="1755" cy="1576.1" r="4.6" fill="#000"/>
<circle cx="1733.8" cy="1583.3" r="4.6" fill="#000"/>
<rect x="1763.8" y="1569.8" width="9" height="9" fill="#000"/>
<rect x="1757.1" y="1599.4" width="9" height="9" fill="#000"/>
<rect x="1768.3" y="1599.4" width="9" height="9" fill="#000"/>
<rect x="1776.1" y="1599.4" width="9" height="9" fill="#000"/>
<rect x="1757.1" y="1604.5" width="9" height="9" fill="#000"/>
<rect x="1768.3" y="1604.5" width="9" height="9" fill="#000"/>
<line x1="1744.5" y1="1563.5" x2="1744.5" y2="1582" stroke="#222" stroke-width="1.4"/>
<line x1="1738.5" y1="1563.5" x2="1750.5" y2="1563.5" stroke="#222" stroke-width="1.4"/>
<line x1="1738.5" y1="1582" x2="1750.5" y2="1582" stroke="#222" stroke-width="1.4"/>
<line x1="1770" y1="1585.9" x2="1770" y2="1611.8" stroke="#222" stroke-width="1.4"/>
<line x1="1764" y1="1585.9" x2="1776" y2="1585.9" stroke="#222" stroke-width="1.4"/>
<line x1="1764" y1="1611.8" x2="1776" y2="1611.8" stroke="#222" stroke-width="1.4"/>
<path d="M1798.4,1787.7 L1798.4,1751.7 L1824,1751.7 L1824,1787.7" stroke="#000" stroke-width="2.2" fill="none" stroke-linejoin="miter"/>
<path d="M1824,1787.7 L1824,1732.2 L1850.3,1732.2 L1850.3,1787.7" stroke="#000" stroke-width="2.2" fill="none" stroke-linejoin="miter"/>
<circle cx="1800.6" cy="1746.6" r="4.6" fill="#000"/>
<circle cx="1821.8" cy="1743.2" r="4.6" fill="#000"/>
<circle cx="1811.8" cy="1755.8" r="4.6" fill="#000"/>
<circle cx="1811.8" cy="1767.1" r="4.6" fill="#000"/>
<circle cx="1818" cy="1749.1" r="4.6" fill="#000"/>
<rect x="1832.9" y="1715.3" width="9" height="9" fill="#000"/>
<rect x="1844.1" y="1714.8" width="9" height="9" fill="#000"/>
<rect x="1832.9" y="1729.7" width="9" height="9" fill="#000"/>
<rect x="1844.1" y="1727.7" width="9" height="9" fill="#000"/>
<rect x="1832.9" y="1744.1" width="9" height="9" fill="#000"/>
<line x1="1811.8" y1="1743.2" x2="1811.8" y2="1761" stroke="#222" stroke-width="1.4"/>
<line x1="1805.8" y1="1743.2" x2="1817.8" y2="1743.2" stroke="#222" stroke-width="1.4"/>
<line x1="1805.8" y1="1761" x2="1817.8" y2="1761" stroke="#222" stroke-width="1.4"/>
<line x1="1837.4" y1="1718.8" x2="1837.4" y2="1743.2" stroke="#222" stroke-width="1.4"/>
<line x1="1831.4" y1="1718.8" x2="1843.4" y2="1718.8" stroke="#222" stroke-width="1.4"/>
<line x1="1831.4" y1="1743.2" x2="1843.4" y2="1743.2" stroke="#222" stroke-width="1.4"/>
<path d="M1866,1787.7 L1866,1785.6 L1890.9,1785.6 L1890.9,1787.7" stroke="#000" stroke-width="2.2" fill="none" stroke-linejoin="miter"/>
<path d="M1890.9,1787.7 L1890.9,1782.6 L1916,1782.6 L1916,1787.7" stroke="#000" stroke-width="2.2" fill="none" stroke-linejoin="miter"/>
<circle cx="1868" cy="1786.9" r="4.6" fill="#000"/>
<circle cx="1873" cy="1785.1" r="4.6" fill="#000"/>
<circle cx="1878" cy="1783.8" r="4.6" fill="#000"/>
<circle cx="1883" cy="1785.4" r="4.6" fill="#000"/>
<circle cx="1888" cy="1786.7" r="4.6" fill="#000"/>
<rect x="1889.7" y="1767.5" width="9" height="9" fill="#000"/>
<rect x="1894.5" y="1778.1" width="9" height="9" fill="#000"/>
<rect x="1899.5" y="1779.3" width="9" height="9" fill="#000"/>
<rect x="1904.5" y="1780.1" width="9" height="9" fill="#000"/>
<rect x="1909.5" y="1781.9" width="9" height="9" fill="#000"/>
<line x1="1878" y1="1784.1" x2="1878" y2="1786.9" stroke="#222" stroke-width="1.4"/>
<line x1="1872" y1="1784.1" x2="1884" y2="1784.1" stroke="#222" stroke-width="1.4"/>
<line x1="1872" y1="1786.9" x2="1884" y2="1786.9" stroke="#222" stroke-width="1.4"/>
<line x1="1899" y1="1775.4" x2="1899" y2="1787.2" stroke="#222" stroke-width="1.4"/>
<line x1="1893" y1="1775.4" x2="1905" y2="1775.4" stroke="#222" stroke-width="1.4"/>
<line x1="1893" y1="1787.2" x2="1905" y2="1787.2" stroke="#222" stroke-width="1.4"/>
<path d="M1739.4,1549 L1739.4,1536 L1769.4,1536 L1769.4,1549" stroke="#000" stroke-width="3.6" fill="none"/>
<text transform="translate(1749.5,1540.8) scale(1.0,1.05)" font-size="30">*</text>
<path d="M1807.3,1689 L1807.3,1675.9 L1837.4,1675.9 L1837.4,1689" stroke="#000" stroke-width="3.6" fill="none"/>
<text transform="translate(1815,1681.7) scale(1.0,1.05)" font-size="30">*</text>
<text transform="translate(1658.5,1828) scale(1.0,1.05)" font-size="35.7">T</text>
<text transform="translate(1681.5,1835) scale(1.0,1.05)" font-size="23.5">RAEM</text>
<text transform="translate(1744.3,1828) scale(1.0,1.05)" font-size="35.7">T</text>
<text transform="translate(1766.5,1835) scale(1.0,1.05)" font-size="23.5">N</text>
<text transform="translate(1802.2,1828) scale(1.0,1.05)" font-size="35.7">T</text>
<text transform="translate(1825,1835) scale(1.0,1.05)" font-size="23.5">CM</text>
<text transform="translate(1870.1,1828) scale(1.0,1.05)" font-size="35.7">T</text>
<text transform="translate(1893.3,1835) scale(1.0,1.05)" font-size="23.5">EM</text>
<text transform="translate(26.5,1960.1) scale(1.03,1.05)" font-weight="700" font-size="53">I</text>
<text transform="translate(327,2017.3) scale(1.0,1.05)" text-anchor="middle" font-size="35.7">CD4</text>
<line x1="170.4" y1="2029" x2="491" y2="2027.5" stroke="#000" stroke-width="2.2"/>
<text transform="translate(197.8,2070.4) scale(1.0,1.05)" text-anchor="middle" font-size="35.7">CAR-T</text>
<text transform="translate(456.2,2070.4) scale(1.0,1.05)" text-anchor="middle" font-size="35.7">SATB1-CAR-T</text>
<text transform="translate(917.6,2017.3) scale(1.0,1.05)" text-anchor="middle" font-size="35.7">CD8</text>
<line x1="757.7" y1="2030" x2="1077.6" y2="2027.5" stroke="#000" stroke-width="2.2"/>
<text transform="translate(786.7,2070.4) scale(1.0,1.05)" text-anchor="middle" font-size="35.7">CAR-T</text>
<text transform="translate(1045.4,2070.4) scale(1.0,1.05)" text-anchor="middle" font-size="35.7">SATB1-CAR-T</text>
<path transform="translate(.5 .5)" d="M181 2114h0m-8 4h0m17 7h0m-43 3h0m22 0h0m-65 3h0m56 1h0m8 3h0m-20 13h0m34 0h0m-21 1h0m31 3h0m-24 1h0m-18 1h0m-12 1h0m9 0h0m-2 1h0m2 0h0m-6 1h0m-8 1h0m28 1h0m10 2h0m-43 1h0m31 0h0m-6 1h0m-49 1h0m41 0h0m6 3h0m-1 1h0m1 0h0m34 0h0m-37 1h0m-8 1h0m20 1h0m4 2h0m2 1h0m-14 1h0m7 1h0m23 0h0m-41 1h0m4 0h0m-57 1h0m64 0h0m-4 1h0m3 0h0m16 0h0m-23 1h0m15 0h0m13 0h0m-11 1h0m11 1h0m9 0h0m-11 2h0m-39 1h0m10 0h0m7 0h0m-2 1h0m-48 1h0m29 0h0m25 0h0m8 0h0m-22 2h0m2 0h0m13 0h0m-37 1h0m23 0h0m4 0h0m15 0h0m-6 1h0m16 0h0m-29 1h0m6 0h0m4 0h0m1 0h0m8 0h0m-18 1h0m23 0h0m-57 1h0m26 0h0m2 0h0m2 0h0m12 1h0m8 0h0m6 0h0m1 0h0m-67 1h0m34 0h0m2 1h0m36 1h0m-45 1h0m31 0h0m2 0h0m-35 2h0m22 0h0m6 0h0m2 0h0m3 0h0m7 0h0m-33 1h0m8 0h0m15 0h0m-11 2h0m-13 2h0m19 0h0m1 0h0m3 0h0m3 0h0m1 0h0m11 0h0m1 0h0m-32 1h0m40 0h0m-22 1h0m1 0h0m-55 1h0m26 0h0m14 0h0m6 0h0m5 0h0m17 0h0m-25 1h0m6 0h0m2 0h0m2 0h0m11 0h0m1 0h0m20 0h0m-45 1h0m1 0h0m12 0h0m3 0h0m-27 1h0m17 0h0m5 0h0m4 0h0m4 0h0m-43 1h0m5 0h0m23 1h0m7 0h0m-3 1h0m0 1h0m-10 1h0m3 0h0m23 0h0m2 0h0m-33 1h0m5 0h0m11 0h0m4 0h0m-22 1h0m13 0h0m14 0h0m-63 1h0m37 0h0m6 0h0m1 0h0m4 0h0m7 0h0m3 0h0m1 0h0m2 0h0m-26 2h0m3 0h0m1 0h0m1 0h0m25 0h0m-23 1h0m15 0h0m-27 1h0m32 0h0m-41 1h0m11 0h0m18 0h0m1 0h0m15 0h0m-35 1h0m3 0h0m6 0h0m2 0h0m14 0h0m-24 1h0m9 0h0m14 0h0m2 0h0m11 0h0m-53 1h0m29 0h0m9 0h0m30 0h0m-57 1h0m13 0h0m1 0h0m2 0h0m7 0h0m6 0h0m7 0h0m-20 1h0m2 0h0m3 0h0m2 0h0m1 0h0m17 0h0m-30 1h0m10 0h0m7 0h0m5 0h0m22 0h0m-42 1h0m5 0h0m8 0h0m17 0h0m-35 1h0m11 0h0m2 0h0m5 0h0m13 0h0m4 0h0m-35 1h0m3 0h0m18 0h0m18 0h0m1 0h0m-42 1h0m16 0h0m2 1h0m6 0h0m8 1h0m2 0h0m1 0h0m-30 1h0m-18 1h0m5 0h0m13 0h0m15 0h0m-22 1h0m8 0h0m24 0h0m2 0h0m-52 1h0m6 0h0m3 0h0m9 0h0m1 0h0m27 0h0m8 0h0m10 0h0m2 0h0m-49 1h0m2 0h0m11 0h0m1 0h0m7 0h0m8 0h0m6 0h0m-40 1h0m31 0h0m5 0h0m-33 1h0m20 0h0m3 0h0m19 0h0m-34 1h0m4 0h0m5 0h0m21 0h0m-36 1h0m1 0h0m10 0h0m3 0h0m2 0h0m-16 1h0m9 0h0m10 0h0m4 0h0m8 0h0m-38 1h0m13 0h0m15 0h0m2 0h0m8 0h0m15 0h0m-67 1h0m39 0h0m4 0h0m10 0h0m4 0h0m-49 2h0m17 0h0m4 0h0m11 0h0m7 0h0m3 0h0m15 0h0m-39 1h0m3 0h0m11 0h0m5 0h0m18 0h0m-48 1h0m10 0h0m6 0h0m9 0h0m1 0h0m2 0h0m1 0h0m4 0h0m4 0h0m11 0h0m-1 1h0m-57 1h0m7 0h0m7 0h0m9 0h0m6 0h0m4 0h0m6 0h0m8 0h0m-29 1h0m20 0h0m-15 1h0m11 0h0m2 0h0m5 0h0m-36 1h0m7 0h0m1 0h0m5 0h0m20 0h0m3 0h0m2 0h0m5 0h0m4 0h0m-29 1h0m3 0h0m1 0h0m8 0h0m6 0h0m3 0h0m12 0h0m-52 1h0m17 0h0m1 0h0m2 0h0m3 0h0m7 0h0m15 0h0m-68 1h0m35 0h0m7 0h0m4 0h0m6 0h0m3 0h0m-32 1h0m8 0h0m6 0h0m11 0h0m4 0h0m2 0h0m1 0h0m8 0h0m-63 1h0m32 0h0m4 0h0m4 0h0m1 0h0m4 0h0m12 0h0m-50 1h0m26 0h0m1 0h0m6 0h0m11 0h0m11 0h0m1 0h0m11 0h0m-42 1h0m11 0h0m7 0h0m6 0h0m8 0h0m2 0h0m-35 1h0m3 0h0m5 0h0m3 0h0m6 0h0m6 0h0m-26 1h0m17 0h0m26 0h0m-49 1h0m19 0h0m1 0h0m4 0h0m7 0h0m3 0h0m8 0h0m-36 1h0m23 0h0m8 0h0m2 0h0m2 0h0m-19 1h0m3 0h0m4 0h0m3 0h0m6 0h0m4 0h0m12 0h0m-49 1h0m1 0h0m8 0h0m5 0h0m11 0h0m1 0h0m20 0h0m1 0h0m-37 1h0m5 0h0m1 0h0m3 0h0m1 0h0m-19 1h0m21 0h0m5 0h0m-36 1h0m22 0h0m12 0h0m5 0h0m4 0h0m19 0h0m-72 1h0m27 0h0m4 0h0m24 0h0m-40 1h0m3 0h0m2 0h0m2 0h0m17 0h0m-13 2h0m4 0h0m2 0h0m3 0h0m1 0h0m-17 1h0m8 0h0m4 0h0m7 0h0m17 0h0m-22 1h0m1 0h0m4 0h0m-16 1h0m10 0h0m4 0h0m3 0h0m10 0h0m-31 1h0m9 0h0m10 0h0m9 0h0m12 1h0m2 0h0m-47 1h0m22 0h0m-21 1h0m16 0h0m3 0h0m11 0h0m-14 1h0m17 0h0m-28 1h0m6 0h0m-2 1h0m45 1h0m-49 1h0m16 0h0m3 0h0m14 0h0m-54 2h0m34 0h0m-11 2h0m12 1h0m15 0h0m-24 1h0m28 1h0m-3 2h0m-21 2h0" stroke="#4040bc" stroke-width="1.50" stroke-linecap="round" fill="none"/>
<path transform="translate(.5 .5)" d="M161 2097h0m16 16h0m2 2h0m-11 7h0m-2 3h0m18 4h0m-35 1h0m2 3h0m-58 1h0m55 1h0m32 0h0m-38 1h0m-9 3h0m30 2h0m-16 2h0m1 0h0m1 0h0m-26 2h0m35 0h0m-5 1h0m13 0h0m-5 1h0m-36 1h0m40 0h0m-1 1h0m5 0h0m10 2h0m-29 1h0m18 0h0m-8 1h0m9 0h0m3 0h0m-24 2h0m23 0h0m-50 2h0m28 0h0m14 0h0m-31 1h0m4 0h0m-9 1h0m24 0h0m20 0h0m12 0h0m-4 1h0m-40 1h0m16 0h0m15 0h0m4 0h0m-41 2h0m-5 1h0m19 0h0m4 0h0m1 0h0m1 0h0m-19 1h0m34 1h0m1 0h0m-29 1h0m1 0h0m12 0h0m-5 1h0m-9 1h0m17 0h0m7 0h0m6 0h0m-38 1h0m8 0h0m6 0h0m8 0h0m1 1h0m11 0h0m-11 1h0m3 0h0m-42 1h0m15 0h0m12 0h0m10 0h0m7 0h0m-32 1h0m17 0h0m4 0h0m1 0h0m-10 1h0m2 0h0m4 0h0m12 0h0m-25 1h0m-51 1h0m51 0h0m12 0h0m5 0h0m10 0h0m-16 1h0m14 0h0m22 0h0m8 1h0m-44 1h0m9 0h0m-18 1h0m-2 1h0m11 0h0m18 0h0m-4 1h0m2 0h0m4 0h0m-22 1h0m3 0h0m4 0h0m27 0h0m-91 1h0m66 0h0m-10 1h0m8 0h0m10 0h0m27 0h0m-34 2h0m8 0h0m-6 1h0m1 0h0m1 0h0m5 0h0m-22 1h0m-56 1h0m42 0h0m8 0h0m16 0h0m9 0h0m-19 1h0m6 0h0m5 0h0m17 0h0m-34 1h0m17 0h0m5 1h0m-8 1h0m2 0h0m1 0h0m16 0h0m-21 1h0m6 0h0m6 0h0m7 0h0m-20 1h0m8 0h0m-22 1h0m1 0h0m4 0h0m42 0h0m-50 1h0m6 0h0m8 0h0m4 0h0m4 0h0m17 0h0m-14 1h0m1 0h0m2 0h0m5 0h0m-29 1h0m7 0h0m8 0h0m35 0h0m-58 1h0m6 0h0m11 0h0m2 0h0m6 0h0m8 0h0m-31 1h0m5 0h0m8 0h0m13 0h0m2 0h0m7 0h0m14 0h0m-34 1h0m14 0h0m3 0h0m2 0h0m3 0h0m-17 1h0m3 0h0m-7 1h0m8 0h0m-2 1h0m1 0h0m17 0h0m25 0h0m-39 1h0m-19 1h0m5 0h0m12 0h0m1 0h0m11 0h0m-42 1h0m20 0h0m20 0h0m10 0h0m-51 1h0m6 0h0m10 0h0m11 0h0m11 0h0m-11 1h0m6 0h0m1 0h0m7 0h0m10 0h0m4 0h0m-76 1h0m26 0h0m3 0h0m5 0h0m14 0h0m3 0h0m12 0h0m5 0h0m1 0h0m10 0h0m-46 1h0m1 0h0m20 0h0m19 0h0m-42 1h0m3 0h0m11 0h0m1 0h0m5 0h0m2 0h0m11 0h0m-33 1h0m3 0h0m6 0h0m2 0h0m3 0h0m1 0h0m3 0h0m24 0h0m-41 1h0m17 0h0m-30 1h0m13 0h0m10 0h0m13 0h0m11 0h0m3 0h0m-52 1h0m19 0h0m1 0h0m13 0h0m4 0h0m11 0h0m-58 1h0m26 0h0m1 0h0m15 0h0m1 0h0m16 0h0m4 0h0m5 0h0m4 0h0m-38 1h0m4 0h0m1 0h0m26 0h0m-33 1h0m3 0h0m1 0h0m6 0h0m3 0h0m8 0h0m-33 1h0m15 0h0m12 0h0m5 0h0m1 0h0m12 0h0m-30 1h0m1 0h0m1 0h0m-29 1h0m32 0h0m3 0h0m1 0h0m7 0h0m-31 1h0m10 0h0m5 0h0m1 0h0m3 0h0m2 0h0m15 0h0m-35 1h0m16 0h0m1 0h0m6 0h0m24 0h0m-45 1h0m17 0h0m5 0h0m6 0h0m7 0h0m-38 1h0m22 0h0m10 0h0m-36 1h0m32 0h0m5 0h0m3 0h0m2 0h0m-10 1h0m3 0h0m6 0h0m-31 1h0m3 0h0m4 0h0m9 0h0m2 0h0m4 0h0m5 0h0m15 0h0m-49 1h0m2 0h0m10 0h0m7 0h0m-20 1h0m3 0h0m20 0h0m5 0h0m1 0h0m5 0h0m-38 1h0m9 0h0m1 0h0m8 0h0m5 0h0m9 0h0m15 0h0m7 0h0m-62 1h0m19 0h0m12 0h0m2 0h0m5 0h0m-15 1h0m2 0h0m8 0h0m15 0h0m3 0h0m1 0h0m1 0h0m9 0h0m-46 1h0m7 0h0m7 0h0m1 0h0m2 0h0m6 0h0m1 0h0m13 0h0m-32 1h0m2 0h0m1 0h0m6 0h0m1 0h0m1 0h0m9 0h0m5 0h0m2 0h0m6 0h0m-34 1h0m5 0h0m-13 1h0m7 0h0m3 0h0m12 0h0m-15 1h0m1 0h0m7 0h0m1 0h0m6 0h0m1 0h0m-36 1h0m11 0h0m5 0h0m2 0h0m9 0h0m10 0h0m8 0h0m19 0h0m-39 1h0m6 0h0m4 0h0m7 0h0m15 0h0m6 0h0m-40 1h0m3 0h0m1 0h0m2 0h0m6 0h0m1 0h0m2 0h0m1 0h0m-20 1h0m6 0h0m4 0h0m3 0h0m4 0h0m-22 1h0m19 0h0m1 0h0m2 0h0m2 0h0m2 0h0m1 0h0m7 0h0m9 0h0m-46 1h0m12 0h0m3 0h0m9 0h0m22 0h0m-57 1h0m17 0h0m31 0h0m4 0h0m1 0h0m-41 1h0m3 0h0m1 0h0m4 0h0m2 0h0m1 0h0m9 0h0m2 0h0m1 0h0m2 0h0m13 0h0m5 0h0m43 0h0m-104 1h0m17 0h0m5 0h0m10 0h0m2 0h0m2 0h0m10 0h0m4 0h0m5 0h0m4 0h0m-20 1h0m4 0h0m11 0h0m12 0h0m-46 1h0m5 0h0m1 0h0m4 0h0m4 0h0m3 0h0m2 0h0m6 0h0m-15 1h0m1 0h0m3 0h0m4 0h0m6 0h0m6 0h0m2 0h0m-37 1h0m10 0h0m10 0h0m16 0h0m3 0h0m-49 1h0m19 0h0m6 0h0m2 0h0m1 0h0m1 0h0m18 0h0m3 0h0m17 0h0m-56 1h0m4 0h0m2 0h0m13 0h0m3 0h0m7 0h0m1 0h0m5 0h0m2 0h0m2 0h0m-31 1h0m8 0h0m3 0h0m15 0h0m1 0h0m-24 1h0m12 0h0m5 0h0m3 0h0m-34 1h0m3 0h0m9 0h0m9 0h0m-22 1h0m6 0h0m14 0h0m2 0h0m5 0h0m4 0h0m12 0h0m5 0h0m1 0h0m-41 1h0m1 0h0m5 0h0m16 0h0m24 0h0m-54 1h0m7 0h0m1 0h0m5 0h0m1 0h0m8 0h0m9 0h0m2 0h0m8 0h0m-42 1h0m8 0h0m4 0h0m4 0h0m20 0h0m-35 1h0m8 0h0m8 0h0m2 0h0m16 0h0m15 0h0m-57 1h0m6 0h0m6 0h0m6 0h0m3 0h0m2 0h0m2 0h0m10 0h0m13 0h0m47 0h0m-87 1h0m6 0h0m1 0h0m3 0h0m6 0h0m5 0h0m1 0h0m7 0h0m3 0h0m-31 1h0m25 0h0m4 0h0m2 0h0m4 0h0m6 0h0m3 0h0m-45 1h0m11 0h0m4 0h0m6 0h0m1 0h0m8 0h0m7 0h0m-36 1h0m11 0h0m5 0h0m9 0h0m34 0h0m-55 1h0m2 0h0m4 0h0m6 0h0m3 0h0m1 0h0m3 0h0m4 0h0m29 0h0m-59 1h0m14 0h0m8 0h0m16 0h0m-49 1h0m20 0h0m1 0h0m3 0h0m4 0h0m11 0h0m-25 1h0m5 0h0m4 0h0m6 0h0m12 0h0m10 0h0m-42 1h0m2 0h0m15 0h0m4 0h0m9 0h0m5 0h0m-38 1h0m10 0h0m10 0h0m3 0h0m1 0h0m18 0h0m-36 1h0m13 0h0m4 0h0m1 0h0m8 0h0m4 0h0m-31 1h0m14 0h0m3 0h0m2 0h0m13 0h0m2 0h0m22 0h0m-37 1h0m11 0h0m8 0h0m-41 1h0m17 0h0m6 0h0m-17 1h0m4 0h0m10 0h0m1 0h0m1 0h0m5 0h0m5 0h0m3 0h0m-36 1h0m8 0h0m6 0h0m1 0h0m6 0h0m1 0h0m6 0h0m19 0h0m-47 1h0m7 0h0m9 0h0m5 0h0m2 0h0m-10 1h0m14 0h0m7 0h0m3 0h0m-21 1h0m17 0h0m1 0h0m15 0h0m7 0h0m-59 1h0m6 0h0m15 0h0m3 0h0m-36 2h0m35 0h0m1 0h0m1 0h0m2 0h0m5 0h0m4 0h0m7 0h0m2 0h0m-32 1h0m1 0h0m9 0h0m8 0h0m9 0h0m-28 1h0m9 0h0m5 0h0m2 0h0m2 0h0m4 0h0m10 0h0m1 0h0m1 0h0m-28 1h0m33 0h0m-39 1h0m9 0h0m7 0h0m1 0h0m15 0h0m-17 1h0m9 0h0m16 0h0m-46 1h0m2 0h0m13 0h0m3 0h0m-10 1h0m1 0h0m9 0h0m3 0h0m-11 1h0m7 0h0m9 0h0m-16 1h0m4 0h0m7 0h0m34 1h0m21 0h0m-58 1h0m12 1h0m-17 1h0m12 1h0m-20 2h0m15 0h0" stroke="#8282de" stroke-width="1.50" stroke-linecap="round" fill="none"/>
<path transform="translate(.5 .5)" d="M144 2177h0m14 1h0m-1 2h0m-5 29h0m-1 7h0m-4 5h0m-6 10h0m9 6h0m5 6h0m-9 1h0m-11 1h0m12 0h0m-6 1h0m-3 1h0m-15 14h0m9 0h0m12 5h0m-27 3h0m5 4h0m20 3h0m-10 1h0m-14 2h0" stroke="#e8e23a" stroke-width="1.50" stroke-linecap="round" fill="none"/>
<path transform="translate(.5 .5)" d="M144 2208h0m-17 13h0m31 10h0m-19 14h0m-8 9h0m1 17h0m-1 8h0" stroke="#e03a2a" stroke-width="1.50" stroke-linecap="round" fill="none"/>
<path transform="translate(.5 .5)" d="M158 2181h0m-20 29h0m-3 6h0m2 4h0m-3 17h0m18 2h0m-3 8h0m-17 1h0m21 0h0m-20 4h0m1 9h0m17 11h0m-23 3h0m0 2h0m3 2h0" stroke="#f0a030" stroke-width="1.50" stroke-linecap="round" fill="none"/>
<path transform="translate(.5 .5)" d="M150 2209h0m-19 3h0m-7 20h0m23 18h0m10 12h0m-31 5h0m3 14h0" stroke="#60d060" stroke-width="1.50" stroke-linecap="round" fill="none"/>
<line x1="67.8" y1="2080.6" x2="320.6" y2="2080.6" stroke="#3b3b3b" stroke-width="1.3"/>
<line x1="67.8" y1="2080.6" x2="67.8" y2="2332.4" stroke="#3b3b3b" stroke-width="1.3"/>
<line x1="320.6" y1="2080" x2="320.6" y2="2333.4" stroke="#222" stroke-width="2.0"/>
<line x1="67.2" y1="2332.4" x2="321.6" y2="2332.4" stroke="#333" stroke-width="2.0"/>
<path d="M189.8,2114.4 L302.7,2111.4 L306.7,2317 L144,2320.7 Z" stroke="#111" stroke-width="2.2" fill="none"/>
<text transform="translate(196.3,2223.6) scale(1.0,1.05)" font-size="32" style="stroke-width:0.7px">12.9</text>
<path transform="translate(.5 .5)" d="M446 2118h0m-3 9h0m-3 11h0m12 4h0m-16 4h0m-1 1h0m-38 6h0m50 0h0m8 2h0m-13 5h0m10 1h0m-16 1h0m18 0h0m27 0h0m-39 1h0m15 0h0m-26 4h0m7 0h0m5 0h0m16 0h0m-26 5h0m20 0h0m-2 3h0m2 1h0m45 0h0m-65 2h0m31 2h0m-13 1h0m-10 6h0m6 0h0m-27 1h0m19 0h0m3 0h0m-15 2h0m20 0h0m-36 1h0m20 1h0m16 0h0m-14 1h0m2 0h0m-5 1h0m-17 1h0m11 0h0m-43 1h0m56 1h0m-8 1h0m-11 1h0m33 0h0m-20 1h0m-14 1h0m8 0h0m9 0h0m-12 1h0m9 1h0m-27 2h0m43 0h0m-30 1h0m12 0h0m19 0h0m-20 1h0m-29 2h0m38 0h0m-5 1h0m-16 3h0m9 0h0m2 0h0m-18 1h0m3 0h0m11 0h0m17 1h0m-28 1h0m18 0h0m8 0h0m4 0h0m-36 1h0m15 0h0m8 0h0m15 0h0m-43 1h0m29 0h0m-25 1h0m6 1h0m6 0h0m9 0h0m4 0h0m13 0h0m-38 1h0m21 0h0m-5 1h0m-8 1h0m16 0h0m-20 1h0m6 0h0m1 0h0m3 0h0m8 0h0m-3 1h0m7 0h0m-20 1h0m1 0h0m12 0h0m9 0h0m16 0h0m-62 1h0m27 0h0m9 0h0m-25 1h0m8 0h0m5 0h0m-15 1h0m5 0h0m8 0h0m25 0h0m-25 1h0m4 0h0m1 0h0m-10 1h0m5 0h0m3 0h0m10 1h0m4 0h0m11 0h0m-37 1h0m11 0h0m7 0h0m2 0h0m-23 1h0m9 0h0m1 0h0m6 0h0m14 0h0m1 0h0m5 0h0m-25 1h0m5 0h0m-7 1h0m6 0h0m18 0h0m9 0h0m-31 1h0m4 0h0m9 0h0m-6 1h0m4 0h0m11 0h0m37 0h0m-58 1h0m-11 1h0m4 0h0m11 0h0m8 0h0m1 0h0m4 0h0m-21 1h0m21 0h0m1 0h0m-22 1h0m8 0h0m5 0h0m2 0h0m2 0h0m-14 1h0m7 0h0m4 0h0m11 0h0m-28 1h0m20 0h0m15 0h0m-17 1h0m-19 1h0m21 0h0m-23 1h0m11 0h0m-24 1h0m39 0h0m-16 1h0m3 0h0m1 0h0m1 0h0m25 0h0m-31 1h0m6 0h0m-14 1h0m2 0h0m21 0h0m-30 1h0m11 0h0m12 0h0m5 0h0m11 0h0m-42 1h0m15 0h0m4 0h0m5 0h0m6 0h0m-5 1h0m1 0h0m14 0h0m21 0h0m-49 1h0m11 0h0m4 0h0m28 0h0m-44 1h0m10 0h0m13 0h0m2 0h0m1 0h0m-34 1h0m13 0h0m2 0h0m5 0h0m2 0h0m1 0h0m36 0h0m-58 1h0m2 0h0m6 0h0m3 0h0m29 0h0m14 0h0m-46 1h0m1 0h0m11 0h0m11 0h0m7 0h0m-28 1h0m6 0h0m7 0h0m6 0h0m13 0h0m-55 1h0m5 0h0m4 0h0m7 0h0m5 0h0m3 0h0m2 0h0m-20 1h0m9 0h0m5 0h0m10 0h0m11 0h0m-8 1h0m-35 1h0m8 0h0m20 0h0m-24 1h0m2 0h0m23 0h0m3 0h0m6 0h0m8 0h0m18 0h0m-50 1h0m11 0h0m5 0h0m8 0h0m1 0h0m8 0h0m-34 1h0m8 0h0m12 0h0m4 0h0m-30 1h0m12 0h0m10 0h0m3 0h0m3 0h0m10 0h0m49 0h0m-82 1h0m1 0h0m1 0h0m12 0h0m1 0h0m14 0h0m-19 1h0m13 0h0m5 0h0m1 0h0m9 0h0m-28 1h0m2 0h0m3 0h0m16 0h0m44 0h0m-80 1h0m24 0h0m-14 1h0m3 0h0m9 0h0m-22 1h0m2 1h0m21 0h0m5 0h0m3 0h0m-28 1h0m4 0h0m6 0h0m1 0h0m6 0h0m1 0h0m8 0h0m23 0h0m-27 1h0m0 1h0m1 0h0m3 0h0m1 0h0m-29 1h0m11 0h0m13 0h0m4 0h0m1 0h0m13 0h0m2 0h0m-21 1h0m17 0h0m-14 1h0m2 0h0m11 0h0m-50 1h0m5 0h0m13 0h0m15 0h0m1 0h0m-8 1h0m33 0h0m-14 1h0m-41 1h0m13 0h0m2 0h0m5 0h0m2 0h0m10 0h0m1 0h0m8 0h0m1 0h0m3 0h0m-33 1h0m5 0h0m4 0h0m4 0h0m8 0h0m4 0h0m-11 1h0m4 0h0m-24 1h0m15 0h0m-7 1h0m7 0h0m8 0h0m-15 1h0m8 1h0m-8 1h0m3 0h0m7 0h0m-28 1h0m25 0h0m15 0h0m7 0h0m-27 1h0m10 0h0m13 0h0m-8 2h0m14 0h0m-17 2h0m-4 3h0m-21 3h0" stroke="#4040bc" stroke-width="1.50" stroke-linecap="round" fill="none"/>
<path transform="translate(.5 .5)" d="M464 2092h0m3 23h0m-29 2h0m20 6h0m0 2h0m-11 8h0m-20 2h0m23 2h0m13 3h0m4 0h0m-16 4h0m-17 1h0m27 6h0m-38 2h0m-42 1h0m34 1h0m23 0h0m31 1h0m2 0h0m-40 1h0m23 1h0m14 2h0m-63 1h0m40 1h0m-8 1h0m62 1h0m-95 3h0m25 1h0m12 2h0m3 0h0m15 0h0m-6 2h0m-25 1h0m10 0h0m14 0h0m16 0h0m-22 1h0m2 0h0m8 0h0m-32 1h0m14 0h0m3 0h0m6 0h0m-50 2h0m34 0h0m-15 3h0m6 0h0m17 0h0m-23 4h0m77 0h0m-64 2h0m1 0h0m3 0h0m-9 1h0m8 0h0m6 0h0m1 0h0m2 0h0m3 0h0m-24 1h0m20 0h0m1 0h0m5 2h0m-25 1h0m11 0h0m-3 1h0m8 0h0m2 0h0m1 0h0m15 0h0m-48 1h0m20 0h0m10 0h0m4 0h0m-33 1h0m2 1h0m14 0h0m8 1h0m4 0h0m-16 1h0m8 0h0m17 0h0m-2 1h0m-24 1h0m10 0h0m19 0h0m-38 1h0m7 0h0m8 1h0m5 0h0m10 0h0m-16 1h0m6 1h0m4 0h0m-24 1h0m3 0h0m2 0h0m10 2h0m10 1h0m9 0h0m-29 1h0m4 0h0m8 0h0m16 0h0m-39 1h0m18 0h0m5 0h0m-5 1h0m4 0h0m9 0h0m12 0h0m-49 1h0m2 0h0m37 0h0m8 0h0m-29 1h0m17 0h0m10 0h0m-37 1h0m17 0h0m-11 1h0m4 0h0m2 0h0m1 0h0m7 0h0m2 0h0m-17 1h0m12 0h0m2 0h0m-27 1h0m17 0h0m7 0h0m10 0h0m-27 1h0m11 0h0m5 0h0m2 0h0m5 0h0m7 0h0m3 0h0m-39 1h0m32 1h0m15 0h0m-36 1h0m5 0h0m15 0h0m-13 1h0m3 0h0m18 0h0m9 0h0m-46 1h0m2 0h0m27 0h0m-32 1h0m14 0h0m5 1h0m2 0h0m1 0h0m2 0h0m-13 1h0m16 0h0m7 0h0m-15 1h0m4 0h0m4 0h0m8 0h0m-26 1h0m5 0h0m2 0h0m10 0h0m7 0h0m11 0h0m-26 1h0m24 0h0m-33 1h0m12 0h0m19 0h0m2 0h0m-31 1h0m10 0h0m4 0h0m18 0h0m-21 1h0m12 0h0m-15 1h0m7 0h0m6 0h0m1 0h0m8 0h0m5 0h0m-38 1h0m23 0h0m1 0h0m5 0h0m-34 1h0m18 0h0m6 0h0m8 0h0m3 0h0m-41 1h0m17 0h0m11 0h0m1 0h0m-10 1h0m7 0h0m9 0h0m-30 1h0m4 0h0m8 0h0m5 0h0m3 0h0m1 0h0m1 0h0m7 0h0m69 0h0m-94 1h0m12 0h0m12 0h0m4 0h0m-33 1h0m6 0h0m2 0h0m10 0h0m20 0h0m-39 1h0m10 0h0m13 0h0m13 0h0m9 0h0m-45 1h0m18 0h0m3 0h0m2 0h0m1 0h0m5 0h0m3 0h0m2 0h0m-35 1h0m7 0h0m1 0h0m2 0h0m4 0h0m4 0h0m4 0h0m4 0h0m13 0h0m12 0h0m-52 1h0m11 0h0m4 0h0m3 0h0m19 0h0m5 0h0m6 0h0m-52 1h0m10 0h0m6 0h0m1 0h0m13 0h0m4 0h0m-29 1h0m2 0h0m5 0h0m7 0h0m13 0h0m31 0h0m-68 1h0m1 0h0m8 0h0m4 0h0m15 0h0m4 0h0m7 0h0m25 0h0m-57 1h0m1 0h0m22 0h0m3 0h0m-37 1h0m11 0h0m4 0h0m3 0h0m2 0h0m18 0h0m1 0h0m1 0h0m1 0h0m-40 1h0m10 0h0m2 0h0m3 0h0m21 0h0m9 0h0m-21 1h0m4 0h0m4 0h0m2 0h0m5 0h0m14 0h0m-47 1h0m6 0h0m5 0h0m20 0h0m8 0h0m9 0h0m-40 1h0m5 0h0m1 0h0m7 0h0m5 0h0m6 0h0m-27 1h0m11 0h0m9 0h0m12 0h0m-28 1h0m17 0h0m1 0h0m-19 1h0m3 0h0m15 0h0m3 0h0m6 0h0m2 0h0m21 0h0m16 0h0m-51 1h0m4 0h0m7 0h0m-23 1h0m2 0h0m5 0h0m4 0h0m5 0h0m4 0h0m6 0h0m-39 1h0m1 0h0m26 0h0m10 0h0m7 0h0m5 0h0m1 0h0m-30 1h0m27 0h0m-46 1h0m8 0h0m8 0h0m2 0h0m4 0h0m1 0h0m4 0h0m2 0h0m-19 1h0m2 0h0m11 0h0m2 0h0m6 0h0m5 0h0m-46 1h0m18 0h0m1 0h0m10 0h0m4 0h0m5 0h0m1 0h0m4 0h0m17 0h0m-43 1h0m4 0h0m6 0h0m1 0h0m1 0h0m6 0h0m2 0h0m3 0h0m-34 1h0m21 0h0m6 0h0m2 0h0m3 0h0m7 0h0m-42 1h0m2 0h0m9 0h0m6 0h0m6 0h0m2 0h0m3 0h0m13 0h0m3 0h0m-52 1h0m12 0h0m8 0h0m11 0h0m3 0h0m14 0h0m-40 1h0m16 0h0m5 0h0m3 0h0m16 0h0m7 0h0m-34 1h0m3 0h0m1 0h0m3 0h0m1 0h0m27 0h0m-40 1h0m11 0h0m3 0h0m4 0h0m20 0h0m-36 1h0m5 0h0m8 0h0m2 0h0m4 0h0m1 0h0m6 0h0m8 0h0m7 0h0m-27 1h0m2 0h0m1 0h0m5 0h0m2 0h0m2 0h0m8 0h0m-31 1h0m4 0h0m5 0h0m5 0h0m6 0h0m1 0h0m3 0h0m15 0h0m-46 1h0m7 0h0m2 0h0m14 0h0m1 0h0m7 0h0m2 0h0m14 0h0m-48 1h0m3 0h0m2 0h0m1 0h0m3 0h0m34 0h0m7 0h0m-41 1h0m8 0h0m1 0h0m9 0h0m4 0h0m-17 1h0m3 0h0m2 0h0m2 0h0m8 0h0m2 0h0m1 0h0m2 0h0m6 0h0m-37 1h0m3 0h0m7 0h0m12 0h0m-13 1h0m1 0h0m5 0h0m5 0h0m1 0h0m7 0h0m4 0h0m74 0h0m-111 1h0m8 0h0m14 0h0m2 0h0m2 0h0m9 0h0m-26 1h0m3 0h0m4 0h0m8 0h0m6 0h0m25 0h0m-53 1h0m6 0h0m1 0h0m17 0h0m25 0h0m-55 1h0m4 0h0m5 0h0m2 0h0m3 0h0m1 0h0m7 0h0m7 0h0m8 0h0m3 0h0m-38 1h0m1 0h0m21 0h0m85 0h0m-107 1h0m11 0h0m1 0h0m6 0h0m1 0h0m1 0h0m1 0h0m1 0h0m16 0h0m1 0h0m2 0h0m-40 1h0m2 0h0m1 0h0m46 0h0m-35 1h0m4 0h0m3 0h0m2 0h0m6 0h0m-27 1h0m2 0h0m10 0h0m1 0h0m1 0h0m2 0h0m5 0h0m2 0h0m9 0h0m2 0h0m-44 1h0m4 0h0m17 0h0m3 0h0m15 0h0m-16 1h0m13 0h0m-29 1h0m1 0h0m16 0h0m-24 1h0m27 0h0m7 0h0m-29 1h0m19 0h0m6 0h0m5 0h0m5 0h0m11 0h0m11 0h0m-57 1h0m1 0h0m4 0h0m3 0h0m19 0h0m5 0h0m-29 1h0m11 0h0m18 0h0m-19 1h0m-21 1h0m36 0h0m13 0h0m-31 1h0m3 0h0m17 0h0m39 0h0m-52 1h0m-3 1h0m1 0h0m11 0h0m2 0h0m35 0h0m-49 1h0m1 0h0m63 1h0m35 2h0m-100 6h0" stroke="#8282de" stroke-width="1.50" stroke-linecap="round" fill="none"/>
<path transform="translate(.5 .5)" d="M430 2194h0m-17 33h0m-18 15h0m26 2h0m-8 3h0m-12 10h0m1 10h0m3 0h0m-3 1h0m6 0h0m-5 5h0m4 2h0m10 1h0m-19 2h0m9 11h0" stroke="#e8e23a" stroke-width="1.50" stroke-linecap="round" fill="none"/>
<path transform="translate(.5 .5)" d="M416 2231h0m17 9h0m-26 24h0m12 10h0m-12 5h0m-8 2h0m12 0h0m-4 8h0" stroke="#e03a2a" stroke-width="1.50" stroke-linecap="round" fill="none"/>
<path transform="translate(.5 .5)" d="M441 2190h0m-33 48h0m-7 1h0m42 1h0m-31 22h0m4 16h0" stroke="#f0a030" stroke-width="1.50" stroke-linecap="round" fill="none"/>
<path transform="translate(.5 .5)" d="M432 2221h0m-9 27h0m-22 18h0m-7 7h0" stroke="#60d060" stroke-width="1.50" stroke-linecap="round" fill="none"/>
<line x1="333.5" y1="2083.2" x2="585.2" y2="2083.2" stroke="#3b3b3b" stroke-width="1.3"/>
<line x1="333.5" y1="2083.2" x2="333.5" y2="2335.3" stroke="#3b3b3b" stroke-width="1.3"/>
<line x1="585.2" y1="2082.6" x2="585.2" y2="2336.3" stroke="#222" stroke-width="2.0"/>
<line x1="332.9" y1="2335.3" x2="586.2" y2="2335.3" stroke="#333" stroke-width="2.0"/>
<path d="M454.4,2116.2 L568,2113.6 L570.9,2318.8 L409.3,2322.5 Z" stroke="#111" stroke-width="2.2" fill="none"/>
<text transform="translate(456.5,2223.6) scale(1.0,1.05)" font-size="32" style="stroke-width:0.7px">30.5</text>
<path transform="translate(.5 .5)" d="M776 2103h0m-12 10h0m-54 2h0m38 0h0m21 2h0m12 0h0m-39 1h0m11 0h0m-16 1h0m31 2h0m-16 1h0m9 0h0m3 0h0m-18 1h0m10 0h0m3 2h0m-10 1h0m11 0h0m5 0h0m-29 1h0m15 0h0m12 0h0m-39 1h0m12 1h0m14 0h0m-40 1h0m34 1h0m6 0h0m-37 1h0m36 0h0m-63 1h0m89 1h0m7 0h0m-31 1h0m33 1h0m-49 1h0m15 1h0m4 0h0m-11 1h0m10 0h0m-12 1h0m6 0h0m10 0h0m6 0h0m41 0h0m-73 1h0m36 0h0m-38 1h0m9 0h0m2 0h0m18 0h0m-10 1h0m5 0h0m7 0h0m-19 1h0m12 0h0m-24 1h0m26 0h0m32 0h0m-82 1h0m16 0h0m4 0h0m12 0h0m8 0h0m-29 2h0m29 0h0m12 0h0m8 0h0m-40 1h0m6 0h0m52 0h0m-40 1h0m10 1h0m-30 1h0m19 0h0m2 0h0m13 0h0m14 0h0m-53 1h0m8 0h0m41 0h0m-49 1h0m5 0h0m42 0h0m1 0h0m-49 2h0m20 0h0m12 1h0m8 1h0m-25 1h0m11 0h0m-20 1h0m40 0h0m17 0h0m-29 1h0m7 0h0m7 0h0m-11 1h0m4 0h0m2 0h0m-23 1h0m14 0h0m-48 1h0m27 0h0m8 0h0m2 0h0m-14 1h0m11 0h0m27 0h0m-20 1h0m21 0h0m-92 1h0m51 0h0m12 0h0m1 0h0m7 0h0m38 0h0m-41 1h0m8 0h0m11 0h0m3 0h0m3 0h0m-41 1h0m18 0h0m3 0h0m2 0h0m-11 1h0m8 0h0m7 0h0m17 0h0m5 0h0m-30 1h0m12 0h0m-28 1h0m4 0h0m30 0h0m-63 1h0m49 0h0m16 0h0m2 0h0m-52 1h0m20 0h0m13 0h0m5 0h0m-6 1h0m-14 1h0m5 0h0m-10 1h0m9 0h0m2 0h0m18 0h0m6 0h0m-21 1h0m-20 1h0m12 0h0m13 0h0m15 0h0m4 0h0m25 0h0m-80 1h0m13 0h0m12 0h0m3 0h0m5 0h0m11 0h0m4 0h0m2 0h0m-39 1h0m7 0h0m2 0h0m11 0h0m16 0h0m1 0h0m-31 1h0m14 0h0m5 0h0m11 0h0m-25 2h0m5 0h0m-3 1h0m21 0h0m-37 1h0m16 0h0m2 0h0m22 0h0m-56 1h0m40 0h0m3 0h0m1 0h0m3 0h0m-17 1h0m1 0h0m3 0h0m4 0h0m3 0h0m2 0h0m7 0h0m2 0h0m-78 1h0m37 0h0m9 0h0m1 0h0m16 0h0m4 0h0m4 0h0m3 0h0m10 0h0m1 0h0m2 0h0m-13 1h0m5 0h0m-50 1h0m3 0h0m19 0h0m17 0h0m4 0h0m7 0h0m13 0h0m-36 1h0m3 0h0m2 0h0m8 0h0m5 0h0m-38 1h0m34 0h0m15 0h0m-54 1h0m13 0h0m3 0h0m7 0h0m11 0h0m18 0h0m-51 1h0m18 0h0m14 0h0m5 0h0m2 0h0m6 0h0m6 0h0m-35 1h0m1 0h0m10 0h0m3 0h0m13 0h0m-53 1h0m28 0h0m9 0h0m2 0h0m3 0h0m20 0h0m8 0h0m-87 1h0m35 0h0m6 0h0m3 0h0m16 0h0m2 0h0m-32 1h0m2 0h0m12 0h0m11 0h0m4 0h0m3 0h0m5 0h0m28 0h0m-56 1h0m5 0h0m25 0h0m-43 1h0m14 0h0m4 0h0m26 0h0m3 0h0m-34 1h0m5 0h0m4 0h0m9 0h0m4 0h0m7 0h0m13 0h0m5 0h0m-60 1h0m18 0h0m9 0h0m1 0h0m5 0h0m4 0h0m9 0h0m2 0h0m-68 1h0m43 0h0m7 0h0m4 0h0m16 0h0m-33 1h0m8 0h0m3 0h0m15 0h0m-14 1h0m1 0h0m10 0h0m1 0h0m2 0h0m3 0h0m15 0h0m-58 1h0m9 0h0m8 0h0m8 0h0m8 0h0m4 0h0m1 0h0m11 0h0m-31 1h0m2 0h0m8 0h0m4 0h0m3 0h0m2 0h0m7 0h0m15 0h0m-42 1h0m11 0h0m3 0h0m22 0h0m-44 1h0m9 0h0m14 0h0m12 0h0m1 0h0m1 0h0m-52 1h0m25 0h0m1 0h0m3 0h0m9 0h0m2 0h0m3 0h0m18 0h0m-51 1h0m11 0h0m7 0h0m3 0h0m-32 1h0m15 0h0m11 0h0m1 0h0m13 0h0m7 0h0m4 0h0m3 0h0m-42 1h0m6 0h0m18 0h0m37 0h0m-44 1h0m1 0h0m6 0h0m10 0h0m12 0h0m-38 1h0m8 0h0m1 0h0m1 0h0m-19 1h0m7 0h0m6 0h0m7 0h0m15 0h0m7 0h0m-22 1h0m8 0h0m2 0h0m11 0h0m4 0h0m9 0h0m-45 1h0m6 0h0m7 0h0m5 0h0m4 0h0m4 0h0m2 0h0m-40 1h0m1 0h0m9 0h0m6 0h0m19 0h0m1 0h0m6 0h0m17 0h0m-69 1h0m14 0h0m3 0h0m3 0h0m9 0h0m2 0h0m9 0h0m7 0h0m9 0h0m-60 1h0m15 0h0m19 0h0m12 0h0m-24 1h0m4 0h0m6 0h0m13 0h0m1 0h0m-38 1h0m8 0h0m2 0h0m16 0h0m13 0h0m3 0h0m1 0h0m-53 1h0m1 0h0m20 0h0m3 0h0m21 0h0m4 0h0m2 0h0m1 0h0m2 0h0m5 0h0m2 0h0m-62 1h0m5 0h0m15 0h0m6 0h0m5 0h0m1 0h0m1 0h0m2 0h0m7 0h0m7 0h0m10 0h0m1 0h0m4 0h0m-66 1h0m13 0h0m4 0h0m5 0h0m3 0h0m13 0h0m5 0h0m2 0h0m13 0h0m-28 1h0m3 0h0m5 0h0m2 0h0m1 0h0m3 0h0m8 0h0m-50 1h0m10 0h0m20 0h0m1 0h0m5 0h0m3 0h0m11 0h0m-54 1h0m19 0h0m15 0h0m3 0h0m7 0h0m8 0h0m-30 1h0m5 0h0m6 0h0m4 0h0m6 0h0m2 0h0m15 0h0m14 0h0m-49 1h0m3 0h0m1 0h0m1 0h0m1 0h0m3 0h0m5 0h0m2 0h0m7 0h0m1 0h0m6 0h0m5 0h0m10 0h0m-54 1h0m2 0h0m5 0h0m6 0h0m2 0h0m7 0h0m18 0h0m11 0h0m-42 1h0m20 0h0m4 0h0m3 0h0m5 0h0m17 0h0m-56 1h0m9 0h0m3 0h0m10 0h0m8 0h0m12 0h0m1 0h0m9 0h0m-49 1h0m6 0h0m2 0h0m6 0h0m1 0h0m2 0h0m3 0h0m3 0h0m3 0h0m1 0h0m7 0h0m10 0h0m15 0h0m-61 1h0m18 0h0m4 0h0m1 0h0m4 0h0m1 0h0m11 0h0m-60 1h0m25 0h0m13 0h0m1 0h0m2 0h0m2 0h0m1 0h0m5 0h0m3 0h0m15 0h0m5 0h0m2 0h0m-51 1h0m11 0h0m6 0h0m1 0h0m3 0h0m7 0h0m-47 1h0m5 0h0m3 0h0m9 0h0m3 0h0m16 0h0m2 0h0m1 0h0m2 0h0m6 0h0m3 0h0m1 0h0m3 0h0m7 0h0m-38 1h0m14 0h0m1 0h0m16 0h0m2 0h0m13 0h0m-54 1h0m2 0h0m2 0h0m20 0h0m3 0h0m16 0h0m8 0h0m-45 1h0m8 0h0m5 0h0m2 0h0m11 0h0m4 0h0m7 0h0m3 0h0m1 0h0m3 0h0m-71 1h0m20 0h0m22 0h0m23 0h0m5 0h0m-49 1h0m4 0h0m1 0h0m16 0h0m2 0h0m-18 1h0m13 0h0m6 0h0m6 0h0m6 0h0m12 0h0m12 0h0m-56 1h0m4 0h0m1 0h0m6 0h0m8 0h0m6 0h0m10 0h0m-27 1h0m5 0h0m1 0h0m4 0h0m1 0h0m29 0h0m6 0h0m-75 1h0m13 0h0m3 0h0m12 0h0m1 0h0m4 0h0m6 0h0m5 0h0m3 0h0m2 0h0m-33 1h0m1 0h0m7 0h0m4 0h0m5 0h0m3 0h0m7 0h0m16 0h0m-67 1h0m28 0h0m3 0h0m1 0h0m16 0h0m9 0h0m19 0h0m-68 1h0m23 0h0m8 0h0m18 0h0m2 0h0m19 0h0m34 0h0m-101 1h0m19 0h0m7 0h0m7 0h0m3 0h0m11 0h0m2 0h0m7 0h0m2 0h0m2 0h0m6 0h0m-86 1h0m45 0h0m3 0h0m4 0h0m3 0h0m-22 1h0m8 0h0m6 0h0m2 0h0m1 0h0m7 0h0m5 0h0m9 0h0m1 0h0m10 0h0m-56 1h0m5 0h0m4 0h0m1 0h0m13 0h0m12 0h0m4 0h0m5 0h0m5 0h0m14 0h0m-62 1h0m8 0h0m6 0h0m8 0h0m6 0h0m2 0h0m1 0h0m21 0h0m26 0h0m-74 1h0m3 0h0m6 0h0m3 0h0m12 0h0m7 0h0m6 0h0m11 0h0m18 0h0m-79 1h0m2 0h0m14 0h0m10 0h0m5 0h0m4 0h0m4 0h0m20 0h0m12 0h0m-59 1h0m9 0h0m6 0h0m16 0h0m-23 1h0m1 0h0m7 0h0m5 0h0m3 0h0m10 0h0m2 0h0m4 0h0m-34 1h0m2 0h0m1 0h0m2 0h0m2 0h0m5 0h0m5 0h0m-8 1h0m3 0h0m4 0h0m6 0h0m1 0h0m3 0h0m4 0h0m4 0h0m5 0h0m3 0h0m-31 1h0m6 0h0m24 0h0m-64 1h0m32 0h0m4 0h0m2 0h0m11 0h0m2 0h0m4 0h0m10 0h0m-54 1h0m1 0h0m4 0h0m8 0h0m5 0h0m3 0h0m7 0h0m-29 1h0m9 0h0m7 0h0m7 0h0m14 0h0m13 0h0m-32 1h0m4 0h0m18 0h0m-71 1h0m19 0h0m8 0h0m21 0h0m1 0h0m3 0h0m1 0h0m1 0h0m5 0h0m1 0h0m7 0h0m7 0h0m5 0h0m-66 1h0m17 0h0m2 0h0m1 0h0m9 0h0m4 0h0m9 0h0m4 0h0m2 0h0m2 0h0m1 0h0m3 0h0m1 0h0m2 0h0m-29 1h0m3 0h0m1 0h0m4 0h0m17 0h0m-32 1h0m16 0h0m2 0h0m3 0h0m12 0h0m28 0h0m-62 1h0m12 0h0m2 0h0m7 0h0m2 0h0m16 0h0m21 0h0m-62 1h0m4 0h0m15 0h0m3 0h0m10 0h0m2 0h0m2 0h0m2 0h0m1 0h0m6 0h0m3 0h0m-73 1h0m33 0h0m15 0h0m6 0h0m35 0h0m-43 1h0m4 0h0m12 0h0m4 0h0m4 0h0m7 0h0m9 0h0m-81 1h0m14 0h0m10 0h0m18 0h0m2 0h0m1 0h0m9 0h0m8 0h0m5 0h0m-34 1h0m6 0h0m1 0h0m7 0h0m11 0h0m-11 1h0m1 0h0m9 0h0m5 0h0m-28 1h0m11 0h0m17 0h0m4 0h0m-34 1h0m2 0h0m7 0h0m1 0h0m10 0h0m3 0h0m4 0h0m8 0h0m9 0h0m-53 1h0m3 0h0m9 0h0m2 0h0m11 0h0m1 0h0m1 0h0m7 0h0m2 0h0m-27 1h0m3 0h0m3 0h0m11 0h0m5 0h0m11 0h0m-47 1h0m24 0h0m8 0h0m19 0h0m16 0h0m-68 1h0m18 0h0m4 0h0m22 0h0m-21 1h0m2 0h0m-12 1h0m7 0h0m11 0h0m1 0h0m2 0h0m1 0h0m-29 1h0m7 0h0m3 0h0m1 0h0m9 0h0m2 0h0m-12 1h0m5 0h0m18 1h0m1 0h0m3 0h0m6 0h0m5 1h0m-25 1h0m14 0h0m3 0h0m15 0h0m-49 1h0m7 0h0m16 0h0m11 1h0m18 0h0m-52 1h0m24 0h0m-10 1h0m7 1h0m-37 2h0" stroke="#4040bc" stroke-width="1.50" stroke-linecap="round" fill="none"/>
<path transform="translate(.5 .5)" d="M728 2087h0m48 3h0m-17 3h0m2 5h0m-3 1h0m11 5h0m17 2h0m-22 4h0m-3 3h0m-15 3h0m22 1h0m-27 1h0m31 0h0m-21 1h0m-8 1h0m6 0h0m36 0h0m-43 1h0m-4 2h0m13 1h0m2 0h0m3 0h0m32 0h0m-95 1h0m49 0h0m18 0h0m-35 2h0m24 0h0m1 0h0m31 0h0m-32 1h0m-45 1h0m49 0h0m6 0h0m5 0h0m15 0h0m-26 1h0m-1 1h0m12 0h0m-19 2h0m-5 1h0m41 0h0m9 0h0m-86 1h0m16 0h0m21 0h0m27 0h0m-28 1h0m-2 1h0m9 0h0m-30 1h0m22 0h0m12 0h0m13 0h0m9 0h0m-47 1h0m24 0h0m4 0h0m-24 1h0m9 0h0m-10 1h0m30 0h0m18 0h0m-50 1h0m28 0h0m-38 1h0m15 0h0m1 0h0m9 0h0m20 0h0m-35 1h0m1 0h0m27 0h0m6 0h0m12 1h0m7 0h0m-51 1h0m28 0h0m-9 1h0m14 1h0m-44 1h0m21 0h0m-8 1h0m28 0h0m13 0h0m16 0h0m-52 1h0m27 0h0m-33 1h0m15 0h0m29 0h0m-58 1h0m19 0h0m11 0h0m44 0h0m-48 1h0m3 0h0m2 0h0m-11 1h0m-23 1h0m20 0h0m13 0h0m5 0h0m-7 1h0m18 0h0m6 0h0m1 0h0m11 0h0m-53 1h0m30 0h0m17 0h0m-23 1h0m7 0h0m-26 1h0m15 0h0m2 0h0m4 0h0m10 0h0m4 0h0m5 0h0m15 0h0m-39 1h0m-21 1h0m7 0h0m1 0h0m12 0h0m13 0h0m-50 1h0m3 0h0m21 0h0m17 0h0m9 0h0m2 0h0m-57 1h0m24 0h0m5 0h0m23 0h0m15 0h0m-51 1h0m2 0h0m12 0h0m23 0h0m-43 1h0m23 0h0m-7 1h0m8 0h0m18 0h0m34 0h0m4 0h0m-79 1h0m8 0h0m7 0h0m16 0h0m2 0h0m9 0h0m3 0h0m-28 1h0m8 0h0m63 0h0m-85 1h0m9 0h0m3 0h0m2 0h0m9 0h0m8 0h0m10 0h0m16 0h0m-37 1h0m5 0h0m1 0h0m9 0h0m32 0h0m-56 1h0m8 0h0m3 0h0m5 0h0m-29 1h0m6 0h0m1 0h0m12 0h0m3 0h0m1 0h0m7 0h0m2 0h0m-31 1h0m18 0h0m-19 1h0m4 0h0m15 0h0m25 0h0m-47 1h0m15 0h0m3 0h0m1 0h0m27 0h0m1 0h0m-75 1h0m25 0h0m34 0h0m3 0h0m10 0h0m6 0h0m-40 1h0m6 0h0m4 0h0m3 0h0m3 0h0m9 0h0m2 0h0m-35 1h0m1 0h0m20 0h0m4 0h0m1 0h0m9 0h0m8 0h0m1 0h0m-19 1h0m9 0h0m29 0h0m-81 1h0m19 0h0m4 0h0m4 0h0m9 0h0m1 0h0m5 0h0m18 0h0m11 0h0m-68 1h0m28 0h0m5 0h0m5 0h0m4 0h0m12 0h0m5 0h0m3 0h0m-39 1h0m17 0h0m9 0h0m21 0h0m28 0h0m-94 1h0m24 0h0m10 0h0m3 0h0m11 0h0m1 0h0m2 0h0m14 0h0m7 0h0m-64 1h0m1 0h0m40 0h0m7 0h0m1 0h0m6 0h0m7 0h0m-49 1h0m6 0h0m12 0h0m18 0h0m1 0h0m31 0h0m-80 1h0m14 0h0m15 0h0m5 0h0m-17 1h0m3 0h0m1 0h0m2 0h0m5 0h0m4 0h0m24 0h0m1 0h0m-63 1h0m43 0h0m6 0h0m3 0h0m-51 1h0m2 0h0m17 0h0m1 0h0m12 0h0m3 0h0m6 0h0m7 0h0m15 0h0m-38 1h0m13 0h0m2 0h0m-6 1h0m1 0h0m4 0h0m3 0h0m-29 1h0m2 0h0m1 0h0m2 0h0m1 0h0m10 0h0m3 0h0m3 0h0m50 0h0m-73 1h0m5 0h0m4 0h0m2 0h0m3 0h0m8 0h0m16 0h0m-51 1h0m11 0h0m7 0h0m10 0h0m2 0h0m3 0h0m2 0h0m4 0h0m10 0h0m-48 1h0m13 0h0m-3 1h0m11 0h0m8 0h0m-28 1h0m13 0h0m14 0h0m11 0h0m3 0h0m1 0h0m14 0h0m-59 1h0m20 0h0m1 0h0m13 0h0m11 0h0m15 0h0m-51 1h0m11 0h0m4 0h0m14 0h0m1 0h0m13 0h0m1 0h0m8 0h0m-65 1h0m14 0h0m5 0h0m5 0h0m2 0h0m18 0h0m3 0h0m1 0h0m1 0h0m6 0h0m-49 1h0m34 0h0m7 0h0m8 0h0m-43 1h0m10 0h0m8 0h0m2 0h0m8 0h0m4 0h0m8 0h0m-31 1h0m6 0h0m5 0h0m9 0h0m-33 1h0m8 0h0m15 0h0m2 0h0m9 0h0m4 0h0m2 0h0m3 0h0m23 0h0m-61 1h0m8 0h0m1 0h0m10 0h0m5 0h0m2 0h0m2 0h0m12 0h0m4 0h0m3 0h0m-63 1h0m3 0h0m5 0h0m7 0h0m6 0h0m6 0h0m1 0h0m16 0h0m1 0h0m6 0h0m13 0h0m-44 1h0m5 0h0m6 0h0m1 0h0m1 0h0m3 0h0m17 0h0m13 0h0m1 0h0m12 0h0m-67 1h0m5 0h0m8 0h0m3 0h0m4 0h0m3 0h0m10 0h0m5 0h0m-34 1h0m4 0h0m6 0h0m3 0h0m4 0h0m5 0h0m5 0h0m3 0h0m2 0h0m2 0h0m9 0h0m-47 1h0m4 0h0m19 0h0m1 0h0m1 0h0m3 0h0m1 0h0m3 0h0m5 0h0m2 0h0m7 0h0m3 0h0m4 0h0m9 0h0m-89 1h0m37 0h0m5 0h0m6 0h0m1 0h0m3 0h0m1 0h0m8 0h0m1 0h0m6 0h0m-46 1h0m7 0h0m1 0h0m11 0h0m6 0h0m1 0h0m4 0h0m9 0h0m5 0h0m2 0h0m2 0h0m-37 1h0m1 0h0m14 0h0m1 0h0m8 0h0m1 0h0m9 0h0m4 0h0m-39 1h0m2 0h0m13 0h0m13 0h0m3 0h0m1 0h0m4 0h0m6 0h0m-51 1h0m10 0h0m2 0h0m7 0h0m7 0h0m3 0h0m5 0h0m1 0h0m3 0h0m-52 1h0m21 0h0m3 0h0m9 0h0m2 0h0m4 0h0m3 0h0m6 0h0m20 0h0m1 0h0m-56 1h0m4 0h0m3 0h0m4 0h0m3 0h0m2 0h0m10 0h0m1 0h0m2 0h0m1 0h0m4 0h0m15 0h0m-49 1h0m8 0h0m2 0h0m8 0h0m16 0h0m1 0h0m6 0h0m5 0h0m-51 1h0m10 0h0m3 0h0m2 0h0m2 0h0m1 0h0m1 0h0m6 0h0m5 0h0m13 0h0m1 0h0m6 0h0m-40 1h0m1 0h0m1 0h0m2 0h0m4 0h0m1 0h0m1 0h0m7 0h0m2 0h0m13 0h0m15 0h0m4 0h0m-58 1h0m19 0h0m4 0h0m1 0h0m7 0h0m3 0h0m16 0h0m-37 1h0m1 0h0m1 0h0m15 0h0m2 0h0m2 0h0m2 0h0m7 0h0m2 0h0m1 0h0m-44 1h0m4 0h0m7 0h0m6 0h0m7 0h0m2 0h0m2 0h0m9 0h0m1 0h0m3 0h0m7 0h0m10 0h0m6 0h0m-90 1h0m31 0h0m6 0h0m3 0h0m13 0h0m1 0h0m3 0h0m1 0h0m2 0h0m-36 1h0m2 0h0m21 0h0m7 0h0m1 0h0m1 0h0m3 0h0m8 0h0m3 0h0m6 0h0m6 0h0m-53 1h0m8 0h0m10 0h0m2 0h0m4 0h0m1 0h0m6 0h0m2 0h0m-26 1h0m7 0h0m1 0h0m1 0h0m1 0h0m9 0h0m6 0h0m1 0h0m3 0h0m8 0h0m-45 1h0m7 0h0m1 0h0m6 0h0m6 0h0m8 0h0m4 0h0m3 0h0m21 0h0m-69 1h0m6 0h0m10 0h0m6 0h0m1 0h0m1 0h0m3 0h0m6 0h0m3 0h0m12 0h0m3 0h0m8 0h0m-39 1h0m3 0h0m1 0h0m4 0h0m3 0h0m3 0h0m4 0h0m4 0h0m1 0h0m13 0h0m6 0h0m8 0h0m-55 1h0m2 0h0m5 0h0m5 0h0m2 0h0m6 0h0m3 0h0m11 0h0m4 0h0m-33 1h0m3 0h0m4 0h0m8 0h0m12 0h0m2 0h0m8 0h0m10 0h0m-57 1h0m2 0h0m3 0h0m1 0h0m3 0h0m3 0h0m2 0h0m2 0h0m1 0h0m4 0h0m19 0h0m4 0h0m1 0h0m3 0h0m37 0h0m-105 1h0m15 0h0m12 0h0m6 0h0m3 0h0m2 0h0m1 0h0m1 0h0m3 0h0m8 0h0m8 0h0m2 0h0m3 0h0m27 0h0m-59 1h0m6 0h0m3 0h0m2 0h0m1 0h0m3 0h0m5 0h0m1 0h0m6 0h0m1 0h0m4 0h0m2 0h0m7 0h0m-54 1h0m2 0h0m10 0h0m2 0h0m3 0h0m1 0h0m4 0h0m2 0h0m4 0h0m3 0h0m7 0h0m4 0h0m8 0h0m5 0h0m6 0h0m-96 1h0m51 0h0m11 0h0m8 0h0m2 0h0m-48 1h0m1 0h0m11 0h0m13 0h0m2 0h0m4 0h0m1 0h0m4 0h0m6 0h0m20 0h0m15 0h0m-65 1h0m1 0h0m6 0h0m5 0h0m2 0h0m5 0h0m1 0h0m3 0h0m6 0h0m4 0h0m6 0h0m3 0h0m7 0h0m-52 1h0m18 0h0m10 0h0m1 0h0m2 0h0m1 0h0m1 0h0m4 0h0m4 0h0m4 0h0m4 0h0m11 0h0m9 0h0m-82 1h0m3 0h0m6 0h0m9 0h0m10 0h0m1 0h0m4 0h0m10 0h0m3 0h0m1 0h0m6 0h0m6 0h0m-58 1h0m1 0h0m11 0h0m2 0h0m2 0h0m10 0h0m2 0h0m2 0h0m1 0h0m4 0h0m6 0h0m1 0h0m3 0h0m-52 1h0m16 0h0m7 0h0m1 0h0m2 0h0m5 0h0m8 0h0m1 0h0m3 0h0m15 0h0m13 0h0m-46 1h0m5 0h0m2 0h0m1 0h0m1 0h0m4 0h0m2 0h0m5 0h0m5 0h0m10 0h0m3 0h0m5 0h0m1 0h0m51 0h0m-106 1h0m8 0h0m29 0h0m4 0h0m1 0h0m3 0h0m8 0h0m3 0h0m33 0h0m-89 1h0m4 0h0m5 0h0m4 0h0m5 0h0m1 0h0m3 0h0m2 0h0m4 0h0m2 0h0m3 0h0m1 0h0m2 0h0m12 0h0m7 0h0m4 0h0m-58 1h0m7 0h0m7 0h0m2 0h0m8 0h0m3 0h0m2 0h0m10 0h0m7 0h0m5 0h0m1 0h0m5 0h0m3 0h0m16 0h0m-74 1h0m1 0h0m7 0h0m2 0h0m4 0h0m2 0h0m2 0h0m1 0h0m3 0h0m6 0h0m5 0h0m7 0h0m1 0h0m7 0h0m4 0h0m-71 1h0m12 0h0m6 0h0m6 0h0m2 0h0m5 0h0m1 0h0m2 0h0m13 0h0m1 0h0m7 0h0m1 0h0m1 0h0m3 0h0m14 0h0m-57 1h0m9 0h0m9 0h0m2 0h0m6 0h0m6 0h0m8 0h0m7 0h0m9 0h0m-47 1h0m14 0h0m7 0h0m7 0h0m1 0h0m1 0h0m3 0h0m6 0h0m6 0h0m12 0h0m-73 1h0m6 0h0m3 0h0m8 0h0m4 0h0m8 0h0m5 0h0m4 0h0m2 0h0m1 0h0m6 0h0m11 0h0m-57 1h0m16 0h0m7 0h0m5 0h0m1 0h0m2 0h0m1 0h0m14 0h0m39 0h0m-73 1h0m7 0h0m3 0h0m2 0h0m4 0h0m3 0h0m5 0h0m3 0h0m4 0h0m8 0h0m4 0h0m17 0h0m-71 1h0m9 0h0m2 0h0m6 0h0m1 0h0m5 0h0m2 0h0m1 0h0m3 0h0m4 0h0m5 0h0m3 0h0m2 0h0m1 0h0m3 0h0m1 0h0m5 0h0m4 0h0m2 0h0m-65 1h0m21 0h0m5 0h0m3 0h0m6 0h0m2 0h0m2 0h0m1 0h0m2 0h0m1 0h0m1 0h0m6 0h0m3 0h0m1 0h0m8 0h0m5 0h0m3 0h0m-57 1h0m6 0h0m2 0h0m3 0h0m6 0h0m5 0h0m1 0h0m9 0h0m3 0h0m5 0h0m1 0h0m2 0h0m1 0h0m2 0h0m13 0h0m13 0h0m-79 1h0m10 0h0m7 0h0m1 0h0m2 0h0m3 0h0m1 0h0m7 0h0m2 0h0m6 0h0m3 0h0m-33 1h0m7 0h0m1 0h0m2 0h0m1 0h0m2 0h0m2 0h0m4 0h0m3 0h0m3 0h0m18 0h0m1 0h0m13 0h0m-83 1h0m21 0h0m7 0h0m5 0h0m4 0h0m2 0h0m3 0h0m1 0h0m2 0h0m1 0h0m4 0h0m21 0h0m11 0h0m-65 1h0m5 0h0m2 0h0m3 0h0m4 0h0m3 0h0m2 0h0m18 0h0m2 0h0m2 0h0m2 0h0m2 0h0m21 0h0m35 0h0m-89 1h0m3 0h0m3 0h0m3 0h0m2 0h0m2 0h0m8 0h0m8 0h0m1 0h0m46 0h0m-74 1h0m20 0h0m6 0h0m3 0h0m1 0h0m2 0h0m22 0h0m-69 1h0m5 0h0m19 0h0m6 0h0m3 0h0m3 0h0m9 0h0m7 0h0m4 0h0m5 0h0m2 0h0m25 0h0m-80 1h0m2 0h0m6 0h0m2 0h0m3 0h0m1 0h0m8 0h0m1 0h0m1 0h0m2 0h0m3 0h0m4 0h0m18 0h0m-55 1h0m21 0h0m2 0h0m4 0h0m2 0h0m5 0h0m6 0h0m3 0h0m1 0h0m9 0h0m-62 1h0m8 0h0m10 0h0m3 0h0m4 0h0m13 0h0m1 0h0m5 0h0m1 0h0m21 0h0m-54 1h0m2 0h0m13 0h0m7 0h0m1 0h0m2 0h0m1 0h0m2 0h0m2 0h0m1 0h0m3 0h0m6 0h0m6 0h0m-43 1h0m18 0h0m3 0h0m1 0h0m5 0h0m1 0h0m6 0h0m6 0h0m13 0h0m-57 1h0m1 0h0m18 0h0m3 0h0m3 0h0m2 0h0m7 0h0m3 0h0m3 0h0m7 0h0m1 0h0m7 0h0m-77 1h0m31 0h0m2 0h0m5 0h0m9 0h0m1 0h0m18 0h0m17 0h0m-73 1h0m4 0h0m4 0h0m1 0h0m13 0h0m2 0h0m10 0h0m2 0h0m15 0h0m-51 1h0m4 0h0m10 0h0m12 0h0m2 0h0m1 0h0m4 0h0m6 0h0m4 0h0m3 0h0m9 0h0m3 0h0m2 0h0m-68 1h0m20 0h0m7 0h0m7 0h0m1 0h0m7 0h0m1 0h0m8 0h0m10 0h0m8 0h0m4 0h0m1 0h0m-63 1h0m8 0h0m10 0h0m2 0h0m1 0h0m6 0h0m1 0h0m7 0h0m7 0h0m7 0h0m-39 1h0m9 0h0m1 0h0m3 0h0m5 0h0m2 0h0m2 0h0m5 0h0m15 0h0m11 0h0m-65 1h0m11 0h0m3 0h0m2 0h0m16 0h0m1 0h0m2 0h0m3 0h0m1 0h0m2 0h0m1 0h0m-38 1h0m9 0h0m7 0h0m5 0h0m3 0h0m6 0h0m22 0h0m1 0h0m8 0h0m-55 1h0m2 0h0m4 0h0m1 0h0m13 0h0m8 0h0m-23 1h0m19 0h0m2 0h0m3 0h0m-27 1h0m1 0h0m7 0h0m19 0h0m2 0h0m8 0h0m4 0h0m5 0h0m-48 1h0m4 0h0m4 0h0m1 0h0m6 0h0m1 0h0m1 0h0m6 0h0m6 0h0m5 0h0m4 0h0m10 0h0m14 0h0m-68 1h0m20 0h0m7 0h0m3 0h0m2 0h0m6 0h0m25 0h0m-44 1h0m4 0h0m2 0h0m3 0h0m1 0h0m1 0h0m7 0h0m1 0h0m3 0h0m2 0h0m4 0h0m3 0h0m6 0h0m8 0h0m-62 1h0m1 0h0m3 0h0m10 0h0m2 0h0m5 0h0m6 0h0m-33 1h0m10 0h0m5 0h0m7 0h0m29 0h0m-42 1h0m15 0h0m5 0h0m1 0h0m2 0h0m2 0h0m5 0h0m-36 1h0m21 0h0m8 0h0m7 0h0m1 0h0m4 0h0m11 0h0m-32 1h0m14 0h0m6 0h0m1 0h0m18 0h0m-59 1h0m18 0h0m22 0h0m9 0h0m43 0h0m-85 1h0m14 0h0m12 0h0m44 0h0m-48 1h0m3 0h0m4 0h0m33 0h0m-69 1h0m6 0h0m10 0h0m6 0h0m1 0h0m1 0h0m18 0h0m-32 1h0m21 0h0m-35 1h0m11 0h0m25 0h0m-26 3h0m82 1h0m-60 2h0m13 0h0m-10 1h0" stroke="#8282de" stroke-width="1.50" stroke-linecap="round" fill="none"/>
<path transform="translate(.5 .5)" d="M759 2183h0m-9 10h0m-8 2h0m-3 1h0m11 0h0m-7 5h0m9 4h0m-23 1h0m6 0h0m1 0h0m3 0h0m7 0h0m-9 7h0m-7 1h0m9 0h0m6 0h0m-13 1h0m-3 5h0m-11 1h0m16 0h0m8 2h0m-26 1h0m2 2h0m-5 2h0m23 0h0m-15 2h0m18 2h0m-19 1h0m-1 1h0m15 1h0m22 0h0m-26 2h0m6 0h0m-7 2h0m4 0h0m1 1h0m10 1h0m-14 1h0m9 0h0m-11 1h0m14 1h0m6 0h0m-24 1h0m19 0h0m-11 4h0m-10 1h0m-1 1h0m11 0h0m4 0h0m1 0h0m1 0h0m-8 4h0m-9 1h0m-11 1h0m7 0h0m31 0h0m-33 2h0m17 0h0m2 1h0m-19 1h0m-2 2h0m9 1h0m11 0h0m-7 2h0m-11 1h0m-8 2h0m5 0h0m16 0h0m-26 2h0m-5 1h0m32 0h0m-3 1h0m4 1h0m2 0h0m-7 1h0m2 0h0m-20 2h0m23 5h0m-2 2h0" stroke="#e8e23a" stroke-width="1.50" stroke-linecap="round" fill="none"/>
<path transform="translate(.5 .5)" d="M734 2176h0m0 10h0m-5 2h0m13 5h0m-3 5h0m-10 1h0m12 0h0m-16 6h0m6 5h0m19 13h0m-17 1h0m-16 2h0m8 0h0m13 0h0m-13 2h0m10 0h0m-5 1h0m4 8h0m2 3h0m12 0h0m-17 2h0m-10 3h0m-5 1h0m9 1h0m-1 1h0m-10 1h0m-19 3h0m16 0h0m11 1h0m14 1h0m-1 1h0m6 1h0m-4 1h0m-23 1h0m30 0h0m-16 2h0m3 0h0m-22 2h0m2 0h0m29 0h0m-10 1h0m6 1h0m-24 1h0m4 3h0m20 1h0m-21 3h0m-2 2h0m10 3h0m17 0h0m-24 15h0" stroke="#e03a2a" stroke-width="1.50" stroke-linecap="round" fill="none"/>
<path transform="translate(.5 .5)" d="M752 2173h0m-20 12h0m15 15h0m-15 13h0m-13 3h0m-2 7h0m24 1h0m-11 5h0m8 1h0m8 6h0m1 1h0m3 0h0m-22 2h0m7 1h0m17 0h0m-8 1h0m-14 4h0m-9 4h0m20 0h0m-20 4h0m-8 1h0m4 0h0m-4 1h0m6 5h0m-6 2h0m7 1h0m4 0h0m-7 4h0m17 1h0m-24 3h0m3 0h0m2 3h0m9 4h0m-11 1h0m-12 3h0" stroke="#f0a030" stroke-width="1.50" stroke-linecap="round" fill="none"/>
<path transform="translate(.5 .5)" d="M740 2182h0m-16 23h0m15 1h0m-3 2h0m-4 5h0m4 2h0m5 3h0m-6 4h0m-12 4h0m-10 4h0m2 0h0m27 5h0m-15 2h0m-17 2h0m38 6h0m-11 1h0m-15 4h0m-2 3h0m13 5h0m-17 1h0m21 1h0m-13 1h0m11 0h0m-12 2h0m3 1h0m5 0h0m0 2h0m-19 4h0m26 3h0m-11 2h0m-38 1h0m23 3h0m21 10h0" stroke="#60d060" stroke-width="1.50" stroke-linecap="round" fill="none"/>
<line x1="656.5" y1="2082.8" x2="907.8" y2="2082.8" stroke="#3b3b3b" stroke-width="1.3"/>
<line x1="656.5" y1="2082.8" x2="656.5" y2="2335.1" stroke="#3b3b3b" stroke-width="1.3"/>
<line x1="907.8" y1="2082.2" x2="907.8" y2="2336.1" stroke="#222" stroke-width="2.0"/>
<line x1="655.9" y1="2335.1" x2="908.8" y2="2335.1" stroke="#333" stroke-width="2.0"/>
<path d="M771.5,2109.2 L869.8,2105.8 L880.6,2322.8 L737.2,2324 Z" stroke="#111" stroke-width="2.2" fill="none"/>
<text transform="translate(783.2,2223.7) scale(1.0,1.05)" font-size="32" style="stroke-width:0.7px">15.0</text>
<path transform="translate(.5 .5)" d="M1050 2116h0m-1 1h0m4 0h0m9 1h0m-35 2h0m14 0h0m-17 2h0m12 3h0m-11 1h0m38 1h0m-10 2h0m9 1h0m-32 8h0m11 0h0m26 0h0m-20 4h0m15 3h0m2 1h0m1 0h0m-27 2h0m13 0h0m4 0h0m10 1h0m-46 1h0m38 0h0m-29 1h0m-15 1h0m5 0h0m37 0h0m3 0h0m-20 1h0m4 3h0m-20 1h0m19 0h0m-10 3h0m-8 1h0m2 0h0m19 1h0m24 2h0m-21 1h0m24 1h0m-17 2h0m-24 1h0m2 1h0m20 0h0m-34 1h0m31 0h0m-14 1h0m-28 1h0m30 1h0m-16 1h0m8 0h0m17 0h0m3 0h0m20 0h0m-42 2h0m2 0h0m10 1h0m-1 1h0m5 0h0m14 0h0m-42 1h0m47 0h0m-56 1h0m13 0h0m10 0h0m-33 1h0m38 0h0m-42 1h0m37 0h0m-26 1h0m21 0h0m12 0h0m2 2h0m2 0h0m-22 1h0m7 0h0m21 0h0m8 0h0m-66 1h0m21 0h0m30 0h0m42 0h0m-74 1h0m19 0h0m21 0h0m3 0h0m-35 1h0m9 0h0m2 0h0m-6 1h0m2 0h0m5 0h0m8 0h0m4 0h0m-37 1h0m25 0h0m24 0h0m-70 1h0m14 0h0m2 0h0m25 0h0m8 0h0m2 0h0m9 0h0m-24 1h0m24 0h0m-15 1h0m7 0h0m11 0h0m-16 1h0m-63 1h0m43 0h0m30 0h0m-14 1h0m7 0h0m-26 1h0m20 0h0m1 0h0m8 0h0m1 0h0m-35 1h0m27 0h0m9 0h0m-30 1h0m12 0h0m19 0h0m-38 1h0m6 0h0m20 0h0m4 1h0m4 0h0m-20 1h0m19 0h0m7 0h0m-41 1h0m8 0h0m5 0h0m11 0h0m-45 1h0m43 0h0m4 0h0m3 0h0m12 0h0m-10 1h0m11 0h0m-19 1h0m2 0h0m2 0h0m3 0h0m13 0h0m-66 1h0m29 0h0m7 0h0m13 0h0m-22 1h0m3 0h0m29 0h0m5 0h0m-26 1h0m1 0h0m7 0h0m3 0h0m-21 1h0m1 0h0m13 1h0m4 0h0m6 0h0m11 0h0m2 0h0m-29 1h0m5 0h0m4 0h0m1 0h0m8 1h0m14 0h0m1 0h0m-40 1h0m9 0h0m3 0h0m12 0h0m6 0h0m-19 1h0m19 0h0m-37 1h0m5 0h0m11 0h0m4 0h0m-30 1h0m13 0h0m4 0h0m2 0h0m2 0h0m3 0h0m3 0h0m8 0h0m2 0h0m1 0h0m-24 1h0m9 0h0m2 0h0m1 0h0m8 0h0m4 0h0m11 0h0m8 0h0m-68 2h0m29 0h0m9 0h0m3 0h0m8 0h0m2 0h0m-18 1h0m12 0h0m18 0h0m-46 1h0m22 0h0m1 0h0m7 0h0m3 0h0m4 0h0m-40 1h0m17 0h0m9 0h0m7 0h0m4 0h0m5 0h0m7 0h0m-45 1h0m25 0h0m2 0h0m11 0h0m7 0h0m-30 1h0m8 0h0m7 0h0m7 0h0m6 0h0m-37 1h0m9 0h0m14 0h0m7 0h0m9 0h0m-59 1h0m3 0h0m19 0h0m12 0h0m8 0h0m5 0h0m7 0h0m-46 1h0m1 0h0m17 0h0m11 0h0m9 0h0m-12 1h0m20 0h0m-64 1h0m13 0h0m18 0h0m4 0h0m12 0h0m3 0h0m-21 1h0m6 0h0m13 0h0m8 0h0m3 0h0m-26 1h0m24 0h0m3 0h0m-31 1h0m7 0h0m3 0h0m2 0h0m4 0h0m2 0h0m12 0h0m5 0h0m-45 1h0m16 0h0m5 0h0m8 0h0m1 0h0m13 0h0m-44 1h0m11 0h0m3 0h0m9 0h0m4 0h0m1 0h0m5 0h0m1 0h0m4 0h0m1 0h0m3 0h0m6 0h0m-53 1h0m6 0h0m10 0h0m4 0h0m5 0h0m3 0h0m7 0h0m3 0h0m-65 1h0m47 0h0m5 0h0m24 0h0m8 0h0m-45 1h0m6 0h0m22 0h0m2 0h0m6 0h0m1 0h0m-27 1h0m5 0h0m5 0h0m4 0h0m7 0h0m-36 1h0m14 0h0m3 0h0m21 0h0m-35 1h0m7 0h0m1 0h0m5 0h0m3 0h0m1 0h0m2 0h0m12 0h0m8 0h0m21 0h0m-72 1h0m8 0h0m3 0h0m10 0h0m11 0h0m3 0h0m3 0h0m1 0h0m8 0h0m1 0h0m-63 1h0m17 0h0m11 0h0m8 0h0m5 0h0m2 0h0m2 0h0m6 0h0m3 0h0m1 0h0m4 0h0m-44 1h0m15 0h0m19 0h0m4 0h0m1 0h0m2 0h0m1 0h0m6 0h0m2 0h0m-25 1h0m1 0h0m22 0h0m7 0h0m-73 1h0m22 0h0m1 0h0m12 0h0m14 0h0m2 0h0m2 0h0m11 0h0m-42 1h0m8 0h0m3 0h0m1 0h0m2 0h0m4 0h0m3 0h0m6 0h0m4 0h0m7 0h0m20 0h0m-55 1h0m5 0h0m4 0h0m6 0h0m6 0h0m5 0h0m11 0h0m3 0h0m15 0h0m-61 1h0m7 0h0m24 0h0m3 0h0m7 0h0m9 0h0m6 0h0m-53 1h0m11 0h0m13 0h0m2 0h0m2 0h0m8 0h0m11 0h0m-34 1h0m5 0h0m9 0h0m9 0h0m10 0h0m8 0h0m-44 1h0m17 0h0m3 0h0m1 0h0m7 0h0m14 0h0m1 0h0m-51 1h0m12 0h0m13 0h0m1 0h0m1 0h0m1 0h0m20 0h0m-49 1h0m5 0h0m2 0h0m2 0h0m10 0h0m3 0h0m8 0h0m3 0h0m6 0h0m9 0h0m8 0h0m-53 1h0m4 0h0m3 0h0m1 0h0m11 0h0m1 0h0m1 0h0m5 0h0m3 0h0m2 0h0m4 0h0m39 0h0m-66 1h0m16 0h0m-11 1h0m2 0h0m2 0h0m4 0h0m8 0h0m10 0h0m1 0h0m2 0h0m-53 1h0m18 0h0m1 0h0m3 0h0m2 0h0m18 0h0m15 0h0m-64 1h0m22 0h0m3 0h0m9 0h0m4 0h0m7 0h0m1 0h0m11 0h0m-71 1h0m27 0h0m2 0h0m10 0h0m1 0h0m6 0h0m3 0h0m5 0h0m1 0h0m6 0h0m4 0h0m2 0h0m7 0h0m-40 1h0m9 0h0m5 0h0m8 0h0m10 0h0m-32 1h0m4 0h0m5 0h0m10 0h0m4 0h0m2 0h0m11 0h0m-40 1h0m8 0h0m10 0h0m3 0h0m1 0h0m5 0h0m1 0h0m13 0h0m4 0h0m-55 1h0m5 0h0m6 0h0m6 0h0m6 0h0m7 0h0m1 0h0m9 0h0m26 0h0m7 0h0m-64 1h0m3 0h0m12 0h0m1 0h0m6 0h0m3 0h0m3 0h0m25 0h0m-58 1h0m14 0h0m2 0h0m4 0h0m2 0h0m2 0h0m1 0h0m4 0h0m-23 1h0m2 0h0m15 0h0m3 0h0m2 0h0m10 0h0m-34 1h0m9 0h0m3 0h0m1 0h0m5 0h0m1 0h0m17 0h0m7 0h0m-46 1h0m5 0h0m4 0h0m13 0h0m5 0h0m2 0h0m6 0h0m4 0h0m4 0h0m10 0h0m-55 1h0m1 0h0m5 0h0m5 0h0m12 0h0m22 0h0m5 0h0m-51 1h0m1 0h0m16 0h0m7 0h0m3 0h0m8 0h0m-29 1h0m7 0h0m2 0h0m16 0h0m7 0h0m6 0h0m-52 1h0m29 0h0m24 0h0m2 0h0m-41 1h0m1 0h0m9 0h0m1 0h0m3 0h0m5 0h0m4 0h0m2 0h0m3 0h0m3 0h0m12 0h0m-55 1h0m6 0h0m3 0h0m20 0h0m4 0h0m2 0h0m1 0h0m2 0h0m2 0h0m3 0h0m2 0h0m1 0h0m14 0h0m-51 1h0m6 0h0m8 0h0m10 0h0m1 0h0m2 0h0m40 0h0m-77 1h0m20 0h0m1 0h0m3 0h0m12 0h0m1 0h0m13 0h0m2 0h0m6 0h0m-34 1h0m3 0h0m2 0h0m3 0h0m2 0h0m1 0h0m19 0h0m-39 1h0m4 0h0m4 0h0m1 0h0m1 0h0m2 0h0m3 0h0m45 0h0m-73 1h0m9 0h0m10 0h0m6 0h0m7 0h0m8 0h0m1 0h0m5 0h0m5 0h0m-49 1h0m8 0h0m19 0h0m5 0h0m7 0h0m18 0h0m-37 1h0m12 0h0m20 0h0m4 0h0m-35 1h0m1 1h0m2 0h0m8 0h0m-35 1h0m8 0h0m10 0h0m5 0h0m6 0h0m1 0h0m3 0h0m-35 1h0m8 0h0m4 0h0m5 0h0m6 0h0m30 0h0m2 0h0m-26 1h0m-10 1h0m12 0h0m6 0h0m20 0h0m-50 1h0m1 0h0m9 0h0m6 0h0m16 0h0m2 0h0m-20 1h0m1 0h0m2 0h0m5 0h0m1 0h0m23 0h0m-36 1h0m4 0h0m1 0h0m6 0h0m6 0h0m13 0h0m-43 1h0m1 0h0m12 0h0m6 0h0m10 0h0m-11 1h0m4 0h0m3 0h0m11 0h0m18 0h0m-59 1h0m16 0h0m9 0h0m1 0h0m5 0h0m16 0h0m8 0h0m-55 1h0m5 0h0m8 0h0m8 0h0m26 0h0m7 0h0m-35 1h0m12 0h0m3 0h0m5 0h0m-27 2h0m-19 1h0m62 0h0m6 0h0m-32 1h0m5 0h0m-5 2h0m-6 2h0m13 0h0" stroke="#4040bc" stroke-width="1.50" stroke-linecap="round" fill="none"/>
<path transform="translate(.5 .5)" d="M1061 2114h0m-28 6h0m46 2h0m-8 7h0m-55 1h0m33 3h0m12 0h0m3 0h0m-7 2h0m-43 2h0m13 1h0m10 0h0m-14 3h0m22 0h0m1 1h0m20 0h0m-31 1h0m21 1h0m13 1h0m-46 2h0m10 0h0m27 1h0m-3 2h0m13 1h0m-34 1h0m1 0h0m6 0h0m17 0h0m-43 1h0m12 0h0m8 0h0m12 0h0m2 0h0m-22 3h0m-9 1h0m21 0h0m25 0h0m-45 2h0m13 0h0m3 0h0m1 0h0m7 0h0m-11 1h0m-48 1h0m10 0h0m42 0h0m10 0h0m9 2h0m3 1h0m-34 1h0m-61 1h0m65 0h0m1 0h0m7 0h0m3 0h0m8 0h0m-31 1h0m25 0h0m-33 1h0m7 0h0m4 0h0m9 0h0m-40 1h0m22 0h0m9 0h0m5 1h0m-7 1h0m31 0h0m-31 1h0m29 0h0m21 0h0m-56 1h0m10 0h0m42 0h0m-48 1h0m1 0h0m10 0h0m18 0h0m-13 1h0m8 0h0m15 0h0m-46 1h0m6 1h0m25 0h0m2 0h0m19 0h0m-44 1h0m4 0h0m23 0h0m1 0h0m23 0h0m-49 1h0m14 0h0m18 0h0m-41 2h0m29 0h0m9 0h0m-39 1h0m1 0h0m13 0h0m8 0h0m2 0h0m-20 1h0m3 0h0m9 0h0m4 0h0m-10 1h0m5 0h0m10 0h0m-30 1h0m18 1h0m16 0h0m-34 1h0m14 0h0m-6 1h0m22 0h0m-13 1h0m13 0h0m3 0h0m-23 1h0m1 0h0m12 0h0m9 0h0m-38 1h0m22 0h0m2 0h0m6 0h0m20 0h0m-17 1h0m17 0h0m-25 1h0m26 0h0m-69 1h0m48 0h0m14 0h0m-24 1h0m22 0h0m13 0h0m-50 1h0m24 0h0m-25 1h0m10 0h0m8 0h0m1 0h0m12 0h0m-41 1h0m14 0h0m2 0h0m3 0h0m23 0h0m2 0h0m-16 1h0m1 0h0m1 0h0m2 0h0m15 0h0m2 0h0m-15 1h0m4 0h0m9 0h0m-13 1h0m-33 1h0m9 0h0m19 0h0m1 0h0m3 0h0m1 0h0m8 0h0m5 0h0m-38 1h0m11 0h0m5 0h0m8 0h0m6 0h0m-39 1h0m14 0h0m9 0h0m7 0h0m-25 1h0m6 0h0m8 0h0m12 0h0m2 0h0m-30 1h0m18 0h0m8 0h0m5 0h0m15 0h0m-26 1h0m4 0h0m5 0h0m18 0h0m-40 1h0m1 0h0m4 0h0m7 0h0m1 0h0m13 0h0m-20 1h0m7 0h0m1 0h0m3 0h0m10 0h0m6 0h0m1 0h0m3 0h0m-34 1h0m4 0h0m1 0h0m14 0h0m4 0h0m1 0h0m-39 1h0m15 0h0m13 0h0m6 0h0m4 0h0m2 0h0m3 0h0m-29 1h0m11 0h0m9 0h0m8 0h0m-73 1h0m31 0h0m16 0h0m13 0h0m12 0h0m-26 1h0m4 0h0m1 0h0m6 0h0m2 0h0m2 0h0m9 0h0m2 0h0m10 0h0m-57 1h0m22 0h0m8 0h0m1 0h0m5 0h0m19 0h0m-48 1h0m7 0h0m3 0h0m3 0h0m7 0h0m6 0h0m1 0h0m23 0h0m2 0h0m-34 1h0m5 0h0m18 0h0m6 0h0m-50 1h0m7 0h0m5 0h0m6 0h0m13 0h0m10 0h0m14 0h0m-39 1h0m15 0h0m5 0h0m3 0h0m3 0h0m-29 1h0m12 0h0m8 0h0m-7 1h0m11 0h0m5 0h0m2 0h0m6 0h0m-44 1h0m5 0h0m13 0h0m10 0h0m4 0h0m1 0h0m2 0h0m3 0h0m1 0h0m2 0h0m-53 1h0m14 0h0m13 0h0m2 0h0m8 0h0m-24 1h0m2 0h0m10 0h0m12 0h0m10 0h0m3 0h0m-40 1h0m14 0h0m8 0h0m2 0h0m5 0h0m2 0h0m5 0h0m3 0h0m9 0h0m1 0h0m-35 1h0m8 0h0m16 0h0m7 0h0m-57 1h0m3 0h0m21 0h0m4 0h0m2 0h0m1 0h0m5 0h0m3 0h0m3 0h0m1 0h0m1 0h0m3 0h0m8 0h0m-41 1h0m10 0h0m4 0h0m3 0h0m1 0h0m7 0h0m3 0h0m8 0h0m-28 1h0m2 0h0m3 0h0m6 0h0m1 0h0m11 0h0m10 0h0m-46 1h0m14 0h0m9 0h0m8 0h0m-28 1h0m9 0h0m9 0h0m1 0h0m5 0h0m10 0h0m2 0h0m4 0h0m-43 1h0m10 0h0m3 0h0m4 0h0m15 0h0m8 0h0m1 0h0m2 0h0m10 0h0m-41 1h0m2 0h0m1 0h0m4 0h0m2 0h0m1 0h0m1 0h0m3 0h0m1 0h0m4 0h0m14 0h0m2 0h0m-52 1h0m28 0h0m12 0h0m2 0h0m-45 1h0m8 0h0m18 0h0m15 0h0m4 0h0m4 0h0m1 0h0m21 0h0m-51 1h0m12 0h0m12 0h0m3 0h0m5 0h0m-44 1h0m1 0h0m2 0h0m2 0h0m4 0h0m5 0h0m9 0h0m1 0h0m1 0h0m1 0h0m10 0h0m1 0h0m4 0h0m1 0h0m2 0h0m-45 1h0m8 0h0m2 0h0m3 0h0m10 0h0m10 0h0m2 0h0m11 0h0m6 0h0m-38 1h0m1 0h0m1 0h0m1 0h0m2 0h0m2 0h0m8 0h0m8 0h0m7 0h0m30 0h0m-61 1h0m4 0h0m6 0h0m4 0h0m2 0h0m1 0h0m2 0h0m2 0h0m1 0h0m-25 1h0m3 0h0m1 0h0m1 0h0m3 0h0m2 0h0m2 0h0m4 0h0m3 0h0m3 0h0m4 0h0m1 0h0m13 0h0m1 0h0m-45 1h0m1 0h0m7 0h0m9 0h0m8 0h0m12 0h0m1 0h0m3 0h0m8 0h0m-58 1h0m18 0h0m1 0h0m1 0h0m1 0h0m2 0h0m6 0h0m1 0h0m6 0h0m5 0h0m-34 1h0m21 0h0m3 0h0m1 0h0m2 0h0m2 0h0m10 0h0m4 0h0m-50 1h0m8 0h0m2 0h0m3 0h0m4 0h0m2 0h0m1 0h0m1 0h0m1 0h0m2 0h0m2 0h0m4 0h0m4 0h0m5 0h0m1 0h0m5 0h0m10 0h0m-45 1h0m4 0h0m9 0h0m3 0h0m4 0h0m3 0h0m6 0h0m-37 1h0m9 0h0m8 0h0m4 0h0m5 0h0m4 0h0m10 0h0m7 0h0m17 0h0m-88 1h0m24 0h0m9 0h0m3 0h0m1 0h0m7 0h0m1 0h0m3 0h0m-32 1h0m8 0h0m9 0h0m2 0h0m1 0h0m4 0h0m1 0h0m4 0h0m7 0h0m1 0h0m9 0h0m6 0h0m11 0h0m-50 1h0m4 0h0m19 0h0m1 0h0m2 0h0m1 0h0m3 0h0m4 0h0m1 0h0m10 0h0m-52 1h0m2 0h0m2 0h0m4 0h0m2 0h0m2 0h0m13 0h0m1 0h0m6 0h0m2 0h0m16 0h0m4 0h0m-55 1h0m10 0h0m1 0h0m1 0h0m3 0h0m1 0h0m4 0h0m1 0h0m9 0h0m9 0h0m-34 1h0m6 0h0m4 0h0m14 0h0m23 0h0m-49 1h0m9 0h0m1 0h0m6 0h0m5 0h0m2 0h0m2 0h0m1 0h0m1 0h0m4 0h0m11 0h0m11 0h0m-67 1h0m22 0h0m3 0h0m5 0h0m5 0h0m8 0h0m18 0h0m1 0h0m-59 1h0m5 0h0m7 0h0m15 0h0m2 0h0m12 0h0m3 0h0m1 0h0m1 0h0m3 0h0m60 0h0m-107 1h0m7 0h0m3 0h0m1 0h0m9 0h0m3 0h0m1 0h0m4 0h0m3 0h0m1 0h0m2 0h0m3 0h0m4 0h0m1 0h0m8 0h0m6 0h0m-43 1h0m13 0h0m2 0h0m19 0h0m9 0h0m-58 1h0m9 0h0m6 0h0m4 0h0m4 0h0m1 0h0m3 0h0m7 0h0m3 0h0m2 0h0m3 0h0m2 0h0m2 0h0m6 0h0m8 0h0m-55 1h0m3 0h0m15 0h0m11 0h0m3 0h0m4 0h0m-44 1h0m17 0h0m1 0h0m5 0h0m1 0h0m1 0h0m4 0h0m4 0h0m3 0h0m4 0h0m2 0h0m2 0h0m7 0h0m1 0h0m7 0h0m7 0h0m-68 1h0m18 0h0m1 0h0m4 0h0m10 0h0m14 0h0m6 0h0m9 0h0m-61 1h0m15 0h0m11 0h0m1 0h0m3 0h0m1 0h0m6 0h0m2 0h0m2 0h0m6 0h0m-28 1h0m4 0h0m2 0h0m1 0h0m4 0h0m6 0h0m3 0h0m1 0h0m3 0h0m3 0h0m1 0h0m3 0h0m4 0h0m5 0h0m2 0h0m1 0h0m51 0h0m-105 1h0m15 0h0m2 0h0m1 0h0m1 0h0m5 0h0m5 0h0m2 0h0m9 0h0m1 0h0m2 0h0m-37 1h0m4 0h0m5 0h0m4 0h0m5 0h0m18 0h0m1 0h0m20 0h0m-70 1h0m13 0h0m2 0h0m2 0h0m4 0h0m1 0h0m2 0h0m5 0h0m5 0h0m2 0h0m6 0h0m2 0h0m3 0h0m8 0h0m56 0h0m-99 1h0m2 0h0m5 0h0m5 0h0m2 0h0m8 0h0m3 0h0m6 0h0m2 0h0m4 0h0m13 0h0m4 0h0m28 0h0m-79 1h0m1 0h0m5 0h0m13 0h0m1 0h0m5 0h0m4 0h0m3 0h0m2 0h0m-55 1h0m13 0h0m7 0h0m6 0h0m1 0h0m3 0h0m12 0h0m5 0h0m1 0h0m1 0h0m1 0h0m1 0h0m2 0h0m4 0h0m-55 1h0m20 0h0m2 0h0m5 0h0m5 0h0m5 0h0m1 0h0m1 0h0m2 0h0m6 0h0m24 0h0m-57 1h0m3 0h0m7 0h0m6 0h0m6 0h0m3 0h0m3 0h0m1 0h0m5 0h0m4 0h0m6 0h0m-57 1h0m15 0h0m12 0h0m2 0h0m1 0h0m1 0h0m3 0h0m5 0h0m3 0h0m3 0h0m1 0h0m3 0h0m1 0h0m7 0h0m-65 1h0m12 0h0m12 0h0m2 0h0m8 0h0m1 0h0m5 0h0m1 0h0m1 0h0m1 0h0m5 0h0m4 0h0m3 0h0m2 0h0m6 0h0m-37 1h0m12 0h0m7 0h0m11 0h0m44 0h0m-73 1h0m5 0h0m9 0h0m2 0h0m3 0h0m3 0h0m1 0h0m8 0h0m1 0h0m-43 1h0m5 0h0m6 0h0m1 0h0m2 0h0m11 0h0m2 0h0m3 0h0m2 0h0m2 0h0m5 0h0m10 0h0m-67 1h0m12 0h0m15 0h0m3 0h0m1 0h0m2 0h0m4 0h0m8 0h0m10 0h0m3 0h0m4 0h0m7 0h0m-53 1h0m5 0h0m1 0h0m6 0h0m3 0h0m1 0h0m3 0h0m10 0h0m3 0h0m4 0h0m2 0h0m13 0h0m4 0h0m-63 1h0m5 0h0m10 0h0m10 0h0m2 0h0m3 0h0m11 0h0m6 0h0m10 0h0m11 0h0m-61 1h0m4 0h0m1 0h0m2 0h0m3 0h0m7 0h0m5 0h0m1 0h0m14 0h0m10 0h0m12 0h0m6 0h0m-66 1h0m3 0h0m7 0h0m2 0h0m8 0h0m4 0h0m3 0h0m1 0h0m1 0h0m4 0h0m1 0h0m3 0h0m1 0h0m3 0h0m1 0h0m7 0h0m-52 1h0m11 0h0m7 0h0m8 0h0m2 0h0m8 0h0m4 0h0m1 0h0m1 0h0m2 0h0m14 0h0m-47 1h0m4 0h0m1 0h0m12 0h0m17 0h0m-64 1h0m24 0h0m5 0h0m4 0h0m3 0h0m4 0h0m7 0h0m8 0h0m10 0h0m6 0h0m7 0h0m47 0h0m-111 1h0m4 0h0m3 0h0m7 0h0m1 0h0m1 0h0m10 0h0m2 0h0m2 0h0m3 0h0m4 0h0m2 0h0m7 0h0m6 0h0m2 0h0m-49 1h0m8 0h0m11 0h0m12 0h0m4 0h0m5 0h0m-31 1h0m5 0h0m2 0h0m2 0h0m1 0h0m3 0h0m3 0h0m3 0h0m1 0h0m-37 1h0m9 0h0m7 0h0m11 0h0m7 0h0m8 0h0m1 0h0m8 0h0m-43 1h0m28 0h0m5 0h0m2 0h0m3 0h0m3 0h0m1 0h0m2 0h0m-41 1h0m12 0h0m2 0h0m7 0h0m1 0h0m3 0h0m-11 1h0m10 0h0m10 0h0m3 0h0m3 0h0m65 0h0m-89 1h0m1 0h0m17 0h0m1 0h0m29 0h0m16 0h0m-96 1h0m7 0h0m18 0h0m12 0h0m5 0h0m5 0h0m2 0h0m1 0h0m14 0h0m-51 1h0m1 0h0m15 0h0m26 0h0m2 0h0m-36 1h0m7 0h0m1 0h0m7 0h0m2 0h0m15 0h0m6 0h0m2 0h0m-23 1h0m13 0h0m66 0h0m-89 1h0m2 0h0m10 0h0m5 0h0m7 0h0m-24 1h0m6 0h0m2 0h0m8 0h0m3 0h0m6 0h0m-10 1h0m2 1h0m18 0h0m-41 1h0m35 0h0m4 0h0m-31 1h0m64 1h0m-72 3h0m36 1h0m40 0h0m-80 2h0" stroke="#8282de" stroke-width="1.50" stroke-linecap="round" fill="none"/>
<path transform="translate(.5 .5)" d="M1029 2189h0m-7 34h0m-4 1h0m-7 10h0m16 0h0m-18 2h0m4 1h0m2 0h0m-8 1h0m16 0h0m-29 1h0m16 0h0m11 1h0m-12 2h0m-11 1h0m20 0h0m5 0h0m-10 1h0m3 4h0m-11 3h0m13 0h0m6 1h0m-17 1h0m-6 1h0m10 0h0m-11 2h0m14 0h0m6 0h0m-29 2h0m7 0h0m1 0h0m-4 2h0m7 0h0m-6 1h0m27 1h0m-8 1h0m-12 2h0m14 1h0m1 0h0m-12 1h0m-3 1h0m14 1h0m-27 1h0m13 0h0m8 0h0m12 0h0m-35 6h0m20 0h0m-5 3h0m-11 1h0m-1 1h0m12 1h0m-4 2h0m4 3h0m-5 3h0" stroke="#e8e23a" stroke-width="1.50" stroke-linecap="round" fill="none"/>
<path transform="translate(.5 .5)" d="M1009 2222h0m19 1h0m-21 8h0m5 0h0m-1 4h0m1 3h0m-12 4h0m13 0h0m-15 4h0m19 0h0m-3 1h0m2 0h0m-20 1h0m25 0h0m-26 1h0m16 0h0m13 0h0m-24 2h0m9 2h0m-22 2h0m5 0h0m33 2h0m6 0h0m-24 1h0m7 0h0m-28 3h0m23 1h0m-10 2h0m-2 1h0m16 1h0m-7 2h0m-33 2h0m17 0h0m27 0h0m3 0h0m-21 5h0m6 1h0m2 3h0m0 1h0m0 8h0m-17 2h0m5 5h0" stroke="#e03a2a" stroke-width="1.50" stroke-linecap="round" fill="none"/>
<path transform="translate(.5 .5)" d="M1009 2236h0m10 4h0m14 1h0m-35 3h0m2 0h0m32 0h0m-25 1h0m-16 6h0m13 3h0m10 3h0m0 11h0m-26 4h0m3 2h0m9 1h0m10 3h0m1 0h0m-17 6h0" stroke="#f0a030" stroke-width="1.50" stroke-linecap="round" fill="none"/>
<path transform="translate(.5 .5)" d="M1046 2178h0m-19 36h0m-11 10h0m-1 8h0m3 7h0m-10 5h0m34 0h0m-30 7h0m-4 2h0m11 0h0m-30 1h0m22 0h0m10 5h0m-16 4h0m-2 3h0m7 0h0m-5 1h0m30 1h0m-25 5h0m11 1h0m-33 7h0m25 0h0m6 0h0m-13 1h0m1 0h0m9 1h0m-24 2h0m5 6h0m0 1h0" stroke="#60d060" stroke-width="1.50" stroke-linecap="round" fill="none"/>
<line x1="922.6" y1="2082.5" x2="1174.7" y2="2082.5" stroke="#3b3b3b" stroke-width="1.3"/>
<line x1="922.6" y1="2082.5" x2="922.6" y2="2335.3" stroke="#3b3b3b" stroke-width="1.3"/>
<line x1="1174.7" y1="2081.9" x2="1174.7" y2="2336.3" stroke="#222" stroke-width="2.0"/>
<line x1="922" y1="2335.3" x2="1175.7" y2="2335.3" stroke="#333" stroke-width="2.0"/>
<path d="M1038,2110 L1137,2106 L1147.2,2323.2 L1004,2324.3 Z" stroke="#111" stroke-width="2.2" fill="none"/>
<text transform="translate(1049.4,2223.6) scale(1.0,1.05)" font-size="32" style="stroke-width:0.7px">44.5</text>
<path d="M55,2307.2 L55,2346.3 L96,2346.3" stroke="#000" stroke-width="4" fill="none"/>
<path d="M42,2308.2 L68,2308.2 L55,2282.2 Z" stroke="#000" stroke-width="0" fill="#000"/>
<path d="M95,2333.3 L95,2359.3 L121,2346.3 Z" stroke="#000" stroke-width="0" fill="#000"/>
<text transform="translate(38.5,2348.9) rotate(-90) scale(1.0,1.05)" font-size="35.7">SSC</text>
<text transform="translate(67,2387.4) scale(1.0,1.05)" font-size="35.7">CCR7</text>
<path d="M643,2307.2 L643,2347 L682.2,2347" stroke="#000" stroke-width="4" fill="none"/>
<path d="M630,2308.2 L656,2308.2 L643,2282.2 Z" stroke="#000" stroke-width="0" fill="#000"/>
<path d="M681.2,2334 L681.2,2360 L707.2,2347 Z" stroke="#000" stroke-width="0" fill="#000"/>
<text transform="translate(625.8,2348.9) rotate(-90) scale(1.0,1.05)" font-size="35.7">SSC</text>
<text transform="translate(654.3,2387.4) scale(1.0,1.05)" font-size="35.7">CCR7</text>
<text transform="translate(1220.5,1960.6) scale(1.03,1.05)" font-weight="700" font-size="53">J</text>
<line x1="1427.5" y1="2029.8" x2="1427.5" y2="2326.2" stroke="#000" stroke-width="3.4"/>
<line x1="1414.3" y1="2324.5" x2="1427.5" y2="2324.5" stroke="#000" stroke-width="2.8"/>
<text transform="translate(1412.9,2336.7) scale(1.0,1.05)" text-anchor="end" font-size="35.7">0</text>
<line x1="1414.3" y1="2251.2" x2="1427.5" y2="2251.2" stroke="#000" stroke-width="2.8"/>
<text transform="translate(1412.9,2263.4) scale(1.0,1.05)" text-anchor="end" font-size="35.7">10</text>
<line x1="1414.3" y1="2177.9" x2="1427.5" y2="2177.9" stroke="#000" stroke-width="2.8"/>
<text transform="translate(1412.9,2190.1) scale(1.0,1.05)" text-anchor="end" font-size="35.7">20</text>
<line x1="1414.3" y1="2104.6" x2="1427.5" y2="2104.6" stroke="#000" stroke-width="2.8"/>
<text transform="translate(1412.9,2116.8) scale(1.0,1.05)" text-anchor="end" font-size="35.7">30</text>
<line x1="1414.3" y1="2031.3" x2="1427.5" y2="2031.3" stroke="#000" stroke-width="2.8"/>
<text transform="translate(1412.9,2043.5) scale(1.0,1.05)" text-anchor="end" font-size="35.7">40</text>
<line x1="1414.3" y1="2324.5" x2="1626" y2="2324.5" stroke="#000" stroke-width="3.4"/>
<line x1="1483.5" y1="2324.5" x2="1483.5" y2="2337" stroke="#000" stroke-width="3.4"/>
<line x1="1568" y1="2324.5" x2="1568" y2="2337" stroke="#000" stroke-width="3.4"/>
<path d="M1456,2324.5 L1456,2213.1 L1510.4,2213.1 L1510.4,2324.5" stroke="#000" stroke-width="3.2" fill="none" stroke-linejoin="miter"/>
<path d="M1542,2324.5 L1542,2158.1 L1595.6,2158.1 L1595.6,2324.5" stroke="#000" stroke-width="3.2" fill="none" stroke-linejoin="miter"/>
<line x1="1483.5" y1="2176.4" x2="1483.5" y2="2249" stroke="#222" stroke-width="1.5"/>
<line x1="1469.5" y1="2176.4" x2="1497.5" y2="2176.4" stroke="#222" stroke-width="1.5"/>
<line x1="1469.5" y1="2249" x2="1497.5" y2="2249" stroke="#222" stroke-width="1.5"/>
<line x1="1568" y1="2117.1" x2="1568" y2="2197.7" stroke="#222" stroke-width="1.5"/>
<line x1="1554" y1="2117.1" x2="1582" y2="2117.1" stroke="#222" stroke-width="1.5"/>
<line x1="1554" y1="2197.7" x2="1582" y2="2197.7" stroke="#222" stroke-width="1.5"/>
<circle cx="1483.5" cy="2158.8" r="4.8" fill="#000"/>
<circle cx="1483.5" cy="2192.6" r="4.8" fill="#000"/>
<circle cx="1465" cy="2229.2" r="4.8" fill="#000"/>
<circle cx="1501.6" cy="2229.2" r="4.8" fill="#000"/>
<circle cx="1483.5" cy="2252.7" r="4.8" fill="#000"/>
<rect x="1564" y="2096.2" width="9.5" height="9.5" fill="#000"/>
<rect x="1564" y="2132.1" width="9.5" height="9.5" fill="#000"/>
<rect x="1564" y="2152.6" width="9.5" height="9.5" fill="#000"/>
<rect x="1545.5" y="2192.2" width="9.5" height="9.5" fill="#000"/>
<rect x="1581.2" y="2191.5" width="9.5" height="9.5" fill="#000"/>
<path d="M1484.3,2040.5 L1484.3,2027 L1566.8,2027 L1566.8,2040.5" stroke="#000" stroke-width="3.6" fill="none"/>
<text transform="translate(1451.3,2019.5) scale(1.0,1.05)" font-size="35.7">P=0.0541</text>
<text transform="translate(1525.3,1965.1) scale(1.0,1.05)" text-anchor="middle" font-size="35.7">CD4</text>
<text transform="translate(1493.3,2355.6) rotate(-38) scale(1.0,1.05)" text-anchor="end" font-size="35.7">CAR-T</text>
<text transform="translate(1586.9,2355.6) rotate(-38) scale(1.0,1.05)" text-anchor="end" font-size="35.7">SATB1-CAR-T</text>
<line x1="1696.6" y1="2027.1" x2="1696.6" y2="2327.1" stroke="#000" stroke-width="3.4"/>
<line x1="1685" y1="2325.4" x2="1696.6" y2="2325.4" stroke="#000" stroke-width="2.8"/>
<text transform="translate(1682.4,2337.6) scale(1.0,1.05)" text-anchor="end" font-size="35.7">0</text>
<line x1="1685" y1="2266" x2="1696.6" y2="2266" stroke="#000" stroke-width="2.8"/>
<text transform="translate(1682.4,2278.2) scale(1.0,1.05)" text-anchor="end" font-size="35.7">10</text>
<line x1="1685" y1="2206.7" x2="1696.6" y2="2206.7" stroke="#000" stroke-width="2.8"/>
<text transform="translate(1682.4,2218.9) scale(1.0,1.05)" text-anchor="end" font-size="35.7">20</text>
<line x1="1685" y1="2147.3" x2="1696.6" y2="2147.3" stroke="#000" stroke-width="2.8"/>
<text transform="translate(1682.4,2159.5) scale(1.0,1.05)" text-anchor="end" font-size="35.7">30</text>
<line x1="1685" y1="2088" x2="1696.6" y2="2088" stroke="#000" stroke-width="2.8"/>
<text transform="translate(1682.4,2100.2) scale(1.0,1.05)" text-anchor="end" font-size="35.7">40</text>
<line x1="1685" y1="2028.6" x2="1696.6" y2="2028.6" stroke="#000" stroke-width="2.8"/>
<text transform="translate(1682.4,2040.8) scale(1.0,1.05)" text-anchor="end" font-size="35.7">50</text>
<line x1="1685" y1="2325.4" x2="1894.7" y2="2325.4" stroke="#000" stroke-width="3.4"/>
<line x1="1753.7" y1="2325.4" x2="1753.7" y2="2337" stroke="#000" stroke-width="3.4"/>
<line x1="1837.5" y1="2325.4" x2="1837.5" y2="2337" stroke="#000" stroke-width="3.4"/>
<path d="M1726.3,2325.4 L1726.3,2197.8 L1779.8,2197.8 L1779.8,2325.4" stroke="#000" stroke-width="3.2" fill="none" stroke-linejoin="miter"/>
<path d="M1810.9,2325.4 L1810.9,2115.9 L1864.5,2115.9 L1864.5,2325.4" stroke="#000" stroke-width="3.2" fill="none" stroke-linejoin="miter"/>
<line x1="1753.7" y1="2162.2" x2="1753.7" y2="2232.2" stroke="#222" stroke-width="1.5"/>
<line x1="1739.7" y1="2162.2" x2="1767.7" y2="2162.2" stroke="#222" stroke-width="1.5"/>
<line x1="1739.7" y1="2232.2" x2="1767.7" y2="2232.2" stroke="#222" stroke-width="1.5"/>
<line x1="1837.5" y1="2067.8" x2="1837.5" y2="2162.8" stroke="#222" stroke-width="1.5"/>
<line x1="1823.5" y1="2067.8" x2="1851.5" y2="2067.8" stroke="#222" stroke-width="1.5"/>
<line x1="1823.5" y1="2162.8" x2="1851.5" y2="2162.8" stroke="#222" stroke-width="1.5"/>
<circle cx="1735" cy="2162.8" r="4.8" fill="#000"/>
<circle cx="1753.7" cy="2161.6" r="4.8" fill="#000"/>
<circle cx="1753.7" cy="2199.6" r="4.8" fill="#000"/>
<circle cx="1753.7" cy="2225.7" r="4.8" fill="#000"/>
<circle cx="1753.7" cy="2237" r="4.8" fill="#000"/>
<rect x="1832.8" y="2056.5" width="9.5" height="9.5" fill="#000"/>
<rect x="1832.8" y="2094.5" width="9.5" height="9.5" fill="#000"/>
<rect x="1832.8" y="2106.4" width="9.5" height="9.5" fill="#000"/>
<rect x="1815" y="2111.1" width="9.5" height="9.5" fill="#000"/>
<rect x="1832.8" y="2187.1" width="9.5" height="9.5" fill="#000"/>
<path d="M1757.3,2041 L1757.3,2026.4 L1841.7,2026.4 L1841.7,2041" stroke="#000" stroke-width="3.6" fill="none"/>
<text transform="translate(1795.3,2030.8) scale(1.0,1.05)" font-size="30">*</text>
<text transform="translate(1799.5,1964.6) scale(1.0,1.05)" text-anchor="middle" font-size="35.7">CD8</text>
<text transform="translate(1771.7,2354) rotate(-38) scale(1.0,1.05)" text-anchor="end" font-size="35.7">CAR-T</text>
<text transform="translate(1865.3,2356.6) rotate(-38) scale(1.0,1.05)" text-anchor="end" font-size="35.7">SATB1-CAR-T</text>
<text transform="translate(1304.6,2342.8) rotate(-90) scale(1.0,1.05)" font-size="35.7" word-spacing="6">Percentage of CCR7</text>
<text transform="translate(1346.6,2320.6) rotate(-90) scale(1.0,1.05)" font-size="35.7" word-spacing="3">positive T cells(%)</text>
</svg>
</body></html>
